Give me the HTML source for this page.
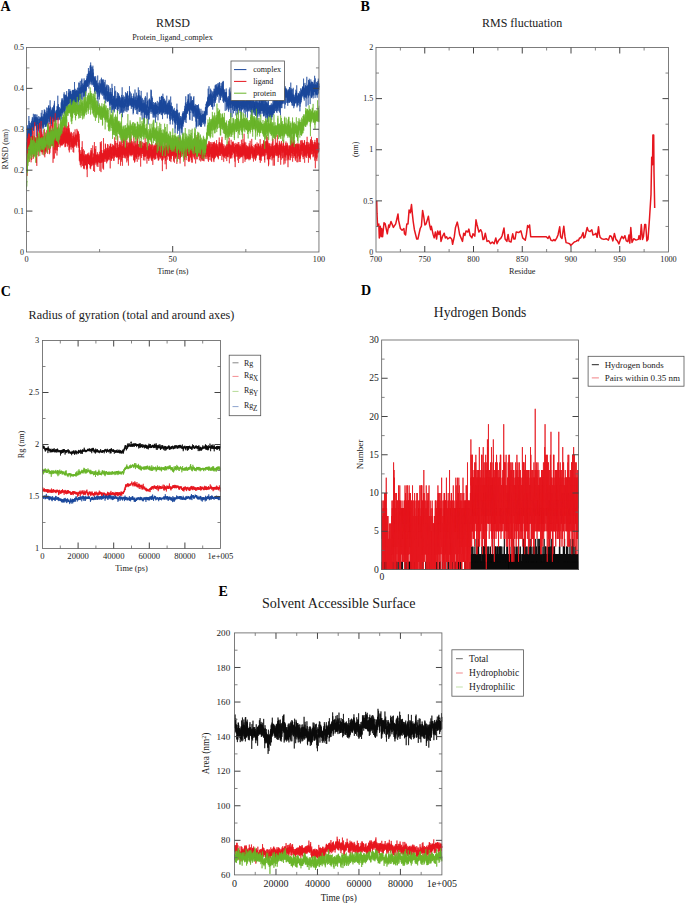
<!DOCTYPE html><html><head><meta charset="utf-8"><style>html,body{margin:0;padding:0;background:#fff;}svg{display:block;}text{font-family:"Liberation Serif",serif;}</style></head><body>
<svg width="685" height="904" viewBox="0 0 685 904">
<rect width="685" height="904" fill="#fff"/>
<path transform="translate(26.450 0) scale(0.04876 0.1)" d="M0 1554l1-28 1-73 1 77 1-2 1-101 1 73 1-80 1 8 1 17 1-9 1 75 1 53 1-150 1-16 1 4 1-24 1 11 1 31 1-68 1 70 1-86 1-83 1 84 1 100 1-28 1-71 1 41 1-4 1-56 1 40 1-84 1 139 1-130 1 8 1-13 1 48 1-37 1 52 1-23 1 18 1-3 1-4 1 58 1-98 1 12 1 11 1 38 1-44 1 32 1-179 1 85 1 66 1 24 1-125 1 154 1-71 1-12 1 20 1-52 1 43 1 7 1 0 1 42 1 8 1 49 1-71 1-31 1 51 1-11 1-2 1-104 1 97 1 19 1-35 1-5 1 23 1 39 1 30 1-92 1-28 1 70 1-42 1-4 1 2 1-9 1-26 1 102 1-73 1 15 1-87 1 50 1 19 1-37 1 112 1-65 1 28 1-98 1 70 1 31 1 11 1-49 1-42 1 111 1-156 1 26 1 44 1 35 1-38 1 21 1-28 1-29 1 0 1-21 1 120 1-100 1 39 1-85 1 10 1 13 1-45 1 69 1 19 1-11 1-17 1-3 1 32 1-31 1 49 1-13 1-92 1 42 1 14 1 19 1-13 1 13 1-19 1 27 1 4 1 26 1-50 1 25 1-125 1 94 1 73 1-53 1 57 1-25 1-18 1 15 1-72 1 22 1 29 1 2 1 6 1-60 1 25 1 21 1-7 1-38 1 50 1-10 1-35 1-18 1-15 1 31 1-44 1-20 1 43 1 66 1-29 1-7 1 16 1-65 1 89 1-121 1 103 1-12 1 0 1-36 1 43 1-60 1 31 1 8 1 10 1-7 1-38 1 75 1-88 1 41 1 34 1-50 1 24 1-72 1 87 1-32 1 27 1-12 1-10 1 2 1-20 1 44 1-9 1 50 1-73 1 164 1-113 1-37 1 85 1-129 1 74 1-27 1 15 1-3 1-42 1 53 1-94 1 66 1 29 1-18 1-45 1 9 1 28 1-1 1 20 1-30 1 22 1-16 1-12 1 17 1 22 1-63 1 61 1-21 1 34 1 17 1 21 1-96 1 131 1-98 1 90 1-74 1-10 1 33 1-4 1-2 1 11 1 20 1-50 1 61 1-36 1-34 1 46 1-114 1 55 1 32 1 21 1-6 1-8 1-18 1-40 1 5 1-5 1 8 1-16 1 20 1-18 1 34 1 29 1-44 1 55 1-22 1 37 1 7 1-70 1-46 1 59 1 26 1 19 1-58 1-29 1 6 1 2 1 46 1 46 1-100 1 37 1 66 1-101 1 55 1 37 1-25 1-50 1 23 1-49 1 83 1-94 1 87 1-32 1-26 1-2 1-10 1 70 1-128 1 33 1 76 1 12 1-40 1 10 1-5 1-3 1-45 1 11 1 179 1-67 1-123 1 46 1 28 1-20 1-20 1-99 1 114 1-5 1-44 1-2 1 33 1-1 1 6 1-16 1 64 1-33 1 36 1-65 1 13 1 14 1 54 1-82 1 10 1 72 1 11 1-73 1-36 1 118 1-98 1 24 1 23 1-61 1 69 1 14 1-80 1 53 1-19 1 32 1-57 1-51 1 74 1 8 1-55 1 19 1 88 1-70 1-6 1-51 1 12 1 36 1-59 1-39 1 141 1-86 1-35 1 132 1-55 1-51 1-18 1 71 1 19 1-114 1 126 1-108 1 59 1 17 1-21 1-19 1 88 1-59 1 16 1 22 1-2 1-29 1 18 1 59 1-95 1-10 1-7 1 6 1 75 1-93 1 127 1-145 1 85 1 40 1 17 1-74 1 62 1-46 1 18 1-33 1-29 1 17 1 16 1-6 1-61 1 104 1-35 1 8 1-14 1 50 1-4 1-33 1-132 1 124 1 3 1-45 1-12 1-35 1 71 1-98 1 113 1 20 1 41 1-10 1-51 1 1 1-8 1-51 1 35 1 45 1-72 1 59 1 21 1-80 1 57 1 91 1-132 1-16 1 45 1-2 1-5 1-13 1-43 1 34 1 8 1-110 1 114 1-95 1 27 1 48 1-9 1 15 1-107 1 73 1 20 1-31 1 63 1-29 1 64 1-79 1 56 1-53 1-55 1 84 1-29 1 75 1-74 1-49 1 81 1 52 1-61 1-9 1 89 1-100 1-27 1 62 1 11 1-70 1-113 1 130 1 34 1-3 1-23 1 37 1-109 1-2 1 102 1-21 1 48 1-60 1 37 1-46 1 55 1-17 1-19 1 5 1 23 1-35 1 54 1-26 1-9 1 16 1 21 1 41 1-131 1 91 1-23 1-54 1 73 1-17 1 87 1-161 1 61 1 14 1 66 1-90 1 25 1-91 1 64 1 39 1-42 1 23 1 11 1 5 1-114 1 66 1-7 1 22 1-17 1-16 1 28 1 19 1-83 1 38 1 37 1 6 1 21 1-77 1 21 1 50 1-17 1-47 1 12 1-44 1 67 1 19 1 42 1-87 1-5 1 45 1-110 1 51 1 99 1-112 1 84 1-64 1 81 1-42 1 69 1-90 1 13 1-84 1 97 1-20 1-102 1 3 1 74 1-103 1 33 1 77 1 16 1 5 1 26 1 47 1-56 1-11 1 38 1-20 1 22 1 6 1-34 1 12 1-3 1 33 1-2 1-74 1 122 1-101 1 2 1 14 1-14 1 27 1 11 1 40 1-49 1-21 1-49 1 36 1-8 1 33 1 34 1-56 1 2 1-27 1-8 1 87 1 0 1-97 1 75 1-57 1 57 1-36 1 7 1 1 1 26 1-44 1-31 1 29 1 33 1 34 1-51 1-83 1 120 1-88 1 23 1 46 1-57 1 39 1-77 1 9 1 63 1-59 1 36 1-13 1 91 1-25 1-213 1 241 1-33 1 2 1-102 1 81 1-53 1 29 1 81 1-147 1 112 1-66 1-61 1 107 1-64 1 18 1-21 1 40 1-4 1-35 1-3 1 24 1 40 1-37 1 16 1 13 1 40 1-42 1 28 1 12 1-11 1-42 1-1 1 69 1 4 1-83 1 27 1-65 1 45 1 19 1 66 1-63 1 7 1-39 1 28 1 10 1 39 1-79 1 61 1 7 1-63 1 22 1-34 1 8 1 31 1-41 1 27 1 32 1-42 1 102 1-131 1 72 1-57 1 95 1-28 1 31 1-106 1 76 1-90 1-53 1 88 1 19 1-29 1 26 1-92 1-2 1 73 1 12 1-113 1 83 1-13 1 16 1-23 1 27 1 24 1-13 1-46 1-75 1 134 1-122 1-13 1 48 1 124 1-71 1 31 1-52 1 14 1 54 1-111 1 74 1 35 1-129 1 134 1-63 1 17 1 7 1-22 1-16 1 34 1-15 1 13 1-84 1 96 1 3 1 11 1-15 1-23 1-30 1 2 1-5 1 23 1-21 1 22 1 28 1-32 1-41 1-20 1-62 1 148 1 29 1-196 1 215 1-34 1-34 1 24 1 30 1-24 1 24 1-169 1 96 1 73 1-152 1 44 1 58 1 46 1 4 1-87 1 120 1-117 1 52 1-89 1-20 1-32 1 39 1 52 1 24 1-18 1-81 1 15 1 31 1 26 1 41 1-22 1-112 1 28 1 49 1 39 1-71 1 21 1 85 1-83 1-64 1 62 1-37 1 70 1 2 1 30 1-1 1-16 1-10 1-39 1 13 1-113 1 135 1-73 1 0 1 104 1-60 1-57 1 90 1-48 1-21 1 16 1 5 1-11 1-10 1 32 1-23 1 97 1-87 1 43 1-60 1 44 1-43 1 14 1-28 1 14 1 33 1 9 1-55 1 1 1 22 1 9 1-7 1-16 1 9 1 60 1-107 1-13 1 44 1 68 1-124 1-26 1 44 1 24 1 24 1 24 1-56 1 35 1 11 1-23 1 66 1-20 1-84 1 10 1 16 1 38 1-85 1 113 1-28 1-33 1 46 1-29 1 9 1 26 1 12 1-140 1 78 1 15 1 48 1 3 1-65 1 17 1 8 1-53 1 36 1-70 1 39 1-20 1 47 1 75 1-134 1 24 1 88 1-85 1 9 1-38 1 56 1 29 1 8 1 9 1-49 1 9 1 20 1-34 1 24 1 159 1-165 1-7 1-5 1 4 1 31 1-51 1 16 1-29 1 49 1-21 1-23 1 19 1 39 1 17 1 101 1-89 1-40 1 30 1-67 1-46 1 67 1 77 1 119 1-271 1 53 1 66 1-88 1 46 1 29 1-71 1 26 1-16 1 108 1-63 1 20 1-8 1-17 1-82 1 72 1 29 1-58 1 73 1 4 1 35 1-157 1 59 1-36 1 40 1 20 1-33 1 5 1-53 1 73 1 54 1 58 1-61 1-28 1 9 1 2 1-10 1-22 1-85 1 69 1 32 1 36 1-114 1-95 1 151 1-38 1 89 1-4 1-62 1-27 1 59 1-75 1 101 1-100 1 93 1-33 1 47 1 8 1-79 1 51 1-18 1-19 1 30 1-80 1 57 1-46 1 56 1-20 1 99 1-172 1 39 1 115 1-127 1 8 1-5 1-18 1 65 1-51 1 73 1-19 1-23 1 43 1-13 1 41 1-53 1 35 1-38 1 74 1-70 1-60 1 83 1-1 1-79 1 0 1 52 1 31 1-11 1-70 1 100 1-32 1 6 1-49 1 52 1-17 1 5 1-7 1-8 1-21 1 35 1-6 1 18 1-7 1-100 1 143 1-144 1 140 1-61 1 120 1-168 1 8 1 43 1-22 1 68 1-76 1 10 1 23 1-27 1-13 1 51 1-2 1-33 1-3 1-110 1 150 1-48 1 27 1 2 1-60 1-67 1 113 1-29 1 89 1-78 1 45 1-49 1-8 1 0 1-2 1-29 1 46 1-14 1 14 1-8 1 83 1-125 1 43 1-21 1 3 1 85 1-85 1 10 1-103 1 85 1 12 1-7 1 26 1 14 1-51 1-21 1 105 1-66 1-10 1 28 1-27 1-8 1 18 1 3 1 18 1-31 1-47 1 26 1 0 1 41 1 8 1-55 1 20 1 35 1-41 1 47 1-134 1 105 1 42 1 49 1-165 1-43 1 6 1 127 1-16 1 100 1-74 1-19 1 6 1-32 1 21 1 22 1-39 1-2 1 4 1-38 1-10 1 68 1-17 1-24 1 20 1 14 1 15 1-86 1 45 1-13 1 18 1-2 1 20 1 16 1 10 1-55 1 37 1 10 1-21 1-48 1 125 1-74 1-6 1-12 1-18 1 44 1 53 1-111 1 71 1-35 1-101 1 171 1-84 1 56 1-104 1 68 1-27 1 3 1 60 1-60 1-51 1 36 1 30 1-60 1-7 1 159 1-113 1-21 1 75 1-110 1 78 1-34 1 6 1 38 1-84 1 84 1 45 1-89 1-47 1 110 1-83 1 33 1 28 1 10 1 59 1-89 1-32 1 87 1-112 1 46 1-13 1 38 1-1 1-78 1 19 1-14 1 96 1-55 1-29 1 35 1-23 1-18 1-12 1-13 1 53 1-23 1-38 1 39 1-2 1 1 1-63 1 95 1-45 1 37 1 18 1-21 1-69 1-33 1 82 1-7 1 50 1-72 1 37 1-63 1 22 1 79 1-38 1-51 1 35 1 21 1-10 1-29 1 3 1 0 1 62 1-102 1 26 1-55 1 34 1-84 1 134 1-47 1 41 1-4 1-68 1 68 1 14 1-84 1 59 1 92 1-95 1-75 1 74 1-30 1-50 1 83 1 41 1-84 1-19 1 28 1 60 1-8 1 13 1-91 1 77 1-22 1 18 1 42 1-76 1 26 1-33 1-8 1-9 1 74 1-65 1 54 1-153 1 130 1-130 1 79 1 18 1-48 1 34 1-90 1 22 1-47 1 138 1-57 1 85 1-64 1-32 1-39 1 85 1 101 1-132 1-41 1 152 1-48 1-19 1 2 1 40 1-40 1 11 1 57 1-65 1 45 1-25 1 21 1-5 1-26 1-75 1 116 1-72 1 76 1 39 1-42 1-67 1-72 1 174 1-49 1 0 1 4 1-60 1 56 1-65 1 48 1-14 1-2 1 49 1-19 1-137 1 73 1 69 1-15 1-92 1 53 1 24 1-12 1-31 1 107 1-35 1 15 1-53 1 89 1-40 1 24 1-57 1 93 1-60 1-37 1 37 1-29 1 57 1-35 1-25 1 47 1-51 1 21 1 44 1-8 1 40 1-55 1-6 1 19 1 94 1-29 1-19 1-26 1 41 1 14 1-141 1 96 1-29 1-36 1 148 1-50 1-107 1 77 1-52 1 25 1-11 1 52 1-55 1 1 1-28 1 0 1 112 1-41 1-101 1 141 1-51 1 36 1-73 1 66 1-13 1-32 1 1 1-32 1 91 1-60 1 52 1-62 1 44 1-1 1-9 1-55 1 97 1-29 1 49 1-29 1-17 1 37 1-32 1-29 1 56 1 32 1-9 1-60 1 16 1-18 1 28 1-14 1 106 1-75 1-54 1 55 1 1 1-25 1 1 1-138 1 157 1-75 1 36 1-41 1 51 1 182 1-209 1 58 1-13 1-48 1 17 1 56 1-43 1-21 1 23 1-1 1 36 1-12 1-9 1-39 1 5 1 19 1 43 1 20 1 22 1-96 1-48 1 102 1 6 1-26 1-4 1 51 1-51 1 56 1 36 1-45 1-21 1 26 1-38 1 13 1-23 1-104 1 38 1 55 1-26 1-3 1 23 1-2 1-13 1-42 1 102 1-91 1 16 1 48 1 11 1-41 1 25 1-48 1 69 1-87 1 71 1-43 1 5 1 26 1-6 1 10 1-17 1 17 1-18 1-91 1 72 1 48 1-4 1 39 1-16 1-102 1-51 1 127 1-9 1-8 1 5 1-73 1-19 1 21 1 105 1-53 1 26 1-61 1 32 1 10 1-26 1 83 1-77 1 19 1 52 1-22 1 48 1-94 1 53 1-74 1 47 1-32 1 35 1-93 1 53 1-39 1 59 1-78 1 82 1-81 1 117 1-36 1-5 1-30 1 49 1 14 1 30 1-101 1 76 1-10 1 22 1-43 1 75 1-52 1-40 1-1 1-3 1 54 1 74 1-92 1 23 1 0 1 79 1-101 1 50 1-35 1 37 1-55 1-69 1 90 1 37 1-84 1-20 1 101 1 8 1-22 1-27 1 12 1 19 1-40 1-6 1 5 1-96 1 197 1-57 1 41 1 13 1-16 1-106 1 55 1 5 1 25 1 77 1-149 1 37 1 26 1-34 1 48 1 5 1-6 1-28 1-15 1 78 1-70 1 23 1 6 1 6 1-101 1 89 1-31 1 8 1-49 1 17 1 77 1 37 1-61 1 7 1-39 1-30 1-40 1 56 1-49 1 88 1-20 1 87 1 9 1-44 1-61 1 39 1-22 1 25 1 22 1 20 1-1 1-28 1-10 1-29 1 94 1-53 1-18 1 62 1-113 1 94 1-55 1 71 1-66 1-21 1 10 1-21 1-58 1 76 1 59 1-14 1 37 1-65 1-57 1 69 1 4 1 35 1-130 1 87 1 4 1-12 1 36 1-46 1 14 1 26 1 5 1 47 1-4 1-40 1 9 1 33 1-104 1 73 1-26 1 26 1 53 1-46 1-9 1 108 1-119 1 77 1-24 1-29 1-12 1-44 1 89 1-55 1-50 1-51 1 106 1-35 1 37 1-71 1 111 1-92 1 50 1 31 1-23 1-3 1-13 1-12 1 34 1-80 1 66 1 60 1-67 1 1 1-38 1 46 1 32 1-52 1 55 1-38 1 50 1-36 1 128 1-57 1-42 1-92 1 78 1-178 1 210 1-58 1 23 1 49 1-1 1 36 1-112 1-105 1 167 1-14 1-6 1-1 1-32 1 8 1 86 1-68 1 26 1-48 1 39 1-49 1 115 1-63 1-2 1-40 1 23 1-41 1-8 1-13 1 4 1 48 1-18 1 6 1 37 1-50 1 98 1-125 1 31 1 76 1-5 1-44 1-40 1 88 1-14 1-36 1 93 1-97 1 113 1-122 1 36 1-1 1-69 1-12 1 69 1 23 1-86 1-101 1 166 1-112 1 66 1 15 1 33 1-48 1 30 1 6 1 67 1-84 1 0 1 87 1-19 1-13 1-13 1 49 1-86 1-21 1-34 1-43 1 31 1 12 1 7 1 12 1 64 1-20 1 22 1-38 1 42 1 25 1-71 1 74 1-68 1 9 1 43 1-7 1-22 1 30 1-18 1-45 1 73 1-42 1-39 1 62 1-50 1-6 1-1 1 98 1 15 1-137 1 25 1 7 1 89 1-113 1-48 1 48 1 160 1-40 1-64 1 27 1-17 1 5 1-1 1-55 1 32 1 94 1-35 1-80 1 17 1-82 1 87 1 49 1-25 1-7 1-37 1 37 1 30 1 6 1 8 1 12 1-154 1 105 1 1 1 12 1-88 1 52 1-44 1 61 1-60 1-20 1 10 1 16 1 14 1 63 1-1 1-56 1-42 1 99 1-51 1 21 1-20 1 11 1 16 1 106 1-174 1 104 1-69 1 41 1-41 1 72 1-41 1-2 1-24 1 0 1 24 1-3 1-9 1 17 1-13 1-4 1 72 1 37 1-153 1 82 1 13 1-15 1-19 1-19 1 11 1 23 1-5 1-17 1-47 1 144 1-46 1-58 1-11 1-19 1 21 1-65 1 72 1 92 1-104 1 49 1 20 1-70 1 34 1 22 1-62 1 125 1-120 1-18 1-116 1 193 1-42 1 16 1-31 1 29 1 134 1-171 1-20 1-11 1 93 1-85 1 96 1-55 1 1 1 10 1-50 1 52 1-30 1 28 1 4 1-27 1-53 1-1 1 76 1 59 1-53 1 5 1-16 1-7 1 2 1 96 1-22 1 34 1-45 1-37 1 15 1-22 1-69 1 116 1-39 1 32 1-52 1 9 1-9 1 34 1-30 1 41 1 7 1-25 1 3 1 50 1-112 1 10 1 13 1-51 1 54 1-29 1 69 1-56 1 52 1-24 1 16 1-16 1 36 1-53 1 4 1 7 1-104 1 77 1 32 1 16 1-52 1 22 1-10 1 107 1-3 1-27 1-41 1-41 1-9 1-11 1 24 1 7 1 83 1-47 1 18 1-34 1-21 1-52 1 76 1-11 1-22 1-71 1 88 1-73 1 47 1-11 1 138 1-153 1 2 1 25 1-57 1 61 1 27 1 21 1-22 1-100 1 58 1-12 1 68 1-128 1 150 1 9 1-30 1-20 1 43 1-7 1-62 1 109 1-89 1 17 1-14 1 86 1-113 1 39 1 4 1 22 1-72 1 42 1 36 1-38 1 44 1-23 1-49 1 0 1 11 1-45 1 74 1-21 1-43 1-18 1 10 1 35 1 58 1-58 1-36 1-17 1 50 1 15 1-148 1 134 1 12 1-98 1 146 1-125 1 45 1 14 1-1 1 23 1 10 1-24 1-2 1-78 1 119 1-35 1 44 1-6 1-34 1-20 1 50 1-13 1 27 1-47 1 0 1 11 1-16 1 63 1-85 1 23 1 24 1 26 1-46 1 45 1-18 1-28 1-15 1 102 1-154 1 95 1 1 1-46 1 78 1-80 1 72 1-10 1-56 1 40 1-29 1-19 1-21 1 43 1-7 1 75 1-67 1 25 1-6 1 47 1-40 1 3 1-8 1-22 1-3 1 24 1-39 1 37 1-32 1 4 1 60 1-76 1 70 1-40 1 8 1-28 1 5 1 151 1-84 1-70 1-2 1 10 1 110 1-85 1 107 1-70 1 19 1-143 1 93 1-70 1 49 1 67 1-53 1 40 1-43 1 26 1-36 1 16 1 16 1 15 1 29 1-21 1-4 1-18 1-27 1 27 1-5 1-39 1 22 1 26 1 3 1-52 1 31 1-53 1 38 1-118 1 139 1 12 1 7 1-41 1 90 1-136 1 112 1-27 1 1 1-12 1-23 1 19 1 17 1-31 1-23 1 5 1 53 1 5 1-28 1 5 1-18 1 10 1 33 1-24 1 57 1-97 1 63 1-69 1-67 1 133 1-7 1-22 1-10 1 70 1-79 1-3 1 131 1-78 1 24 1-86 1 49 1-35 1 43 1-103 1 65 1-40 1 33 1 12 1-2 1-5 1-6 1 80 1-63 1 45 1 1 1-81 1 151 1-150 1 61 1-90 1 35 1 20 1-12 1 50 1-64 1-14 1 59 1-165 1 129 1 30 1 40 1-119 1 48 1-66 1 38 1 53 1-47 1 95 1-66 1-33 1 43 1 97 1-98 1-118 1 65 1 68 1 83 1-73 1-58 1 102 1-65 1 33 1-32 1-33 1-28 1 158 1-81 1 31 1-16 1-19 1-85 1 132 1-116 1 63 1 15 1 33 1 24 1-28 1-77 1-25 1 58 1 11 1-16 1 70 1 20 1-47 1-27 1 60 1-44 1-42 1-1 1-49 1 66 1-9 1 19 1 114 1-245 1 178 1-59 1 69 1-86 1 87 1 13 1-59 1 38 1 7 1-69 1 5 1 98 1-142 1 64 1 16 1-14 1 39 1-36 1 1 1 136 1-99 1-117 1 107 1-50 1 26 1 2 1 9 1-39 1 9 1-3 1 7 1 74 1-66 1 5 1-6 1 32 1-44 1 89 1-49 1-85 1 113 1-38 1-16 1 63 1-15 1-52 1-2 1 26 1-11 1-16 1-11 1 50 1-58 1 91 1-119 1 45 1 94 1 64 1-133 1-5 1 36 1 7 1-85 1 1 1 87 1-27 1-25 1 174 1-170 1 40 1-25 1 62 1-109 1 59 1-115 1 85 1 115 1-94 1-31 1 65 1-36 1 32 1-50 1 3 1 84 1-139 1-50 1 88 1 58 1-54 1 48 1-33 1 33 1 30 1-91 1 74 1-59 1-78 1 111 1 47 1-73 1 13 1 53 1-68 1 79 1-67 1 8 1 65 1-98 1 37 1-18 1 122 1-120 1 52 1 33 1-48 1 73 1-80 1 64 1-29 1 4 1-212 1 107 1-7 1-7 1 51 1-42 1 52 1-5 1-11 1-56 1 58 1-52 1 14 1 123 1-37 1-16 1 18 1 5 1 28 1-22 1-57 1 176 1-106 1-67 1 77 1-11 1-67 1 51 1-47 1 20 1-10 1-17 1 41 1-10 1 47 1-43 1 95 1-203 1 195 1-95 1-13 1-24 1 25 1 6 1-90 1 58 1 43 1-61 1-54 1 116 1 28 1-98 1 29 1-16 1 24 1 9 1-53 1 51 1 5 1-33 1-40 1 88 1-79 1-18 1 32 1 18 1 5 1 12 1-26 1-19 1 38 1 30 1-26 1 55 1-90 1 38 1-18 1 19 1-170 1 148 1 49 1 39 1 6 1-49 1-20 1-21 1 71 1-216 1 189 1-2 1-25 1 24 1-41 1-9 1-14 1 30 1-43 1-49 1 73 1 14 1 29 1-29 1-18 1 3 1 43 1-12 1-14 1 6 1-12 1-68 1 15 1 106 1-25 1 51 1-76 1 0 1 65 1-18 1 13 1-10 1 5 1 71 1-74 1 36 1-71 1 20 1-16 1 77 1-60 1-67 1 82 1-7 1 2 1 15 1-12 1 1 1-3 1-48 1 52 1-59 1 125 1-28 1-37 1 75 1-106 1 58 1-38 1-8 1 52 1-10 1-37 1 55 1-26 1 24 1-112 1 45 1 57 1-81 1 16 1 8 1 82 1-83 1-22 1 34 1 37 1-60 1 24 1-64 1 109 1-63 1 51 1 106 1-201 1 31 1 41 1-3 1 0 1-23 1-1 1 27 1 35 1-68 1 75 1-110 1 130 1 14 1-122 1 25 1 66 1-22 1-69 1 17 1 26 1 13 1-17 1 3 1 3 1 19 1-11 1 13 1-70 1-7 1 98 1-38 1 14 1-56 1 27 1-23 1 9 1-62 1 115 1-16 1 24 1-8 1-34 1 32 1-52 1 39 1 14 1-33 1 21 1 42 1 50 1-88 1-21 1 53 1 4 1-49 1 0 1-31 1-8 1 21 1 15 1-10 1-16 1 20 1-7 1-3 1 7 1-66 1 88 1 15 1-40 1 11 1-61 1-4 1 2 1 54 1-72 1 0 1 53 1 34 1 0 1-136 1 121 1-43 1 90 1-58 1 22 1 41 1-71 1 41 1-64 1 6 1 2 1 55 1-76 1 69 1-36 1 66 1-33 1-98 1 97 1 23 1-64 1 48 1-53 1 16 1-69 1 96 1-75 1 37 1 43 1 12 1-145 1 151 1-13 1-73 1-10 1 45 1 81 1-115 1-23 1 70 1-20 1-22 1-23 1 42 1-99 1 164 1-162 1 134 1-126 1 183 1-188 1 68 1 19 1-1 1 61 1-8 1-11 1-7 1-59 1 42 1-24 1 36 1 111 1-135 1 67 1-61 1 15 1 1 1 39 1-180 1 179 1-49 1 14 1 56 1-71 1-1 1-95 1 51 1 28 1 77 1-46 1 30 1-113 1 53 1 77 1-100 1-37 1 36 1 5 1-28 1 41 1-27 1-10 1 80 1 33 1-41 1-33 1-35 1 13 1 25 1 22 1-1 1-10 1-12 1-61 1 54 1 106 1-84 1 34 1-42 1 26 1-41 1-14 1 25 1 71 1-41 1-71 1 17 1 15 1 61 1 39 1-65 1 1 1-58 1 14 1 88 1-117 1 5 1 84 1-59 1 22 1 78 1-73 1-14 1 56 1 12 1-50 1-4 1-14 1 43 1-26 1 45 1-44 1 1 1-1 1-14 1 84 1-68 1-19 1-92 1 118 1 10 1-37 1 52 1 44 1-91 1 17 1 28 1 44 1-93 1-11 1 146 1-54 1-40 1-32 1-30 1 75 1 2 1-35 1 61 1 5 1-52 1-8 1 43 1 9 1-47 1 31 1-24 1-2 1 61 1-79 1-10 1-34 1 60 1-27 1 3 1 50 1 31 1-51 1-80 1 15 1 8 1 52 1 0 1-37 1-1 1-51 1 9 1 56 1-5 1 3 1 16 1-72 1 79 1 40 1 65 1-164 1 77 1-41 1 58 1 10 1-71 1-4 1 35 1 57 1-55 1 19 1 101 1-143 1 178 1-122 1 9 1-82 1 52 1 18 1 18 1-33 1-24 1-58 1-57 1 153 1-14 1 6 1-50 1 138 1 1 1-53 1 13 1-29 1 23 1-34 1-93 1 85 1 0 1 12 1 0 1-2 1-10 1-5 1-44 1 16 1 17 1 29 1 36 1 32 1-64 1 49 1-88 1-27 1 38 1 9 1 25 1-67 1 37 1 25 1-9 1 59 1-42 1 74 1-62 1 96 1-123 1 8 1-1 1 25 1-53 1 1 1 19 1 34 1-21 1-12 1-13 1 41 1 52 1 3 1-68 1-3 1-36 1 38 1-41 1 43 1 42 1-27 1-7 1 20 1 4 1-65 1 32 1 8 1 14 1 19 1-19 1-80 1 142 1-21 1-56 1 33 1-68 1 56 1-14 1-32 1 78 1 28 1-35 1-27 1 21 1-34 1 66 1-55 1 170 1-164 1-5 1 71 1-31 1 83 1-100 1 46 1-74 1 82 1-127 1 6 1-10 1 92 1-22 1 51 1-54 1-54 1 71 1-67 1 12 1 37 1-67 1 71 1 13 1 12 1-46 1 53 1-39 1-5 1 13 1-57 1-29 1 65 1 32 1-62 1 121 1-33 1-179 1 90 1-5 1 49 1-9 1 74 1-59 1 46 1 0 1-42 1 156 1-199 1 82 1-75 1-46 1 199 1-99 1 9 1-20 1-33 1 136 1-26 1-29 1-26 1-46 1 59 1 14 1-58 1-52 1 124 1-29 1-5 1-20 1 27 1-26 1-27 1 32 1-26 1 133 1-105 1-8 1-62 1 111 1 30 1-76 1-13 1 1 1 34 1 73 1-26 1-75 1 57 1-126 1 69 1 18 1 0 1 26 1-38 1 187 1-149 1-4 1 57 1-47 1-2 1 1 1 11 1 13 1 12 1-61 1 3 1-5 1 31 1-63 1 10 1-34 1 60 1-36 1 29 1 32 1-20 1-11 1 17 1-54 1 11 1 70 1-34 1 23 1-15 1-8 1 59 1 45 1-66 1 20 1-48 1-12 1 54 1-111 1 130 1-75 1-22 1 88 1-51 1 3 1-14 1 32 1-19 1 0 1-33 1 142 1-98 1-93 1-14 1 78 1 33 1 5 1-69 1 5 1 38 1-27 1 5 1-19 1-58 1 112 1-61 1-59 1 110 1 20 1 13 1-20 1-127 1-10 1 89 1 20 1 17 1-103 1-4 1 24 1-5 1 14 1 16 1-12 1-23 1 52 1-1 1 11 1-45 1 15 1 13 1-42 1 3 1 16 1-18 1 6 1-7 1 53 1-112 1 66 1-27 1 38 1-31 1 50 1-61 1-64 1 96 1 17 1 26 1 24 1-127 1 93 1-39 1 20 1-7 1 38 1-30 1-142 1 110 1-31 1 5 1-29 1-1 1 49 1-167 1 152 1 35 1-80 1 75 1 33 1-12 1 64 1-159 1 52 1-31 1 77 1-39 1-54 1 62 1-25 1 11 1-24 1 24 1-44 1-38 1 71 1 23 1-113 1 45 1-26 1 75 1-74 1 17 1 50 1 15 1-22 1 20 1-48 1 63 1-54 1-14 1 40 1-98 1 22 1 23 1 8 1 23 1-38 1 22 1 38 1-116 1 88 1 3 1-141 1 116 1-28 1 20 1-24 1-83 1 117 1 39 1-113 1 46 1 27 1-10 1-26 1 73 1-82 1 70 1-49 1 77 1-81 1 60 1-23 1 42 1-10 1 21 1 29 1-100 1-17 1 59 1 32 1 0 1 68 1-112 1-23 1 22 1-24 1 52 1-176 1 268 1-85 1-2 1 16 1-83 1-14 1 34 1 30 1-8 1 1 1-7 1-19 1-30 1 34 1-12 1-55 1-19 1-19 1 130 1-40 1-35 1 43 1 26 1-16 1 30 1-4 1-28 1 1 1-104 1 108 1-4 1-58 1 26 1 41 1 25 1-37 1 26 1-10 1-29 1 9 1 41 1-31 1-38 1 91 1-10 1-16 1-97 1 205 1-156 1 59 1-6 1-85 1-20 1 87 1-29 1 35 1-7 1-8 1 26 1-9 1-51 1 55 1-9 1 19 1 20 1-81 1 91 1-131 1 77 1-50 1 36 1-31 1-65 1 191 1-53 1-38 1 51 1-18 1-73 1 29 1-77 1-25 1 106 1-11 1 32 1-13 1-15 1-4 1 39 1 35 1 34 1-99 1 10 1 27 1-22 1 1 1 0 1-24 1 26 1 0 1 11 1 19 1-12 1 22 1 51 1-75 1 4 1-43 1 36 1 57 1-52 1 17 1-19 1 23 1-40 1 14 1-9 1-46 1 65 1 18 1-2 1 4 1 89 1-98 1-61 1 81 1 147 1-163 1 60 1-25 1-5 1-37 1 30 1-95 1 110 1-76 1 5 1 169 1-66 1-100 1 178 1-66 1 58 1-102 1-4 1-27 1 46 1-29 1-42 1 22 1-16 1 25 1-4 1 10 1 9 1-100 1 125 1-14 1-60 1 29 1-73 1 76 1 10 1 47 1-90 1 37 1 24 1-11 1 32 1 1 1 6 1-12 1-45 1-44 1 59 1-36 1-68 1 105 1-24 1 140 1-18 1-171 1 22 1 55 1-52 1 11 1 35 1-24 1 85 1 16 1 27 1-61 1-80 1-22 1 57 1-5 1-9 1 18 1 103 1-90 1 44 1-20 1-36 1-40 1 53 1 11 1 31 1-20 1 5 1-10 1-17 1 85 1-83 1 39 1 30 1 27 1-120 1 129 1-1 1-90 1-10 1-2 1-38 1 19 1 61 1-120 1 81 1 18 1-35 1 28 1 81 1-28 1 16 1-38 1-25 1 1 1 83 1-100 1 1 1-2 1 13 1 25 1-54 1 14 1 84 1-51 1 0 1-40 1-10 1 59 1-85 1-17 1 76 1 19 1 12 1-60 1 73 1-87 1 76 1-13 1 6 1-50 1-2 1 64 1-7 1 7 1-41 1 3 1 16 1-30 1-19 1 64 1-75 1 24 1 43 1 25 1 11 1-51 1-33 1 31 1 22 1-74 1 72 1-6 1 13 1-14 1-53 1 35 1-76 1 121 1-15 1-70 1 6 1 6 1 55 1-62 1 10 1 18 1 22 1-20 1 13 1-74 1 29 1 75 1 43 1-25 1-75 1-55 1 45 1-32 1 119 1-79 1-28 1 93 1-74 1-13 1 5 1-71 1 68 1-71 1 65 1 60 1-46 1-28 1-13 1 24 1-3 1-38 1-11 1-42 1 18 1 84 1-26 1-42 1-2 1 66 1 16 1-125 1 19 1 29 1-15 1-19 1 89 1-9 1-89 1 62 1-54 1-26 1 31 1 18 1-48 1 31 1-5 1 108 1-134 1 40 1-14 1 34 1-30 1 21 1-33 1 9 1-40 1 0 1 73 1-109 1 66 1-26 1 20 1-14 1-34 1 16 1 54 1-74 1-89 1 131 1 46 1-8 1-17 1 25 1-83 1 81 1-52 1 40 1-35 1-26 1-30 1 69 1-75 1-11 1 51 1-131 1 128 1 27 1 32 1-20 1-70 1 38 1 48 1-6 1 21 1-72 1 39 1 8 1-59 1 4 1 16 1-32 1 36 1-53 1 27 1-5 1 3 1-25 1 21 1 2 1 75 1-107 1 37 1 76 1-47 1 11 1-79 1 40 1-89 1 66 1 25 1-41 1 14 1 57 1 14 1-36 1 33 1-118 1 123 1 25 1-28 1 8 1-21 1-17 1 31 1 44 1-6 1-115 1 60 1 19 1-16 1 59 1-49 1-32 1-1 1-30 1 52 1-97 1 107 1-31 1 2 1 8 1 13 1-33 1-9 1 96 1-139 1 79 1 9 1-4 1-41 1 129 1-133 1 108 1-80 1 41 1-32 1-33 1 54 1 7 1-13 1-18 1 6 1-41 1-7 1 21 1 0 1 6 1-39 1 35 1-21 1 13 1-55 1-2 1 33 1-6 1 30 1-5 1-34 1-45 1 15 1 50 1-27 1 37 1-70 1 27 1 146 1-152 1 88 1-7 1-45 1 52 1 10 1 2 1-103 1 85 1 12 1-25 1-55 1 90 1-54 1-107 1 85 1 90 1-40 1-17 1-58 1-68 1 76 1 86 1-71 1 0 1-29 1 7 1 27 1-34 1 70 1-59 1 38 1 39 1-53 1 18 1-106 1 94 1-26 1-22 1-26 1 2 1 16 1 11 1-63 1 24 1 48 1-7 1 44 1-38 1 25 1-24 1 34 1-21 1 24 1-8 1-45 1 50 1-82 1 22 1 21 1 47 1-78 1 72 1 19 1-38 1 14 1-61 1 38 1-4 1-23 1 47 1-84 1-20 1-2 1 62 1-67 1 77 1 33 1-31 1 19 1 9 1-68 1 74 1-90 1 41 1 9 1-27 1 39 1 6 1 2 1-24 1 29 1-34 1-34 1 166 1-85 1-59 1 4 1 37 1-46 1 72 1-130 1 68 1 6 1-22 1-21 1 18 1-38 1 131 1-50 1 28 1-43 1 14 1-26 1 1 1 38 1 18 1-47 1 38 1 69 1-86 1-36 1 36 1 83 1-47 1-52 1 46 1-22 1-32 1 5 1-35 1 67 1 19 1 11 1-43 1-4 1 5 1-20 1 22 1-91 1 68 1 17 1-24 1 60 1-48 1 9 1 49 1-26 1-41 1 7 1 11 1 66 1-35 1-52 1 17 1-44 1-1 1 13 1 58 1-87 1 62 1 66 1-20 1-7 1-29 1-97 1 106 1-23 1 9 1-26 1 43 1 44 1 40 1-101 1-11 1-17 1 64 1-76 1-63 1 111 1-22 1 10 1 28 1-120 1 124 1-57 1 114 1-19 1 51 1-97 1-25 1 113 1-120 1 57 1-18 1-3 1 15 1 36 1 13 1-74 1 61 1-25 1-35 1 10 1 45 1 4 1-57 1 11 1-14 1 52 1-85 1 115 1 0 1-59 1-16 1 73 1-3 1-30 1 41 1-9 1 104 1-187 1 59 1-4 1 30 1-9 1 19 1-63 1 42 1-72 1 44 1 10 1 34 1-51 1 31 1-15 1-51 1 52 1 22 1-6 1 4 1-113 1 80 1 52 1-63 1 53 1-85 1 31 1 62 1-26 1-30 1 144 1-138 1 102 1-31 1-8 1-14 1 26 1 8 1-6 1-64 1 54 1-5 1 60 1-52 1-3 1 8 1-35 1 34 1-13 1 37 1-88 1 5 1 45 1-3 1 7 1-27 1 2 1 56 1-44 1 36 1-41 1 15 1-2 1 21 1-46 1 76 1-29 1-85 1 120 1 36 1-37 1-43 1-25 1-19 1 107 1-109 1 8 1 6 1-3 1 38 1-22 1-43 1-81 1 141 1-54 1 66 1-39 1 31 1-7 1 9 1-6 1-67 1 16 1 102 1-58 1-153 1 92 1 98 1-129 1 96 1-7 1 28 1-54 1 45 1 36 1-64 1-21 1 6 1-43 1 76 1-107 1 249 1-93 1-71 1-9 1-64 1 44 1-69 1 55 1 48 1-19 1-9 1 30 1 60 1-94 1 42 1 18 1-69 1 12 1-43 1 72 1 21 1-81 1 62 1 0 1-80 1 96 1-52 1-2 1 190 1-223 1 34 1 33 1 17 1-41 1 37 1 47 1-72 1-123 1 148 1 70 1-110 1-65 1-13 1 63 1 14 1-26 1 54 1-11 1 40 1-79 1 9 1 83 1-23 1 3 1 22 1-94 1 54 1 46 1 29 1 39 1-118 1-22 1-4 1 46 1-2 1-82 1-24 1 94 1 23 1-21 1 41 1-47 1-47 1 18 1 28 1 25 1 30 1-89 1-36 1 164 1-18 1-73 1 43 1 23 1 2 1 23 1-67 1-33 1-15 1 16 1-6 1 9 1 12 1 69 1-54 1-56 1 40 1-71 1 40 1 17 1 32 1-16 1-36 1 81 1-37 1 30 1-8 1-37 1 45 1 89 1-110 1 34 1-66 1-1 1 8 1-5 1-39 1 64 1 17 1-49 1 79 1-95 1 76 1-5 1-48 1-4 1 100 1-79 1 25 1 29 1-58 1-54 1 115 1-103 1 21 1 48 1 17 1-62 1 67 1-25 1 37 1 56 1-48 1-66 1 7 1-35 1 80 1 19 1-90 1 69 1-14 1-36 1 32 1-57 1 64 1-44 1-25 1-32 1 100 1-57 1 18 1-60 1 79 1-108 1 72 1-12 1 20 1-43 1-58 1 161 1-57 1 14 1 31 1-49 1 42 1 45 1-29 1-56 1-54 1 76 1 38 1-56 1 72 1-22 1-68 1-14 1 53 1 13 1 46 1-75 1 6 1 58 1-10 1 45 1-81 1 35 1-13 1-3 1 9 1-73 1-2 1 56 1-25 1-25 1-16 1 52 1-18 1 10 1-1 1 2 1 21 1-25 1-31 1-74 1 53 1 78 1 52 1-42 1-18 1 6 1-30 1 181 1-170 1 32 1-49 1-13 1-14 1 18 1 82 1-67 1 39 1-105 1 52 1 9 1 31 1-47 1 2 1 48 1-7 1-13 1-29 1 90 1-65 1 8 1-8 1 9 1 6 1-10 1 53 1-90 1 63 1-45 1 10 1 17 1 23 1-18 1-96 1 68 1 10 1 56 1-39 1-62 1 75 1-11 1-34 1 27 1-109 1 104 1 3 1 40 1-33 1-23 1 25 1 67 1 11 1-115 1 46 1-5 1-49 1 48 1-38 1 53 1-26 1-58 1-14 1 124 1 0 1 1 1-77 1 38 1-3 1-35 1 29 1 56 1-16 1-49 1 10 1-24 1 7 1 38 1-5 1 104 1-90 1-33 1-30 1 17 1 2 1-11 1-1 1-13 1 83 1-48 1-21 1-46 1 25 1 42 1 21 1-49 1-3 1 57 1-74 1 33 1 19 1-40 1 14 1 14 1-1 1 81 1-130 1 77 1 20 1-16 1-62 1 20 1 11 1-34 1 50 1-5 1-66 1 116 1-76 1-68 1-27 1 93 1 158 1-82 1-37 1-69 1-1 1 54 1-17 1 32 1 24 1 26 1-129 1 15 1-28 1 63 1-32 1-41 1-16 1 96 1-34 1 104 1-111 1 45 1-21 1-75 1 91 1 2 1-4 1 14 1-38 1 20 1 88 1-66 1-8 1-53 1 44 1 11 1 42 1-68 1-23 1 91 1 20 1-96 1 2 1-27 1 27 1 70 1-84 1 44 1 15 1-16 1-35 1-13 1 9 1-3 1 59 1-17 1-8 1 50 1-11 1 27 1-36 1-68 1 49 1-15 1-14 1-22 1 9 1 120 1-144 1 28 1 24 1 32 1 7 1 9 1-21 1 9 1 6 1-52 1 85 1 94 1-180 1-61 1-2 1 59 1 19 1 76 1-46 1-59 1 32 1 46 1-26 1 70 1-77 1 51 1-71 1 137 1-36 1-92 1 29 1-1 1-91 1 41 1 5 1 31 1-10 1 15 1-48 1 66 1-11 1-39 1 45 1-10 1-4 1-2 1 24 1-17 1-18 1 38 1-80 1 31 1 30 1-8 1 2 1-66 1 132 1-83 1 39 1-69 1 24 1 70 1-53 1 6 1 18 1-52 1 60 1 13 1 37 1-124 1 97 1-19 1 61 1-47 1-43 1-17 1 2 1-2 1-1 1 7 1 49 1-76 1 72 1-61 1 1 1 69 1-20 1-64 1 53 1 19 1-36 1 13 1-24 1 26 1-59 1 77 1 49 1 18 1-92 1-1 1 15 1 66 1 19 1-47 1-79 1 31 1 19 1-36 1-31 1 55 1-19 1-102 1 121 1-102 1 121 1 2 1 4 1-77 1 43 1 3 1 58 1 0 1-81 1 60 1-30 1 71 1-48 1-52 1-11 1 7 1 25 1-42 1 178 1-103 1-128 1 87 1-3 1-24 1 47 1 34 1-54 1 13 1-44 1 32 1 3 1 47 1 59 1-92 1 4 1 2 1 25 1-81 1-58 1 87 1-6 1-19 1 12 1 13 1 20 1 3 1-44 1 21 1 53 1 32 1-25 1-18 1-31 1-18 1-20 1 14 1 54 1 35 1-51 1-45 1-135 1 254 1-107 1 62 1-89 1 45 1 67 1-8 1-167 1 66 1-22 1 8 1 91 1-37 1 22 1 31 1-73 1-34 1 160 1-50 1-39 1 14 1-54 1 8 1 31 1-40 1 18 1 38 1 40 1-34 1-31 1-40 1 20 1-15 1 35 1-2 1-15 1 90 1-146 1 109 1-55 1 59 1-122 1 50 1 20 1 5 1 6 1 41 1-211 1 99 1 93 1-6 1-3 1 14 1-31 1-39 1 48 1 27 1-52 1-28 1 88 1 1 1-136 1 112 1-67 1 75 1-25 1 54 1 14 1-2 1-136 1 12 1 50 1 50 1-73 1 46 1-23 1-21 1-53 1 89 1 4 1-24 1-84 1 134 1-7 1 0 1-18 1 80 1-114 1 29 1 28 1-63 1 82 1 22 1 21 1-184 1 93 1 40 1-38 1 16 1-19 1 88 1-58 1 24 1-8 1-53 1 57 1-22 1-54 1 18 1 5 1-7 1-99 1 73 1 11 1 53 1 50 1-101 1-52 1 82 1-36 1 6 1-26 1 84 1 0 1-65 1 37 1-8 1 35 1 25 1 51 1-125 1-94 1 122 1 21 1-62 1 64 1 28 1-46 1-6 1-87 1-17 1 36 1 57 1-54 1 42 1 5 1-30 1 113 1-121 1 15 1-14 1 26 1 35 1 22 1-70 1 24 1 102 1-89 1 105 1-137 1 16 1-18 1 22 1 5 1 14 1-48 1 75 1 108 1-122 1 44 1-32 1-29 1-58 1 58 1-7 1 22 1 17 1-66 1 70 1-110 1 152 1-60 1 72 1-81 1-19 1 20 1 16 1-98 1 11 1 78 1 19 1 6 1 1 1-41 1 51 1-64 1 41 1 11 1-3 1-49 1 50 1 4 1-36 1 27 1 22 1-41 1 76 1-50 1 7 1-78 1 40 1 7 1-13 1 83 1-112 1 13 1-8 1 60 1-15 1 4 1-10 1 1 1-2 1 65 1-116 1 124 1-78 1-24 1 72 1-63 1 28 1 36 1-13 1 37 1-47 1 5 1-35 1-40 1 61 1-35 1 55 1-86 1 11 1 5 1 6 1 62 1-59 1-39 1 111 1-48 1 28 1-15 1-9 1 42 1-87 1 144 1-64 1 38 1-105 1 33 1 18 1-56 1 4 1 6 1 96 1-25 1-64 1 34 1 35 1-65 1 6 1-44 1 12 1 23 1-24 1 58 1 4 1-1 1 30 1-82 1 22 1-79 1 67 1 75 1-114 1 94 1-82 1 32 1 2 1 41 1-129 1 139 1-81 1 29 1-31 1 25 1 30 1-21 1-45 1-7 1 97 1-31 1 5 1-22 1 1 1 35 1-55 1-19 1 42 1-105 1 151 1-85 1-35 1 42 1-1 1-160 1 170 1-39 1 54 1-19 1-6 1-102 1 107 1-33 1 62 1-104 1 49 1-32 1 30 1-74 1 111 1-11 1 18 1-6 1 41 1-15 1-39 1-16 1-8 1-10 1 44 1-41 1 15 1 68 1-63 1-38 1 38 1 1 1 29 1-56 1 100 1-67 1 21 1-70 1 53 1-11 1-67 1 76 1-6 1-85 1 29 1 135 1 4 1-83 1 25 1-47 1 31 1-15 1 39 1-37 1 5 1 61 1-68 1-11 1 63 1-102 1 86 1-57 1-15 1 37 1 0 1 34 1 6 1-141 1 88 1 36 1 9 1-43 1-4 1-38 1 4 1-30 1 52 1 36 1 0 1-32 1 0 1 21 1 15 1-21 1 3 1 67 1-111 1-81 1 201 1-65 1-2 1-6 1-15 1 24 1-30 1 43 1-51 1-7 1-24 1 61 1 20 1 65 1-80 1 23 1-21 1-40 1 1 1 72 1-137 1 136 1-114 1-16 1 108 1-101 1 69 1 7 1 1 1-12 1-42 1 174 1-122 1 11 1-96 1 27 1 17 1-24 1 23 1-33 1 21 1 32 1-72 1 1 1 63 1-114 1 64 1 9 1-72 1 192 1-90 1 10 1-17 1 10 1 6 1 46 1-12 1-84 1-1 1 73 1-32 1 91 1-85 1-89 1 48 1 38 1 38 1-26 1-2 1 36 1-60 1-21 1 70 1-68 1-21 1 62 1-9 1-52 1 37 1 1 1 43 1-27 1 20 1-93 1 56 1-16 1-42 1 1 1-34 1 38 1-16 1 39 1 31 1-13 1-44 1 38 1 41 1-36 1 1 1 67 1-19 1-202 1 228 1-51 1 19 1-51 1 13 1-23 1-58 1 50 1-48 1 6 1 45 1 17 1-63 1 53 1-49 1-4 1 64 1 127 1-204 1 53 1 4 1 8 1-1 1-26 1 34 1 22 1-65 1 17 1-65 1 24 1 87 1-73 1 144 1-91 1-52 1 38 1 28 1-2 1-35 1-52 1 49 1-42 1 53 1 32 1-1 1-40 1 20 1-38 1 58 1-76 1 67 1-21 1-44 1 3 1 50 1 79 1-76 1 21 1-39 1 47 1-53 1 37 1 5 1-23 1-18 1 14 1 17 1-59 1 31 1 14 1-32 1 27 1-7 1 54 1 43 1-83 1 11 1 33 1 66 1-103 1 6 1 32 1-40 1-24 1 89 1-11 1 0 1-42 1-76 1 94 1-56 1-24 1 13 1 90 1-16 1-2 1 41 1-26 1-44 1-9 1-43 1 40 1-43 1 97 1-26 1-37 1 32 1-44 1 9 1-16 1-7 1 39 1 31 1-112 1 49 1 109 1-18 1-119 1-15 1 39 1 77 1 29 1-64 1-18 1 63 1-65 1 79 1-31 1-63 1-2 1-6 1 29 1 73 1-95 1 23 1-24 1 81 1-102 1 95 1-4 1-164 1 182 1-17 1-58 1 56 1 6 1-115 1 109 1-19 1-3 1 7 1-6 1-11 1 63 1 9 1 2 1-24 1 23 1-40 1-93 1 118 1-38 1-82 1 80 1-27 1-1 1 38 1 69 1-120 1 23 1 41 1-33 1 43 1 49 1-70 1-25 1 35 1-45 1 13 1 32 1-47 1-20 1-39 1 37 1 71 1-37 1 52 1-27 1 20 1-37 1-92 1 134 1-41 1 1 1-23 1 22 1 12 1-38 1 21 1-2 1 18 1 100 1-107 1 82 1-82 1 30 1 3 1 20 1-12 1-14 1-7 1-22 1 43 1 47 1-47 1-8 1 9 1 36 1-30 1-27 1 29 1-36 1-20 1 71 1-36 1-31 1-26 1 66 1 12 1-70 1 24 1 43 1 8 1-64 1-8 1 32 1-57 1 34 1 42 1-23 1-20 1 66 1-67 1 30 1-98 1 95 1-42 1-12 1 56 1-67 1 66 1-62 1 36 1 19 1-5 1-45 1 23 1 41 1-89 1 49 1 61 1 6 1-174 1 124 1 34 1-42 1 20 1 39 1 46 1-118 1 27 1 73 1-88 1 71 1-17 1-56 1 19 1-9 1 33 1-4 1-6 1-42 1 67 1-45 1-15 1 89 1-96 1 20 1 14 1-2 1 65 1-125 1 95 1-47 1 18 1 8 1 5 1 22 1-62 1-19 1-13 1 40 1 5 1-3 1-41 1 31 1 19 1-21 1 35 1-53 1 66 1-68 1 65 1-53 1 15 1 19 1-5 1-9 1 5 1 0 1-22 1-48 1 8 1 27 1 52 1 37 1-66 1 142 1-150 1 5 1 99 1-73 1-57 1 41 1-38 1 63 1-15 1-34 1 61 1-63 1 68 1-136 1 154 1-54 1-32 1 11 1-40 1 76 1-4 1-23 1-24 1 36 1-20 1 37 1-30 1 16 1 36 1-78 1-38 1 42 1-18 1-11 1 25 1-50 1 8 1 76 1-77 1 59 1 4 1-38 1-13 1 44 1-16 1-61 1 35 1 42 1 2 1 4 1-13 1 3 1-69 1-18 1 70 1-54 1 36 1 6 1-44 1-16 1 39 1-4 1 36 1 9 1-35 1-37 1 73 1-76 1 39 1-17 1-11 1 51 1-36 1 13 1-123 1 122 1 6 1-78 1 121 1-38 1-45 1 74 1 38 1-39 1-48 1 71 1-87 1 25 1 44 1 54 1-116 1 79 1-32 1-11 1 18 1-25 1 3 1-4 1-12 1-25 1 64 1-40 1-40 1-36 1 34 1 34 1 20 1-52 1-1 1 34 1 71 1-61 1 67 1-18 1-106 1 102 1-9 1 9 1-61 1-19 1-11 1 114 1-45 1 15 1-51 1 106 1 65 1-118 1-37 1-22 1 38 1 12 1-49 1 78 1-43 1 0 1 35 1-96 1 57 1 64 1-11 1-206 1 173 1 5 1-15 1-71 1 37 1 50 1-58 1 16 1-31 1 75 1 4 1-92 1-6 1 55 1-11 1-5 1 29 1-45 1 41 1-24 1 16 1 12 1-42 1-35 1 78 1-3 1 132 1-149 1-7 1 59 1-88 1 57 1 3 1-78 1 125 1-175 1 134 1-52 1 59 1 20 1-79 1-30 1 33 1-30 1-26 1 44 1 13 1-82 1 88 1 6 1-111 1 105 1 32 1-17 1 18 1 28 1-65 1-23 1 13 1-57 1 111 1-40 1 17 1 7 1-51 1-20 1 41 1 155 1-137 1-1 1 5 1-23 1-16 1 31 1-24 1-43 1 18 1 10 1-6 1 39 1-13 1-87 1 53 1 2 1 31 1-29 1 13 1 99 1-70 1 8 1 11 1-20 1-18 1-15 1 122 1-165 1 158 1-154 1 46 1 48 1-55 1 27 1 85 1-61 1-25 1-15 1 80 1-52 1 65 1-110 1 32 1-38 1 90 1-42 1 38 1-20 1 1 1 8 1-38 1-65 1 39 1-39 1 60 1-28 1 28 1-40 1 35 1-2 1 51 1 61 1-150 1 119 1-33 1-44 1 41 1-62 1-2 1-9 1 103 1-39 1-23 1 33 1-25 1 43 1 18 1-102 1 58 1 5 1-26 1-36 1 12 1-1 1-63 1 116 1-64 1 4 1 36 1 28 1-14 1-149 1 149 1-13 1-16 1 34 1-57 1 53 1 5 1-50 1 65 1 51 1-107 1-12 1 18 1 7 1-101 1 100 1 11 1-53 1 32 1-24 1 70 1 14 1-76 1 39 1-4 1 59 1-90 1 30 1 44 1-70 1-11 1 62 1 24 1-87 1 28 1 51 1-52 1-18 1-8 1 9 1-13 1 101 1-133 1 35 1 68 1-28 1-10 1-59 1 49 1 24 1 45 1-9 1 43 1-135 1 33 1-4 1-16 1-25 1 13 1 12 1 48 1 10 1 37 1-75 1-3 1-42 1 32 1-52 1 100 1-12 1-24 1 35 1-65 1 46 1-15 1-89 1 81 1-13 1-13 1-36 1 131 1-72 1-28 1 40 1-35 1-6 1 64 1-37 1 7" fill="none" stroke="#19469b" stroke-width="0.6" vector-effect="non-scaling-stroke" stroke-linejoin="round"/>
<path transform="translate(26.450 0) scale(0.04876 0.1)" d="M0 1702l1-48 1-194 1 238 1-125 1 96 1-41 1 40 1-67 1-59 1 22 1 45 1-71 1-43 1 264 1-158 1 3 1 31 1 22 1-144 1 2 1 9 1 18 1 55 1-9 1 67 1-271 1 189 1-21 1-72 1-33 1-6 1 116 1-64 1 24 1 15 1-78 1-95 1 228 1-20 1-99 1 110 1-243 1 235 1-147 1 26 1 10 1-1 1 66 1-84 1-19 1-8 1 72 1 26 1 23 1-97 1-47 1 63 1 164 1-154 1-80 1-47 1 151 1 42 1-172 1 84 1 22 1-100 1 88 1 26 1-107 1 171 1-19 1-132 1 122 1-108 1-26 1 85 1-67 1-3 1 115 1-95 1 113 1-64 1 23 1-6 1-25 1-11 1-52 1 56 1-49 1 123 1-116 1 3 1 76 1 139 1-94 1-42 1-70 1 27 1 80 1-28 1-136 1 239 1-180 1-38 1 48 1-32 1 61 1 84 1 51 1-88 1-36 1-68 1 21 1 87 1-12 1 26 1-73 1-82 1 111 1 26 1-48 1-183 1 215 1-7 1-56 1 18 1-79 1 82 1 96 1-185 1 123 1-30 1 36 1-6 1-18 1 9 1 30 1-50 1-141 1 105 1 120 1 51 1-167 1 142 1-134 1 30 1 25 1-1 1-21 1-12 1-52 1 83 1-3 1 19 1-22 1-10 1-2 1-49 1-43 1 45 1 146 1-37 1-53 1-111 1 47 1 5 1 38 1-3 1-225 1 248 1 31 1-39 1 14 1-61 1-40 1 80 1 55 1-36 1-87 1 120 1-40 1-26 1-23 1 28 1-70 1 7 1 92 1 61 1-44 1-84 1 108 1 2 1-83 1 49 1 28 1-115 1 162 1-79 1-77 1 71 1 29 1-97 1 108 1 115 1-217 1 47 1-7 1 22 1-23 1-75 1 283 1-141 1-27 1-30 1-36 1-42 1 95 1-26 1-37 1-55 1 57 1-60 1 42 1-148 1 164 1-93 1 112 1-16 1 29 1-58 1 22 1-41 1 25 1 18 1 62 1-135 1 81 1-13 1-31 1 50 1-31 1-24 1 30 1 51 1-3 1 15 1-20 1-42 1-3 1 12 1 151 1-95 1-66 1 1 1-21 1-21 1 26 1 1 1 85 1-14 1 19 1-93 1 66 1-38 1-48 1-135 1 163 1 0 1 47 1-53 1 10 1-3 1 2 1 64 1-87 1 35 1-57 1-49 1 31 1 101 1-48 1 19 1-119 1 142 1 13 1 7 1-82 1 148 1-124 1 12 1 25 1 21 1-77 1 34 1-13 1 28 1-12 1-5 1 42 1-235 1 275 1-90 1 22 1-20 1-24 1-1 1 18 1-35 1 167 1-73 1-61 1-70 1 200 1-109 1-32 1 26 1 46 1-96 1-15 1 105 1-24 1 102 1 25 1-82 1-27 1-6 1-76 1 15 1 109 1-111 1 143 1-145 1 157 1-65 1-54 1-26 1-8 1 8 1 9 1 97 1-74 1 5 1 50 1-41 1 100 1-12 1-87 1 62 1-69 1 47 1 1 1 14 1-86 1 93 1-126 1 99 1-26 1 17 1-5 1-155 1 264 1-40 1-215 1 129 1-1 1-5 1-46 1 78 1-57 1-12 1-64 1 202 1-134 1-19 1 202 1-112 1-80 1 6 1 3 1-7 1 25 1 64 1-76 1 145 1-216 1 89 1-33 1 80 1-44 1-5 1-20 1-12 1 135 1-38 1 28 1-38 1 41 1-145 1 76 1-22 1-43 1 87 1-86 1-23 1 4 1 96 1-78 1 28 1 35 1-46 1 27 1 7 1-22 1-2 1 29 1 95 1-147 1 87 1-114 1-20 1-33 1 71 1-62 1 66 1 22 1-11 1 37 1 57 1-85 1 21 1-29 1-48 1 76 1-66 1 192 1-87 1-137 1 81 1-76 1 135 1-26 1-58 1 61 1 3 1 48 1-171 1-2 1 37 1 56 1-51 1 12 1 56 1-47 1-91 1 95 1 13 1 108 1-225 1-46 1 247 1-96 1 55 1 3 1 5 1-49 1 78 1-132 1 35 1-25 1 125 1-149 1 132 1 86 1-148 1-129 1 148 1 70 1-74 1-65 1 184 1-79 1-65 1 80 1-10 1-54 1 86 1-69 1-58 1 30 1 5 1-227 1 291 1 16 1-43 1 30 1-58 1-35 1 6 1-14 1 43 1-18 1-85 1 98 1-30 1-115 1 183 1-100 1 75 1 16 1-48 1-1 1-68 1 89 1-92 1 71 1 79 1-127 1-14 1 60 1-56 1 95 1-75 1-29 1 145 1-104 1 26 1-7 1-6 1-3 1 88 1-80 1 25 1-173 1 224 1-71 1 16 1 63 1-279 1 181 1 31 1 10 1 14 1 41 1 176 1-279 1-153 1 198 1 61 1-57 1-65 1 22 1-57 1 76 1-4 1 79 1-92 1 0 1-27 1 29 1 230 1-230 1-15 1 76 1 56 1-123 1 89 1-73 1 32 1-16 1 198 1-184 1-19 1 20 1-92 1 118 1-34 1-34 1-33 1 71 1 14 1 88 1-93 1-92 1 10 1-5 1 88 1-70 1 162 1-366 1 278 1-74 1 89 1 45 1-19 1-50 1 132 1-128 1 42 1-163 1 161 1-142 1 7 1 4 1-31 1 86 1-137 1 117 1-31 1-21 1 141 1-91 1 87 1-47 1 115 1-136 1-36 1 36 1 61 1-124 1 25 1 106 1-17 1-26 1-3 1 167 1-243 1 76 1-36 1 78 1-95 1 44 1 91 1-103 1 139 1-136 1 81 1 21 1-45 1-26 1-47 1 7 1 3 1-91 1 109 1-84 1 67 1-189 1 131 1 87 1-82 1 3 1 113 1-14 1-15 1 71 1-28 1 8 1-89 1 62 1 17 1-34 1-70 1 65 1-17 1 14 1 23 1-8 1-93 1 119 1-6 1-59 1-14 1 56 1-17 1-71 1 89 1-61 1 53 1-51 1 14 1-7 1 8 1 53 1-99 1-4 1 63 1 30 1-19 1 77 1-170 1 143 1-96 1 15 1 11 1 37 1 41 1-65 1-99 1 43 1 85 1-33 1 7 1-22 1 22 1-99 1 96 1-46 1 44 1-34 1 98 1-13 1-79 1 51 1 43 1-175 1 47 1-28 1 53 1-5 1-13 1 114 1-42 1-29 1-2 1-146 1 182 1-26 1 12 1 20 1-43 1 83 1-59 1 8 1 46 1-63 1 0 1-3 1 50 1-15 1-109 1 104 1-121 1-26 1 51 1 77 1 22 1-22 1 7 1-81 1 103 1-12 1-44 1 50 1-20 1 14 1-140 1 139 1 29 1-9 1-90 1 101 1-53 1-35 1 70 1-100 1 8 1 61 1-29 1 25 1-112 1 71 1-36 1 98 1 12 1-82 1 61 1-66 1-25 1-67 1 93 1 16 1 12 1 66 1-96 1 32 1 4 1-27 1 40 1-44 1 132 1-134 1 41 1 29 1-167 1 225 1-135 1 26 1-11 1 58 1-35 1 58 1 6 1-62 1 6 1-127 1 215 1-71 1-80 1 121 1-5 1-62 1 13 1-8 1-45 1 48 1 7 1-22 1-86 1 36 1 102 1-40 1 2 1 30 1 25 1-75 1 21 1-114 1 67 1 24 1 43 1 35 1-141 1 98 1 23 1-60 1 88 1-102 1-74 1 90 1 81 1-38 1 70 1-93 1-14 1 42 1-56 1 74 1-56 1-36 1 87 1-84 1 61 1 43 1-72 1 83 1-159 1 72 1 39 1-174 1 115 1 15 1-57 1 83 1-13 1 21 1-77 1-63 1 205 1-73 1 124 1-110 1-91 1 20 1 98 1-74 1-46 1-17 1 89 1 152 1-41 1-98 1-8 1-12 1 42 1-65 1 141 1-167 1 78 1 21 1-34 1-12 1 12 1 86 1-106 1-31 1 67 1-51 1 55 1 2 1-42 1 27 1-47 1 15 1 47 1-39 1 44 1 11 1-25 1-2 1 61 1 18 1-16 1-106 1 110 1 37 1-117 1-60 1 98 1-91 1 115 1-42 1 35 1-24 1-29 1 37 1 14 1-11 1 24 1 23 1-32 1-28 1 51 1-41 1 8 1-44 1 4 1 70 1-54 1 29 1 9 1 41 1-76 1 16 1-32 1 0 1 20 1 59 1-49 1 8 1-94 1 72 1-45 1 41 1 45 1-25 1 99 1-113 1-44 1 40 1 62 1 13 1-45 1-17 1-61 1 9 1 50 1 44 1-45 1 113 1-95 1-112 1 122 1-12 1 4 1-43 1 35 1 4 1 33 1-75 1 10 1 6 1-2 1-25 1 33 1 14 1-21 1 19 1 14 1-40 1 73 1-99 1 42 1 27 1-8 1-17 1-119 1 97 1 17 1 6 1-60 1 53 1 8 1 39 1-70 1 8 1 21 1-11 1-48 1 23 1-1 1-40 1 46 1 47 1-77 1 14 1 55 1 14 1-24 1 10 1 28 1-49 1 58 1-68 1-1 1 43 1-77 1 5 1-2 1 100 1 18 1-44 1-35 1-59 1-49 1 34 1 68 1 25 1-23 1-42 1 47 1-59 1 6 1 27 1-37 1 15 1 0 1-46 1 69 1 9 1 2 1-2 1-22 1 51 1 8 1-78 1 12 1 42 1-45 1 20 1 87 1-121 1-24 1 67 1-11 1 30 1-77 1 66 1 46 1-48 1-52 1 91 1-61 1 45 1 54 1-30 1 47 1-138 1 55 1 37 1 41 1-79 1 127 1-61 1 148 1-116 1 43 1-63 1 66 1 46 1-63 1 47 1-11 1 40 1-16 1-9 1-25 1 11 1 32 1 32 1-45 1-32 1 105 1-149 1 89 1-20 1 17 1 23 1-70 1 18 1 37 1-36 1-18 1 112 1-55 1-53 1 83 1-36 1-46 1 44 1-16 1 98 1-113 1 12 1-34 1 70 1 7 1 8 1 19 1-94 1 23 1 17 1 30 1-76 1 68 1-22 1-117 1 91 1-40 1 29 1-6 1 59 1-7 1-185 1 193 1-25 1-78 1 47 1 33 1-25 1-12 1 76 1 37 1-61 1-24 1-41 1 57 1 20 1-61 1 21 1 92 1-39 1-20 1-43 1 37 1-8 1-96 1 40 1 43 1-25 1 135 1-137 1 33 1-27 1 12 1 46 1-16 1-21 1 84 1-49 1-13 1 86 1-14 1-28 1 51 1-80 1-22 1-28 1-55 1 69 1 2 1 9 1 30 1-12 1 25 1-72 1 67 1-35 1 41 1-18 1 37 1-34 1-50 1 70 1 14 1-15 1-76 1 74 1-45 1-43 1 27 1 83 1-67 1-12 1-7 1 39 1-6 1-13 1 29 1-16 1-60 1 97 1-35 1 26 1-77 1 27 1-13 1 62 1-29 1 95 1-137 1 58 1-45 1 25 1-11 1 9 1 77 1-126 1 137 1-7 1-13 1-64 1-7 1 22 1-39 1 197 1-131 1 47 1-15 1-43 1-5 1-33 1-48 1 60 1-70 1 5 1 36 1 26 1-21 1-19 1 25 1 40 1-76 1 12 1 81 1-29 1-6 1-17 1-9 1 20 1-55 1 87 1-25 1 26 1-23 1 29 1-49 1-25 1-40 1 50 1 37 1 26 1-52 1 37 1-16 1 32 1-19 1-10 1-35 1 33 1-38 1 78 1-93 1 16 1 36 1 19 1 24 1-53 1-16 1 50 1-77 1 38 1-21 1 33 1-48 1 127 1-114 1 70 1-34 1-68 1 81 1-43 1 43 1-48 1 103 1-16 1 34 1-106 1-83 1 159 1-35 1-13 1 12 1-28 1 33 1-104 1 101 1-1 1-147 1 116 1-14 1-20 1 100 1-52 1-15 1-79 1 128 1-55 1-65 1 68 1-37 1-52 1 103 1-22 1 32 1-42 1 58 1-28 1 30 1-42 1 20 1-4 1 3 1 16 1 27 1-9 1-46 1 8 1-52 1-101 1 113 1 60 1-23 1 16 1-46 1 8 1 35 1-35 1-2 1 39 1-30 1 61 1-59 1-5 1 124 1-139 1 57 1-94 1 59 1-13 1 0 1 0 1 18 1 38 1-94 1 66 1 22 1-21 1-30 1 67 1-30 1-54 1 46 1-188 1 112 1-55 1 242 1-223 1 35 1 40 1-62 1 79 1 3 1-60 1-1 1-1 1 54 1 31 1-23 1-41 1 33 1 16 1 28 1-85 1-52 1 46 1 56 1-32 1-2 1 35 1-38 1 12 1-107 1 150 1 37 1-43 1-39 1 69 1-79 1 0 1 15 1 13 1 34 1-62 1 33 1-41 1 76 1-71 1 27 1-30 1 52 1-33 1 24 1-14 1 37 1-35 1 84 1-84 1-34 1 73 1-12 1-52 1 19 1-52 1 35 1 30 1 57 1-45 1 5 1 16 1 0 1-62 1 39 1 37 1-97 1 133 1-45 1-48 1 30 1-28 1 23 1-34 1 39 1-5 1-59 1 63 1-22 1 37 1-38 1 3 1 31 1-25 1-33 1 63 1-66 1 9 1 6 1 25 1 22 1-18 1-37 1 45 1-7 1 25 1-6 1-30 1-72 1 62 1 6 1-14 1-27 1 16 1-3 1 50 1 17 1-54 1 138 1-131 1 20 1 17 1 15 1-28 1 13 1 17 1-212 1 137 1-4 1 14 1 27 1-23 1-12 1 8 1 7 1-139 1 141 1-59 1 62 1-24 1 166 1-222 1 44 1-9 1 34 1 48 1-90 1-114 1 107 1 34 1-7 1 8 1-6 1 17 1 50 1-28 1 43 1-130 1 87 1 35 1-93 1 41 1-16 1 11 1 6 1-25 1 23 1 29 1-22 1 34 1-61 1 18 1-9 1 8 1 36 1-46 1-20 1 39 1-2 1 43 1 71 1-106 1 42 1-94 1 42 1-41 1 146 1-87 1-15 1-4 1-16 1-173 1 192 1 123 1-139 1 52 1-45 1 8 1-7 1-4 1-52 1-9 1 44 1 23 1-58 1 59 1-24 1 41 1-38 1 19 1-10 1 16 1-5 1-58 1 49 1 28 1 32 1-127 1 100 1-42 1 15 1 4 1-56 1 55 1-55 1 105 1-85 1-7 1-61 1-28 1 134 1-53 1 53 1-126 1 73 1 71 1-87 1 28 1 65 1-41 1 19 1-6 1-54 1 55 1-50 1-3 1 38 1 19 1-34 1 11 1-51 1 14 1 51 1-24 1 29 1-30 1 96 1-62 1-93 1 106 1-72 1 31 1 64 1-56 1 67 1-40 1-94 1 20 1 64 1 14 1-32 1-10 1 7 1 59 1-166 1 128 1 24 1 15 1-38 1-23 1-52 1 72 1 12 1-26 1 22 1 17 1-145 1 112 1 3 1 29 1-80 1-31 1 80 1 24 1-2 1-28 1-21 1 56 1-41 1-47 1 102 1-30 1-71 1 54 1 17 1-55 1 24 1-47 1 70 1-17 1 9 1 40 1-55 1-4 1 33 1-47 1-20 1-39 1-5 1 65 1 40 1-61 1-32 1-3 1 70 1-39 1 25 1-10 1 40 1 130 1-155 1-92 1 70 1 31 1-94 1 56 1 9 1 28 1-26 1 26 1 45 1-33 1 55 1-167 1 60 1 52 1-22 1 17 1-38 1-11 1 1 1 3 1-16 1 15 1 111 1-96 1 74 1-110 1-7 1 41 1-43 1 27 1-13 1-1 1 45 1 57 1-67 1 7 1 18 1 40 1-102 1 86 1 21 1-49 1-35 1-7 1 9 1-14 1-7 1-42 1 32 1 71 1 2 1 5 1-21 1 8 1-75 1 14 1 17 1 11 1-48 1 26 1-18 1 21 1 60 1-24 1 40 1-8 1-7 1-95 1 155 1-81 1-29 1-9 1-8 1 58 1 70 1-105 1 58 1-95 1 10 1 83 1-39 1 23 1-49 1 59 1 11 1 14 1-115 1 21 1-111 1 133 1-18 1 65 1-75 1 46 1 15 1 0 1-33 1 33 1 23 1-61 1 10 1-80 1 114 1-72 1 42 1-19 1-27 1 23 1-83 1 94 1 68 1-17 1-28 1-10 1 3 1 31 1-38 1 21 1-39 1 22 1 13 1 21 1-50 1 34 1-12 1-5 1 60 1-6 1-15 1 9 1-86 1 13 1 27 1 42 1-42 1-22 1-67 1 72 1 65 1-114 1-25 1 106 1 24 1-70 1 37 1 21 1 25 1-28 1-20 1-13 1-74 1-78 1 192 1-1 1-67 1 28 1 39 1 27 1-54 1 14 1 18 1-108 1 83 1 112 1-99 1 37 1-25 1-37 1 13 1-54 1 77 1-81 1 126 1-91 1-11 1-16 1 68 1-57 1 31 1-27 1 12 1 20 1-27 1 93 1-98 1-16 1 74 1-53 1 72 1-157 1 64 1-10 1 2 1 26 1-56 1 68 1-11 1 68 1-141 1 93 1 12 1-64 1-16 1 100 1 13 1-47 1 1 1 19 1 121 1-147 1 53 1-30 1 7 1-53 1-16 1-17 1 4 1 62 1-41 1-64 1 112 1-5 1 96 1-66 1-8 1-150 1 178 1 30 1-105 1 7 1-6 1-33 1 10 1 70 1-72 1 68 1-37 1-21 1 31 1-14 1 39 1-70 1 74 1-45 1-27 1 43 1-7 1 151 1-146 1 34 1-12 1-70 1 114 1-102 1-14 1 48 1 70 1-7 1-131 1 61 1 37 1-137 1 91 1 1 1 22 1-16 1 30 1-173 1 129 1 32 1-68 1 23 1 71 1-88 1 44 1 52 1-50 1-10 1 46 1-83 1-58 1 89 1-18 1 40 1-29 1 99 1-14 1-23 1-4 1-57 1 19 1 26 1 37 1-36 1-21 1-44 1-87 1 122 1-26 1 28 1 40 1-15 1 2 1 27 1-60 1 92 1-28 1-34 1 52 1-35 1-57 1 34 1-36 1 9 1 26 1 11 1 12 1-36 1-32 1 17 1 50 1-59 1 26 1-40 1 56 1-61 1 78 1-25 1-77 1 9 1 25 1 62 1-33 1-2 1 63 1-60 1-162 1 286 1-84 1-10 1-117 1 106 1-16 1 33 1 11 1 59 1-110 1 53 1-59 1-23 1 109 1-70 1 3 1-16 1 72 1-9 1-19 1-8 1 32 1-24 1-37 1-72 1 87 1-88 1 22 1 49 1 6 1-38 1 63 1 49 1-126 1 204 1-140 1-30 1 35 1-50 1 15 1 29 1-7 1 2 1-19 1-51 1-15 1 103 1-45 1 42 1-91 1 91 1-54 1-6 1-2 1-132 1 175 1-49 1 90 1-98 1-33 1 46 1 48 1-49 1 45 1 58 1-64 1 8 1 12 1 0 1 22 1-87 1 60 1-93 1 67 1 29 1-60 1 37 1 58 1-77 1 10 1-37 1 29 1 71 1-70 1-158 1 232 1-91 1-38 1 57 1 4 1 54 1-152 1 79 1 44 1-9 1-13 1-48 1 32 1 78 1-23 1-39 1-45 1 30 1 91 1-82 1 60 1-60 1-72 1 75 1 1 1 2 1 62 1-67 1 17 1-67 1 25 1 61 1-3 1 22 1-52 1-9 1 39 1-20 1-2 1 56 1 2 1-131 1 47 1 37 1-39 1 22 1-42 1 6 1 35 1-24 1 12 1 4 1-9 1 96 1 35 1-137 1 22 1-1 1 6 1-134 1 87 1 92 1 0 1-64 1 21 1 40 1-33 1 109 1-74 1-71 1 63 1-55 1 3 1 115 1 36 1-93 1-22 1-98 1 103 1-23 1 126 1-104 1 43 1 3 1 42 1-65 1-56 1-24 1 53 1 11 1 43 1-50 1-50 1 91 1 16 1-26 1 9 1-104 1 31 1-72 1 92 1-67 1 96 1-37 1 7 1 48 1-44 1-24 1 43 1 57 1-63 1-35 1-35 1 141 1-107 1 23 1 6 1 54 1-66 1-31 1 67 1-41 1 75 1-69 1 0 1-54 1 88 1 5 1-128 1 207 1-228 1 145 1-13 1 21 1-55 1 42 1-185 1 195 1-28 1-7 1 15 1-9 1-27 1 7 1 22 1-1 1-43 1 26 1-22 1-21 1 83 1 10 1-105 1 128 1-62 1-45 1 28 1 13 1 46 1-61 1-45 1 153 1-38 1-29 1 39 1-80 1 47 1-19 1-29 1 17 1 12 1 39 1-3 1-70 1 74 1-10 1-26 1-4 1-23 1-77 1 83 1 0 1 49 1-22 1 22 1-22 1 9 1-53 1 0 1-29 1 8 1-32 1 7 1 20 1-43 1 65 1 50 1-40 1 32 1 147 1-254 1 41 1 13 1 96 1-53 1-98 1 96 1-47 1 14 1 39 1-52 1-6 1 79 1-13 1-42 1 14 1 4 1-23 1 106 1-58 1 3 1-101 1 88 1 1 1-14 1-27 1 45 1 1 1-34 1 55 1-86 1 3 1 64 1-18 1-4 1 41 1 1 1-67 1 41 1-24 1-16 1 14 1-58 1-12 1 61 1-20 1 43 1 3 1-22 1 15 1-32 1 56 1 38 1-79 1-11 1 28 1 105 1-110 1-28 1 69 1-6 1 0 1 7 1-26 1-78 1 55 1 22 1 46 1 16 1-72 1-60 1 107 1-6 1-36 1-34 1 88 1-127 1 44 1 92 1-51 1 17 1-13 1-33 1 44 1-75 1 150 1-124 1-18 1 54 1 0 1 16 1-153 1 108 1-47 1 122 1-100 1 104 1-89 1 18 1-18 1 29 1-16 1-10 1 14 1 0 1 29 1-100 1 46 1 88 1-73 1 72 1-68 1-19 1 19 1 32 1-78 1-22 1 74 1 20 1 11 1-5 1-4 1 25 1-63 1 43 1-16 1-5 1 59 1 76 1-124 1 4 1-8 1-9 1 21 1 2 1 65 1-111 1 106 1-11 1-30 1-116 1 133 1-43 1-20 1 50 1-26 1 21 1 7 1-17 1-70 1 73 1-19 1 37 1-45 1-8 1 55 1-31 1-14 1 30 1 55 1-45 1 7 1 6 1-82 1 68 1-105 1 168 1-144 1 4 1-5 1 127 1-83 1 58 1 2 1-57 1 40 1-62 1 89 1-52 1 3 1-9 1-90 1 21 1 81 1-10 1 17 1 5 1-2 1-59 1 84 1-70 1 58 1 21 1-9 1-22 1-92 1 53 1-65 1 61 1 1 1-20 1 26 1 51 1-39 1 30 1-26 1 5 1-41 1-1 1-18 1 34 1 10 1-44 1 44 1 79 1-59 1 6 1 37 1-18 1-65 1 13 1 97 1-17 1-57 1 36 1-85 1-68 1 40 1 65 1 32 1-43 1-65 1 83 1-83 1 169 1-70 1-4 1 14 1 6 1-11 1 39 1-4 1-87 1 57 1-10 1-11 1 18 1 13 1 87 1-81 1-52 1 72 1-78 1 49 1-60 1 67 1-8 1-103 1 59 1-4 1-42 1 75 1 17 1-41 1 19 1-30 1-9 1 67 1 12 1-64 1-23 1 0 1-5 1 91 1-56 1-26 1-6 1 8 1-51 1 62 1 55 1 35 1-95 1 33 1 7 1-7 1 48 1-127 1 103 1-71 1 68 1-9 1-88 1 21 1 20 1-24 1-4 1-14 1 90 1-61 1 17 1-7 1 15 1 38 1-47 1 86 1-41 1 44 1-163 1 81 1-6 1 12 1 26 1-25 1 12 1-41 1 66 1-11 1-102 1 55 1-35 1-18 1 52 1-19 1 52 1-50 1-36 1 4 1-15 1-30 1 82 1 55 1-168 1 176 1-83 1-17 1 8 1 49 1 80 1-38 1-71 1 57 1-15 1-33 1 14 1-8 1-35 1 88 1-38 1 61 1-45 1-20 1 48 1-61 1 0 1-64 1 130 1-27 1 48 1-95 1 124 1-93 1-18 1 60 1-36 1 9 1 77 1-74 1-38 1 60 1 1 1 50 1-78 1 24 1-59 1 82 1-27 1-26 1-9 1-57 1 7 1 32 1 44 1-75 1-101 1 85 1 73 1-69 1 118 1-19 1 7 1-118 1 93 1-106 1 50 1 115 1-92 1 65 1-64 1-25 1-67 1 93 1-84 1 31 1 137 1-41 1 2 1-51 1 31 1-45 1 13 1-59 1 139 1-52 1-67 1 39 1 14 1 19 1 20 1-134 1 116 1 39 1 2 1 4 1-55 1-15 1 11 1 23 1-2 1-31 1 43 1-23 1 39 1 0 1 44 1-87 1 9 1 30 1 43 1-81 1-83 1 134 1-69 1-14 1 158 1 66 1-163 1 63 1-48 1-35 1 18 1 10 1-19 1 38 1-81 1 15 1 37 1 3 1-8 1 15 1 42 1-36 1-4 1-12 1-78 1 31 1-1 1-10 1 69 1-92 1 29 1-34 1 58 1-45 1 62 1-13 1-49 1 7 1 104 1-71 1 15 1-52 1-47 1 32 1 42 1 73 1-79 1-29 1 44 1-13 1-3 1 17 1-44 1 39 1 33 1-52 1-5 1 18 1-5 1-29 1-58 1 233 1-147 1 36 1-26 1-6 1 25 1 9 1 44 1-95 1-12 1 139 1-158 1 49 1 19 1-43 1 72 1-61 1 36 1 1 1-1 1 46 1-72 1 44 1 23 1-110 1 237 1-227 1 54 1 41 1-13 1 15 1-17 1 9 1-18 1-19 1-66 1 4 1-63 1 152 1-4 1-15 1-31 1 16 1 87 1-105 1 15 1-71 1 93 1-24 1-28 1 81 1-12 1-87 1 30 1-5 1-58 1 52 1 16 1-24 1-9 1 51 1-65 1 71 1 20 1-62 1-61 1 123 1-50 1 10 1-14 1 68 1-39 1-34 1 75 1 0 1-44 1 58 1-6 1-34 1-74 1 99 1-16 1-9 1 33 1-135 1 88 1-14 1 96 1-100 1 17 1 95 1-133 1 24 1-74 1 52 1 44 1 9 1-28 1-54 1 56 1-14 1 8 1 112 1-18 1-125 1 88 1-7 1-23 1 26 1-34 1-19 1-34 1 54 1 65 1-86 1-24 1 62 1-57 1 91 1 52 1-71 1 16 1-119 1 61 1 6 1 2 1 19 1 8 1 48 1-124 1 66 1 22 1-10 1-65 1 66 1 11 1-45 1-33 1 48 1-12 1-14 1-13 1-43 1 38 1 36 1 42 1-35 1-1 1-82 1 54 1 8 1 52 1-54 1 18 1-68 1 34 1 44 1-18 1-150 1 163 1-16 1-32 1 43 1-16 1-112 1 110 1-2 1 50 1-27 1-32 1-47 1 170 1-185 1 124 1 41 1-42 1-55 1 51 1-27 1-52 1 67 1-66 1 25 1-28 1 25 1 47 1-23 1 31 1-13 1-60 1 76 1-20 1 96 1-62 1-1 1-81 1 26 1 6 1 0 1 3 1-6 1 8 1 54 1-91 1-1 1 63 1-33 1-76 1 129 1-104 1 66 1 40 1 15 1 4 1-42 1-8 1-40 1 22 1 18 1 17 1-88 1-44 1 87 1 23 1-27 1-52 1 119 1-147 1 66 1-89 1 153 1-34 1 7 1-10 1-7 1 44 1-91 1 78 1 19 1 2 1-53 1 130 1-88 1 1 1-79 1 30 1-6 1 4 1 8 1 16 1-51 1 109 1-124 1 23 1 1 1 24 1-35 1-30 1 35 1 57 1-61 1 117 1-80 1 3 1-87 1 98 1 47 1-61 1 16 1 63 1-99 1-3 1-22 1 72 1-12 1-27 1-3 1-20 1 56 1-159 1 177 1-18 1-14 1-47 1 37 1-11 1 25 1-35 1 1 1 54 1-15 1-21 1-54 1 56 1-40 1 44 1-45 1 19 1-10 1 21 1 100 1-135 1-18 1-57 1 100 1 19 1-10 1 140 1-115 1 28 1-39 1 22 1-14 1-41 1-28 1 54 1 77 1-60 1-27 1 7 1 69 1-107 1 6 1 60 1-11 1 23 1-27 1-18 1-38 1 68 1-18 1 21 1-24 1-14 1-19 1 29 1-21 1 5 1-41 1 107 1-116 1 90 1-17 1 14 1-18 1 63 1-20 1 10 1-48 1-3 1-16 1-77 1 66 1 5 1 3 1-31 1-19 1 11 1 19 1-3 1 79 1-63 1 10 1-112 1 131 1-46 1-45 1 90 1-4 1 9 1 26 1-23 1-34 1 48 1-23 1-27 1 54 1-34 1-9 1 10 1-29 1-39 1 28 1 32 1-58 1 110 1-108 1 67 1-40 1 22 1-7 1 24 1-13 1-32 1 142 1-93 1-24 1-15 1 38 1-40 1 62 1-24 1 11 1 17 1-64 1 96 1 101 1-170 1-2 1-13 1-14 1 52 1 40 1-20 1-20 1-10 1 63 1-36 1-7 1-9 1 11 1-37 1 41 1-38 1-25 1 72 1-45 1 31 1 39 1-19 1-12 1 3 1 63 1-176 1 87 1 10 1 21 1-29 1-5 1-73 1 48 1-55 1 56 1-20 1-51 1 47 1 57 1 11 1-111 1 129 1-58 1 68 1-75 1 15 1 33 1 30 1-38 1-17 1-45 1 25 1-9 1 54 1-51 1 29 1-46 1 51 1-10 1-47 1-69 1 138 1 32 1-49 1-34 1 24 1 43 1 68 1-130 1 2 1 15 1-23 1-58 1 133 1-3 1-22 1 35 1 62 1-97 1 7 1 27 1 45 1-65 1 0 1-98 1-6 1 67 1 23 1-66 1-11 1 1 1-41 1 103 1-36 1 74 1-37 1 104 1-132 1-20 1-26 1-4 1 14 1 44 1-31 1-3 1-21 1 56 1-6 1 24 1-113 1 106 1 52 1-28 1 49 1-13 1-87 1 52 1 12 1-32 1-50 1 51 1 42 1 22 1-48 1 13 1-38 1 68 1-9 1 9 1 28 1-110 1 69 1-23 1 7 1 60 1-77 1-32 1 43 1-57 1 7 1-10 1 26 1-28 1 154 1-96 1 99 1-136 1-6 1-25 1 18 1-36 1 47 1 45 1-119 1 75 1-9 1-4 1-5 1 68 1-21 1-45 1 40 1-104 1 103 1 51 1-118 1 81 1-74 1 93 1-103 1 55 1-43 1 10 1 79 1-107 1 43 1 34 1 10 1 23 1-69 1 4 1 3 1-11 1 95 1-74 1-31 1 67 1-2 1 53 1-36 1-23 1 6 1-58 1 122 1-31 1-60 1 10 1-1 1-80 1 101 1 1 1-40 1-9 1 3 1 37 1 31 1-63 1 19 1-18 1 42 1-8 1-13 1-30 1 28 1-91 1 106 1 33 1 75 1-87 1-7 1-110 1 13 1 40 1 43 1-21 1 3 1 36 1-16 1 16 1-123 1 57 1-95 1 99 1-10 1 91 1-88 1 24 1-12 1-52 1 71 1 4 1-22 1-48 1 104 1 49 1-28 1-195 1 220 1-66 1 39 1-5 1-89 1-46 1 80 1-13 1-27 1-20 1 119 1-114 1 65 1 48 1-39 1 11 1-99 1-93 1 158 1 54 1-51 1 57 1-98 1 46 1 8 1 51 1-61 1-37 1 0 1 29 1-38 1 70 1-12 1-27 1-68 1 37 1 28 1-24 1 66 1-48 1-38 1 66 1-9 1-104 1 78 1 37 1-40 1 131 1-85 1-73 1 14 1 32 1-26 1 13 1 31 1-94 1 78 1-19 1-44 1 128 1-24 1-87 1 52 1 13 1-13 1-97 1 136 1 41 1-85 1 11 1-7 1 13 1-61 1 105 1-22 1 82 1-90 1-47 1 14 1 20 1 23 1-73 1-3 1 88 1-87 1 11 1-1 1 23 1 65 1-63 1 95 1-95 1 12 1 45 1-37 1-42 1 66 1 0 1 66 1-82 1-12 1 41 1-49 1 71 1-39 1-24 1 82 1-73 1 9 1 31 1-93 1 104 1-73 1 86 1-114 1 9 1 82 1-66 1 4 1 109 1-73 1-22 1 31 1 5 1 16 1-34 1 22 1 13 1 41 1-117 1 82 1-38 1-3 1-40 1 20 1 62 1-120 1 52 1 57 1-45 1 35 1-39 1 34 1 66 1-112 1-99 1 109 1 1 1 29 1-90 1 63 1 45 1-94 1 74 1-30 1 18 1-11 1 9 1-10 1 48 1-37 1-10 1 24 1-17 1-94 1 143 1-31 1-8 1-42 1 28 1 4 1-24 1 64 1-21 1-56 1 54 1-51 1-26 1 12 1 114 1-110 1 62 1-12 1-37 1 34 1 21 1-26 1-67 1 20 1 11 1-58 1 90 1-45 1-3 1 23 1-6 1 16 1-44 1 79 1-45 1-8 1 84 1-64 1 15 1 7 1 63 1-62 1-40 1 46 1-63 1 41 1 16 1 34 1-107 1 22 1 60 1-74 1 33 1-19 1-38 1 89 1 5 1-2 1-65 1 66 1-39 1 34 1 4 1 75 1-80 1-67 1 119 1-52 1-12 1 105 1-50 1-64 1-7 1-6 1 75 1-154 1 111 1-29 1-24 1-38 1 110 1 6 1-69 1 30 1 28 1-63 1 64 1-123 1 60 1 92 1-127 1 54 1 74 1-84 1 62 1-15 1-83 1 8 1 63 1 82 1-51 1-113 1 87 1 1 1-12 1 25 1-40 1 36 1-43 1 13 1 8 1-2 1-15 1 12 1-3 1-84 1 122 1-50 1-11 1-10 1 43 1 8 1 46 1-33 1 25 1 48 1-102 1 56 1-20 1-58 1 50 1-12 1-53 1 71 1 79 1-65 1-84 1 94 1-140 1 138 1-39 1-81 1 8 1 69 1-79 1 26 1 21 1 27 1-3 1 20 1-22 1-12 1-15 1 100 1-112 1 76 1 29 1-71 1-57 1 9 1 105 1-75 1 17 1-43 1 1 1-41 1 91 1-5 1-27 1 16 1 17 1 12 1-97 1 105 1 74 1-62 1-16 1 46 1-29 1-13 1-29 1 118 1-102 1-63 1 76 1-38 1-69 1 97 1-65 1 64 1 10 1 52 1-108 1-59 1 176 1-97 1 10 1 52 1-39 1-41 1 7 1 5 1-2 1 84 1-48 1-48 1 45 1-31 1-12 1-43 1 76 1 9 1-14 1 72 1-85 1-2 1 53 1-40 1-40 1 23 1 21 1 39 1-97 1 69 1-74 1 65 1-13 1-61 1 65 1 10 1 43 1-74 1-11 1 83 1-61 1-89 1 68 1 52 1-47 1 3 1 49 1 14 1 19 1-98 1-19 1 123 1-81 1 11 1-29 1 38 1-19 1 84 1-80 1-16 1 95 1-13 1-74 1-24 1 46 1-2 1 15 1-21 1 23 1-75 1 60 1 5 1-4 1 78 1-36 1 9 1 4 1 34 1-5 1-1 1-75 1 31 1-24 1-46 1 6 1 33 1 17 1 28 1-33 1-99 1 86 1-21 1 13 1 49 1-24 1-118 1-35 1 76 1 2 1 50 1-48 1 18 1-53 1 39 1 8 1 51 1-91 1 60 1-54 1 122 1-99 1-33 1 58 1 78 1-35 1-30 1-21 1 85 1-87 1 17 1-50 1 78 1-64 1 22 1 49 1 0 1-8 1 4 1 21 1-73 1 40 1-58 1 22 1 12 1-31 1 28 1-27 1 80 1-89 1-5 1 100 1-72 1-28 1 67 1-42 1 60 1-128 1 113 1 20 1-61 1 133 1-156 1 56 1-132 1 107 1-43 1 113 1-90 1 19 1 18 1-20 1-35 1 17 1 53 1 46 1-70 1 47 1-13 1-23 1-39 1 42 1 45 1 22 1 0 1-56 1-27 1 53 1-64 1 25 1 21 1 45 1-8 1-72 1 20 1-40 1 76 1-53 1 133 1-107 1-69 1 43 1 29 1-13 1-1 1 28 1-50 1 29 1 65 1-34 1-1 1-48 1 60 1-10 1 19 1-23 1-29 1 54 1-73 1 92 1-27 1-8 1-25 1-17 1-48 1 21 1 61 1-14 1-8 1 13 1 14 1-53 1 27 1 25 1-76 1 25 1 68 1-70 1 69 1-72 1 24 1-30 1 91 1 19 1-78 1-35 1 56 1 26 1-17 1-24 1 4 1 31 1-5 1-29 1-2 1-37 1-3 1 46 1-28 1 37 1-78 1 159 1-92 1-33 1 47 1-29 1-64 1 128 1-51 1 10 1-86 1 120 1-83 1 89 1-11 1-30 1 35 1-74 1-14 1 82 1-12 1-65 1 17 1 58 1-87 1 47 1 58 1-22 1 24 1-156 1 113 1-33 1 12 1 10 1 26 1-55 1-20 1 59 1 14 1-31 1-69 1 15 1-5 1 66 1-67 1 35 1-78 1 60 1-32 1 41 1-101 1 80 1 79 1-27 1 120 1 4 1-130 1-5 1-29 1 70 1-25 1-8 1-61 1 11 1-13 1 47 1 28 1 27 1-25 1-60 1 100 1-66 1 75 1-115 1 75 1 13 1 44 1-40 1-7 1 35 1-22 1 30 1-54 1-56 1-19 1 63 1 64 1-32 1-32 1-55 1 79 1-142 1 151 1-24 1-76 1 14 1 59 1-6 1 32 1-13 1-59 1 6 1 83 1-67 1 12 1-48 1 122 1-43 1-11 1-53 1 17 1-22 1-1 1 43 1-58 1 93 1-46 1-83 1 84 1 7 1-35 1-48 1 43 1-10 1 53 1-18 1-13 1 11 1-15 1 36 1-99 1 96 1-96 1 61 1 30 1-16 1 10 1 7 1 19 1-63 1 44 1-36 1 60 1-43 1-50 1 88 1-24 1-23 1-7 1 33 1 5 1 30 1-49 1 83 1-11 1-92 1-37 1 21 1 51 1-8 1 40 1 46 1 0 1-116 1 47 1-4 1-28 1 50 1 82 1-60 1-83 1-3 1 5 1 36 1 160 1-170 1 66 1-67 1-4 1 13 1-50 1 32 1-34 1-2 1 55 1-23 1-36 1 44 1-66 1 33 1-11 1 67 1-7 1 3 1-47 1 4 1-28 1 36 1 16 1-23 1 65 1-27 1 55 1-57 1-14 1-16 1 14 1 13 1 11 1-77 1 2 1 39 1-4 1 31 1-51 1 23 1 38 1-23 1 74 1-104 1 0 1 39 1-42 1-20 1 40 1-25 1 44 1 61 1-110 1 153 1-123 1 56 1-41 1-73 1 67 1 34 1-24 1 29 1 22 1-27 1-23 1-19 1-25 1 173 1-114 1-17 1-3 1 26 1-102 1 156 1-127 1 18 1 49 1 19 1 15 1-68 1 5 1 51 1-13 1 35 1-66 1 70 1-64 1 12 1-31 1 108 1-91 1 2 1-27 1-17 1 43 1-34 1 15 1 17 1-3 1-52 1 29 1 67 1-21 1 5 1-44 1-13 1 21 1 5 1 84 1-28 1-34 1 59 1-38 1-53 1 64 1-48 1 28 1-60 1 85 1-57 1 5 1 16 1 38 1 17 1-33 1 15 1-153 1 132 1 11 1 22 1-1 1-5 1 5 1-57 1 23 1-54 1 65 1-27 1 33 1-40 1-55 1 53 1 38 1 32 1-121 1-20 1 9 1 13 1 98 1-40 1 19 1-28 1-7 1-43 1 102 1-164 1 162 1-47 1 125 1-14 1-36 1-63 1 15 1-83 1 93 1-59 1 46 1 10 1-7 1-76 1 33 1 2 1-24 1 58 1 29 1-117 1 29 1 25 1 7 1 1 1 28 1-191 1 187 1-93 1 116 1-111 1 130 1-52 1-46 1 3 1 37 1-32 1 27 1-36 1-49 1 63 1 21 1 14 1-37 1 139 1-174 1 80 1-12 1 76 1-88 1 83 1-8 1-91 1 53 1-40 1 61 1-27 1-3 1-63 1 134 1-174 1 64 1-6 1 25 1 54 1-16 1-60 1 22 1-23 1 63 1 12 1-14 1-40 1 59 1 27 1-42 1-44 1 59 1-64 1-51 1 35 1 27 1-52 1 55 1-24 1-6 1 74 1-65 1 17 1 75 1-20 1-44 1-15 1-22 1 96 1-115 1 57 1 28 1-13 1-24 1-6 1 49 1-36 1-47 1 13 1 105 1-131 1 118 1-68 1 60 1-10 1 29 1-9 1-7 1-99 1 30 1 54 1-84 1 31 1 8 1 43 1-20 1 13 1-8 1-10 1 38 1-92 1 125 1-125 1 22 1-68 1 159 1-54 1-34 1-49 1 69 1-3 1 55 1-28 1-27 1-53 1 53 1-47 1-2 1 27 1-6 1 15 1 57 1-90 1 113 1-179 1 106 1 22 1 59 1-61 1 41 1-41 1-24 1 30 1-52 1 49 1-46 1 57 1 9 1-63 1 35 1 50 1-77 1-2 1-28 1-15 1 68 1-36 1 11 1 1 1-24 1-2 1-25 1 83 1-20 1 3 1-34 1-93 1 62 1-6 1 97 1-14 1-49 1-3 1 27 1 0 1 28 1-24 1 16 1-20 1 48 1-32 1-59 1 76 1-43 1 90 1-87 1 1 1 46 1-31 1 8 1-47 1 18 1 81 1-74 1 22 1 38 1-66 1-19 1 50 1 40 1-15 1 34 1 34 1-92 1 7 1 6 1 13 1-19 1 3 1 23 1-31 1-40 1 5 1 15 1 31 1-88 1 81 1 35 1 27 1-109 1 32 1 43 1-36 1-20 1 10 1 64 1-7 1-53 1 51 1-42 1-29 1 7 1 9 1 2 1 26 1 8 1 12 1-99 1 73 1-25 1 11 1-76 1 59 1 68 1 36 1-166 1 99 1 59 1-102 1 51 1-19 1-91 1 92 1-25 1 19 1 26 1-6 1-75 1-12 1 46 1 79 1-4 1-41 1 29 1-7 1-55 1-4 1-3 1 33 1-29 1-41 1 70 1-1 1-39 1 2 1 8 1-76 1 104 1 1 1 1 1-56 1 80 1-85 1-2 1 37 1 8 1 40 1-81 1 15 1 8 1-13 1 30 1 18 1 2 1-24 1-8 1-60 1 83 1-4 1 23 1-71 1 49 1-1 1-34 1-44 1 15 1-20 1 107 1-86 1 16 1-23 1 107 1-35 1-24 1 46 1-41 1-36 1 48 1-42 1 29 1 34 1-16 1-55 1 23 1 92 1 22 1-103 1 4 1-1 1 53 1-75 1 72 1-7 1-34 1-14 1-27 1 89 1-88 1-20 1-59 1 104 1 34 1 99 1-162 1 81 1 28 1-129 1 154 1-131 1 35 1 20 1-38 1 6 1-37 1 88 1-18 1-37 1 59 1-9 1-9 1-23 1 59 1-19 1 62 1-81 1-47 1 84 1-11 1-22 1-2 1-2 1 16 1-54 1 58 1-58 1-18 1-12 1-21 1 73 1-38 1 27 1-39 1 68 1 23 1-65 1-25 1 90 1-114 1 63 1-59 1 53 1-26 1 37 1 60 1-49 1 39 1-74 1-20 1 36 1-22 1 72 1-2 1-13 1-6 1 23 1-7 1-54 1-1 1 73 1-107 1 86 1-139 1 131 1-60 1-59 1 84 1-23 1 43 1 20 1-61 1-2 1-21 1 48 1-20 1 26 1-60 1 52 1-35 1-21 1 82 1 49 1 26 1-146 1 171 1-175 1 111 1-81 1 46 1-104 1 6 1 30 1 20 1 39 1-99 1 41 1 73 1-121 1 75 1-2 1 3 1-61 1 54 1 11 1-20 1 8 1-7 1 28 1 34 1 18 1-45 1-19 1-9 1-1 1-2 1 16 1-12 1-21 1-50 1 79 1-67 1 62 1-127 1 76 1 84 1-99 1 115 1-76 1 60 1 14 1-102 1 7 1 28 1 80 1-72 1 44 1 79 1-108 1 43 1-13 1-8 1-101 1 103 1 26 1 55 1-88 1-134 1 101 1-45 1 68 1-57 1 65 1-6 1-45 1 38 1 0 1 30 1 32 1-26 1 86 1-130 1 182 1-172 1-16 1 36 1 54 1 82 1-122 1 3 1-45 1 61 1 2 1-114 1 56 1 27 1 19 1-72 1 32 1 62 1-111 1 84 1 61 1-85 1 5 1 82 1-98 1 42 1-15 1-9 1 18 1-95 1 62 1-28 1 67 1 59 1-72 1-10 1 15 1 43 1-85 1 34 1-31 1 48 1 28 1-10 1-45 1-16 1-33 1 49 1-6 1 16 1-19 1 21 1-28 1-5 1 30 1-67 1-9 1 36 1 13 1 58 1-30 1 19 1-33 1 0 1-35 1 75 1 14 1-82 1 78 1-29 1-58 1 135 1-139 1 57 1-5 1-89 1 64 1-8 1 102 1-61 1-20 1-2 1-48 1 108 1-64 1-111 1 94 1 50 1 1 1-46 1 24 1 11 1-134 1 61 1 130 1-49 1 128 1-107 1-40 1-27 1-1 1-23 1 115 1-58 1 0 1-22 1-30 1 62 1-17 1 33 1 3 1-20 1-20 1 13 1 31 1 14 1-26 1 2 1 8 1-17 1 34 1 12 1-53 1 133 1-113 1 29 1-83 1-31 1 51 1-30 1 59 1-86 1 69 1 31 1-51 1 0 1 29 1-6 1-51 1-20 1 58 1-159 1 113 1-19 1 40 1 36 1-5 1-46 1-11 1 54 1 29 1 3 1 4 1 4 1-21 1-16 1 18 1 22 1-123 1 79 1-47 1 58 1-55 1-36 1 66 1-72 1 56 1 61 1-32 1-40 1 63 1-10 1-29 1-43 1 65 1 44 1-116 1 98 1-45 1-48 1 25 1 81 1-210 1 148 1 34 1-36 1-25 1 28 1 52 1-53 1-26 1 15 1-49 1 69 1 9 1-7 1 114 1-126 1 11 1 4 1 8 1 20 1-58 1 62 1-42 1 22 1 58 1-127 1 102 1-10 1-46 1 49 1-15 1 44 1-78 1-15 1 35 1-5 1-24 1 54 1-73 1 43 1-104 1 79 1 53 1-57 1 8 1-68 1 96 1-34 1 33 1-51 1 23 1 44 1-18 1-22 1 57 1-28 1-39 1 22 1-3 1-50 1 65 1-51 1 79 1-102 1 123 1 9 1-55 1 35 1 90 1-133 1 47 1-27 1-48 1-41 1 109 1-120 1-8 1 80 1-3 1 95 1-101 1 0 1 9 1 0 1-96 1 77 1-26 1 20 1-9 1-29 1 42 1-19 1 40 1-73 1 24 1-4 1 72 1-46 1 52 1-71 1 32 1 0 1 19 1-7 1-6 1 17 1 3 1 64 1-73 1-12 1 6 1 0 1 16 1-7 1-49 1 119 1-73 1 2 1-18 1-11 1-12 1 16 1-26 1-59 1 109 1-47 1-44 1 46 1-32 1 60 1-40 1 32 1 25 1 135 1-140 1-27 1 50 1-18 1-29 1 88 1-83 1 33 1 7 1-39 1 30 1 15 1 16 1 0 1-87 1 17 1 34 1-44 1-11 1 16 1 19 1 115 1-53 1-30 1 111 1-131 1-17 1 44 1-46 1 79 1-63 1 17 1-18 1 49 1-86 1 28 1 44 1-9 1 50 1-146 1 80 1-30 1-2 1-63 1 72 1 51 1-19 1-61 1 23 1 6 1 13 1-49 1 25 1 73 1-45 1-35 1 29 1-8 1 0 1 15 1-39 1 8 1 1 1 25 1 105 1-90 1 10 1 32 1-66 1-63 1 121 1 3 1-61 1 8 1 43 1-98 1 74 1-54 1-8 1 48 1-19 1 67 1-32 1 32 1 120 1-127 1-1 1 50 1-30 1-30 1-31 1 74 1-86 1 95 1-59 1 4 1-15 1 5 1-16 1 65 1-71 1-43 1 110 1-1 1 37 1-45 1-35 1-51 1 47 1-1 1 7 1 24 1-12 1-53 1-28 1 56 1 43 1-60 1 24 1 27 1-60 1-6 1 20 1-43 1 58 1-23 1 64 1-39 1-32 1 2 1-12 1 6 1-18 1 140 1-68 1-23 1-104 1 110 1-4 1 22 1 41 1-57 1-37 1-45 1 27 1 114 1-79 1 9 1 3 1-21 1-1 1-1 1 41 1-17 1-3 1 19 1-53 1 29 1-4 1-84 1-12 1 34 1 48 1-23 1-95 1 106 1 26 1 60 1-53 1 25 1-20 1-12 1-28 1 60 1-7 1-67 1-10 1-16 1 185 1-120 1 44 1-94 1 55 1 38 1-118 1 1 1 35 1 53 1-27 1 36 1-72 1 38 1-65 1 56 1 7 1-43 1-93 1 167 1-81 1-5 1-23 1 174 1-4 1-42 1 2 1 1 1-43 1-42 1 88 1-11 1 26 1-37 1-31 1 76 1-44 1 8 1 33 1-76 1-10 1-70 1 56 1 54 1-3 1 16 1-11 1 5 1 34 1-70 1 60 1-102 1 65 1-34 1-1 1 119 1-63 1-7 1 85 1-72 1-54 1 29 1-66 1 77 1-80 1 72 1-11 1 52 1 24 1-35 1-40 1-50 1 68 1-30 1 17 1 0 1 7 1-23 1 35 1 3 1-15 1 17 1-21 1 25 1-6 1-44 1 17 1-64 1 183 1-97 1-90 1 36 1 29 1 83 1-60 1-69 1-19 1 47 1 31 1-5 1 12 1-28 1 55 1 17 1-105 1 5 1 66 1 93 1-170 1 9 1 21 1 27 1-67 1 71 1-44 1 27 1 3 1-25 1 23 1-39 1 0 1 69 1-93 1 67 1-39 1 101 1-30 1-62 1 53 1 30 1-107 1 36 1 1 1 1 1 19 1 113 1-45 1-63 1-15 1 65 1-40 1-11 1 84 1-92 1 11 1-75 1 15 1 108 1 15 1-26 1 27 1-70 1 16 1-21 1-2 1 87 1-71 1 105 1-118 1 19 1-11 1-22 1-14 1-69 1 178 1-133 1 64 1-2 1 9 1-47 1 9 1 30 1-58 1 87 1-26 1 29 1-16 1-55 1 38 1-42 1 8 1 32 1 0 1-53 1-5 1 32 1 23 1-66 1 63 1-99 1-2 1 153 1-69 1-6 1-80 1 105 1-2 1-88 1 21 1 46 1 2 1 20 1-43 1-10 1 48 1 7 1-34 1-40 1 14 1-12 1 58 1 9 1-22 1 14 1 77 1-94 1 91 1-99 1 107 1 16 1-146 1-15 1 29 1 68 1-59 1 55 1-57 1 52 1-25 1-58 1 58 1-11 1-17 1 3 1 35 1-10 1-18 1 52 1-105 1 128 1-36 1 28 1-74 1-68 1 55 1 104 1-154 1 222 1-133 1 24 1 20 1-12 1-52 1 11 1-3 1 35 1 27 1-31 1 34 1-9 1-12 1-9 1-31 1-1 1-38 1 68 1-45 1 73 1 20 1-100 1 78 1-2 1-52 1 46 1 3 1-74 1 111 1-119 1 34 1 27 1-37 1-17 1-42 1 95 1-21 1-41 1 4 1 97 1-92 1 117 1-108 1-22 1-5 1 12 1-38 1 79 1-31 1 19 1-117 1 47 1 60 1-22 1 81 1-9 1 5 1-11 1 6 1-50 1 44 1-28 1 8 1 3 1-3 1-1 1-10 1 49 1-62 1-55 1 140 1-73 1 65 1-18 1-82 1 4 1 16 1 155 1-137 1 34 1-15 1-61 1 57 1 65 1-93 1 44 1 50 1-105 1-29 1 39 1-41 1-8 1 53 1 99 1-70 1 53 1-56 1 70 1-103 1 99 1-88 1 15 1 45 1-46 1-23 1 0 1 77 1-69 1-1 1-40 1 44 1-12 1-8 1 26 1-18 1-3 1 12 1 111 1-190 1 171 1-75 1 0 1-18 1 19 1-110 1 121 1-109 1 50 1 39 1-47 1 47 1-16 1-29 1 73 1 2 1-58 1 13 1-26 1 30 1-113 1 96 1 10 1 25 1 3 1 37 1-67 1 73 1-126 1 59 1-5 1 5 1 27 1-51 1 48 1-28 1 61 1 5 1-53 1 7 1-51 1 30 1-70 1 65 1-18 1 60 1-67 1 35 1-33 1 21 1 34 1-77 1 56 1 94 1-64 1-21 1-32 1 108 1-88 1 27 1-28 1-11 1-15 1 29 1 25 1-44 1 29 1-45 1 83 1 34 1-61 1 40 1-94 1 35 1-11 1 52 1-43 1 11 1 33 1 2 1-102 1 48 1 35 1-82 1 33 1 63 1-6 1 93 1-137 1 55 1-27 1-98 1 66 1 18 1 35 1 5 1-32 1 8 1-11 1 84 1 110 1-174 1 73 1-71 1-64 1 95 1-119 1 65 1 20 1-31 1-7 1-6 1 12 1 94 1-139 1 91 1-16 1 0 1-19 1 36 1 15 1-30 1-14 1-5 1-108 1 47 1 166 1-70 1-29 1 41 1 64 1 12 1-99 1-29 1-45 1 38 1 99 1-33 1-100 1-47 1 80 1 3 1 0 1-17 1 20 1-100 1 117 1-5 1-2 1 45 1-45 1-28 1-32 1 66 1 15 1-32 1-15 1 57 1 5 1-68 1 25 1-56 1 93 1-3 1-36 1 20 1 18 1-10 1-48 1-22 1 6 1-19 1 66 1-8 1 29" fill="none" stroke="#e6161e" stroke-width="0.6" vector-effect="non-scaling-stroke" stroke-linejoin="round"/>
<path transform="translate(26.450 0) scale(0.04876 0.1)" d="M0 1898l1-6 1-36 1-7 1 22 1-63 1 49 1-31 1-13 1 10 1-47 1-38 1-9 1-58 1 37 1 19 1-126 1 113 1-26 1-44 1 78 1-135 1 69 1 0 1-44 1 2 1-78 1 18 1 106 1-46 1-33 1 3 1-2 1-14 1 59 1-17 1-55 1-5 1-39 1-19 1 21 1 62 1-107 1 77 1 23 1-5 1-44 1 20 1-36 1-6 1 49 1-62 1 36 1-29 1 26 1 4 1 5 1-50 1 143 1-97 1-17 1-55 1 64 1 7 1-11 1 40 1-75 1-6 1-1 1 25 1 20 1-2 1 29 1-35 1-38 1 122 1-142 1 95 1-109 1 36 1 50 1 5 1-5 1-36 1 73 1-111 1 21 1-30 1 22 1 29 1-7 1-28 1-51 1 61 1-37 1 69 1-86 1 56 1-2 1-83 1 115 1-118 1 128 1-34 1-35 1 150 1-44 1-86 1 88 1-76 1 66 1-21 1-113 1 124 1 0 1-7 1-79 1 132 1-82 1-11 1-76 1 78 1 27 1-8 1-26 1-36 1 26 1 28 1 15 1 4 1 36 1-132 1 73 1 22 1 0 1-34 1-24 1 63 1-34 1-17 1 83 1-1 1-71 1 66 1-120 1-28 1 55 1 62 1-4 1 4 1 21 1-16 1 37 1-193 1 111 1 71 1 32 1-83 1-19 1-1 1-10 1 4 1 20 1-24 1 30 1 28 1-25 1 43 1-25 1-90 1 31 1-1 1-36 1 60 1 12 1 14 1-29 1-39 1 73 1-64 1 136 1-128 1 6 1 9 1 76 1-104 1 52 1 23 1-70 1 188 1-197 1 11 1 49 1-56 1 25 1 6 1 36 1-5 1-31 1 46 1-76 1 56 1 17 1-136 1 202 1-123 1 55 1-62 1 42 1 0 1-91 1 68 1-6 1 1 1-9 1-16 1 44 1-29 1 30 1-23 1-12 1 14 1 60 1-55 1-56 1 47 1 13 1-5 1-18 1 27 1 82 1-81 1-3 1 36 1-72 1-55 1 82 1-26 1-22 1 51 1 13 1-3 1-61 1 72 1-57 1-105 1 176 1-44 1 63 1-30 1-100 1 114 1-6 1-3 1-104 1 72 1 7 1-48 1-11 1 22 1 77 1-2 1-64 1 35 1-18 1-127 1 94 1-42 1 26 1 43 1-40 1 115 1-76 1 20 1 89 1-101 1-48 1 4 1-36 1 127 1-34 1 20 1-94 1 1 1 45 1-59 1 77 1-20 1-44 1 43 1-50 1 41 1 26 1-35 1 10 1 31 1-53 1 47 1-37 1-19 1 46 1-31 1 44 1-77 1 15 1 18 1 12 1 48 1-104 1 67 1 5 1-2 1 36 1-34 1-17 1 76 1-109 1 95 1-44 1 7 1 22 1-67 1 84 1-54 1-55 1 62 1 38 1-56 1-36 1 35 1 67 1-26 1-34 1 35 1 30 1-62 1 50 1-75 1 34 1-5 1-74 1 85 1 15 1 26 1-57 1 18 1 9 1 1 1-86 1 55 1 38 1-73 1 58 1 44 1-84 1-7 1-16 1 158 1-146 1 24 1 4 1 12 1-86 1 97 1 15 1-78 1 65 1-26 1-29 1 16 1 49 1-178 1 149 1-13 1 64 1-13 1-141 1-3 1 21 1 81 1-62 1 81 1-38 1 52 1-15 1 10 1-50 1 1 1 30 1-37 1 42 1 28 1-31 1-23 1-16 1 41 1 14 1-37 1-11 1 60 1-62 1 15 1-16 1-17 1 6 1 3 1-8 1-37 1 92 1-2 1-29 1-7 1-33 1 9 1-9 1-43 1 50 1 20 1 20 1 12 1-2 1-20 1-37 1 3 1-31 1 53 1-34 1 15 1 144 1-155 1 22 1 41 1-200 1 168 1-50 1 11 1-37 1-2 1 122 1-155 1 85 1 39 1-170 1 139 1 39 1-108 1 81 1-2 1-71 1 156 1-14 1-88 1-110 1 167 1 17 1 4 1-100 1-19 1 66 1-36 1 20 1 20 1-42 1 26 1 28 1-7 1 9 1-36 1-18 1 92 1-5 1 9 1-94 1-48 1 121 1-7 1 26 1 30 1-120 1 9 1 70 1-99 1 75 1 54 1-92 1-35 1 6 1 40 1-32 1-51 1 121 1-154 1 69 1-22 1 96 1-35 1-1 1-14 1-44 1 140 1-9 1-107 1 27 1 62 1-79 1-9 1 39 1-42 1 64 1 16 1-93 1-18 1 101 1 9 1-77 1-48 1 101 1-65 1 3 1-46 1 46 1-2 1 111 1-103 1 25 1 7 1-16 1-44 1 88 1-95 1 21 1-31 1-22 1 115 1 33 1-116 1 121 1-162 1 109 1-45 1 22 1-2 1-1 1 3 1 62 1 33 1-109 1 51 1-20 1-67 1 70 1 15 1-26 1 34 1-3 1-93 1-1 1 45 1 83 1 37 1-145 1-42 1 34 1 85 1-42 1-35 1 18 1 44 1-63 1 67 1-29 1-17 1-8 1 43 1-71 1-75 1 144 1-81 1-48 1 84 1 12 1 12 1-133 1 79 1 40 1-140 1 88 1 39 1 20 1 20 1-24 1-95 1 72 1 38 1-62 1 48 1-111 1-16 1 128 1-19 1-8 1-52 1 110 1-148 1 108 1-65 1-18 1-60 1 154 1-36 1 81 1-78 1-45 1 134 1-79 1 42 1 32 1-27 1-74 1 54 1-60 1-14 1 13 1 55 1-41 1 58 1-45 1 12 1-37 1 9 1 5 1 81 1-60 1-43 1 2 1 84 1-32 1-6 1 61 1 19 1-98 1 32 1-6 1-5 1 0 1 10 1-68 1 139 1-130 1 38 1-7 1-3 1 35 1-64 1 76 1-43 1 4 1-5 1-65 1 186 1-103 1-47 1-26 1 60 1 0 1-91 1 20 1-1 1 74 1 34 1-30 1 68 1-47 1-31 1-44 1 3 1 42 1 33 1-35 1-26 1 68 1-65 1 86 1-58 1 21 1-57 1 44 1 18 1 3 1-9 1-1 1-48 1-64 1 21 1 25 1-9 1 51 1-9 1-149 1 132 1-29 1-2 1-12 1 33 1 66 1-68 1 19 1-87 1 28 1 22 1 24 1-68 1 34 1 19 1-9 1 21 1 4 1 8 1-33 1-32 1 30 1 70 1-40 1-103 1 44 1 4 1 94 1-132 1 65 1-15 1-36 1-1 1 86 1-54 1-19 1 26 1 40 1 1 1-107 1-19 1 49 1 60 1 0 1-65 1 28 1-76 1 31 1 59 1 9 1-64 1 0 1-11 1-55 1 83 1 58 1-38 1-44 1 61 1 5 1-62 1 28 1-11 1 27 1-93 1 50 1 32 1-39 1-23 1 30 1-16 1 12 1 0 1 6 1 50 1-85 1 28 1-29 1 96 1-84 1 14 1 61 1-67 1 22 1 9 1-34 1 4 1-8 1-2 1 1 1 57 1-6 1-34 1 18 1-101 1 142 1-15 1-113 1 37 1-22 1 8 1 28 1 24 1 72 1-56 1-44 1-38 1-10 1 25 1-37 1 116 1 31 1-110 1 56 1-55 1 59 1-72 1 9 1-53 1-31 1 129 1-51 1 29 1 8 1-19 1 121 1-82 1-1 1 28 1-22 1-47 1-52 1 24 1-43 1 54 1-53 1-10 1 48 1 10 1-50 1 45 1 7 1-24 1 1 1 14 1-42 1 49 1 25 1-31 1-45 1 6 1 19 1-35 1 85 1-90 1-5 1 28 1 35 1-76 1 82 1-64 1 32 1-15 1-37 1 4 1 77 1-69 1 10 1 39 1-14 1-31 1 67 1-41 1 10 1-48 1-1 1 28 1 9 1 25 1-30 1-26 1 31 1 11 1-16 1-37 1 89 1-45 1 34 1-11 1 0 1-72 1-2 1 28 1 8 1 27 1-18 1 37 1-2 1-21 1 4 1-8 1-101 1 84 1-20 1-4 1 22 1 14 1 35 1-36 1-52 1 133 1-84 1 12 1 65 1-24 1-17 1 32 1 64 1-168 1 31 1-24 1 18 1-1 1 5 1-26 1 42 1 30 1-69 1 90 1-63 1 160 1-185 1 100 1-18 1 73 1-127 1 71 1 30 1-42 1-6 1-39 1-15 1 97 1-125 1 55 1 0 1 16 1-29 1-56 1 124 1 9 1-147 1 103 1-54 1-30 1 32 1 44 1-114 1 57 1-20 1 91 1-64 1-28 1 59 1 0 1-1 1-35 1 16 1-64 1 110 1-67 1-19 1-31 1 26 1-41 1 80 1-9 1-19 1-1 1 23 1 20 1 5 1-10 1-8 1 16 1-36 1-37 1 45 1 84 1-52 1 18 1-98 1 71 1 39 1-46 1-32 1-12 1 31 1-5 1 41 1-44 1 63 1-81 1-21 1 61 1 99 1-92 1-16 1 129 1-16 1-11 1-42 1-22 1-18 1-24 1 3 1 2 1 22 1-44 1-28 1 17 1 71 1 44 1-110 1 53 1-26 1-2 1 20 1 67 1-52 1-45 1-2 1-11 1 57 1-41 1-34 1-3 1 29 1 38 1-2 1-4 1-30 1 10 1 0 1-100 1 140 1-33 1 35 1-47 1 78 1-20 1-40 1 30 1-65 1-6 1 54 1-39 1 64 1 1 1-49 1 33 1-18 1 51 1-51 1-4 1-24 1 36 1 56 1-95 1 88 1-43 1 26 1-71 1-4 1 134 1-81 1 53 1-95 1 36 1 27 1-60 1 7 1 34 1-31 1 30 1-90 1 73 1 89 1-85 1 10 1 3 1-62 1 36 1-28 1 62 1-29 1-15 1 26 1-22 1 8 1-39 1-105 1 123 1 11 1 23 1 34 1 0 1-79 1 28 1-24 1 2 1 54 1 70 1-100 1-3 1 10 1 3 1-52 1-51 1 96 1 35 1 37 1-155 1 93 1-26 1-10 1 6 1 7 1-31 1 69 1-60 1-23 1-3 1 10 1 63 1-12 1-12 1 5 1-12 1 95 1-128 1 58 1-18 1 60 1-128 1 109 1-41 1-40 1 97 1-3 1 69 1-162 1 40 1 48 1-45 1-49 1 43 1 69 1-63 1-69 1 74 1 25 1 8 1 39 1-11 1-79 1 53 1 36 1-53 1 11 1-5 1 18 1 1 1-23 1 10 1-32 1 30 1-135 1 213 1-42 1-46 1 30 1-13 1 51 1-43 1-17 1-70 1 107 1-18 1-97 1-53 1 185 1-47 1-6 1-43 1 34 1-21 1-62 1 33 1-52 1 79 1 14 1 14 1 11 1-68 1 59 1-134 1 88 1 27 1-51 1 99 1-64 1 37 1-65 1 41 1-168 1 119 1 40 1-40 1 19 1 30 1-8 1 33 1 7 1-17 1-10 1-30 1 91 1-73 1 21 1-23 1 13 1-6 1-62 1 102 1-65 1-6 1-12 1-23 1 45 1 19 1-106 1 87 1-13 1-22 1-16 1 18 1 11 1-13 1 39 1-69 1 14 1-13 1 9 1-50 1 20 1 102 1-60 1 48 1 14 1-122 1 108 1-59 1 3 1 104 1-84 1 42 1 27 1-54 1 94 1-204 1 42 1 15 1 6 1 29 1 7 1 25 1-28 1 22 1 26 1-85 1 9 1-74 1 35 1 54 1-56 1 36 1 46 1-35 1-2 1 11 1-38 1 55 1-58 1 19 1 34 1 12 1-90 1 90 1-70 1 126 1-58 1-56 1 14 1-13 1-26 1 29 1-27 1-86 1 64 1 66 1-5 1-21 1-11 1-23 1 202 1-174 1 70 1-131 1 37 1-9 1 15 1 68 1-30 1-6 1 20 1-74 1 96 1-30 1-40 1 62 1-31 1-56 1 58 1 28 1-36 1 94 1-88 1 13 1-14 1-5 1 39 1-32 1 13 1-40 1 86 1-68 1 114 1-54 1 20 1 40 1-27 1 62 1-72 1-2 1-51 1 10 1-14 1 33 1 32 1 11 1 6 1-18 1-72 1 22 1 36 1-96 1 20 1-43 1 79 1-81 1 58 1 131 1-101 1 127 1-103 1-38 1 27 1-29 1 24 1 14 1 84 1-74 1-24 1 89 1 44 1-56 1-87 1 43 1 7 1-50 1-49 1 61 1-57 1 96 1-129 1 171 1-5 1-30 1 48 1 46 1-103 1 33 1-85 1 22 1-9 1-8 1 11 1 25 1-146 1 167 1-63 1 62 1 8 1-7 1-41 1 169 1-170 1 39 1-15 1 24 1-106 1 116 1-37 1-23 1 131 1-66 1-21 1 101 1-65 1-51 1 23 1-85 1 94 1-2 1-33 1 31 1 28 1 5 1-42 1 49 1-41 1 82 1-91 1 61 1-98 1-38 1 102 1-21 1-42 1 11 1 61 1-35 1-21 1 13 1 70 1-60 1-39 1 89 1-84 1 17 1-28 1 73 1-44 1-56 1 109 1-56 1 61 1-19 1-36 1 79 1-69 1 16 1-2 1 10 1-29 1 52 1-26 1 2 1-16 1 0 1 139 1-144 1-17 1 60 1 17 1-53 1 45 1-52 1 14 1 31 1 12 1 11 1-30 1-74 1 36 1 91 1-143 1 102 1-11 1 30 1-27 1 19 1 4 1-54 1-38 1 36 1 23 1-32 1-23 1-6 1 69 1-59 1-3 1 129 1-45 1-29 1-9 1 20 1-8 1 71 1-84 1 3 1-29 1 46 1 3 1-47 1 48 1-5 1 63 1 4 1-123 1 33 1 43 1-14 1-11 1-10 1 0 1 42 1-48 1 61 1-103 1 99 1 34 1-54 1 30 1-55 1 3 1-89 1 80 1 53 1-60 1 35 1-75 1 71 1-52 1 69 1-70 1 1 1 0 1 171 1-122 1 1 1 111 1-83 1-20 1 12 1-78 1 53 1-13 1 0 1 0 1 60 1-22 1-74 1 29 1-13 1 24 1 54 1 2 1-79 1 68 1-47 1-60 1 103 1-15 1-19 1-89 1 57 1 13 1-16 1-14 1 20 1-6 1-2 1 5 1 57 1-41 1-23 1-19 1 28 1 87 1-101 1 58 1 11 1-147 1 135 1-14 1-22 1-41 1 87 1-103 1 153 1-25 1-80 1 198 1-102 1-68 1 37 1-52 1 68 1 2 1-76 1 78 1-8 1 24 1-39 1-82 1 145 1-35 1-86 1 56 1-11 1 24 1-66 1 24 1-71 1 90 1 59 1-57 1-11 1-18 1 15 1 43 1-31 1-28 1 50 1-60 1 35 1 9 1-2 1 13 1 23 1-70 1 73 1-71 1 106 1-53 1 54 1-46 1 6 1-20 1 24 1-23 1-6 1-78 1 54 1 4 1-10 1 50 1-25 1 46 1-5 1-113 1 88 1-72 1 119 1-15 1 63 1-21 1 17 1 10 1-39 1-33 1-1 1 112 1-44 1-85 1-5 1 65 1-42 1 39 1-13 1 74 1-48 1-10 1-7 1-15 1-12 1 47 1-8 1 34 1-53 1 59 1-86 1 41 1 10 1-16 1 78 1-82 1-45 1 61 1-17 1-7 1-35 1 34 1-155 1 195 1 12 1-102 1 17 1 15 1 6 1 21 1-70 1-14 1 70 1 1 1-40 1 60 1-60 1 30 1-13 1 6 1 106 1-121 1 38 1-83 1 11 1 15 1 15 1 74 1-19 1-1 1-72 1 41 1 42 1 32 1-14 1-68 1 47 1-18 1-22 1-48 1 68 1-76 1 61 1 7 1 25 1 12 1-41 1-88 1 117 1-17 1 35 1-5 1-10 1 144 1-117 1 10 1-68 1 21 1-37 1 41 1 48 1-104 1 166 1-101 1-149 1 184 1 55 1-47 1-80 1 79 1-35 1 20 1-7 1 25 1-39 1 49 1-36 1 21 1-47 1 74 1-83 1 118 1-158 1 90 1-39 1 44 1-36 1-80 1 74 1 29 1 9 1 24 1 45 1-61 1-61 1 29 1-7 1-6 1 59 1-55 1 78 1-54 1-44 1-4 1 10 1-71 1 82 1-5 1-49 1 110 1-58 1 7 1 33 1-30 1-20 1-90 1 221 1-53 1-131 1 96 1 34 1 85 1-166 1 103 1-56 1 8 1-1 1-45 1-37 1 36 1 12 1-84 1 21 1 149 1 24 1-165 1 19 1 42 1 33 1 12 1-46 1-16 1 80 1-87 1 11 1-9 1-34 1-27 1 102 1-28 1 9 1 147 1-59 1-241 1 114 1 21 1 83 1-15 1-36 1-56 1 82 1-15 1-11 1-34 1 68 1 17 1-36 1-17 1 22 1-31 1 79 1-78 1 45 1-65 1-23 1 62 1-61 1 31 1-9 1 15 1-49 1 75 1-25 1 32 1-51 1 33 1 68 1-50 1-78 1 56 1-24 1 29 1 79 1-87 1 37 1 18 1 4 1-86 1 69 1 0 1 27 1-9 1 17 1-54 1 89 1-69 1-83 1 127 1-120 1 37 1 8 1-9 1 59 1 12 1-71 1 9 1-20 1 16 1 32 1-23 1 83 1-104 1 9 1 109 1 18 1-56 1-7 1 49 1-168 1 102 1 8 1-28 1-18 1 126 1-147 1 16 1 26 1-26 1-136 1 176 1 7 1 19 1-16 1-15 1 59 1-27 1 49 1-62 1 71 1-125 1 66 1-37 1 112 1-124 1 61 1 80 1-58 1-7 1 40 1-32 1-39 1-40 1 43 1 35 1-49 1 22 1-18 1 29 1-64 1-36 1 63 1 46 1-9 1 13 1 17 1-14 1 6 1-13 1-67 1-32 1 98 1-38 1 35 1-63 1 43 1-13 1-5 1-2 1 72 1 1 1-11 1 26 1-44 1-111 1 85 1-10 1 52 1-37 1-18 1-31 1 42 1 25 1-23 1-16 1-34 1 83 1-87 1 2 1 19 1 21 1 26 1 20 1-41 1 40 1-15 1 83 1 36 1-121 1 62 1-167 1 139 1-26 1-3 1-46 1-34 1 118 1-48 1 49 1-100 1 12 1-3 1-1 1 13 1-37 1 38 1 43 1-69 1 71 1 31 1-78 1-5 1-33 1 26 1 9 1-39 1 46 1 41 1-56 1-35 1 55 1-34 1-5 1 0 1-55 1 158 1-77 1 11 1-22 1 75 1-42 1-4 1 17 1-37 1-16 1 12 1 2 1-1 1-170 1 141 1-5 1 23 1-42 1 29 1 36 1-48 1 100 1-40 1-22 1-13 1 52 1-34 1-52 1 26 1 59 1-1 1-86 1 35 1 13 1-9 1-54 1 130 1-73 1 43 1-11 1 5 1 0 1-61 1 15 1-18 1 33 1 35 1-53 1 106 1-126 1 85 1 10 1-40 1 2 1 46 1 54 1-138 1-33 1 32 1-88 1 173 1-59 1-32 1-60 1 96 1 32 1 37 1 14 1-78 1 33 1-88 1 30 1-9 1-18 1 65 1 32 1-54 1 78 1-133 1-1 1 35 1-20 1-33 1 94 1-40 1-41 1 21 1 2 1 6 1-6 1 13 1-33 1 22 1-5 1 11 1 8 1-1 1-28 1-1 1 29 1 14 1 21 1-25 1-45 1-3 1-23 1 115 1-50 1 10 1-8 1 22 1-10 1-90 1 106 1-63 1 83 1-83 1-3 1 45 1 50 1-17 1 4 1-67 1 66 1-6 1 13 1-39 1 65 1-76 1 26 1 37 1-52 1-91 1 124 1 1 1-54 1 30 1-64 1 7 1 93 1-94 1 82 1-51 1 26 1-23 1 13 1-29 1 34 1-71 1 39 1 87 1-11 1-123 1 116 1-64 1 40 1-1 1-33 1-63 1 33 1 81 1-107 1 108 1-29 1 111 1-99 1 30 1-27 1-30 1 19 1 16 1 54 1-46 1-46 1 2 1 70 1-104 1 26 1-28 1 105 1-51 1 73 1-76 1 14 1-14 1 8 1-22 1 29 1-36 1 22 1-22 1 16 1-5 1 9 1-2 1 13 1 83 1-87 1-32 1 74 1-9 1-90 1 38 1 46 1-89 1 26 1-69 1 128 1-1 1 5 1-39 1-53 1 60 1-99 1 146 1-41 1-12 1 34 1-44 1-4 1 87 1-148 1 15 1 12 1 21 1 4 1 0 1 96 1-79 1-13 1 68 1-86 1 25 1 6 1 34 1-94 1 99 1-4 1-51 1-5 1 2 1 17 1 8 1 55 1-81 1 77 1 105 1-161 1-60 1 71 1-39 1 75 1 6 1-46 1 48 1-25 1-81 1 64 1-4 1 29 1-42 1-7 1 68 1-192 1 82 1 92 1-15 1-20 1 24 1-95 1 105 1-12 1 46 1-93 1 70 1 19 1-33 1 19 1-79 1 70 1-85 1 92 1 3 1-103 1 77 1 2 1 141 1-130 1-54 1 50 1-46 1 30 1 13 1 44 1-45 1 14 1-20 1-52 1 23 1-14 1-37 1-43 1 110 1-63 1 23 1 25 1-36 1 6 1 10 1-34 1 84 1-33 1-14 1 29 1-2 1-59 1-25 1 61 1 68 1-21 1-52 1 26 1 55 1-83 1 13 1-18 1-77 1 71 1 22 1 18 1-82 1 162 1-84 1 17 1-12 1-138 1 171 1-86 1 18 1 14 1-52 1 56 1 44 1-65 1 8 1 80 1-60 1-104 1-21 1 151 1-43 1 94 1-87 1 8 1 1 1 3 1-32 1 16 1 41 1-87 1 93 1-44 1 6 1-7 1 45 1-38 1 39 1-42 1 43 1-45 1 53 1-31 1-33 1-4 1 23 1 72 1-79 1-8 1 8 1-6 1 25 1-14 1 16 1-33 1 6 1 39 1-25 1 57 1 25 1-77 1-45 1-28 1 50 1 26 1-19 1 72 1-28 1 41 1-73 1-33 1 97 1-5 1-6 1-7 1-56 1 23 1-14 1 76 1-84 1-109 1 100 1 97 1 116 1-184 1 36 1 48 1-17 1-66 1 8 1 49 1-27 1-32 1 66 1-20 1-32 1 32 1 7 1-32 1 24 1 15 1 64 1-30 1-24 1-5 1 33 1-33 1 11 1-10 1 7 1-1 1-99 1 38 1-1 1 106 1-60 1-17 1 44 1-7 1-39 1 14 1 22 1-39 1 29 1-27 1 37 1-68 1-4 1-13 1 57 1-31 1 33 1-62 1-66 1 65 1 95 1-84 1 9 1 26 1 50 1-83 1 35 1 10 1 43 1-15 1-3 1-44 1-54 1 53 1-3 1 25 1-61 1 94 1 3 1-100 1 119 1-3 1-69 1 39 1 4 1-42 1 34 1-140 1 98 1 81 1-67 1 17 1 15 1-29 1 85 1-107 1 16 1 103 1-74 1 6 1-10 1-17 1-9 1 1 1-9 1-28 1 64 1-38 1-2 1 40 1-38 1-10 1-51 1 4 1 72 1 15 1-57 1 40 1-73 1 49 1 57 1-53 1-43 1 86 1-146 1 90 1 3 1-11 1 47 1-17 1-134 1 117 1 110 1-80 1-87 1 45 1 92 1-77 1 5 1 19 1 17 1 21 1-190 1 151 1-36 1-19 1 77 1-97 1 71 1-19 1 84 1-58 1-31 1-12 1 26 1 34 1-63 1 99 1-8 1-60 1-16 1 55 1-75 1 1 1 25 1 33 1 21 1-13 1 12 1-49 1-52 1 44 1 31 1 0 1 23 1-17 1 30 1-99 1 46 1-2 1-3 1 50 1-13 1-27 1 13 1 61 1-100 1 59 1 76 1-123 1-26 1 59 1-51 1 2 1-38 1 74 1-23 1 37 1 11 1 4 1 62 1-220 1 197 1-81 1-14 1 12 1 61 1-54 1 55 1-89 1 42 1 181 1-211 1 44 1-19 1 42 1 34 1-72 1 22 1 39 1-92 1 103 1 0 1-104 1-2 1 56 1-43 1 28 1-91 1 32 1 11 1 88 1 8 1 109 1-124 1-62 1 76 1-49 1 70 1-52 1-12 1 69 1-81 1 52 1-44 1-33 1 46 1-19 1 42 1-106 1 66 1 22 1-71 1 43 1 37 1-69 1 22 1 23 1-38 1 68 1 79 1-121 1-117 1 130 1 6 1 39 1-76 1 23 1-1 1 21 1-3 1 25 1-1 1 69 1-92 1 156 1-169 1 60 1-81 1 40 1 42 1-133 1 70 1 41 1 46 1-199 1 181 1-50 1 18 1 55 1-84 1 30 1 10 1 6 1 17 1-122 1 49 1 36 1-17 1 79 1-8 1 22 1-43 1-59 1 86 1-117 1 44 1 67 1-66 1-46 1 98 1-58 1-39 1 70 1-26 1 12 1 21 1 154 1-218 1 32 1-7 1 174 1-119 1-41 1 36 1-64 1-16 1 72 1-115 1 20 1 70 1 4 1 3 1-47 1 56 1-45 1 62 1 87 1-134 1 31 1 20 1-62 1 21 1 31 1-54 1 15 1-75 1 80 1-45 1 100 1-53 1 39 1-38 1-35 1 51 1-18 1 9 1 96 1-57 1-119 1 72 1-43 1-99 1 163 1-41 1 59 1-55 1 52 1-11 1 57 1-32 1-62 1-3 1 71 1-43 1 164 1 4 1-147 1-42 1 19 1-37 1 65 1-148 1 38 1 90 1-68 1 77 1 23 1-65 1 28 1-9 1-33 1-29 1 47 1-11 1 46 1 4 1-42 1-41 1 38 1 15 1 1 1-63 1 100 1-29 1-13 1 55 1-30 1-4 1 68 1 8 1-153 1 60 1 38 1-175 1 156 1 107 1-156 1 22 1 65 1-36 1-6 1 67 1-54 1 42 1-1 1-36 1 33 1-71 1 69 1-68 1 118 1-71 1-20 1 59 1-59 1 133 1-120 1-18 1 47 1-90 1 81 1-98 1 71 1-33 1 15 1-41 1 77 1-10 1-6 1 24 1-18 1 27 1-27 1 16 1-45 1 33 1-3 1-4 1-54 1 14 1 62 1-32 1-10 1 0 1 18 1 14 1 29 1-36 1-52 1 24 1 9 1-85 1 44 1 122 1-56 1-46 1 79 1-95 1 139 1-38 1-40 1-10 1-7 1 13 1-96 1 109 1 15 1-36 1 66 1-77 1 44 1-61 1 106 1-54 1 9 1 35 1-82 1 29 1 17 1-41 1 1 1 100 1-100 1-26 1 38 1 37 1-22 1-14 1 15 1 55 1-53 1 86 1-165 1 67 1 55 1 13 1-47 1-11 1-25 1 32 1-58 1 37 1 96 1-40 1-45 1-73 1 122 1-16 1-35 1-141 1 94 1 72 1 2 1-34 1-67 1 71 1-6 1 74 1-53 1 20 1-76 1 56 1 16 1-41 1 9 1-34 1 30 1 85 1-51 1 17 1-42 1 6 1 2 1 49 1 35 1-58 1-48 1 11 1 7 1-37 1 36 1 53 1-133 1 77 1-23 1 16 1-14 1 37 1-11 1 7 1 52 1-28 1-13 1-81 1 50 1-59 1 12 1-39 1 65 1 55 1-19 1-60 1 55 1 17 1-87 1 50 1 30 1 10 1-56 1 60 1 10 1-49 1 37 1-71 1 67 1-24 1-26 1 50 1 22 1-26 1 19 1 11 1 58 1-45 1-120 1 63 1 69 1-100 1 17 1-34 1 95 1-99 1 133 1-50 1-25 1 17 1-29 1 26 1-21 1-26 1 74 1-106 1 31 1 67 1 150 1-177 1 10 1 42 1-24 1 44 1-84 1-11 1-5 1-48 1 88 1 7 1 32 1-55 1 12 1 22 1-34 1-85 1 37 1 81 1-36 1 5 1-34 1 70 1-67 1 68 1-38 1-6 1 39 1 18 1-58 1 53 1 12 1-64 1-15 1 81 1-45 1-27 1 42 1-11 1-1 1-3 1 9 1 40 1 33 1-90 1 53 1-49 1 45 1 0 1-69 1-38 1 72 1-43 1 9 1-72 1 44 1 56 1-16 1 39 1-13 1 44 1 8 1-44 1-16 1-89 1 98 1-13 1-35 1 27 1-65 1 76 1 19 1-35 1 74 1-12 1-66 1 5 1 41 1-59 1 14 1 22 1-40 1-6 1 70 1 88 1-132 1-5 1-6 1 19 1-49 1 55 1-12 1 12 1-31 1 88 1-81 1 33 1-59 1 41 1 41 1-69 1-2 1 52 1 15 1-112 1 51 1 2 1 109 1-69 1-16 1-5 1-98 1 76 1 9 1-88 1 122 1-10 1-123 1 92 1-22 1 22 1 161 1-134 1 15 1-13 1 169 1-142 1-49 1 31 1-49 1 85 1-12 1-62 1 11 1 45 1 8 1-70 1-14 1 8 1-17 1 36 1 76 1-10 1-75 1 26 1 72 1-102 1 9 1 61 1-34 1-17 1 43 1 31 1 13 1 46 1-235 1 42 1 67 1 55 1-80 1-133 1 101 1 75 1-88 1 27 1 59 1-27 1 40 1-21 1-10 1-10 1 40 1-44 1 1 1 44 1-46 1 5 1 47 1-60 1 12 1 153 1-189 1 11 1 94 1-122 1 15 1 54 1 55 1-25 1-134 1 133 1-27 1 33 1 16 1-76 1-24 1 83 1-17 1-14 1-6 1 14 1-96 1 94 1-39 1 2 1-22 1 55 1 19 1-24 1 19 1-12 1-13 1-47 1 37 1-19 1 6 1-36 1 113 1-109 1 87 1 19 1-31 1-47 1 115 1-110 1-1 1-37 1 45 1-57 1 38 1 5 1-1 1 17 1 61 1-33 1-36 1 80 1-200 1 191 1 57 1-128 1 7 1-80 1 20 1 155 1-77 1-41 1-24 1 39 1-2 1-9 1 78 1-36 1 7 1-24 1 35 1-38 1 11 1 69 1-94 1 19 1-20 1 42 1 48 1-71 1-55 1 71 1-35 1-61 1 90 1-34 1 22 1-14 1 13 1 6 1 49 1-27 1-154 1 103 1 54 1 17 1-48 1 32 1-127 1 105 1-8 1-9 1 55 1-27 1-4 1-53 1 100 1-38 1-20 1 50 1-118 1 28 1 102 1-52 1 72 1-112 1 46 1-160 1 157 1 13 1 27 1-81 1 46 1 18 1-13 1-11 1 11 1 51 1-38 1-49 1 13 1 104 1-125 1 2 1-10 1 62 1-55 1 25 1-34 1-9 1 59 1-37 1 101 1-110 1 88 1-34 1-74 1 59 1 8 1-14 1 16 1-32 1-31 1 154 1-108 1-1 1 23 1-8 1 7 1-48 1-27 1 51 1 18 1-123 1 3 1 131 1-100 1 10 1 13 1 14 1 7 1 41 1-171 1 170 1-6 1 6 1-110 1 51 1 22 1-70 1-49 1 143 1-1 1 100 1-81 1-19 1 36 1-9 1-1 1 23 1-85 1 91 1 39 1-8 1-35 1 35 1-109 1 91 1-129 1 82 1 75 1-20 1-156 1 95 1-29 1 31 1-25 1 31 1-21 1 42 1 92 1-183 1 54 1 111 1-81 1 49 1-68 1 12 1-13 1 65 1-95 1 84 1 64 1-66 1 3 1 2 1 60 1-71 1-28 1-102 1-47 1 121 1 74 1 30 1-160 1 56 1 41 1-14 1-51 1 22 1-15 1 47 1-45 1-56 1 9 1 38 1-49 1 165 1-202 1 49 1 40 1-60 1 55 1-87 1 76 1 117 1-107 1 6 1 52 1-38 1 52 1-24 1 5 1 39 1-11 1-1 1 5 1 3 1-2 1-52 1-8 1 94 1-77 1 39 1-1 1-15 1-83 1 66 1-4 1-53 1 56 1-104 1 142 1-153 1 178 1-91 1 115 1-28 1-57 1 29 1-28 1 21 1-63 1 75 1 10 1-117 1 71 1-1 1 13 1-58 1 48 1 24 1-12 1-13 1-38 1 42 1-42 1 39 1-10 1-27 1 57 1-83 1-22 1 113 1-46 1-36 1 20 1-25 1 76 1-10 1 0 1 30 1-63 1 149 1-134 1 32 1-21 1 31 1-78 1-20 1 60 1-18 1-6 1 17 1 27 1 9 1-56 1 33 1-1 1 15 1-47 1 117 1-39 1-67 1 21 1 1 1 33 1-136 1 95 1 31 1 26 1 13 1-38 1-17 1-97 1 143 1-34 1-17 1 27 1-67 1 61 1-29 1 134 1-73 1 8 1-93 1-26 1 69 1-36 1-50 1 90 1-79 1-7 1 57 1 32 1 47 1-23 1-105 1 58 1 5 1 89 1-17 1-80 1-7 1-17 1-3 1 21 1 80 1-70 1-18 1 1 1-44 1 130 1-56 1 14 1-2 1-13 1-67 1 0 1 72 1 7 1-47 1-12 1-35 1 27 1-37 1 9 1 52 1-35 1-3 1-34 1 29 1 0 1 31 1-40 1 18 1-74 1 2 1 50 1-55 1 65 1-13 1-62 1 29 1-23 1 67 1-105 1 4 1 51 1-85 1 35 1 46 1-73 1-15 1 35 1 19 1-15 1-1 1 39 1-12 1-34 1-87 1 81 1 39 1 36 1-74 1 35 1-26 1-53 1 73 1 53 1-25 1-45 1-13 1-48 1 84 1-22 1-41 1 59 1-76 1 88 1 11 1-50 1 45 1-63 1 37 1 54 1-76 1 85 1-141 1 81 1 35 1-15 1-149 1 158 1-31 1 13 1-10 1-28 1 29 1-28 1 6 1 57 1-76 1-23 1 72 1-122 1 180 1-128 1 141 1-101 1-53 1 55 1 33 1-37 1 26 1-101 1 39 1-2 1 42 1 81 1-126 1 4 1 96 1-13 1-88 1-12 1 72 1-81 1 38 1 22 1-28 1-52 1 68 1-3 1 36 1-16 1-94 1 92 1-57 1 63 1-4 1 25 1-75 1-19 1 33 1 59 1-54 1 16 1-30 1-62 1-56 1 78 1 35 1 26 1-16 1-41 1-13 1-9 1 196 1-170 1 31 1-84 1 75 1-24 1 26 1 25 1-4 1-45 1-32 1 49 1 82 1-23 1-75 1 22 1 19 1-32 1-27 1 90 1 18 1-83 1 14 1 49 1-103 1-15 1 85 1 2 1-33 1 22 1-31 1 53 1 28 1-36 1-46 1 131 1-97 1-70 1-40 1 101 1 8 1 53 1-16 1-57 1 86 1-72 1 21 1 34 1-52 1-4 1 104 1-177 1 87 1 41 1-65 1 68 1-69 1-7 1 60 1-26 1-39 1 8 1 51 1-88 1 96 1-52 1 13 1 38 1-27 1-10 1-10 1-51 1 21 1 55 1 11 1-81 1 34 1 4 1-9 1-59 1 106 1 29 1 37 1-136 1 1 1-15 1-135 1 177 1 69 1-40 1-49 1 20 1 30 1-31 1-3 1 65 1 17 1-54 1 1 1-19 1-4 1-57 1 93 1-27 1-11 1-26 1-105 1 94 1-59 1 55 1 57 1-90 1 64 1-81 1-1 1 119 1-106 1 22 1 26 1-11 1 34 1-92 1 47 1-19 1 63 1-45 1 122 1-97 1 52 1-110 1 63 1-77 1 116 1-18 1-48 1 56 1-29 1 8 1-97 1 56 1-59 1 143 1-79 1 109 1-87 1 2 1 26 1 24 1 46 1-32 1 1 1-36 1-34 1 38 1-26 1 163 1-138 1-83 1 180 1-103 1 42 1-5 1 31 1 74 1-139 1 19 1 19 1-5 1-18 1 15 1 31 1-66 1 37 1 1 1-59 1 8 1 66 1-30 1-21 1 2 1 58 1 20 1-80 1-10 1-23 1 75 1-14 1-8 1-56 1 59 1 1 1-39 1-54 1 102 1-50 1 7 1-5 1-62 1 83 1 75 1-144 1 79 1-68 1 113 1-72 1 8 1 40 1 33 1 20 1-81 1-34 1 54 1 40 1-32 1-7 1 0 1 25 1 65 1-54 1-1 1-29 1-42 1 74 1-107 1 70 1 15 1-20 1-45 1-15 1 37 1 36 1 15 1-17 1-16 1 107 1-83 1-45 1 104 1-186 1 91 1 65 1-13 1-11 1-62 1 36 1-14 1 38 1 46 1-13 1 49 1-80 1 5 1-40 1 53 1 58 1-46 1-33 1 1 1 140 1-144 1 123 1-121 1-29 1 60 1 30 1-71 1-15 1 62 1 13 1-9 1-52 1 99 1 6 1 1 1-114 1 60 1 55 1-33 1-93 1 80 1 13 1 6 1-74 1 33 1-80 1 53 1 18 1 26 1 24 1-14 1 14 1 51 1-88 1 47 1 109 1-123 1-14 1 23 1-29 1-9 1 17 1 5 1-2 1-56 1 59 1 9 1-19 1 5 1 57 1-75 1 6 1-13 1 53 1 2 1-34 1 30 1-98 1 47 1 30 1-34 1 19 1 4 1 80 1-177 1 116 1-11 1-19 1 43 1-43 1 20 1 33 1-31 1 7 1 46 1-105 1 74 1-61 1 10 1-8 1 32 1-98 1 18 1 127 1-118 1-50 1 106 1-30 1 46 1 32 1 4 1-67 1 14 1-76 1 83 1-7 1-72 1 147 1-81 1 33 1-32 1-54 1 98 1-59 1 10 1 51 1-31 1-40 1 31 1-98 1-27 1 54 1-95 1 177 1-54 1 44 1 8 1-10 1-2 1 24 1-20 1 32 1-102 1 32 1 96 1-38 1-55 1 75 1-55 1 5 1 83 1-128 1-1 1 41 1 4 1-5 1-18 1 6 1 4 1 6 1 47 1-46 1-45 1 59 1-46 1-21 1 55 1-3 1 17 1-29 1 52 1-65 1 94 1-9 1-161 1 103 1-42 1 0 1 29 1-12 1 5 1 18 1 36 1-34 1 0 1 1 1-26 1-9 1 14 1-77 1 120 1-115 1 105 1-57 1 62 1-52 1-20 1-2 1 35 1 73 1-37 1-9 1 25 1 70 1-84 1 103 1-59 1-99 1 1 1 50 1 47 1-38 1-27 1 39 1-21 1-55 1-2 1 54 1-87 1 65 1 12 1 17 1-20 1 6 1-23 1 28 1-18 1-81 1 74 1 17 1-17 1-38 1 51 1 14 1-25 1 12 1 1 1-46 1 28 1-16 1 61 1-11 1-52 1 78 1-53 1-23 1 75 1-75 1 27 1-125 1 116 1-83 1 29 1-12 1 72 1-142 1 38 1 45 1 25 1 67 1-75 1 7 1 47 1-63 1-4 1 37 1 9 1 50 1-52 1 27 1-105 1 30 1 52 1 21 1-61 1 0 1 51 1 10 1-62 1 8 1 60 1 93 1-127 1-45 1 58 1-26 1-49 1 21 1-116 1 16 1 220 1-40 1-69 1 1 1 42 1-21 1-7 1-11 1-35 1 37 1-3 1 62 1-13 1 42 1-99 1 62 1-42 1 32 1-38 1 23 1-7 1 7 1 92 1-106 1-10 1 8 1 31 1-61 1 47 1-24 1-2 1 18 1 8 1-44 1-6 1 53 1 5 1-29 1 67 1-134 1-55 1 147 1 20 1-37 1-33 1 62 1-40 1 16 1-17 1 14 1-34 1 6 1-29 1 49 1-48 1 4 1-42 1 9 1 103 1-22 1 34 1-108 1 149 1-22 1-23 1-14 1 44 1-86 1-96 1 128 1 0 1-21 1 29 1 94 1-111 1 11 1 27 1 49 1-6 1-127 1 175 1 18 1-108 1-14 1 56 1-19 1-46 1 45 1-114 1 38 1 53 1-58 1 63 1-67 1 19 1 23 1-39 1-32 1 27 1-23 1 78 1-137 1 79 1 60 1-40 1 20 1-67 1 80 1-17 1-2 1-31 1-9 1 1 1-19 1 121 1-107 1 27 1 30 1-36 1 49 1 2 1-14 1-48 1-34 1 32 1-8 1 65 1-59 1-9 1 125 1-64 1-50 1 84 1-30 1-3 1-38 1-29 1 25 1-73 1 147 1-45 1-15 1 36 1-35 1 14 1-39 1 83 1-2 1-97 1 37 1 10 1 27 1-53 1 5 1 28 1 27 1 26 1-71 1 56 1-58 1-7 1 61 1-38 1 23 1 34 1-85 1 73 1-109 1 59 1-6 1 17 1-35 1 85 1-119 1 128 1-8 1-25 1 2 1-8 1-65 1 63 1 8 1-76 1 142 1-23 1-23 1-21 1 13 1-6 1 10 1-70 1 50 1-6 1 5 1 8 1-75 1 35 1 148 1-86 1 21 1-7 1-30 1-17 1 23 1-20 1-51 1 100 1-58 1 53 1-72 1 31 1-58 1 97 1-91 1 20 1 9 1-11 1 39 1 26 1-31 1-5 1 38 1-71 1-34 1 13 1-7 1 86 1-60 1-2 1 38 1-33 1 31 1-37 1 68 1-12 1 13 1 1 1-30 1 5 1 61 1-11 1-65 1-5 1-37 1-1 1 104 1-10 1-48 1-33 1-57 1 41 1 57 1-60 1-5 1-11 1-48 1 75 1-51 1 73 1 55 1-84 1-58 1-8 1 96 1-75 1 40 1 26 1 28 1-8 1-38 1-31 1 20 1 57 1 18 1-23 1-45 1-115 1 114 1 85 1-18 1-49 1-1 1 8 1-79 1 72 1 89 1-108 1 79 1-46 1 17 1 106 1-75 1-125 1 104 1-85 1 23 1 10 1 54 1-31 1-66 1 50 1-3 1 39 1-26 1 20 1-42 1 70 1-36 1 43 1-66 1 40 1-66 1 23 1 43 1-40 1 70 1-111 1-22 1 51 1-26 1 23 1 25 1-72 1 36 1 27 1-46 1 65 1 14 1-39 1-31 1 103 1-90 1 33 1 9 1-2 1-24 1 28 1-54 1 48 1-3 1 12 1 19 1-60 1 80 1 23 1-55 1 141 1-119 1-67 1 99 1 15 1-106 1 4 1-48 1 37 1 67 1 3 1-20 1-24 1 39 1-14 1-2 1-1 1-2 1-58 1 42 1 36 1-190 1 146 1 37 1-32 1 5 1-5 1-3 1 67 1-5 1-58 1 48 1-21 1 9 1-15 1 11 1 94 1-70 1-97 1 111 1-8 1-15 1-83 1 146 1-2 1-54 1 19 1-72 1 25 1 40 1-51 1 65 1-47 1 5 1-2 1-96 1 52 1 76 1-97 1 118 1-52 1-30 1-5 1 49 1 27 1-21 1-40 1 42 1-63 1 19 1-51 1 27 1 84 1-43 1-39 1 80 1-135 1 101 1-58 1 45 1 15 1-5 1 3 1 30 1-24 1 59 1 21 1-130 1 99 1-100 1 97 1-61 1 44 1-57 1 9 1-39 1-12 1 70 1 43 1-83 1 53 1 32 1-123 1 28 1 25 1 22 1 25 1-72 1 50 1-16 1-123 1 137 1 6 1-21 1-26 1 74 1 12 1-83 1-20 1 52 1-20 1 0 1 42 1-72 1 47 1-29 1 35 1-3 1-39 1 15 1 40 1 2 1 10 1-17 1-19 1-5 1 26 1 16 1-18 1-20 1-29 1 9 1-2 1 40 1 2 1-48 1 91 1-5 1-73 1 56 1 32 1-42 1-39 1 12 1 8 1-80 1 38 1 54 1-19 1-4 1 11 1 77 1-64 1 26 1-22 1-37 1 26 1-51 1 133 1-100 1 14 1 48 1-38 1 12 1-45 1 94 1-4 1-45 1-64 1 41 1 5 1-16 1 8 1-28 1 54 1 35 1-111 1 49 1 25 1 39 1 148 1-168 1-16 1-95 1 70 1 42 1 30 1-53 1 85 1-105 1-9 1 124 1-154 1-3 1 114 1-56 1-44 1-66 1 52 1 64 1-25 1-17 1 42 1-12 1-37 1-29 1 44 1 15 1 33 1-130 1 118 1 36 1-68 1 22 1-29 1-51 1 83 1-25 1-24 1-21 1 95 1-2 1-25 1-38 1-54 1 99 1 85 1-134 1 7 1 101 1-94 1 37 1-14 1-23 1 24 1-44 1 6 1 21 1 56 1-38 1 5 1 22 1 10 1-99 1 17 1 22 1 89 1-70 1-56 1-8 1-40 1 102 1-26 1-61 1 47 1 69 1-98 1-12 1-39 1 109 1 10 1 115 1-40 1-115 1 68 1-19 1-56 1 57 1 2 1-4 1-20 1 21 1-30 1 22 1-14 1 0 1 2 1-14 1-25 1 79 1-16 1-51 1 22 1 25 1 27 1-77 1 89 1-20 1-16 1-120 1 83 1 35 1-10 1-15 1-114 1 152 1 33 1-71 1 7 1 3 1-61 1 12 1 9 1 10 1 49 1-13 1 27 1-14 1-12 1-7 1 18 1-55 1 102 1-89 1 34 1 70 1-103 1 28 1-99 1 67 1 2 1 96 1-90 1 86 1-119 1 59 1 26 1-69 1 41 1-2 1 12 1-41 1 22 1 19 1 8 1 6 1-13 1 113 1-155 1 33 1 18 1 36 1-75 1 43 1-86 1 31 1-9 1 34 1 51 1-51 1 39 1-85 1-6 1 52 1 26 1 39 1 36 1-41 1 15 1-54 1 39 1-31 1 56 1-65 1-37 1 4 1 16 1 20 1-7 1 40 1-189 1 184 1 30 1-49 1 68 1-69 1-45 1 42 1 1 1 26 1 54 1-48 1-65 1 54 1 22 1-60 1-33 1 99 1-63 1 37 1-31 1 47 1-123 1 94 1-24 1 95 1-125 1 73 1-57 1 14 1 0 1-5 1-4 1 13 1-5 1 20 1-2 1-15 1-15 1-25 1 48 1 58 1-84 1-28 1 94 1-47 1-34 1 108 1-100 1 27 1 3 1-17 1 38 1-32 1-19 1 37 1-41 1-1 1 77 1-78 1 74 1-21 1 34 1-84 1 22 1-3 1 42 1 14 1-58 1-28 1 35 1-19 1-38 1 34 1 7 1-18 1 22 1-15 1-37 1-43 1 113 1-139 1 122 1 39 1-63 1-6 1-1 1 89 1-65 1-2 1 3 1 15 1 50 1 52 1-101 1-2 1 27 1-72 1 11 1-16 1 86 1-13 1 34 1 7 1-91 1-20 1 46 1-14 1 28 1-37 1 71 1-5 1-12 1 49 1-28 1 32 1-61 1 50 1-34 1-92 1 65 1-46 1 92 1-84 1 79 1-25 1-15 1 63 1-93 1 115 1-130 1 47 1-19 1-17 1 71 1-19 1 10 1 38 1-211 1 207 1-18 1-89 1 134 1-82 1 17 1-46 1-12 1-14 1 103 1-74 1 28 1-89 1 84 1-125 1 137 1 13 1-70 1 74 1-100 1 66 1 28 1-21 1 49 1-97 1 21 1 17 1 29 1-30 1 10 1 27 1 28 1-33 1-116 1 80 1 120 1-127 1-8 1-37 1 66 1-39 1 87 1-68 1 15 1 55 1-62 1-32 1-8 1 25 1 58 1-77 1 49 1-41 1 20 1-48 1 22 1 34 1-12 1-8 1 32 1 40 1 83 1-110 1-43 1-16 1 61 1-57 1-19 1 46 1-26 1 108 1-101 1 4 1 24 1 43 1-121 1-43 1 53 1 56 1 70 1-100 1-92 1 175 1-27 1 6 1-2 1-70 1 37 1-43 1 39 1 36 1-61 1 40 1-70 1 108 1-34 1-13 1-31 1 75 1-63 1 31 1 34 1-29 1-56 1 14 1 34 1-10 1 36 1-2 1-47 1-19 1-78 1 169 1-30 1-20 1 20 1-10 1-20 1 3 1 0 1 50 1-66 1 32 1-41 1-3 1 32 1-60 1 45 1-13 1 38 1-8 1-2 1 63 1-32 1-19 1 53 1-71 1-27 1 33 1-42 1 37 1-8 1 15 1-3 1-50 1 22 1-13 1 127 1-81 1 65 1-167 1 113 1-45 1 35 1-9 1-72 1 67 1-2 1 46 1-139 1 138 1-57 1 58 1-25 1-130 1 122 1-127 1 183 1 8 1-60 1 54 1-32 1-20 1 69 1-45 1-3 1-52 1 53 1-70 1 70 1 5 1-6 1-22 1 76 1-52 1-4 1 20 1-80 1 17 1-33 1-31 1 96 1-29 1 80 1-14 1-102 1 65 1 138 1-100 1-62 1 23 1-33 1 62 1 116 1-130 1-94 1 102 1-36 1-28 1-34 1 93 1-30 1 34 1-38 1 14 1-5 1-26 1 19 1 45 1-18 1-26 1-9 1 57 1-37 1 57 1 12 1-20 1-33 1 28 1 53 1-96 1-5 1-9 1 18 1 126 1-130 1-89 1 46 1 73 1-37 1-53 1 40 1-112 1 156 1-120 1 103 1 22 1-17 1-19 1-23 1-55 1 89 1-11 1-64 1 35 1 59 1-98 1 72 1 29 1-70 1-3 1 17 1 48 1 99 1-185 1 13 1 11 1 130 1-87 1-21 1 71 1-35 1-4 1 27 1 39 1-23 1 0 1-62 1 171 1-109 1-94 1 12 1-8 1 11 1 45 1-103 1 63 1 37 1 4 1-30 1 58 1-70 1-22 1 40 1-60 1 59 1-66 1 28 1-23 1 54 1 20 1 13 1-62 1 18 1 19 1-46 1 73 1-71 1 19 1-17 1 32 1 45 1-27 1-2 1-8 1 17 1-11 1 9 1 23 1-25 1-141 1 110 1 89 1-15 1-104 1 0 1 99 1-77 1 6 1 89 1-88 1 42 1 2 1-61 1-16 1 92 1-45 1-25 1 67 1 8 1-37 1 5 1 15 1 40 1-110 1 150 1-68 1-21 1 65 1-107 1 21 1 6 1-5 1-89 1 220 1-86 1-73 1 32 1-19 1 39 1 26 1 1 1-59 1-21 1 63 1-59 1-6 1 51 1-24 1-75 1 67 1-45 1 28 1 9 1-98 1 81 1 17 1-51 1 43 1-55 1 85 1-40 1 43 1-59 1 4 1 27 1-55 1 11 1 25 1-33 1 76 1-44 1 119 1-157 1 35 1-57 1 91 1-36 1-8 1 20 1 10 1-30 1 17 1 68 1-99 1 39 1-49 1 130 1-79 1-6 1 29 1-34 1-36 1 11 1 49 1-14 1-2 1 25 1-20 1-26 1 45 1-36 1-4 1 26 1 79 1-72 1 34 1-74 1 110 1-178 1 144 1-78 1-24 1 10 1 20 1 94 1-146 1 47 1 82 1-60 1-17 1-21 1 20 1 23 1 20 1-17 1-14 1-21 1-5 1 28 1 31 1 40 1-142 1 114 1 26 1-69 1 27 1-19 1 3 1-113 1 64 1 5 1 71 1-142 1 96 1-36 1 37 1 6 1-5 1-37 1-76 1 85 1 80 1-105 1-33 1 51 1 12 1-70 1 92 1-39 1 3 1 22 1-54 1 52 1 24 1-66 1 47 1-50 1 23 1 7 1 0 1-79 1 44 1 59 1-20 1-23 1 7 1-4 1-33 1 33 1-2 1 6 1 24 1 22 1-28 1-9 1 25 1-10 1-31 1 63 1-82 1-62 1-45 1 190 1-45 1-43 1-73 1 135 1-60 1-62 1 17 1-34 1 32 1-22 1 68 1 27 1 32 1-21 1 12 1-24 1 9 1 29 1-37 1 23 1-36 1-16 1-14 1-11 1 99 1-165 1 31 1 63 1-94 1 150 1-64 1 50 1-4 1-30 1-11 1 3 1-87 1 123 1-53 1 27 1-33 1 14 1-5 1 26 1-24 1 24 1-84 1 97 1-11 1 26 1-89 1 17 1 27 1-48 1 41 1 5 1-68 1 48 1 49 1-91 1-11 1 104 1-32 1-36 1 2 1 25 1-16 1 4 1-100 1 77 1 38 1 45 1-13 1-76 1 23 1 63 1-42 1-1 1 10 1 3 1 17 1 22 1-26 1-105 1 115 1-77 1 3 1 89 1-129 1 82 1-28 1 46 1-1 1 76 1-58 1 155 1-215 1 50 1-6 1 12 1-104 1 42 1 65 1-55 1 42 1 41 1-106 1 17 1 3 1 23 1-35 1 8 1 75 1-2 1-38 1 31 1-97 1 34 1-4 1 30 1-55 1 50 1 4 1 36 1-8 1-15 1-43 1 52 1-88 1 13 1 49 1 18 1-65 1-44 1 88 1-11 1-69 1 88 1 6 1-4 1-1 1-18 1 21 1 12 1-5 1-10 1-28 1 43 1-33 1 14 1-131 1 186 1-58 1-19 1 53 1-75 1 5 1 12 1-2 1-7 1 90 1-92 1 50 1 2 1-9 1-46 1 51 1-51 1 29 1 34 1-12 1-45 1 89 1-43 1-31 1-1 1 54 1-71 1 59 1-78 1 42 1 49 1-8 1-93 1 43 1 102 1-76 1 40 1 30 1 47 1-80 1-84 1 6 1 89 1-8 1-22 1-10 1 21 1-45 1 7 1 35 1 28 1-53 1 40 1-48 1-9 1-53 1 47 1 47 1 0 1-52 1 29 1-38 1 69 1-86 1 11 1-22 1 26 1-6 1 34 1 48 1-37 1-45 1 51 1-52 1 44 1-41 1 7 1-29 1 94 1-72 1 74 1-65 1 80 1-35 1-72 1 34 1 17 1-1 1 7 1-13 1 0 1-153 1 150 1 51 1-20 1-27 1-26 1 64 1 18 1-11 1-7 1 8 1-20 1-42 1 19 1 2 1 11 1-6 1-25 1-64 1 84 1-44 1 98 1-79 1-37 1 30 1 92 1-35 1-76 1-54" fill="none" stroke="#68b428" stroke-width="0.6" vector-effect="non-scaling-stroke" stroke-linejoin="round"/>
<rect x="26.45" y="47.45" width="292.50" height="204.55" fill="none" stroke="#666" stroke-width="0.85"/>
<path d="M172.70 252.00v-6M172.70 47.45v6M26.45 211.09h6M318.95 211.09h-6M26.45 170.18h6M318.95 170.18h-6M26.45 129.27h6M318.95 129.27h-6M26.45 88.36h6M318.95 88.36h-6" stroke="#444" stroke-width="1" fill="none"/>
<path d="M99.58 252.00v-3M99.58 47.45v3M245.82 252.00v-3M245.82 47.45v3M26.45 231.54h3M318.95 231.54h-3M26.45 190.63h3M318.95 190.63h-3M26.45 149.72h3M318.95 149.72h-3M26.45 108.81h3M318.95 108.81h-3M26.45 67.90h3M318.95 67.90h-3" stroke="#666" stroke-width="0.8" fill="none"/>
<text x="23.90" y="254.70" font-size="8" text-anchor="end" fill="#1a1a1a">0</text>
<text x="23.90" y="213.79" font-size="8" text-anchor="end" fill="#1a1a1a">0.1</text>
<text x="23.90" y="172.88" font-size="8" text-anchor="end" fill="#1a1a1a">0.2</text>
<text x="23.90" y="131.97" font-size="8" text-anchor="end" fill="#1a1a1a">0.3</text>
<text x="23.90" y="91.06" font-size="8" text-anchor="end" fill="#1a1a1a">0.4</text>
<text x="23.90" y="50.15" font-size="8" text-anchor="end" fill="#1a1a1a">0.5</text>
<text x="26.45" y="261.90" font-size="8.2" text-anchor="middle" fill="#1a1a1a">0</text>
<text x="172.70" y="261.90" font-size="8.2" text-anchor="middle" fill="#1a1a1a">50</text>
<text x="318.95" y="261.90" font-size="8.2" text-anchor="middle" fill="#1a1a1a">100</text>
<text x="173.00" y="273.60" font-size="8" text-anchor="middle" fill="#1a1a1a">Time (ns)</text>
<text x="8.50" y="149.30" font-size="8" text-anchor="middle" transform="rotate(-90 8.50 149.30)" fill="#1a1a1a">RMSD (nm)</text>
<text x="173.00" y="26.60" font-size="12" text-anchor="middle" fill="#1a1a1a">RMSD</text>
<text x="172.50" y="39.60" font-size="8.2" text-anchor="middle" fill="#1a1a1a">Protein_ligand_complex</text>
<text x="0.50" y="10.70" font-size="14" text-anchor="start" font-weight="bold" fill="#000">A</text>
<rect x="231" y="61" width="53.4" height="39.4" fill="#fff" stroke="#555" stroke-width="0.8"/>
<path d="M234 69.6H246.4" stroke="#19469b" stroke-width="1"/>
<text x="253.20" y="72.10" font-size="8.1" text-anchor="start" fill="#1a1a1a">complex</text>
<path d="M234 81.4H246.4" stroke="#e6161e" stroke-width="1"/>
<text x="253.20" y="83.90" font-size="8.1" text-anchor="start" fill="#1a1a1a">ligand</text>
<path d="M234 93.2H246.4" stroke="#68b428" stroke-width="1"/>
<text x="253.20" y="95.70" font-size="8.1" text-anchor="start" fill="#1a1a1a">protein</text>
<polyline points="376.7,201.1 377.0,213.4 377.6,226.2 378.8,224.0 379.3,237.9 380.3,226.2 381.1,236.7 381.7,228.5 382.6,236.7 384.0,222.7 385.2,223.9 387.3,233.8 388.7,225.0 389.3,227.4 391.0,221.5 393.4,227.4 395.7,223.9 398.0,214.0 398.6,220.4 400.4,228.5 402.1,230.3 403.9,228.5 404.5,233.8 405.6,235.0 406.8,223.9 408.0,223.9 409.1,209.9 410.3,212.8 411.5,204.6 412.3,213.4 413.2,221.5 414.4,229.7 416.7,239.0 417.9,239.0 420.2,228.5 421.4,226.2 422.6,210.4 423.7,216.3 424.9,225.0 426.1,223.9 428.4,216.3 429.6,225.0 430.7,229.7 431.3,226.2 433.1,234.4 434.2,237.9 435.4,232.0 436.6,239.0 437.7,230.9 438.9,234.4 440.1,230.9 441.0,241.4 442.4,236.7 444.2,233.2 445.3,237.9 446.5,236.7 447.7,239.0 450.0,237.3 451.8,239.3 452.6,244.3 454.3,236.7 455.5,227.4 457.3,222.1 458.4,227.4 459.6,234.4 462.5,241.4 463.7,233.2 464.9,235.5 466.0,230.9 467.8,232.0 468.9,229.1 470.1,235.5 471.9,237.9 473.0,233.8 474.8,236.1 476.0,219.8 477.1,225.0 478.9,232.0 480.6,229.7 481.8,232.0 483.0,239.6 484.1,239.0 485.3,233.2 487.0,241.4 488.8,240.8 490.5,243.7 492.3,242.0 494.1,243.7 495.8,237.9 497.0,243.7 498.7,240.2 501.1,237.9 502.2,235.5 504.0,228.0 505.1,239.0 506.9,241.4 508.1,234.4 509.2,241.4 511.0,242.0 512.7,233.8 513.9,239.0 515.1,239.0 516.2,232.0 518.6,232.6 520.9,230.9 522.7,237.9 525.3,240.2 526.4,234.4 527.6,225.6 528.8,227.4 529.6,225.0 530.7,236.7 546.3,236.7 548.0,238.5 549.2,236.1 551.0,240.2 552.7,240.8 553.9,239.6 555.0,240.8 556.8,237.9 558.0,235.0 559.7,226.8 560.6,236.7 562.0,238.5 563.8,226.2 565.0,236.7 566.1,242.6 567.9,243.1 569.6,243.7 570.8,245.5 572.0,244.3 574.3,242.0 576.1,241.4 577.2,240.2 578.4,240.8 579.6,237.9 580.7,237.9 581.9,235.5 583.1,232.6 583.7,237.9 584.8,237.3 587.2,227.4 588.3,230.9 590.1,231.5 591.8,229.7 593.0,235.0 594.7,234.4 595.9,233.2 597.1,237.3 598.5,226.8 599.4,234.4 600.2,237.5 601.7,238.7 604.0,239.4 606.2,238.7 608.4,240.1 609.9,235.7 611.4,236.4 612.9,240.9 614.4,233.4 615.9,239.4 617.4,240.9 618.9,243.9 620.4,239.4 621.9,236.4 623.4,238.7 624.9,235.7 626.3,240.9 627.8,241.6 629.0,235.0 629.8,243.1 630.8,227.5 632.0,242.4 633.8,238.7 636.0,240.1 638.3,239.4 639.0,235.7 640.2,239.4 641.3,224.5 642.5,239.4 643.5,236.4 644.7,224.5 645.7,224.5 646.9,240.9 648.0,239.4 649.5,218.5 651.0,194.6 651.7,157.3 652.5,164.8 652.9,134.9 653.7,134.9 654.0,172.2 654.7,208.0" fill="none" stroke="#e6161e" stroke-width="1.5" stroke-linejoin="round"/>
<rect x="376.00" y="47.50" width="292.50" height="204.50" fill="none" stroke="#666" stroke-width="0.85"/>
<path d="M424.75 252.00v-6M424.75 47.50v6M473.50 252.00v-6M473.50 47.50v6M522.25 252.00v-6M522.25 47.50v6M571.00 252.00v-6M571.00 47.50v6M619.75 252.00v-6M619.75 47.50v6M376.00 200.88h6M668.50 200.88h-6M376.00 149.75h6M668.50 149.75h-6M376.00 98.62h6M668.50 98.62h-6" stroke="#444" stroke-width="1" fill="none"/>
<path d="M400.38 252.00v-3M400.38 47.50v3M449.12 252.00v-3M449.12 47.50v3M497.88 252.00v-3M497.88 47.50v3M546.62 252.00v-3M546.62 47.50v3M595.38 252.00v-3M595.38 47.50v3M644.12 252.00v-3M644.12 47.50v3M376.00 226.44h3M668.50 226.44h-3M376.00 175.31h3M668.50 175.31h-3M376.00 124.19h3M668.50 124.19h-3M376.00 73.06h3M668.50 73.06h-3" stroke="#666" stroke-width="0.8" fill="none"/>
<text x="373.30" y="254.70" font-size="8" text-anchor="end" fill="#1a1a1a">0</text>
<text x="373.30" y="203.57" font-size="8" text-anchor="end" fill="#1a1a1a">0.5</text>
<text x="373.30" y="152.45" font-size="8" text-anchor="end" fill="#1a1a1a">1</text>
<text x="373.30" y="101.33" font-size="8" text-anchor="end" fill="#1a1a1a">1.5</text>
<text x="373.30" y="50.20" font-size="8" text-anchor="end" fill="#1a1a1a">2</text>
<text x="376.00" y="261.60" font-size="8.2" text-anchor="middle" fill="#1a1a1a">700</text>
<text x="424.75" y="261.60" font-size="8.2" text-anchor="middle" fill="#1a1a1a">750</text>
<text x="473.50" y="261.60" font-size="8.2" text-anchor="middle" fill="#1a1a1a">800</text>
<text x="522.25" y="261.60" font-size="8.2" text-anchor="middle" fill="#1a1a1a">850</text>
<text x="571.00" y="261.60" font-size="8.2" text-anchor="middle" fill="#1a1a1a">900</text>
<text x="619.75" y="261.60" font-size="8.2" text-anchor="middle" fill="#1a1a1a">950</text>
<text x="668.50" y="261.60" font-size="8.2" text-anchor="middle" fill="#1a1a1a">1000</text>
<text x="522.20" y="273.70" font-size="8.2" text-anchor="middle" fill="#1a1a1a">Residue</text>
<text x="358.20" y="149.30" font-size="8" text-anchor="middle" transform="rotate(-90 358.20 149.30)" fill="#1a1a1a">(nm)</text>
<text x="522.20" y="26.70" font-size="12" text-anchor="middle" fill="#1a1a1a">RMS fluctuation</text>
<text x="360.60" y="10.70" font-size="14" text-anchor="start" font-weight="bold" fill="#000">B</text>
<path transform="translate(42.500 0) scale(0.07123 0.1)" d="M0 4458l1-1 1-4 1 7 1 11 1 0 1-13 1 14 1 7 1-4 1-5 1-6 1 23 1-6 1-8 1-2 1-14 1 27 1-21 1 0 1 8 1 1 1 10 1-4 1-13 1 1 1 9 1 7 1 5 1 2 1-11 1 12 1 6 1 2 1-3 1 9 1-5 1-11 1 0 1 12 1 16 1-30 1 14 1-16 1-5 1 27 1 2 1-21 1 10 1-10 1 6 1 6 1-2 1-2 1 6 1-21 1 5 1-3 1 14 1-4 1-6 1 13 1-5 1 8 1-13 1-7 1 9 1-13 1 17 1-7 1-10 1 10 1-1 1-1 1 12 1-1 1 34 1-29 1-21 1 17 1-3 1-31 1 38 1-8 1 11 1 0 1-3 1-21 1 17 1 4 1-3 1 7 1-2 1-4 1-1 1 13 1-1 1-11 1-6 1-7 1 16 1 4 1-11 1 15 1-7 1 7 1 5 1 10 1-14 1-17 1 12 1-10 1 4 1-4 1 16 1-5 1-13 1 22 1-16 1 15 1-29 1 22 1-1 1 12 1-17 1 5 1 9 1 6 1-21 1 18 1-4 1-1 1-9 1-5 1 8 1 9 1-13 1 1 1 0 1 1 1-11 1-7 1 33 1-28 1-2 1 26 1-10 1 12 1-17 1-7 1 17 1-12 1 3 1 3 1-15 1 18 1-8 1 0 1-7 1 17 1-6 1-4 1 3 1-24 1 11 1-1 1 33 1-12 1-2 1 5 1-6 1 3 1-7 1 2 1-8 1 11 1-15 1 14 1-1 1 8 1-4 1 2 1-1 1 10 1-17 1 7 1-16 1-5 1 21 1-9 1 7 1 8 1-16 1 8 1-17 1 11 1-9 1 15 1-1 1-8 1 25 1-4 1-14 1-11 1 1 1 5 1-11 1 7 1 2 1-17 1 24 1 7 1-3 1-21 1 17 1-9 1 6 1 3 1 13 1-16 1-8 1 8 1 6 1-2 1 2 1 8 1-6 1-9 1 6 1 1 1 4 1-2 1 7 1 2 1 1 1-3 1-6 1-11 1 4 1 7 1-10 1 7 1-8 1 1 1 3 1 13 1-9 1 0 1 6 1-2 1 4 1-4 1-5 1 44 1-54 1 13 1 0 1 3 1 14 1-26 1 23 1-3 1 0 1-14 1 7 1 19 1-21 1 5 1-13 1 4 1 3 1-16 1 18 1-15 1 16 1-15 1 4 1-7 1 10 1 17 1-16 1 7 1 12 1-10 1-12 1-8 1 16 1-6 1-2 1-16 1 39 1-38 1 11 1 13 1-10 1 11 1-16 1 10 1 8 1-11 1-18 1 21 1-6 1-7 1 4 1-1 1 11 1-21 1 7 1 18 1 0 1 3 1-1 1-5 1-7 1 16 1-2 1 25 1-23 1-9 1-4 1-10 1 16 1 5 1-2 1 5 1 8 1-5 1-22 1 8 1 12 1 4 1-6 1-10 1-12 1 13 1-6 1 3 1-8 1 11 1 11 1-17 1 5 1-3 1-8 1 8 1-7 1-2 1 6 1 5 1 2 1-2 1 0 1-1 1 1 1 9 1-6 1 1 1-19 1 14 1-19 1 20 1 0 1 21 1-27 1 11 1 3 1-9 1 5 1 3 1-3 1 10 1 9 1-16 1-7 1 0 1-10 1 18 1-3 1 3 1-1 1 5 1-1 1 8 1-14 1 8 1-5 1-1 1 2 1 11 1-14 1 11 1 2 1 5 1-7 1 2 1-4 1-7 1 2 1 9 1-12 1 6 1 3 1 0 1-6 1 15 1-14 1 8 1 20 1 1 1-9 1-19 1 3 1 12 1-30 1 21 1-2 1-1 1 4 1 4 1-10 1 1 1-2 1-9 1 17 1-1 1 1 1-13 1 13 1-11 1 0 1-6 1 20 1-9 1-21 1 16 1-5 1 13 1 1 1-12 1 12 1-6 1-4 1-15 1 9 1-2 1 23 1-12 1 19 1-8 1-6 1 20 1-32 1 3 1 8 1-6 1 20 1-18 1 6 1 4 1-2 1-18 1 19 1-26 1 11 1 6 1 3 1-5 1 5 1 2 1-24 1 17 1 4 1 5 1-20 1 9 1 7 1 8 1-20 1 3 1 25 1 2 1-20 1-2 1-2 1 1 1-1 1 13 1-18 1 8 1 2 1-1 1-3 1 8 1-8 1 7 1-7 1 9 1-5 1 1 1-8 1 9 1-19 1-2 1 32 1-17 1-4 1 14 1-32 1 21 1 0 1-17 1 19 1-13 1 6 1 8 1-12 1-1 1 12 1 1 1-7 1 4 1 8 1-14 1-7 1 0 1 3 1-2 1 12 1-11 1 0 1-2 1 2 1-7 1-5 1-1 1 17 1-9 1 33 1-26 1-1 1 9 1 18 1-29 1 0 1 3 1 7 1 7 1-6 1-1 1-5 1-4 1 7 1-11 1 11 1 0 1 1 1-18 1 17 1 24 1-27 1 11 1-29 1 6 1 2 1 8 1 1 1-11 1-3 1-1 1 13 1-4 1-8 1 9 1 11 1 0 1-4 1-4 1 2 1 3 1-1 1-3 1-11 1 9 1 1 1-23 1-10 1 20 1-10 1 18 1 1 1 1 1 0 1 10 1-18 1-2 1 9 1 4 1-12 1 19 1-8 1 5 1 1 1 6 1-19 1 4 1 4 1-4 1 5 1-4 1 15 1-17 1 8 1-11 1 2 1 6 1-4 1 11 1-9 1-8 1 0 1 13 1-2 1-3 1 6 1-7 1-6 1 2 1-6 1 12 1-7 1 5 1-10 1 1 1-9 1 18 1-6 1-11 1 16 1-5 1 4 1 7 1-17 1-8 1 20 1 3 1-2 1-9 1 11 1-14 1 7 1-7 1 5 1 9 1 1 1 0 1-10 1-1 1-3 1-7 1-5 1 28 1-18 1-8 1 5 1 13 1 2 1-11 1-1 1-4 1 7 1 7 1-4 1-11 1 9 1-9 1 11 1 1 1-2 1 18 1-4 1 4 1-10 1-5 1 5 1-14 1-11 1 15 1 6 1-10 1 6 1 32 1-26 1-16 1 2 1 6 1 10 1-2 1-7 1-5 1 6 1 12 1-28 1 16 1 1 1-15 1-1 1 9 1-2 1-1 1-13 1 17 1-7 1 3 1 14 1-5 1-18 1 21 1 6 1-4 1-12 1 4 1 26 1-10 1 3 1 4 1-12 1 2 1 5 1-18 1 3 1 18 1-6 1 10 1-19 1 10 1-12 1 3 1 12 1 12 1-12 1 12 1 8 1-25 1 1 1-12 1-14 1 28 1 8 1-17 1 5 1-1 1 13 1-1 1-25 1 7 1 6 1-12 1 17 1 3 1-3 1-6 1 1 1 15 1-16 1-3 1 9 1-5 1-7 1 0 1-12 1 19 1-7 1 14 1-7 1-9 1 19 1 4 1-8 1-11 1 2 1 12 1-12 1 7 1 0 1 11 1 3 1-9 1-9 1 8 1-3 1-1 1-2 1 8 1-11 1 4 1 0 1 5 1 5 1 1 1 9 1-5 1-11 1 6 1-16 1 6 1 5 1 6 1-1 1-12 1-3 1-1 1 15 1-4 1-6 1 1 1-21 1 29 1-16 1 14 1 4 1 1 1-13 1 6 1-2 1 1 1 2 1-5 1 6 1 5 1-4 1-13 1 19 1-3 1-5 1-2 1 11 1-18 1 8 1-3 1 7 1 1 1 5 1-26 1 17 1-4 1 1 1 6 1-2 1 6 1-18 1 10 1-10 1 6 1 2 1 3 1 0 1-1 1-10 1 10 1-8 1-6 1 5 1-7 1 16 1-7 1 1 1 23 1-20 1 6 1-8 1-8 1-4 1 8 1-12 1-1 1 12 1-3 1-7 1 19 1-11 1-3 1 10 1-1 1-1 1 0 1-7 1-1 1-12 1 18 1-8 1-4 1 7 1 4 1 9 1 1 1-12 1 4 1 21 1-1 1-31 1 10 1-5 1 15 1-3 1-3 1 6 1-10 1 1 1 7 1-5 1-21 1-1 1 19 1-5 1 9 1-5 1-7 1-4 1 10 1 9 1-1 1 1 1-6 1-3 1 0 1-4 1 16 1 6 1-10 1-12 1 13 1-8 1 5 1-3 1-4 1-4 1 8 1-2 1-3 1-12 1 1 1 14 1-7 1 2 1 17 1-16 1-3 1 2 1 34 1-29 1 1 1 9 1-12 1-15 1 15 1-4 1 30 1-20 1-10 1 9 1-19 1 43 1-36 1 1 1 6 1-8 1-16 1 4 1 13 1-7 1 13 1-5 1 4 1 9 1-10 1 2 1 0 1-6 1 6 1-4 1 9 1-11 1 9 1 11 1-3 1-6 1 8 1-3 1-7 1 5 1-7 1-3 1 6 1 13 1-25 1 15 1 2 1-18 1 23 1 2 1-10 1 4 1-10 1-2 1 0 1 12 1 2 1 22 1-22 1-2 1-4 1 4 1-4 1-6 1 5 1-3 1 14 1 5 1-7 1-12 1 12 1 2 1 4 1-2 1 6 1-12 1 4 1-9 1 0 1 5 1 11 1-15 1-9 1 3 1 9 1-13 1 6 1 15 1-7 1 4 1-11 1 11 1-3 1 10 1-2 1-4 1-12 1-13 1 26 1-5 1-2 1 13 1-8 1-5 1 3 1 5 1-5 1 2 1-12 1 6 1-3 1 0 1 0 1 15 1-7 1-2 1 2 1-14 1 12 1 12 1-15 1 0 1-7 1 2 1-12 1 9 1 16 1-14 1 13 1 12 1-11 1-2 1-6 1 3 1 9 1 1 1-14 1 11 1-21 1 21 1 12 1-26 1 1 1 18 1-14 1 13 1 1 1-26 1 18 1-4 1 9 1-11 1 10 1-15 1 12 1-3 1-3 1 5 1 14 1-13 1-1 1 0 1 13 1-21 1 11 1 1 1 2 1 6 1-8 1-9 1 1 1-13 1-6 1 17 1-2 1 7 1-14 1 12 1-2 1 16 1-25 1 15 1-10 1 26 1-6 1 0 1-14 1 6 1-21 1 15 1-7 1-20 1-2 1 20 1-2 1-15 1-2 1 11 1-11 1-12 1 15 1-18 1 19 1-8 1-10 1-12 1-5 1 4 1 4 1-9 1-3 1 1 1-2 1 10 1-5 1 31 1-32 1 15 1-3 1-9 1-6 1 5 1 12 1-13 1 18 1 7 1 21 1-16 1 8 1-13 1-9 1 5 1 2 1 8 1 2 1-9 1 7 1-13 1-9 1-3 1 7 1-16 1-19 1 46 1-12 1-1 1 6 1-18 1-1 1-1 1 13 1 0 1-16 1 15 1-8 1 0 1-4 1-3 1-5 1 15 1 1 1-20 1 21 1-25 1-9 1 18 1-1 1-2 1-2 1 6 1 3 1 1 1 11 1 0 1-13 1 8 1-2 1-4 1 1 1-7 1 8 1-1 1 10 1-14 1 17 1-13 1-8 1 5 1-4 1 6 1 7 1-2 1-38 1 8 1-12 1 36 1 12 1-4 1-2 1-2 1-14 1 8 1-3 1 20 1-5 1-5 1 9 1-13 1-10 1 17 1 2 1-17 1 16 1-13 1 11 1 7 1-28 1 21 1 0 1-11 1-1 1 11 1-22 1 6 1 13 1 2 1 3 1-11 1-11 1 19 1-6 1-9 1 5 1 22 1-33 1 9 1 1 1 21 1-29 1 13 1-4 1-7 1 0 1 2 1-3 1-2 1 10 1-3 1 12 1-5 1-18 1 17 1-10 1 5 1 8 1-9 1 3 1-11 1 19 1 3 1-14 1 16 1-17 1-4 1 7 1 9 1-16 1 15 1-7 1-3 1 2 1 25 1-24 1-8 1 7 1 3 1 3 1-2 1 3 1 2 1-11 1-3 1 18 1-18 1 3 1 11 1 1 1-5 1 2 1-2 1-10 1 7 1 0 1 12 1-16 1 10 1 6 1-4 1 11 1-9 1 27 1-42 1 19 1 1 1-5 1 5 1-28 1 17 1 5 1-5 1-13 1 19 1-6 1 15 1 12 1-5 1-6 1 5 1-20 1-4 1 2 1-19 1 38 1-1 1-9 1-7 1 22 1-29 1 1 1 23 1-6 1-10 1 16 1-3 1-21 1 10 1 1 1 15 1-17 1 9 1 3 1-4 1 0 1-7 1-2 1-12 1 24 1-17 1-2 1-5 1 10 1-1 1 4 1 17 1 6 1-8 1 2 1-11 1 8 1-1 1-12 1 9 1-2 1-2 1 6 1 4 1-16 1 9 1 8 1 0 1-26 1 7 1 5 1-9 1 13 1 6 1-6 1 3 1 5 1-10 1 24 1-7 1-12 1-2 1 5 1 1 1-20 1 19 1 8 1-20 1 12 1-11 1 13 1 8 1-5 1-9 1-11 1 2 1-10 1 18 1-5 1-7 1 24 1-20 1 24 1-11 1 1 1-15 1 31 1-5 1-3 1 7 1-16 1 1 1-17 1 2 1 18 1-4 1-7 1-2 1-3 1 14 1 4 1 2 1-6 1 2 1 17 1-27 1 5 1 1 1-8 1 16 1-7 1-1 1 26 1-24 1 6 1-18 1-1 1 19 1-21 1 16 1-34 1 7 1 32 1-8 1 1 1 8 1-7 1-8 1 8 1-16 1 9 1 4 1-1 1-25 1 23 1 14 1-9 1-7 1 0 1 4 1 10 1-4 1-32 1 32 1-3 1-1 1-7 1 12 1 8 1-18 1 3 1 2 1-10 1 10 1-6 1 3 1 11 1-15 1 15 1-7 1 9 1-20 1 14 1-19 1 4 1 1 1 16 1-1 1-16 1 7 1 0 1 6 1-22 1 13 1 8 1-17 1 12 1 6 1-6 1-9 1 0 1-1 1 3 1-3 1 12 1-8 1 23 1-21 1 10 1-12 1 9 1 8 1-13 1-5 1 10 1-20 1 5 1 25 1-39 1 20 1 5 1-11 1-7 1 14 1 18 1-8 1 7 1 5 1-21 1 1 1 9 1-6 1-6 1-7 1 18 1-16 1 21 1-20 1-5 1 7 1-12 1 8 1-20 1 29 1 16 1 20 1-30 1-2 1 10 1-23 1 17 1-17 1 20 1-2 1-19 1 0 1 21 1-11 1 38 1-38 1-6 1 7 1-1 1-1 1 10 1 6 1-11 1 19 1-10 1 2 1-1 1-10 1 10 1 7 1-9 1-16 1 18 1-24 1 7 1 14 1-4 1 8 1-15 1 11 1-5 1-24 1 34 1 5 1-14 1 6 1-4 1 8 1 1 1 4 1-10 1-3 1 4 1 1 1 4 1-33 1 28 1-12 1 13 1 23 1-15 1 12 1-22 1 7 1 1 1 10 1-13 1-2 1-1 1 10 1-10 1 10 1-17 1-1 1 12 1-5 1 8 1-22 1-6 1 11 1 7 1 12 1-34 1 5 1 17 1 9 1-10 1 7 1 5 1-26 1 13 1 3 1-2 1-15 1 24 1-2 1-4 1-5 1 17 1 2 1 7 1-22 1 11 1 9 1-10 1-8 1 6 1-1 1-17 1 19 1-10 1 12 1-5 1 15 1 11 1-16 1-1 1-14 1-7 1 12 1-20 1 20 1 1 1-7 1 6 1-2 1-2 1-2 1 9 1-3 1-18 1 25 1-14 1 35 1-31 1 12 1 1 1 0 1 5 1-11 1-19 1 32 1-16 1-5 1 1 1 7 1-7 1 13 1-9 1 6 1-8 1-5 1 6 1 8 1 4 1-20 1 14 1-14 1 12 1 4 1 3 1-7 1-13 1-8 1 9 1-1 1-2 1 2 1 1 1 12 1-6 1-10 1-2 1-2 1-5 1 11 1-13 1 18 1 11 1-28 1 11 1 14 1-6 1-11 1 35 1-24 1-1 1 1 1 7 1-18 1 2 1 12 1 14 1-16 1-4 1 8 1-6 1 15 1-16 1 14 1-7 1-12 1 25 1-18 1 4 1-5 1 10 1 4 1-17 1 2 1-9 1 3 1-1 1-3 1 21 1-9 1 10 1-21 1 3 1 13 1-13 1 23 1-8 1-22 1 4 1 2 1-3 1-1 1-2 1 5 1-9 1 6 1 14 1-7 1-2 1-5 1 1 1 16 1 1 1-1 1 12 1-11 1 10 1-9 1-7 1-3 1 16 1 2 1-14 1 1 1 2 1-19 1 29 1-26 1 1 1 16 1 0 1-13 1 4 1-5 1-7 1 7 1-4 1-11 1 13 1 8 1-5 1-13 1 5 1 7 1 10 1 0 1-14 1 2 1 20 1 0 1-7 1 6 1-9 1 1 1-11 1 0 1-14 1 7 1 7 1 0 1 7 1-11 1 6 1 6 1 0 1-11 1 17 1-19 1 7 1-2 1 1 1 23 1-29 1 0 1 11 1-12 1 17 1-10 1 2 1 5 1 4 1-8 1 15 1-27 1 10 1-9 1 20 1-8 1-2 1-10 1 10 1 5 1-9 1 9 1-21 1 12 1 20 1-24 1 9 1-8 1-1 1 10 1-11 1 9 1-7 1 6 1-17 1 24 1-20 1 1 1-5 1 26 1-19 1 5 1 3 1 0 1 9 1 9 1-3 1-9 1-2 1-5 1-2 1 17 1-19 1 16 1-2 1-5 1 1 1-2 1-10 1 22 1 8 1-4 1-5 1-5 1 13 1-3 1-6 1 0 1 0 1-32 1 27 1 1 1 2 1 4 1 3 1-10 1 20 1-21 1 15 1-11 1 5 1 32 1-31 1-10 1 10 1 15 1-25 1 6 1-13 1 5 1-2 1 11 1-11 1 7 1-5 1-2 1-6 1 16 1-8 1 9 1-5 1-1 1 4 1-19 1 9 1 8 1 10 1-6 1 11 1-8 1 1 1-5 1 17 1-10 1-19 1 9 1-1 1-6 1 2 1 34 1-27 1-1 1 8 1-15 1 9 1-5 1-3 1-4 1 7 1-11 1 5 1 16 1-14 1-3 1 14 1 0 1 3 1-22 1 14 1-1 1 6 1-13 1 42 1-37 1 25 1-18 1-3 1 17 1-2 1-6 1-23 1 22 1 17 1-22 1-16 1 12 1-11 1 18 1 5 1-15 1 3 1-9 1 10 1-13 1 12 1 2 1 7 1-5 1 0 1-19 1 3 1-4 1 13 1-2 1 9 1 6 1-4 1 3 1 1 1-4 1-7 1 0 1-7 1 13 1-6 1 6 1 6 1-8 1 13 1-22 1 3 1 4 1-4 1 12 1-14 1 14 1-15 1 8 1-8 1 21 1 7 1-16 1 19 1-8 1-5 1-11 1 4 1 3 1 3 1-23 1-5 1-13 1 24 1-7 1 8 1 7 1-13 1 9 1 11 1-11 1-1 1-7 1-11 1 12 1 12 1 3 1-29 1 23 1 5 1-2 1-11 1 6 1-7 1 5 1 5 1 13 1-17 1 13 1-5 1-10 1 17 1 0 1 1 1-17 1 9 1 3 1-2 1-5 1-3 1-5 1 15 1-19 1 3 1 11 1-5 1-8 1-5 1 22 1-9 1 1 1-10 1-7 1-4 1 6 1 11 1-4 1-4 1 9 1 6 1 2 1-6 1 14 1 0 1-18 1 11 1-2 1 6 1-8 1-4 1-10 1 14 1 0 1 0 1 10 1-23 1 13 1-9 1 22 1-22 1 5 1 12 1 28 1-32 1-17 1 20 1-7 1 6 1-7 1-9 1 14 1-27 1 27 1-1 1 12 1 5 1-29 1 23 1 22 1-19 1 1 1-3 1-7 1-4 1 10 1 7 1-5 1-12 1 6 1 10 1-7 1-9 1-3 1 17 1-12 1-13 1 39 1-21 1 4 1 2 1-17 1 4 1-4 1 10 1 4 1-11 1 6 1 1 1 20 1-15 1 12 1-20 1 4 1 6 1-5 1-5 1 8 1-8 1 0 1-13 1 6 1 3 1 3 1-12 1 24 1-10 1-5 1-25 1 28 1 3 1-2 1-6 1 9 1-20 1-2 1 6 1 10 1 1 1-10 1 11 1 7 1-8 1-6 1 2 1-5 1 7 1-6 1 0 1 7 1-12 1-1 1 12 1-6 1-4 1 19 1-5 1-13 1-6 1 19 1-4 1-13 1-16 1 6 1 25 1-14 1-23 1 29 1 15 1-31 1 40 1-18 1-8 1 10 1 2 1-10 1-6 1-7 1 40 1-26 1 11 1-4 1-28 1 32 1-15 1 15 1 6 1-10 1 0 1-16 1 22 1-9 1-17 1 23 1-10 1-8 1 36 1-23 1 13 1-18 1 30 1-17 1-12 1 12 1-6 1-11 1 9 1-25 1 16 1 27 1-18 1-6 1 11 1-11 1 3 1 0 1 2 1-7 1 9 1-1 1 1 1-9 1-6 1 8 1-9 1 6 1 3 1-19 1-17 1 20 1 8 1 12 1-6 1 2 1 1 1 9 1-14 1 44 1-32 1-5 1-2 1 3 1-5 1-13 1 19 1-4 1-25 1 16 1 23 1-14 1-9 1 20 1-19 1 1 1 4 1-1 1 3 1 2 1-21 1 27 1-18 1 7 1 19 1-10 1-3 1-6 1-7 1 13 1-2 1-13 1-17 1 22 1-6 1 27 1 5 1-11 1 10 1-5 1-16 1 2 1 11 1-16 1 8 1 1 1-6 1-9 1 17 1 0 1 36 1-33 1 0 1-27 1 33 1-9 1-7 1 11 1-4 1-10 1 9 1 7 1-10 1 17 1-4 1-5 1-1 1-8 1 16 1-12 1 9 1-11 1 9 1-7 1 13 1-1 1-14 1 1 1 6 1-13 1-5 1 26 1-13 1-15 1 15 1 14 1 7 1-9 1-17 1 4 1 4 1-8 1 25 1-5 1-27 1 29 1-15 1 3 1 4 1-26 1 20 1-11 1 8 1-5 1 7 1-7 1 15 1-7 1-15 1 22 1-24 1 16 1-3 1 10 1-8 1-1 1-10 1 22 1-23 1 5 1 4 1-1 1 10 1 23 1-38 1 1 1 14 1-10 1-7 1 14 1 1 1-17 1-6 1 15 1-10 1 17 1-8 1 11 1-16" fill="none" stroke="#0a0a0a" stroke-width="0.7" vector-effect="non-scaling-stroke" stroke-linejoin="round"/>
<path transform="translate(42.500 0) scale(0.07123 0.1)" d="M0 4903l1 10 1-8 1-5 1-26 1 37 1-1 1 6 1-8 1 2 1-9 1 7 1 4 1-23 1 11 1 1 1-5 1-4 1 12 1 8 1-11 1 7 1-2 1 1 1-25 1 28 1-21 1 9 1 1 1 8 1-7 1 14 1-22 1 0 1 29 1-15 1 6 1 0 1-7 1 5 1 3 1-6 1-4 1-11 1 4 1 4 1 2 1 8 1-2 1-9 1-7 1 16 1-5 1 8 1-8 1 18 1-22 1 2 1 3 1-4 1 14 1-10 1 11 1-21 1 9 1-8 1 21 1-24 1 11 1 4 1-1 1 9 1-6 1 19 1-25 1 8 1 17 1-13 1-8 1-1 1 10 1-23 1 16 1 7 1-18 1 9 1 6 1-11 1 12 1 8 1-25 1 14 1 11 1-1 1-6 1 10 1-3 1-3 1-14 1 8 1-3 1-13 1 18 1-11 1 17 1-9 1 6 1-1 1-2 1-4 1-6 1 10 1-12 1 14 1-20 1 13 1 14 1 3 1-1 1-16 1 8 1-12 1 24 1-13 1-8 1 14 1-38 1 37 1-14 1-6 1-2 1 8 1-5 1 18 1-4 1-4 1-11 1 11 1-10 1 0 1 9 1-7 1 5 1 19 1-9 1-17 1 8 1-2 1-18 1 9 1 25 1-7 1-10 1-13 1-5 1 9 1 8 1 9 1 1 1-9 1 14 1-18 1 6 1-11 1 4 1 5 1 10 1-12 1-1 1 11 1-5 1-11 1-1 1-1 1 23 1-5 1-10 1 5 1 6 1 7 1 4 1-17 1 2 1-5 1-3 1 19 1-21 1 2 1 16 1-12 1 18 1 5 1-17 1-11 1 19 1-18 1 9 1-1 1-16 1 6 1 12 1 5 1-8 1 5 1 3 1-1 1-12 1 8 1 3 1-2 1-11 1-8 1 12 1-2 1 1 1-6 1 21 1 1 1-19 1 4 1 5 1 3 1-11 1 16 1-16 1 15 1 30 1-21 1-19 1 23 1-17 1 29 1-25 1 1 1 2 1-5 1-1 1-6 1-14 1 13 1-7 1 2 1 1 1 2 1 23 1-20 1-2 1-6 1 17 1 5 1 14 1-23 1 13 1-7 1-11 1 8 1 6 1 1 1-3 1-9 1 8 1-12 1 19 1 4 1-24 1 4 1 11 1-24 1 31 1-15 1-4 1 8 1-19 1 18 1 7 1-7 1-6 1-2 1 8 1-13 1 9 1-25 1 29 1 2 1 5 1-15 1 3 1-6 1-9 1 11 1 20 1-25 1 4 1 1 1 2 1 4 1-3 1 7 1-5 1-3 1 6 1-5 1-3 1 0 1 37 1-40 1 6 1-3 1 19 1-12 1-8 1 5 1-8 1 17 1-12 1-5 1 11 1-13 1-6 1 11 1-6 1 5 1 8 1 4 1-8 1 27 1-22 1 4 1 4 1-10 1 3 1-13 1 18 1-7 1 2 1 2 1-5 1-6 1 32 1-23 1 8 1-9 1 3 1 1 1-16 1 17 1 7 1 10 1-17 1-5 1 11 1-28 1 8 1 3 1 23 1-18 1-9 1 9 1 3 1-4 1 12 1-12 1 10 1-3 1-18 1 19 1-21 1 18 1 14 1-21 1 6 1 0 1 8 1-9 1-9 1 10 1 3 1 2 1 2 1-2 1-11 1 13 1 4 1-9 1 11 1-13 1-9 1 7 1-2 1 5 1 8 1-7 1 13 1-7 1 7 1 14 1-22 1 0 1 8 1-8 1 0 1 11 1 2 1 4 1 1 1 4 1-5 1-16 1 20 1-10 1-7 1-11 1 8 1-1 1-4 1 13 1-12 1 9 1 1 1 1 1-23 1 20 1-6 1 16 1-9 1-12 1-5 1 28 1-6 1-6 1-1 1 2 1 18 1-33 1 8 1-15 1 18 1-9 1 6 1-2 1 2 1-8 1-6 1 17 1-6 1 5 1 9 1-4 1 0 1 5 1-21 1 11 1-1 1 2 1-5 1-12 1 13 1 2 1-8 1 20 1-7 1-4 1 0 1 8 1-4 1-9 1-2 1 7 1 15 1 1 1-15 1 13 1-7 1 1 1-17 1 11 1 3 1-9 1 18 1-3 1 1 1-7 1 0 1 11 1-9 1-15 1 18 1-8 1 3 1-3 1 7 1 4 1-4 1 31 1-33 1 5 1 13 1-11 1-11 1-12 1 5 1 2 1 12 1-12 1 2 1 1 1 3 1-2 1 28 1-29 1-4 1 4 1 5 1-13 1 11 1-4 1 1 1-15 1 26 1-7 1 7 1-5 1-17 1 11 1 5 1-1 1-8 1 10 1-30 1 22 1 35 1-12 1-9 1-14 1-4 1 4 1 5 1-10 1-6 1 19 1 1 1-5 1 14 1-10 1-8 1-1 1-5 1 7 1-2 1 8 1-10 1-5 1-3 1-8 1 19 1 7 1-19 1-10 1 29 1 0 1-8 1 2 1 1 1-10 1 1 1 9 1-22 1 18 1 10 1 6 1-7 1 2 1-9 1 4 1 22 1-1 1-28 1 15 1-10 1-2 1 7 1-15 1 7 1-23 1 18 1 16 1 5 1-18 1 6 1 0 1 15 1-22 1-9 1 23 1-5 1 0 1 14 1-17 1 13 1-17 1-7 1 6 1 19 1-18 1-5 1-5 1 31 1-12 1-11 1 0 1-4 1-6 1 1 1 6 1 9 1-26 1 11 1 10 1-9 1 2 1 6 1-6 1 1 1 3 1-25 1 21 1 16 1-6 1 0 1-8 1 16 1 6 1-17 1 16 1 7 1-4 1-7 1-12 1 16 1 12 1-17 1 11 1 16 1-5 1-20 1-1 1-8 1 18 1-8 1 5 1-4 1-7 1 2 1-8 1-9 1 11 1-9 1 8 1 10 1-2 1 3 1 3 1-17 1 8 1 5 1-23 1 12 1 10 1-1 1-8 1 20 1-3 1 11 1-28 1 8 1-16 1 25 1 1 1-6 1-4 1 26 1-30 1 9 1-10 1 1 1 15 1-14 1 3 1-8 1 0 1-5 1 13 1 11 1-16 1-5 1-12 1 14 1 19 1-3 1 2 1-9 1-11 1 14 1 0 1 10 1-15 1 7 1 13 1-18 1 1 1-1 1-3 1 6 1 4 1 12 1-22 1 19 1-11 1-3 1 13 1-9 1 8 1-4 1 18 1-15 1-18 1 18 1 4 1-13 1 5 1-18 1-4 1 15 1-13 1 8 1-2 1 8 1-23 1 23 1 1 1-10 1 1 1 6 1-12 1 18 1 9 1-20 1 2 1-1 1 10 1 8 1-19 1 13 1-18 1-1 1 12 1-7 1-15 1 9 1 13 1-3 1-1 1 7 1-3 1-3 1 7 1 2 1-3 1 1 1-10 1 9 1-9 1 14 1-10 1 5 1 14 1-28 1 14 1-8 1 24 1-34 1 11 1-2 1 12 1-2 1 1 1 1 1-5 1 0 1 3 1-4 1-4 1 14 1-26 1 3 1 25 1-14 1-30 1 18 1 15 1-1 1-6 1 3 1-17 1 7 1 7 1 4 1-19 1 19 1-12 1 6 1-12 1 19 1-4 1 6 1-3 1-16 1 21 1-4 1 2 1-16 1 20 1-13 1 1 1 5 1 11 1-13 1 4 1 1 1 9 1 13 1-14 1-23 1 20 1-20 1 20 1-3 1-5 1 22 1-16 1-5 1-5 1 3 1 2 1-4 1 11 1-9 1 5 1 17 1-12 1-3 1-4 1-11 1 5 1-5 1 7 1-2 1 14 1 6 1-12 1-7 1 9 1-7 1 12 1 0 1-14 1 10 1-2 1-4 1-4 1 8 1-15 1 4 1 5 1 7 1 2 1-11 1 20 1-8 1 1 1-11 1 13 1 7 1 3 1-12 1 8 1-7 1 2 1 21 1-11 1-5 1-2 1-7 1 9 1 0 1-18 1 17 1-1 1 0 1 16 1-28 1 23 1-18 1 3 1-10 1 30 1-13 1-15 1-1 1 11 1-9 1 1 1 1 1-25 1 19 1-1 1 8 1 4 1-7 1-21 1 14 1 13 1-2 1 6 1 8 1-19 1-14 1 1 1 12 1 2 1 11 1 7 1-27 1 20 1 14 1-27 1-1 1-8 1 14 1-3 1-9 1 19 1-4 1-9 1 4 1 21 1-12 1-10 1-14 1 17 1-22 1 10 1 20 1-17 1 9 1 4 1 4 1 2 1-9 1 4 1-1 1-39 1 28 1 8 1-5 1 9 1-2 1-9 1-2 1 9 1-17 1 16 1 1 1-2 1-11 1 2 1 9 1 4 1-18 1 20 1-1 1-3 1-5 1-16 1 13 1-11 1-1 1 15 1-6 1-11 1 15 1 5 1-3 1 5 1-11 1 10 1-15 1 22 1-21 1 8 1-11 1 14 1 6 1-8 1 1 1 8 1-10 1-9 1 1 1 18 1-13 1 13 1-12 1 22 1-8 1-18 1 8 1 7 1 7 1 3 1-9 1-29 1 24 1 7 1-22 1 17 1-6 1 2 1 18 1-22 1 13 1-13 1 4 1 2 1 6 1 2 1-10 1-7 1 8 1-17 1 17 1 2 1-20 1 12 1-13 1-2 1 14 1 8 1-6 1 3 1-15 1 30 1-16 1 3 1-14 1-6 1 30 1-3 1 13 1-9 1-1 1 4 1-11 1-2 1 5 1-7 1-18 1 29 1-15 1-6 1 2 1-5 1 11 1 14 1-5 1 3 1-3 1-13 1-7 1 10 1 8 1 2 1-3 1-22 1 28 1-11 1 2 1-9 1-13 1 31 1-12 1-3 1 6 1 2 1-6 1 18 1-11 1 10 1-14 1-12 1 19 1 1 1-16 1-1 1-19 1 22 1 19 1-12 1-6 1 10 1-6 1-3 1-15 1 4 1 30 1-27 1-9 1-1 1 17 1-7 1-4 1 10 1-1 1-15 1 15 1-6 1 3 1-10 1 2 1 3 1-5 1 1 1 11 1 8 1-17 1 4 1-10 1 20 1-6 1-23 1 7 1-1 1 3 1 8 1-13 1 2 1 2 1-10 1 13 1-22 1-12 1 21 1 6 1-17 1 8 1-12 1 8 1-5 1-5 1-21 1 19 1-5 1 18 1-16 1-28 1 12 1-25 1 33 1-11 1-12 1-3 1 11 1-6 1-1 1 5 1-7 1 3 1-15 1 31 1-8 1-2 1-4 1 0 1 6 1-15 1 7 1-3 1-1 1-5 1-9 1 9 1-2 1 8 1-1 1-17 1 16 1-11 1 21 1-3 1-24 1 34 1 3 1-19 1 11 1 1 1 2 1-14 1-2 1-9 1 8 1 8 1-20 1 21 1-20 1 14 1-4 1 6 1-2 1 2 1-5 1-1 1 4 1 10 1-17 1 1 1-1 1 8 1-8 1-3 1 13 1-8 1-9 1 3 1 8 1-5 1 3 1 0 1-7 1 16 1-10 1-8 1-4 1 4 1-2 1 3 1-8 1 6 1-1 1 1 1 0 1-3 1-7 1 2 1-14 1 24 1-6 1 4 1 3 1 13 1-7 1-10 1 12 1-2 1-2 1-6 1 7 1 7 1-13 1 4 1 2 1 2 1 17 1-18 1-22 1 16 1 0 1-9 1-5 1-1 1 20 1-14 1 3 1-3 1 9 1-6 1 10 1-3 1-1 1-12 1 27 1-18 1 16 1 10 1-15 1-3 1-2 1-30 1 25 1 4 1-15 1 9 1 15 1-8 1-16 1 14 1 16 1-5 1 5 1 0 1-2 1 9 1-30 1 16 1-7 1 8 1-9 1 11 1-4 1 10 1-2 1-7 1-2 1 12 1-15 1 26 1-16 1-35 1 26 1 1 1 1 1 3 1 10 1-14 1 25 1-1 1-5 1-4 1-10 1 7 1 1 1 14 1-15 1-3 1 8 1 1 1-23 1 21 1 0 1-1 1-1 1 4 1 9 1-4 1-36 1 29 1-19 1 17 1 1 1-2 1 30 1-42 1 7 1-4 1 7 1-13 1 19 1-18 1 6 1 10 1-5 1 7 1-5 1 8 1-8 1 12 1-20 1 6 1 1 1 4 1 2 1 2 1 5 1 20 1-24 1 5 1-5 1 2 1-2 1 2 1-15 1 17 1 8 1-16 1 9 1-6 1-19 1 14 1-11 1 10 1 9 1 29 1-23 1-5 1 6 1 14 1-26 1 0 1 13 1 8 1-13 1 8 1 4 1-3 1-19 1 5 1-29 1 42 1-7 1-2 1-2 1 5 1 1 1-13 1 4 1 28 1-13 1-10 1 0 1 16 1 8 1-12 1 5 1-11 1-2 1 8 1 6 1-22 1 6 1 5 1 11 1-3 1-6 1 0 1 14 1 9 1-7 1-8 1-3 1 5 1 13 1-13 1 7 1-15 1 0 1 17 1 1 1-22 1 31 1-8 1 13 1-17 1 0 1 3 1-6 1-1 1 3 1 6 1 0 1-12 1-3 1 14 1-6 1-1 1 14 1-15 1 9 1 2 1 9 1-10 1-10 1 12 1 6 1-7 1-2 1 0 1-4 1 6 1-4 1 7 1-1 1 5 1-10 1-2 1 5 1-15 1 12 1 16 1 1 1-16 1-4 1 1 1 1 1-1 1-1 1-2 1-3 1 6 1-15 1 16 1-17 1 1 1 37 1-35 1 5 1-2 1 4 1-7 1 0 1-6 1 12 1-16 1-4 1 15 1-3 1 4 1 2 1 4 1-10 1 15 1-30 1 24 1-12 1-3 1 12 1 1 1-28 1 17 1 11 1-1 1-15 1 0 1 8 1-2 1-6 1-14 1 14 1-6 1-5 1 12 1-9 1 3 1 14 1-16 1 13 1 3 1 11 1-6 1-4 1-11 1 5 1-11 1 4 1-14 1 1 1 22 1 0 1-8 1-6 1 14 1-22 1 7 1 13 1-6 1-7 1 11 1-24 1 24 1 9 1-2 1-9 1 2 1 6 1 2 1-20 1 17 1-9 1 2 1 14 1-17 1-6 1 8 1-11 1 11 1 15 1-15 1 7 1 1 1-13 1 3 1 10 1-19 1 20 1 6 1-16 1-11 1 9 1 9 1 9 1 10 1-21 1 1 1-10 1 11 1-17 1 2 1 14 1-16 1-11 1 10 1 18 1-10 1 8 1-11 1 14 1-3 1 34 1-42 1 23 1-20 1-1 1 6 1-6 1-6 1 1 1 15 1 1 1 10 1-25 1 10 1-22 1 8 1 19 1-15 1 13 1-6 1 3 1 10 1-10 1-18 1 9 1 10 1-7 1-2 1-6 1 8 1-12 1 21 1-1 1-17 1-1 1 29 1-22 1 4 1 4 1 3 1 3 1-13 1 20 1-19 1 3 1-3 1-3 1-1 1 20 1-14 1 3 1-8 1-3 1-7 1 13 1 6 1-4 1 7 1 1 1-11 1 14 1-6 1-4 1 4 1 2 1 3 1-17 1 9 1-12 1-17 1 19 1 11 1 5 1-6 1 8 1 1 1-2 1 20 1-13 1 2 1-7 1-15 1 7 1 12 1 18 1-20 1-37 1 43 1 1 1-10 1-21 1 17 1-7 1-11 1 21 1-18 1 18 1-17 1 2 1 13 1 12 1-9 1 3 1 10 1-25 1 15 1-5 1 2 1 7 1-3 1-9 1 12 1 4 1-9 1 30 1-43 1-5 1 5 1 1 1 8 1-2 1-21 1-4 1 12 1 10 1 12 1-19 1 3 1-10 1 10 1 9 1-3 1-18 1 26 1-13 1 1 1 8 1-2 1 0 1-13 1 5 1 2 1-5 1 21 1-8 1 8 1-22 1 14 1-25 1 7 1-4 1 11 1-1 1 1 1 3 1-4 1-6 1-29 1 37 1 9 1-8 1-4 1 5 1 11 1 4 1-11 1 3 1-3 1-13 1 6 1 8 1 5 1 10 1-16 1 10 1-25 1 18 1 4 1 19 1-20 1 6 1-9 1 12 1-3 1-12 1 11 1-10 1 3 1 0 1 3 1-18 1 15 1-9 1 1 1 2 1-10 1 19 1-1 1-8 1 7 1-13 1-4 1 4 1 9 1-24 1 22 1-3 1-3 1 3 1-23 1 11 1 11 1-7 1-8 1 19 1-21 1 17 1-3 1-7 1 8 1-3 1 6 1-23 1 30 1-10 1 4 1-14 1 21 1-21 1 5 1-10 1 13 1 9 1-30 1 16 1 10 1-3 1-2 1-13 1-5 1 22 1-20 1 5 1 2 1 5 1 12 1-7 1-6 1 7 1 12 1-10 1-1 1-8 1 6 1 12 1-9 1 3 1-19 1 12 1-11 1-4 1 11 1-2 1 5 1 1 1-11 1 9 1-8 1 7 1 9 1-7 1 1 1-5 1 5 1-3 1-8 1 20 1 1 1-23 1 6 1 13 1 2 1-4 1-8 1 14 1-1 1 3 1 9 1-27 1 12 1-14 1 17 1 18 1-7 1 6 1-22 1 7 1 6 1 7 1-14 1 3 1-12 1-2 1 4 1-3 1 23 1-8 1-3 1-7 1-13 1 12 1 1 1 4 1-7 1 4 1 6 1 0 1-13 1 3 1 4 1-7 1 13 1-14 1 8 1 4 1 4 1-11 1-3 1-4 1 33 1-18 1-1 1 11 1 0 1-7 1 12 1 4 1-16 1 2 1 15 1-14 1 9 1-5 1 1 1 19 1-31 1 13 1 3 1-14 1 20 1-19 1 26 1-5 1-7 1-21 1 29 1-26 1 11 1-5 1-15 1 47 1-25 1 0 1-6 1 9 1-6 1-2 1 1 1 7 1 6 1-19 1-13 1 15 1-12 1-3 1 5 1 29 1-1 1-16 1 5 1-4 1-8 1-13 1 0 1 18 1-5 1-6 1 5 1 3 1 13 1-10 1 4 1-3 1 16 1 3 1 1 1-9 1-7 1 23 1-32 1-9 1 18 1 2 1-11 1 4 1 7 1-13 1 11 1-5 1-4 1 2 1 1 1-10 1 23 1-13 1 2 1-16 1 7 1 7 1 7 1 0 1-5 1 13 1-5 1-1 1 9 1 1 1 1 1-17 1 16 1-7 1-9 1-12 1 27 1 7 1-3 1-17 1-4 1 7 1 16 1-19 1-1 1-13 1 18 1 19 1-6 1-20 1 6 1-10 1 13 1 3 1-14 1 0 1 1 1-5 1 12 1-17 1 2 1 20 1-28 1 27 1-11 1-22 1 19 1-15 1 6 1 21 1-2 1-1 1-8 1 5 1-2 1-25 1 25 1-4 1 0 1 3 1-8 1 8 1-9 1-9 1 10 1 23 1-12 1-14 1 16 1 14 1-18 1-5 1 9 1-6 1-7 1 8 1 10 1-10 1-2 1-3 1 2 1-20 1 21 1 4 1-8 1 5 1-4 1-8 1 14 1 14 1-18 1 6 1 3 1-10 1-4 1 7 1 12 1-10 1 13 1-14 1-6 1 23 1-29 1-1 1 6 1 8 1 0 1-2 1 10 1-11 1 22 1-18 1 25 1-12 1 4 1-19 1 13 1-15 1 12 1-10 1 5 1-7 1 5 1-8 1 11 1-11 1-5 1 20 1 2 1 7 1-10 1-17 1-1 1 13 1-2 1 3 1-17 1 16 1-2 1 12 1-19 1 0 1 15 1-17 1-5 1 7 1-5 1 13 1-9 1 3 1 17 1-13 1 5 1-2 1-3 1 13 1-12 1 10 1-16 1 7 1 10 1-18 1 8 1-6 1 1 1 7 1-8 1 4 1 2 1-12 1-6 1 9 1 23 1-39 1 13 1 0 1-6 1 10 1 27 1-23 1-15 1 4 1 7 1 1 1 5 1-2 1 13 1-14 1-10 1 1 1 22 1-25 1 33 1-30 1 2 1-7 1 12 1 5 1-3 1 8 1-13 1 13 1-4 1-1 1-2 1-1 1 5 1 5 1-12 1 2 1-14 1 14 1-10 1 4 1 13 1 7 1-12 1 6 1 3 1 3 1-7 1 5 1-2 1 9 1 3 1-21 1 16 1-10 1 12 1-18 1 3 1-12 1 4 1-16 1-3 1 27 1-6 1-3 1 2 1-9 1 2 1 25 1-17 1-11 1 10 1-15 1 26 1-8 1 18 1-14 1-2 1-6 1 4 1-3 1 16 1-3 1-22 1 21 1-14 1 17 1 1 1 7 1-37 1 33 1-16 1 3 1 13 1-9 1 6 1-1 1-10 1-10 1 18 1-7 1 9 1-15 1 12 1-5 1 3 1-17 1 9 1-9 1 3 1 21 1-9 1-10 1 19 1-23 1 10 1-22 1 28 1-5 1-9 1 9 1-3 1-1 1 10 1-7 1 10 1-14 1 6 1 0 1-3 1 12 1-16 1 8 1-7 1 3 1 9 1-15 1 5 1-11 1 1 1-26 1 23 1 20 1-17 1 3 1 0 1 5 1-4 1-6 1 13 1-25 1 7 1 13 1-6 1 1 1 0 1 3 1-3 1-2 1 18 1-21 1 19 1 13 1-5 1 2 1-16 1 10 1-6 1-5 1 0 1-6 1 20 1-11 1-8 1 13 1 5 1 0 1-7 1 5 1-2 1 25 1-27 1 2 1 1 1-6 1-6 1 7 1-13 1 22 1-20 1 31 1-15 1-7 1 3 1-3 1-11 1 22 1 5 1-18 1 7 1 4 1-16 1 16 1-14 1 0 1 0 1 8 1-6 1 6 1-7 1 3 1-13 1 10 1 12 1-10 1 1 1 1 1-11 1 29 1-12 1 5 1-3 1-12 1 8 1-14 1 19 1-16 1 19 1-19 1-2 1-16 1 35 1-9 1 8 1-23 1 25 1 6 1-30 1-3 1 9 1 7 1 3 1-8 1 5 1-8 1 7 1 12 1-16 1 7 1-5 1 1 1 9 1-11 1-3 1 3 1 20 1-27 1 28 1-19 1 5 1-13 1 33 1-12 1-1 1-6 1 4 1-15 1 5 1-25 1 26 1 6 1-8 1 10 1-3 1-9 1-5 1 14 1 3 1-7 1 1 1 13 1 21 1-35 1-3 1 5" fill="none" stroke="#e6161e" stroke-width="0.7" vector-effect="non-scaling-stroke" stroke-linejoin="round"/>
<path transform="translate(42.500 0) scale(0.07123 0.1)" d="M0 4690l1 10 1 3 1 13 1-6 1-13 1 11 1-19 1 7 1 34 1-21 1-4 1 7 1 11 1-6 1 26 1-33 1 5 1-10 1 9 1 15 1-15 1-5 1 13 1-4 1-3 1 0 1-26 1 17 1-2 1-4 1 14 1-3 1 6 1 5 1-2 1 3 1-25 1 1 1 5 1-20 1 16 1 9 1-12 1 4 1 7 1 12 1-15 1-5 1 22 1-3 1-26 1 30 1-21 1 6 1 22 1-17 1-2 1-3 1 17 1-11 1 3 1 9 1-26 1 11 1 2 1 3 1-5 1 6 1 13 1-23 1-2 1-6 1-2 1 8 1-1 1 10 1-6 1 14 1-35 1 14 1 8 1-4 1 3 1-1 1 9 1-17 1-3 1 26 1-12 1 3 1 3 1 5 1 2 1 18 1-15 1-4 1-20 1 7 1 16 1 0 1-15 1-1 1 7 1 7 1 7 1-12 1-2 1 17 1 4 1-23 1 14 1-19 1 12 1 0 1-11 1 31 1 0 1-12 1 4 1-8 1 9 1 10 1 24 1-28 1-8 1 6 1-13 1-10 1-12 1 37 1-23 1 5 1 8 1 13 1-24 1-3 1 9 1-16 1 8 1 2 1 7 1 2 1 1 1 5 1-5 1-12 1 7 1-11 1-12 1 30 1-19 1 21 1-10 1-12 1 8 1 1 1 10 1 1 1 8 1-19 1 13 1-13 1 3 1-1 1-7 1 1 1 11 1-9 1 2 1-3 1 10 1-3 1 2 1-18 1 5 1-6 1 9 1 1 1 8 1-7 1 0 1-5 1-4 1 23 1-3 1-17 1-13 1 37 1-12 1-11 1 7 1 0 1 5 1-5 1 5 1-11 1 12 1-5 1-3 1 14 1-2 1 13 1-2 1-16 1 5 1-1 1-15 1 16 1-29 1 33 1-31 1 11 1 18 1 12 1-24 1 19 1 23 1-42 1 1 1 2 1 4 1-10 1 3 1-13 1 14 1 9 1-17 1 18 1-12 1 22 1 11 1-48 1 3 1 19 1 8 1-9 1-6 1-1 1 2 1-5 1-7 1-5 1-7 1 4 1 10 1 12 1-13 1 28 1-15 1 15 1 1 1-9 1 1 1 4 1 3 1-5 1-10 1-12 1 5 1 14 1 0 1 1 1-15 1 18 1-20 1 8 1-14 1 11 1-10 1 21 1-14 1 5 1 2 1 10 1 13 1-18 1 1 1-16 1 16 1-7 1 9 1 12 1-15 1-5 1 9 1 11 1-16 1-11 1 14 1-3 1-10 1 9 1 11 1 1 1-17 1 3 1 0 1 2 1 3 1 2 1 4 1 4 1 5 1 3 1-31 1 15 1 2 1 16 1-8 1 4 1-6 1 8 1-5 1 0 1-10 1 15 1-12 1 24 1-29 1-3 1 19 1-12 1 9 1-14 1-17 1 31 1-13 1-16 1 19 1-3 1-27 1 37 1 4 1-8 1 9 1-6 1 1 1-7 1 5 1 4 1 4 1 1 1-8 1 13 1 10 1-6 1-11 1-1 1-3 1-3 1 20 1-12 1 12 1-2 1 4 1-4 1-3 1 19 1-21 1-6 1-6 1 11 1-1 1-12 1 7 1 5 1-8 1 4 1 1 1 2 1 14 1-27 1 14 1-12 1 6 1-4 1 4 1 0 1-11 1 14 1-4 1 1 1-10 1 12 1-1 1-5 1 0 1-5 1 22 1 7 1 4 1 7 1-30 1 0 1-5 1 6 1-5 1 13 1-14 1 11 1 6 1-4 1 1 1 5 1-6 1-13 1 22 1-6 1-9 1 8 1 7 1 4 1-16 1 2 1-2 1 2 1-1 1 7 1 6 1-14 1 11 1-5 1-6 1 12 1-7 1-9 1-4 1 11 1 6 1 0 1 10 1-12 1-13 1 18 1-5 1 4 1-9 1 5 1-11 1-4 1 21 1-3 1-18 1 15 1 2 1 0 1-14 1 16 1-11 1 2 1 4 1 4 1-5 1 7 1-6 1 6 1-4 1 4 1-9 1 3 1-8 1 17 1-7 1-27 1 19 1-8 1 1 1-1 1 4 1-22 1 16 1 2 1-5 1 10 1 20 1-35 1 15 1-8 1 7 1-30 1 28 1 1 1-4 1-2 1 21 1-14 1 4 1 1 1-11 1 3 1 6 1-12 1-1 1 1 1 10 1-7 1 16 1-18 1-30 1 32 1 5 1-18 1 9 1-6 1 1 1 17 1-4 1-14 1 5 1 18 1-39 1-19 1 52 1-30 1 1 1 1 1-1 1 7 1-12 1 8 1 2 1-13 1-1 1 16 1 20 1-27 1 19 1-9 1 9 1-5 1-12 1 8 1 15 1-2 1-9 1 12 1-14 1-7 1 0 1 10 1-9 1 5 1 3 1-18 1 10 1 3 1-14 1 9 1-2 1-8 1-12 1 22 1 8 1-18 1 10 1-4 1-12 1 19 1-6 1 9 1 2 1-5 1 7 1-16 1 5 1 8 1-28 1 23 1 14 1-21 1-5 1 1 1-4 1 8 1-6 1 9 1-13 1-11 1 14 1 8 1-38 1 48 1-10 1-13 1 12 1-3 1-10 1-3 1 0 1 15 1-31 1 18 1 15 1-6 1 2 1 1 1-5 1 27 1-12 1-31 1 31 1-1 1 10 1-4 1-2 1-17 1-3 1 5 1 0 1 6 1-6 1-20 1 32 1-3 1 1 1 13 1-17 1-1 1-24 1 21 1-4 1 10 1 1 1-2 1 8 1-13 1-1 1 13 1-24 1-2 1 14 1-1 1-3 1-3 1 11 1-10 1-1 1-23 1 12 1 7 1 4 1 10 1-2 1-1 1 1 1-3 1-12 1 10 1 9 1-12 1 3 1-3 1-3 1-6 1 17 1-8 1 15 1 9 1-8 1-1 1 4 1-11 1 3 1-8 1 3 1-4 1 23 1-21 1 1 1 31 1-14 1-10 1 22 1-19 1 20 1-43 1 24 1-2 1-6 1 6 1-9 1-6 1 17 1 11 1-14 1 19 1 0 1 2 1-24 1 15 1 10 1-3 1-8 1 6 1-5 1 0 1 10 1-21 1 0 1 0 1 2 1 3 1-1 1-11 1 11 1 14 1-7 1-9 1-10 1 14 1-10 1 16 1 6 1 4 1 5 1 6 1-9 1-6 1 12 1-23 1 1 1-2 1 17 1-8 1-6 1 7 1 2 1 5 1-12 1 0 1 19 1-36 1 6 1-4 1 4 1 15 1-16 1 6 1 15 1-19 1 17 1 1 1-4 1 35 1-39 1-19 1 16 1-24 1 5 1 10 1 1 1 14 1-8 1-4 1 7 1 3 1-3 1 8 1 6 1 4 1-11 1 10 1-8 1 3 1-13 1 5 1 13 1-3 1-5 1-18 1 14 1 12 1-13 1-10 1 11 1 23 1-39 1 6 1 24 1-20 1 24 1-23 1-10 1 8 1-4 1 14 1-3 1-8 1-16 1 18 1-7 1-24 1 28 1 2 1 11 1 1 1-11 1 13 1-8 1-3 1 19 1-3 1 0 1-25 1-10 1 16 1 7 1 4 1 2 1-1 1 9 1-15 1-4 1 16 1-9 1 9 1-4 1 0 1 0 1 3 1 4 1-11 1-5 1 6 1 11 1-21 1 25 1-26 1-1 1-6 1 1 1-2 1 3 1 0 1 2 1-3 1 14 1-30 1 17 1 15 1-20 1-7 1 10 1-10 1 9 1-17 1 15 1 8 1-2 1 23 1-24 1 0 1 3 1-1 1-7 1 2 1 15 1-5 1-4 1 6 1-19 1 24 1-7 1-11 1 23 1-4 1 8 1-23 1-15 1 16 1 0 1 30 1-23 1-12 1 20 1 1 1-17 1 16 1 24 1-34 1 8 1-11 1 4 1 10 1 9 1-17 1 2 1-19 1 15 1-10 1 10 1-7 1 3 1-7 1 2 1-4 1 8 1-12 1-2 1 15 1 11 1-4 1-2 1 16 1-23 1 3 1 7 1-7 1-8 1 6 1-3 1 10 1-3 1 7 1-14 1 24 1-3 1-5 1-11 1 18 1 6 1-15 1 7 1-12 1 12 1-4 1-16 1 7 1 9 1 6 1-18 1-3 1 1 1-11 1 10 1 5 1 9 1 10 1-22 1 9 1-4 1-7 1 4 1 3 1-2 1 20 1-11 1-2 1-3 1-3 1-5 1 11 1-6 1 6 1-4 1-7 1 8 1 9 1 0 1 8 1-2 1-18 1-1 1-14 1 9 1 5 1 0 1-3 1 9 1 5 1-11 1 18 1-6 1 4 1-18 1-5 1 0 1 9 1 2 1-5 1-10 1 12 1 6 1 3 1-14 1-14 1 22 1 5 1 7 1-13 1 6 1-16 1 21 1-16 1-6 1 1 1 5 1 7 1-1 1 0 1-10 1 7 1 3 1-5 1 1 1 2 1-3 1 7 1-11 1 10 1-13 1-2 1 10 1-10 1 5 1 28 1-35 1 11 1 5 1 1 1-6 1-5 1-1 1 9 1-15 1 1 1 11 1-5 1 25 1-13 1 0 1-12 1 6 1 15 1 0 1-10 1-2 1 3 1-24 1 16 1-9 1 12 1-3 1-7 1 8 1-10 1 4 1-9 1 7 1-9 1 16 1-16 1 4 1 24 1-22 1 21 1 14 1-27 1 7 1-7 1-8 1 5 1 0 1-3 1-10 1 9 1 4 1 2 1 22 1-15 1-9 1 7 1-19 1 22 1-8 1 11 1-4 1 11 1-15 1 4 1 1 1-1 1-2 1-7 1 11 1-8 1 16 1-13 1-5 1-10 1 3 1 26 1-2 1-5 1 4 1-13 1 1 1 4 1 13 1-14 1-9 1 3 1 15 1-16 1 12 1-10 1 7 1-7 1 12 1 9 1-2 1-17 1-4 1-4 1 12 1-5 1-9 1 3 1-1 1-6 1 10 1 9 1-14 1 12 1-17 1 0 1 16 1-11 1 3 1 12 1-13 1 16 1 9 1-6 1-12 1 0 1 18 1-14 1-1 1 7 1-14 1-11 1-20 1 36 1-28 1 12 1-10 1 6 1-5 1-3 1-17 1 0 1 4 1-6 1-1 1 5 1 12 1 4 1-19 1-6 1 26 1-16 1 4 1-5 1 4 1 1 1-12 1 5 1-3 1 0 1 4 1-9 1 14 1-21 1 24 1-23 1 6 1 8 1-24 1 17 1-15 1-1 1 25 1-39 1 24 1 7 1 3 1-2 1 0 1-12 1 7 1 10 1-1 1-8 1-8 1 16 1-12 1 14 1-3 1 12 1-4 1-5 1-11 1 17 1-2 1-7 1-3 1 7 1-3 1-2 1-8 1 1 1-8 1 3 1 12 1-6 1 7 1-10 1-1 1-2 1 6 1 10 1-10 1-21 1 30 1-9 1 3 1 1 1-4 1-5 1-11 1 20 1 0 1 5 1-14 1 5 1-15 1-12 1 24 1-4 1 1 1-3 1 7 1-10 1 13 1-6 1-9 1 15 1-2 1-3 1 9 1-2 1-13 1-5 1-7 1 7 1-7 1 2 1 8 1-1 1-6 1 4 1-15 1 0 1 3 1 5 1 6 1 5 1 4 1-20 1 8 1 13 1-13 1 3 1 3 1 13 1-23 1 10 1-4 1-1 1 12 1 14 1-24 1-5 1 4 1 8 1-18 1 2 1 5 1-5 1-3 1 17 1-5 1 14 1-19 1-21 1 37 1-37 1 25 1 3 1-6 1 6 1-2 1 24 1-3 1 13 1-25 1 7 1-17 1 10 1-13 1 12 1-30 1 12 1 19 1-12 1 7 1-1 1 10 1-8 1 11 1-7 1-4 1-2 1 11 1-9 1 14 1-14 1 2 1 0 1-9 1 8 1-13 1 7 1 4 1 14 1-11 1 8 1-9 1 16 1-20 1 5 1 1 1 2 1 18 1-46 1 32 1-21 1 19 1 22 1-29 1-7 1 28 1-13 1 7 1-4 1 5 1-12 1 18 1-4 1-23 1 24 1-4 1 17 1-19 1 1 1-2 1 19 1-20 1 7 1 7 1-22 1 10 1 8 1-27 1 20 1 11 1-17 1 32 1-29 1 9 1 0 1 7 1 10 1 3 1-18 1 8 1-16 1 18 1 10 1-16 1-24 1 20 1-4 1 13 1-9 1-7 1 2 1 2 1 1 1-1 1 1 1 0 1 0 1 3 1 5 1-14 1 8 1-9 1 9 1-7 1 11 1-6 1-11 1-6 1 29 1-12 1-5 1-2 1 1 1 1 1 10 1-5 1-13 1 22 1 10 1-28 1 7 1 2 1-3 1 6 1-1 1-2 1 9 1-23 1 3 1-10 1 4 1 16 1 16 1-25 1-2 1 22 1 0 1-9 1-2 1-9 1 12 1 7 1-21 1-4 1 4 1 10 1-15 1 20 1-24 1 19 1 8 1-7 1 14 1-32 1 24 1-5 1-5 1 9 1-16 1 3 1 5 1-15 1 6 1-14 1 4 1 3 1 19 1-4 1 1 1-7 1 15 1-1 1 8 1-34 1 21 1 11 1-10 1 3 1-2 1 4 1 0 1 9 1-16 1-2 1 0 1 0 1 1 1-8 1 12 1 11 1-6 1-5 1 11 1-1 1-4 1-25 1 39 1-16 1 0 1-28 1 35 1-11 1 11 1 6 1-14 1 19 1-21 1-8 1 13 1-1 1 4 1-8 1 0 1 7 1-16 1 7 1 25 1-18 1 3 1-5 1 3 1 1 1 1 1 10 1-20 1 27 1-55 1 34 1-7 1-5 1-8 1 6 1-1 1 5 1 33 1-23 1-2 1 4 1 10 1-11 1-8 1-1 1 4 1 5 1-14 1 27 1-19 1 2 1-5 1-12 1 12 1-2 1 5 1 3 1 2 1-1 1 7 1-23 1 32 1-13 1-9 1 8 1-15 1 14 1 3 1-8 1 3 1-5 1 9 1-12 1 2 1 6 1 6 1-9 1-7 1 13 1-17 1 30 1-16 1-19 1 16 1-2 1 0 1-6 1 7 1-3 1 9 1 4 1 25 1-38 1 12 1-4 1 0 1 22 1-25 1 8 1-1 1-7 1-6 1 0 1 18 1-17 1 14 1-13 1-3 1-21 1 25 1 7 1 11 1 3 1-12 1 4 1 0 1-11 1-12 1 5 1 7 1-12 1 23 1-12 1 1 1-9 1 7 1 20 1-8 1-13 1 10 1-11 1 10 1-15 1 16 1-25 1 32 1-10 1 2 1 2 1 1 1 10 1-23 1 24 1-7 1-19 1 6 1 3 1 10 1-17 1-2 1 0 1 6 1 15 1-1 1-10 1 4 1 5 1 5 1-8 1 12 1-9 1-27 1 34 1-7 1 10 1 9 1-43 1 0 1 35 1-18 1 8 1-8 1 1 1 3 1-2 1 1 1-1 1-7 1 7 1-1 1-7 1-3 1-8 1 16 1 0 1-3 1 7 1-6 1 14 1-9 1-17 1 17 1-4 1-8 1 19 1-5 1-9 1-9 1 19 1-7 1-5 1 19 1-18 1 9 1 10 1-20 1-4 1 14 1-2 1-2 1-12 1-7 1 7 1-6 1 39 1-19 1 0 1-6 1-2 1 3 1-22 1 8 1-6 1 36 1-21 1 6 1-22 1 16 1-5 1 7 1-10 1-1 1 18 1-8 1 10 1 7 1-21 1 10 1 0 1 17 1-27 1 9 1-12 1-8 1 14 1-4 1 3 1 11 1-15 1-1 1 7 1-5 1 7 1-18 1 17 1-3 1-9 1 5 1 6 1-1 1-4 1 18 1-20 1 0 1 6 1 0 1 3 1-17 1 3 1 23 1-29 1 5 1-7 1-4 1 5 1 5 1 1 1 5 1 18 1-19 1 5 1 2 1-3 1-14 1 11 1 3 1-23 1 32 1-2 1 9 1-11 1 2 1-14 1 17 1-9 1 5 1-7 1 17 1 7 1-5 1-11 1 23 1-30 1 14 1 0 1 0 1 2 1-2 1 2 1-16 1 25 1-27 1 16 1-9 1 17 1-20 1 3 1 0 1 12 1-18 1 9 1 19 1 11 1-19 1 15 1 1 1-18 1 24 1-17 1 17 1-22 1 19 1-3 1 0 1 4 1 11 1-18 1-12 1 2 1 9 1-13 1-28 1 24 1 13 1 10 1-29 1 3 1 3 1-10 1 8 1 2 1-7 1 5 1 4 1-10 1 13 1-24 1 2 1-12 1 13 1 15 1-21 1 23 1-14 1 24 1-12 1-7 1 0 1-9 1 9 1-1 1 10 1-13 1 28 1-23 1-9 1 17 1-18 1 12 1-15 1-8 1-12 1 25 1 10 1-6 1 7 1 12 1-20 1 3 1-20 1 13 1 8 1-20 1 15 1-10 1-2 1 13 1 22 1-26 1 1 1 0 1-2 1 16 1 0 1-6 1-5 1 0 1 10 1-1 1-3 1 20 1-9 1 1 1 15 1-9 1 4 1-27 1 8 1-8 1-4 1 9 1-6 1 12 1 0 1 0 1-3 1 2 1 7 1-14 1 7 1-5 1-20 1 9 1 4 1-9 1 17 1-9 1 4 1-2 1 2 1-3 1 4 1-3 1 14 1-4 1-10 1 7 1 0 1 5 1-8 1 4 1 38 1-34 1 4 1 5 1-12 1 10 1 2 1-5 1-5 1 1 1 13 1-42 1 28 1-3 1 16 1-12 1-4 1 17 1-22 1 8 1-2 1 10 1-1 1 3 1-3 1-4 1-4 1 11 1 0 1 10 1-22 1 11 1 5 1-8 1 1 1 5 1-17 1 15 1 6 1-27 1 7 1-4 1 2 1 5 1 0 1-4 1 8 1-15 1 12 1 16 1-21 1 11 1-1 1 3 1-21 1-3 1 2 1 13 1 21 1-27 1 0 1 12 1-12 1 21 1-32 1 19 1-22 1 3 1 6 1-6 1 3 1 7 1 5 1 11 1-2 1 3 1 7 1-3 1 0 1 4 1-12 1-12 1 5 1 21 1-14 1-1 1-11 1-5 1 6 1 6 1-3 1 5 1 7 1-20 1 22 1-15 1 7 1-21 1 8 1 3 1 15 1-6 1 4 1-4 1-10 1 1 1 4 1-4 1-2 1-9 1 24 1-18 1 0 1-10 1 8 1 1 1-4 1 8 1-9 1-11 1-8 1 30 1 3 1-4 1-40 1 38 1 3 1 1 1-7 1 25 1-38 1 10 1 5 1-7 1-2 1 6 1 10 1-10 1 17 1-8 1 11 1 14 1-21 1 12 1 4 1-15 1 6 1 19 1-24 1-17 1 4 1 12 1-18 1 2 1 3 1-27 1 40 1-3 1-3 1 3 1-4 1 3 1-13 1 16 1 4 1-27 1 22 1-13 1 4 1 9 1 14 1-13 1-4 1 3 1-14 1 4 1 4 1 29 1-31 1 12 1-1 1-6 1 8 1-3 1 5 1 2 1 0 1-3 1 4 1 2 1 8 1-7 1 5 1-14 1-8 1 6 1 6 1-11 1 20 1-11 1-11 1 14 1 18 1-16 1-19 1 15 1-14 1 5 1-4 1-11 1 14 1 4 1 0 1 3 1 2 1-10 1 14 1 2 1-25 1 10 1 4 1-16 1 1 1 17 1-15 1 18 1 0 1 7 1-14 1-15 1 14 1 14 1 6 1-31 1 1 1 17 1-7 1 3 1-4 1-4 1-10 1 11 1-5 1 8 1-3 1-2 1 10 1 1 1 1 1 14 1-12 1-3 1 5 1-20 1 6 1 7 1 14 1-4 1-18 1 34 1-34 1 4 1 3 1-6 1 12 1-6 1 1 1 9 1-13 1 7 1 16 1-14 1 1 1-6 1 10 1-1 1-1 1-8 1-6 1 9 1-2 1 3 1-3 1 5 1-5 1 0 1 11 1-6 1-4 1-3 1-5 1-2 1 9 1-9 1 16 1-9 1-1 1 4 1-2 1-5 1 8 1 3 1-11 1 7 1 19 1-29 1 11 1 1 1 9 1 12 1-19 1 0 1-7 1-5 1 5 1 7 1-11 1-1 1 16 1 2 1-14 1 11 1-5 1-9 1 1 1 2 1-1 1 1 1-5 1 10 1-6 1-13 1 22 1-10 1 23 1-25 1 4 1-3 1-1 1 15 1-5 1-6 1-12 1 8 1 7 1-12 1 14 1-13 1 17 1-25 1 15 1-13 1 8 1 2 1 4 1 2 1-3 1 14 1-25 1-2 1 7 1 16 1-7 1 2 1 6 1-18 1 12 1-16 1-1 1 13 1-13 1-8 1 7 1 13 1-12 1 36 1-4 1-4 1-3 1 3 1-20 1 21 1-5 1-15 1 2 1 9 1-20 1 4 1 5 1-15 1 27 1-3 1 1 1-6 1 3 1 7 1-4 1 16 1-13 1-5 1 18 1-15 1 7 1-2 1 1 1-3 1-12 1 16 1 2 1-28 1 1 1 17 1-9 1 3 1 0 1-1 1-10 1 12 1 13 1 9 1-28 1 12 1-2 1-5 1 1 1 1 1 16 1-19 1-4 1 19 1-34 1 25 1 3 1 10 1-20 1 18 1-2 1-3 1-5 1-23 1 11 1-14 1 17 1 1 1 26 1-32 1 18 1-30 1 26 1-8 1 21 1-1 1-9 1 21 1-16 1-6 1-4 1-4 1 1 1 7 1 12 1-11 1 4 1-12 1-1 1-2 1 5 1-9 1 22 1-15 1 13 1 2 1-5 1-8 1 6 1-1 1-3 1 0 1-2 1 22 1-24 1 6 1 26 1-25 1-10 1-10 1 17 1 14 1-20 1 15 1-19 1 8 1-16 1 17 1-20 1 16 1 11 1 3 1-4 1-16 1 2 1-4 1-11 1 9 1 9 1 18 1-21 1 21 1-29 1 12 1-12 1-2 1-1 1 13 1-6 1-2 1-1 1 12 1-9 1-2 1 5 1-20 1 26 1 6 1-11 1 5 1 3 1 5 1-5 1-3 1-6 1 14 1-16 1-9 1 5 1 15 1 4 1-15 1 24 1-9 1-3 1-1 1 13 1-8" fill="none" stroke="#68b428" stroke-width="0.7" vector-effect="non-scaling-stroke" stroke-linejoin="round"/>
<path transform="translate(42.500 0) scale(0.07123 0.1)" d="M0 4966l1 14 1-16 1 16 1-5 1-1 1-9 1-5 1-5 1 1 1 22 1 0 1-9 1 11 1 8 1-19 1 3 1-7 1 7 1-2 1 0 1-7 1 4 1 4 1 13 1-12 1 2 1-13 1-5 1 15 1-9 1 2 1-2 1 3 1-6 1-2 1 15 1 21 1-18 1-15 1 6 1-10 1 32 1-24 1 20 1-20 1 20 1-16 1-1 1-4 1 14 1 8 1-23 1-2 1-21 1 39 1-3 1-13 1 8 1 2 1-13 1 21 1-12 1 13 1-2 1-3 1-14 1 27 1-14 1 1 1-17 1 12 1 0 1-2 1 4 1 4 1-16 1-2 1 24 1-6 1-3 1-6 1-9 1 13 1 22 1-11 1-20 1 15 1-12 1 7 1 11 1-15 1 11 1-5 1 15 1 13 1-16 1-12 1-14 1 34 1-8 1-8 1 17 1-6 1-16 1 4 1 1 1 9 1-6 1-2 1-4 1 0 1-4 1 13 1-21 1 16 1 7 1 9 1-2 1-25 1 7 1-6 1 10 1 5 1 5 1-13 1 17 1-11 1 21 1-27 1 8 1-2 1 1 1-3 1 3 1-5 1 33 1-37 1-15 1 40 1-17 1 0 1 5 1-3 1-7 1 10 1 1 1-3 1-18 1 14 1 7 1 6 1 0 1-14 1 12 1 3 1-2 1-1 1-4 1 8 1-9 1 1 1-8 1 1 1 14 1-15 1 3 1-7 1 9 1-2 1 15 1-13 1 3 1 17 1-21 1 3 1-18 1 1 1 7 1 31 1-30 1-4 1 6 1-22 1 24 1 5 1-6 1 0 1 2 1-3 1-1 1 17 1-10 1 8 1-5 1 2 1-2 1-15 1-12 1 14 1 8 1 8 1-6 1 1 1-1 1-3 1-3 1-3 1-4 1-2 1 14 1-5 1 6 1 10 1-3 1-1 1-20 1 28 1-19 1 10 1-16 1 8 1-7 1 34 1-21 1-3 1-13 1 17 1 5 1-3 1-15 1 14 1-3 1 4 1 2 1-13 1 2 1 1 1 0 1 2 1 0 1 17 1-13 1 7 1 9 1-7 1-2 1 0 1-1 1 11 1-10 1 14 1-5 1 2 1-24 1 13 1 8 1-11 1-3 1 7 1-13 1 3 1 13 1-3 1-9 1 5 1-1 1 1 1 22 1-9 1-3 1 18 1-23 1 19 1 3 1-18 1-3 1-2 1-6 1 12 1 0 1 5 1-15 1 7 1-9 1 7 1 16 1-3 1 14 1-16 1-3 1 10 1-11 1-6 1 12 1 7 1-6 1-7 1-18 1 5 1 20 1-28 1 8 1 31 1-18 1-9 1 7 1 0 1-10 1 3 1-15 1 12 1 5 1 3 1 7 1-1 1 13 1-14 1 5 1-4 1-30 1 27 1-1 1 4 1-5 1-1 1-4 1 7 1-4 1-9 1-3 1 7 1-4 1 17 1 2 1-1 1-4 1 4 1-2 1-20 1 42 1-10 1-7 1 9 1-9 1 3 1-10 1 9 1-15 1 1 1 1 1-3 1-17 1 23 1-6 1-2 1 0 1-4 1 5 1-3 1 1 1 13 1 7 1-15 1 11 1-8 1 14 1-14 1 4 1-2 1-3 1-2 1-6 1 0 1 7 1 19 1-9 1 0 1-3 1 5 1 2 1-6 1 30 1-28 1 0 1 16 1-12 1 8 1-16 1-1 1 3 1-12 1 17 1-6 1 0 1-26 1 34 1-3 1-16 1 11 1-2 1 9 1-4 1 8 1 0 1-26 1 14 1 9 1-10 1 3 1 4 1 21 1-11 1-18 1-2 1 2 1 3 1 1 1-2 1 6 1-27 1 23 1 5 1-15 1 6 1 26 1-41 1 20 1-16 1 8 1-2 1 15 1 1 1-23 1 18 1-18 1 1 1 16 1-7 1 9 1 7 1-23 1-5 1 21 1 0 1-24 1 22 1-17 1 7 1 11 1-15 1-7 1-7 1 10 1 13 1-1 1-24 1 9 1-12 1 16 1 4 1 2 1-5 1 21 1-20 1-2 1-1 1-13 1 0 1 19 1-28 1 15 1-26 1 25 1-2 1 9 1-7 1-3 1-2 1-2 1 2 1 16 1-9 1-2 1-1 1-2 1-2 1 7 1 27 1-21 1 6 1-5 1-4 1-2 1 6 1 5 1-15 1 5 1 14 1-7 1 3 1 0 1-29 1 20 1-18 1 12 1 12 1-17 1 4 1 3 1-2 1 11 1-21 1 7 1-6 1-1 1-1 1 26 1-16 1-13 1 22 1-3 1-13 1-9 1 11 1 10 1-5 1 4 1-7 1 4 1 16 1-34 1 19 1 6 1-13 1-2 1 0 1-14 1 0 1 13 1 5 1-1 1-5 1 14 1 1 1 3 1-13 1-13 1 2 1 6 1 18 1 20 1-33 1 0 1-1 1-8 1-2 1-3 1-2 1 6 1 5 1 12 1-4 1 5 1 3 1 3 1-37 1 21 1 3 1-6 1-8 1 21 1-26 1 21 1 0 1-19 1 22 1 2 1 19 1-6 1-8 1-1 1-5 1-3 1-19 1 26 1-10 1 8 1-19 1 14 1-8 1 8 1 1 1-2 1-16 1 23 1-12 1 29 1-28 1 12 1 18 1-12 1-11 1-9 1 5 1-9 1-15 1 18 1 12 1 8 1-3 1-10 1-10 1 10 1-9 1 3 1 12 1-17 1 7 1-4 1-5 1 12 1-4 1-5 1 6 1-2 1-13 1 22 1-15 1 16 1 3 1-12 1 7 1-13 1 8 1 3 1-2 1-4 1 7 1 1 1-10 1 14 1-13 1 12 1-22 1 13 1-1 1-14 1 2 1 15 1-1 1-11 1 15 1-18 1 6 1 13 1 1 1 2 1-12 1 11 1-15 1 15 1-22 1 16 1 6 1-2 1 6 1-3 1-3 1 4 1 5 1-7 1 3 1 29 1-31 1 3 1 7 1 5 1 5 1-12 1-6 1-1 1-4 1 4 1 9 1-12 1-9 1 16 1 1 1-3 1-20 1 16 1 3 1-4 1-13 1 10 1 13 1-3 1-6 1 3 1 10 1-13 1 11 1-30 1 25 1-9 1 8 1-5 1 4 1-8 1 1 1 5 1-3 1 15 1-18 1 5 1 5 1-17 1 12 1 3 1 4 1 6 1-5 1-17 1 13 1-10 1 9 1-10 1-12 1-4 1 5 1 7 1-3 1-15 1 12 1 25 1-18 1 2 1 7 1 11 1-9 1-12 1 8 1-15 1 19 1-2 1-8 1 3 1 3 1-8 1 7 1 1 1 11 1 4 1-11 1-5 1-6 1-7 1-1 1-5 1 20 1-17 1 11 1-6 1-1 1-17 1 18 1 12 1-9 1-11 1 11 1 24 1-31 1 21 1-7 1-7 1 8 1-21 1 6 1 3 1 1 1 7 1-12 1 13 1-13 1-4 1 2 1 16 1-5 1 8 1-20 1 4 1 26 1-27 1 3 1-4 1 6 1 22 1-20 1 2 1 6 1-14 1-1 1 15 1-5 1-6 1 3 1-5 1-2 1-8 1 6 1 10 1 9 1-19 1 21 1 7 1-10 1 2 1-6 1 5 1-1 1-14 1-11 1 17 1 12 1-25 1 13 1 2 1-2 1 9 1 7 1 7 1-8 1-23 1 10 1-3 1-9 1 5 1-1 1 7 1-14 1 15 1 1 1-19 1 25 1-4 1-11 1 21 1-23 1 16 1 2 1-9 1-5 1 13 1-9 1-14 1-17 1 33 1-8 1-3 1 14 1-7 1-2 1-3 1-17 1 6 1-1 1 18 1 4 1-8 1-2 1 0 1 5 1-1 1-5 1-1 1 4 1 2 1 34 1-32 1-11 1 15 1-22 1 32 1-12 1 0 1-4 1 5 1-15 1 22 1-11 1 0 1 2 1 4 1-1 1-9 1 4 1 0 1-7 1-16 1 16 1 15 1-13 1 7 1 0 1 1 1-6 1 12 1-18 1-3 1 4 1 5 1 0 1 3 1 6 1 16 1-17 1-18 1 2 1 22 1 12 1-40 1 2 1 3 1-1 1 2 1 13 1-13 1 4 1 4 1-2 1-8 1 4 1 15 1-27 1 38 1-15 1-7 1 11 1 2 1-15 1 9 1 1 1 2 1-30 1 22 1 9 1-12 1-11 1 13 1-14 1 14 1 7 1-19 1 12 1 3 1-1 1-3 1 14 1-15 1 6 1 19 1-14 1-16 1 15 1-7 1 22 1-3 1-10 1-4 1 3 1-2 1-12 1-4 1 0 1-7 1 9 1 18 1-17 1 15 1 12 1-15 1 25 1-26 1 12 1 6 1-12 1 6 1 3 1-26 1 8 1 28 1-22 1-14 1 20 1-7 1-10 1 11 1 1 1-2 1-4 1 3 1 12 1-16 1-17 1 32 1-8 1 6 1-11 1 1 1 10 1-5 1-5 1 16 1-10 1-10 1-5 1 1 1 11 1 7 1-10 1 4 1-5 1-16 1 15 1-9 1 3 1 2 1-7 1 15 1-4 1-11 1 23 1-4 1 8 1-9 1-10 1 13 1-11 1 2 1 6 1 7 1 3 1-8 1 0 1-3 1 4 1-6 1 4 1 3 1-16 1 24 1 2 1-14 1 3 1 2 1 6 1-1 1 3 1 25 1-16 1-11 1-10 1-4 1 11 1 5 1-3 1-5 1 12 1-22 1 8 1-5 1 30 1-24 1 3 1-6 1-5 1 11 1-26 1 13 1 3 1 4 1-7 1 4 1 13 1-17 1 10 1 1 1-6 1-21 1 28 1 18 1 3 1-5 1-9 1-21 1 5 1 6 1 10 1-2 1-9 1-4 1 0 1 14 1-10 1-16 1 14 1 0 1-3 1-4 1 5 1 13 1-16 1-1 1 18 1-7 1-8 1-8 1 26 1 1 1 1 1-4 1 0 1 3 1-16 1 26 1-14 1 0 1-17 1 10 1 12 1-6 1-20 1 12 1-14 1 1 1 10 1 6 1-3 1-1 1 5 1-4 1-2 1-11 1 13 1 0 1-16 1 12 1 5 1 2 1-7 1-3 1 35 1-37 1 21 1-20 1 2 1 4 1 12 1-37 1 29 1-5 1-11 1 25 1-19 1 6 1-7 1 13 1-10 1 23 1-23 1 23 1-16 1 3 1-8 1-8 1 2 1 4 1-6 1 14 1-7 1 3 1-2 1-7 1 6 1-9 1 10 1 13 1 13 1-21 1 9 1-3 1 11 1-22 1 12 1-2 1 5 1 0 1-4 1 2 1 4 1 0 1-13 1 9 1-10 1 4 1-10 1 1 1 0 1 0 1 16 1-13 1 4 1 11 1-8 1 1 1 16 1-9 1 7 1-13 1-28 1 42 1-19 1 4 1 5 1-4 1 17 1-21 1 3 1-10 1 6 1 14 1-28 1 15 1-2 1 10 1-10 1 30 1-24 1-4 1 1 1-3 1 9 1-10 1-1 1 3 1 3 1-1 1-13 1 17 1-2 1 11 1-5 1 5 1-18 1 0 1 6 1-4 1-8 1 8 1-20 1 22 1-18 1 25 1 8 1-30 1-5 1 11 1-10 1 22 1-8 1 4 1 10 1-11 1 5 1-5 1 13 1-2 1-7 1 10 1-8 1-14 1 1 1-1 1 23 1-1 1-14 1 34 1-37 1 9 1-12 1 17 1 18 1-8 1 8 1 0 1-8 1-8 1 17 1-10 1 5 1-13 1 20 1-21 1 24 1-17 1-3 1 12 1-7 1 5 1-11 1 5 1-6 1-19 1 15 1 9 1 6 1-16 1 2 1-10 1 22 1-7 1-8 1 13 1-24 1 8 1-2 1 3 1-10 1 10 1 3 1-11 1 2 1-2 1 5 1-1 1 16 1-21 1 12 1-12 1 1 1-9 1 24 1-14 1 4 1-5 1 4 1 8 1-1 1-16 1 9 1 2 1-2 1-7 1 12 1-9 1-1 1 16 1 3 1 4 1-10 1-6 1 12 1-2 1 2 1-11 1-12 1 12 1 9 1-9 1-2 1-10 1 13 1-2 1-18 1 31 1-20 1-5 1 10 1-6 1 8 1 3 1 13 1-1 1-2 1-10 1 7 1-7 1-3 1-10 1 13 1-6 1 3 1-6 1-10 1 11 1 16 1-12 1 5 1-6 1 3 1 20 1-4 1-5 1 4 1-7 1 5 1 4 1-6 1-7 1-2 1 10 1 15 1-17 1-6 1 2 1-7 1 11 1 0 1 10 1-21 1-5 1 6 1 10 1-19 1-4 1 9 1-11 1 4 1 17 1-6 1-5 1 1 1 7 1-2 1-1 1-10 1 16 1-14 1 15 1-3 1 0 1 7 1-19 1 9 1 11 1-16 1-6 1 11 1-11 1 12 1-12 1 42 1-29 1-3 1-18 1 14 1 2 1 5 1-3 1 1 1 1 1-10 1 17 1 2 1-7 1-9 1-11 1 27 1-27 1 16 1-12 1 18 1 0 1-6 1 11 1-15 1 2 1-4 1 3 1 18 1-23 1 3 1 1 1-2 1-2 1 15 1-11 1-13 1 29 1-10 1 0 1 15 1-10 1 1 1-7 1-10 1 15 1-3 1 4 1-12 1 8 1 13 1-12 1-22 1 12 1 2 1-1 1-6 1 6 1-3 1-18 1 20 1-4 1 2 1 8 1-3 1-12 1 13 1 3 1 3 1-2 1-4 1 4 1 6 1-12 1 16 1-38 1 24 1 1 1 10 1-25 1-5 1-7 1 7 1 26 1-24 1 13 1-2 1 1 1-23 1 24 1-1 1-5 1 6 1 5 1-41 1 29 1 5 1-8 1 26 1-20 1-2 1 17 1-11 1 6 1 11 1-7 1 9 1 9 1-30 1 5 1-1 1-5 1 8 1-15 1 16 1-7 1-2 1-20 1 13 1 2 1-2 1-1 1 6 1-5 1-12 1 11 1-7 1 11 1-3 1 10 1 5 1 8 1-10 1 2 1-7 1-15 1-2 1 24 1 17 1-13 1-5 1-6 1-6 1 0 1 9 1 1 1 2 1 9 1 0 1-3 1-3 1-8 1 8 1 2 1 8 1-22 1 0 1-6 1 4 1 1 1 2 1 0 1 6 1 1 1-6 1 3 1-7 1 16 1-1 1-7 1 4 1 2 1-4 1 17 1-14 1-10 1 19 1-15 1 13 1 18 1-21 1 9 1-11 1 7 1-8 1-7 1 12 1-15 1 8 1-13 1-2 1 16 1-10 1 19 1-3 1-18 1 13 1-4 1 6 1-11 1 1 1 7 1 10 1-8 1-13 1 7 1-7 1 14 1 5 1-11 1-1 1 9 1 5 1-4 1 1 1-10 1-5 1 7 1 9 1 8 1-17 1 10 1-8 1-7 1 0 1-5 1 5 1 0 1 1 1 7 1-6 1-6 1 7 1 0 1-5 1 11 1 2 1-6 1 6 1-3 1-9 1 8 1-2 1-8 1 1 1 7 1-11 1 1 1 2 1-11 1 10 1 3 1-3 1-3 1 21 1 3 1-37 1 18 1 4 1 1 1 2 1-7 1 10 1-21 1 14 1-8 1 19 1-16 1 2 1 17 1-22 1 2 1-34 1 29 1-5 1-4 1 13 1 2 1-8 1 10 1 0 1-6 1-9 1 12 1 0 1-3 1 10 1-5 1-2 1 0 1 10 1-17 1 4 1 16 1-6 1 15 1-37 1 28 1 3 1-7 1-25 1 18 1 2 1-3 1 2 1 13 1-11 1-17 1 1 1 11 1 14 1-17 1 36 1-38 1-2 1 3 1 3 1 13 1-18 1 32 1-27 1 3 1 7 1-2 1-10 1 14 1-7 1-10 1-1 1 19 1 1 1-22 1 12 1 1 1 10 1 6 1-6 1 7 1-2 1-8 1-3 1-16 1 9 1 7 1 3 1-2 1 16 1 2 1-21 1-6 1 10 1-4 1 7 1-12 1-1 1-5 1 30 1-22 1-1 1 11 1 3 1-9 1 20 1 6 1-22 1 0 1-2 1 6 1-3 1-3 1 21 1 2 1-5 1 18 1-27 1 9 1-16 1 1 1-27 1 22 1 9 1 5 1-8 1 2 1-17 1 10 1 15 1 8 1-1 1-2 1 13 1-12 1-18 1 18 1-26 1-5 1 1 1 16 1-12 1 5 1 5 1 26 1-37 1 2 1-2 1-2 1 20 1-18 1 7 1 0 1 7 1 11 1-12 1-4 1 0 1-2 1-3 1-5 1 8 1-10 1 17 1-3 1-3 1-5 1 3 1-1 1-2 1 5 1-17 1 23 1-25 1-13 1 29 1 1 1 1 1-16 1-7 1 5 1 9 1 4 1 3 1 9 1-10 1 0 1-15 1 3 1-4 1-1 1 2 1 20 1-7 1-3 1-14 1 6 1 4 1 9 1-4 1-1 1-3 1 14 1-18 1 0 1 6 1-8 1 6 1 9 1 2 1 5 1 1 1-7 1-1 1-1 1 9 1-29 1 10 1-9 1 17 1 0 1-8 1 9 1-17 1 14 1 6 1-3 1-16 1-2 1 11 1 22 1-5 1-14 1 0 1-16 1 18 1-9 1 2 1 8 1-17 1 10 1 19 1-5 1 2 1-9 1-10 1 14 1 13 1-18 1 0 1 7 1-11 1 13 1 8 1-2 1-7 1 12 1-1 1-2 1-9 1-8 1 12 1-5 1-5 1-8 1 7 1-22 1 10 1 24 1-1 1-15 1 0 1 5 1 12 1-15 1 6 1-1 1 14 1-21 1 18 1-14 1 2 1 9 1-3 1-6 1-2 1 12 1 5 1-3 1-1 1-16 1 8 1 6 1 5 1-2 1-5 1-2 1 12 1-13 1 15 1-3 1-26 1 10 1-3 1 0 1-5 1-14 1 36 1-15 1-5 1 1 1 13 1-19 1 9 1-9 1 6 1 3 1-15 1-4 1-2 1 9 1 20 1-11 1-5 1 13 1 2 1-13 1-1 1 6 1-8 1 17 1-11 1 2 1-10 1-3 1 11 1-15 1 15 1-4 1 6 1-10 1-4 1-2 1 5 1 4 1-3 1 11 1 5 1-13 1 0 1 11 1-10 1 19 1-8 1-17 1 20 1 2 1-6 1 2 1 1 1-10 1 0 1 17 1-7 1 8 1-12 1-1 1 3 1-17 1-9 1 22 1-12 1 13 1-14 1 11 1 11 1-14 1-1 1 20 1-20 1 6 1-14 1-26 1 31 1-15 1 16 1-5 1 0 1-2 1 36 1-22 1-9 1 2 1-4 1 0 1-1 1-11 1-2 1 5 1 10 1-13 1 13 1 3 1 6 1-5 1-3 1-20 1 17 1 7 1-9 1-12 1 13 1 19 1-11 1-3 1 7 1-15 1 5 1 0 1 18 1-25 1 20 1-6 1 7 1 2 1-4 1-2 1 1 1-7 1-3 1 1 1-3 1 2 1-4 1 8 1-28 1 23 1-3 1-12 1 10 1 1 1 5 1-5 1-10 1 13 1 4 1-17 1 2 1 9 1-14 1 1 1 29 1 2 1-16 1 5 1 1 1-20 1 18 1-3 1 6 1 9 1-10 1 2 1-6 1 2 1 6 1-5 1 4 1 18 1-19 1 9 1 4 1-30 1 17 1 4 1 0 1 7 1-6 1 9 1-16 1 8 1-12 1 0 1 11 1 1 1 9 1 5 1-9 1 8 1 2 1-6 1-18 1-4 1 10 1 3 1-4 1 3 1 10 1-7 1-3 1 8 1-5 1-14 1 14 1 0 1-24 1 13 1-3 1-5 1 7 1 7 1-10 1 26 1-26 1-5 1 0 1 23 1 1 1 14 1-8 1 14 1-10 1-2 1-11 1 5 1-4 1 5 1-16 1 18 1-17 1 3 1 0 1 5 1 1 1 32 1-39 1 9 1-7 1 0 1 22 1-16 1 11 1-10 1-13 1 7 1 11 1-9 1-11 1 20 1 3 1 7 1-24 1 4 1 4 1-9 1 8 1 0 1-9 1 13 1 12 1-21 1-2 1 10 1-3 1 8 1-11 1 6 1 3 1-9 1-4 1 10 1-5 1 8 1-1 1-9 1 34 1-44 1 21 1 5 1-8 1-30 1 41 1-10 1 6 1-3 1 0 1-4 1 15 1-2 1-8 1 2 1 11 1-22 1-13 1 8 1 16 1 4 1-10 1-20 1 15 1-5 1 0 1-6 1-10 1 7 1 1 1 12 1-8 1 9 1 5 1-30 1 25 1 2 1-1 1 6 1-11 1 3 1 6 1-16 1 9 1-11 1-4 1 18 1-18 1 12 1-35 1 27 1-4 1 7 1-1 1-5 1 23 1 1 1 10 1-6 1-25 1 27 1-6 1-16 1 2 1 3 1-11 1 4 1 9 1 2 1-14 1-6 1 8 1-5 1 18 1-22 1 8 1 11 1-13 1 8 1-10 1 31 1-14 1-12 1 9 1-22 1 32 1-19 1 3 1-10 1 0 1 0 1-12 1 14 1 5 1 5 1 2 1 9 1-2 1-5 1-14 1-9 1 26 1-5 1-17 1-2 1 4 1 3 1 7 1 11 1-6 1 8 1-15 1 16 1-12 1 3 1-7 1-2 1 5 1 13 1-12 1-1 1 13 1-5 1 1 1 13 1-14 1-9 1-6 1 10 1-1 1 2 1-4 1 3 1-5 1 1 1 3 1-15 1 3 1 10 1 8 1-10 1 7 1 6 1-14 1 17 1-16 1 3 1 8 1-9 1 4 1-3 1 0 1 1 1 2 1-11 1 20 1-33 1 27 1-10 1 17 1-16 1-2 1 8 1-12 1 1 1 3 1 0 1-6 1 4 1 8 1-12 1 5 1 20 1-5 1-13 1 18 1-29 1 25 1-28 1 8 1 2 1 5 1-5 1 4 1-3 1 31 1-13 1-5 1-4 1 17 1-16 1-18 1 5 1 8 1 1 1-4 1 7 1 3 1 0 1-13 1 1 1 7 1-4 1 2 1 13 1 13 1-13 1-1 1 4 1 10 1-26 1 12 1 4 1-10 1-14" fill="none" stroke="#19469b" stroke-width="0.7" vector-effect="non-scaling-stroke" stroke-linejoin="round"/>
<rect x="42.50" y="340.50" width="178.00" height="208.00" fill="none" stroke="#666" stroke-width="0.85"/>
<path d="M78.10 548.50v-6M78.10 340.50v6M113.70 548.50v-6M113.70 340.50v6M149.30 548.50v-6M149.30 340.50v6M184.90 548.50v-6M184.90 340.50v6M42.50 496.50h6M220.50 496.50h-6M42.50 444.50h6M220.50 444.50h-6M42.50 392.50h6M220.50 392.50h-6" stroke="#444" stroke-width="1" fill="none"/>
<path d="M60.30 548.50v-3M60.30 340.50v3M95.90 548.50v-3M95.90 340.50v3M131.50 548.50v-3M131.50 340.50v3M167.10 548.50v-3M167.10 340.50v3M202.70 548.50v-3M202.70 340.50v3M42.50 522.50h3M220.50 522.50h-3M42.50 470.50h3M220.50 470.50h-3M42.50 418.50h3M220.50 418.50h-3M42.50 366.50h3M220.50 366.50h-3" stroke="#666" stroke-width="0.8" fill="none"/>
<text x="39.30" y="551.30" font-size="8.4" text-anchor="end" fill="#1a1a1a">1</text>
<text x="39.30" y="499.30" font-size="8.4" text-anchor="end" fill="#1a1a1a">1.5</text>
<text x="39.30" y="447.30" font-size="8.4" text-anchor="end" fill="#1a1a1a">2</text>
<text x="39.30" y="395.30" font-size="8.4" text-anchor="end" fill="#1a1a1a">2.5</text>
<text x="39.30" y="343.30" font-size="8.4" text-anchor="end" fill="#1a1a1a">3</text>
<text x="42.50" y="558.70" font-size="8.6" text-anchor="middle" fill="#1a1a1a">0</text>
<text x="78.10" y="558.70" font-size="8.6" text-anchor="middle" fill="#1a1a1a">20000</text>
<text x="113.70" y="558.70" font-size="8.6" text-anchor="middle" fill="#1a1a1a">40000</text>
<text x="149.30" y="558.70" font-size="8.6" text-anchor="middle" fill="#1a1a1a">60000</text>
<text x="184.90" y="558.70" font-size="8.6" text-anchor="middle" fill="#1a1a1a">80000</text>
<text x="220.50" y="558.70" font-size="8.6" text-anchor="middle" fill="#1a1a1a">1e+005</text>
<text x="131.50" y="570.60" font-size="8.4" text-anchor="middle" fill="#1a1a1a">Time (ps)</text>
<text x="24.30" y="444.40" font-size="8.2" text-anchor="middle" transform="rotate(-90 24.30 444.40)" fill="#1a1a1a">Rg (nm)</text>
<text x="131.50" y="319.40" font-size="12.2" text-anchor="middle" fill="#1a1a1a">Radius of gyration (total and around axes)</text>
<text x="0.80" y="295.60" font-size="14" text-anchor="start" font-weight="bold" fill="#000">C</text>
<rect x="229.2" y="355.2" width="31.5" height="60.5" fill="#fff" stroke="#555" stroke-width="0.8"/>
<path d="M232.5 362.8H238.5" stroke="#0a0a0a" stroke-width="0.9" stroke-opacity="0.55"/>
<text x="244.0" y="366.0" font-size="8.9" fill="#1a1a1a" textLength="9.3" lengthAdjust="spacingAndGlyphs">Rg</text>
<path d="M232.5 376.4H238.5" stroke="#e6161e" stroke-width="0.9" stroke-opacity="0.55"/>
<text x="244.0" y="378.1" font-size="8.9" fill="#1a1a1a" textLength="9.3" lengthAdjust="spacingAndGlyphs">Rg</text>
<text x="253.0" y="380.8" font-size="7.2" fill="#1a1a1a">X</text>
<path d="M232.5 391.4H238.5" stroke="#68b428" stroke-width="0.9" stroke-opacity="0.55"/>
<text x="244.0" y="393.1" font-size="8.9" fill="#1a1a1a" textLength="9.3" lengthAdjust="spacingAndGlyphs">Rg</text>
<text x="253.0" y="395.8" font-size="7.2" fill="#1a1a1a">Y</text>
<path d="M232.5 406.6H238.5" stroke="#19469b" stroke-width="0.9" stroke-opacity="0.55"/>
<text x="244.0" y="408.3" font-size="8.9" fill="#1a1a1a" textLength="9.3" lengthAdjust="spacingAndGlyphs">Rg</text>
<text x="253.0" y="411.0" font-size="7.2" fill="#1a1a1a">Z</text>
<path transform="translate(381.650 0) scale(0.03938 0.1)" d="M0 5695l1 0 1 0 1 0 1 0 1-77 1 77 1 0 1 0 1 0 1 0 1 0 1 0 1 0 1 0 1 0 1 0 1 0 1 0 1 0 1 0 1 0 1 0 1 0 1 0 1 0 1-77 1 77 1 0 1 0 1 0 1 0 1 0 1 0 1 0 1 0 1 0 1 0 1 0 1 0 1 0 1 0 1 0 1 0 1 0 1 0 1 0 1 0 1 0 1 0 1 0 1 0 1 0 1 0 1 0 1 0 1 0 1 0 1 0 1 0 1 0 1 0 1-77 1 77 1 0 1 0 1 0 1 0 1 0 1 0 1 0 1 0 1 0 1 0 1 0 1 0 1 0 1 0 1 0 1 0 1 0 1 0 1 0 1-77 1 77 1-77 1-76 1 153 1 0 1 0 1 0 1 0 1 0 1 0 1 0 1 0 1 0 1 0 1 0 1 0 1 0 1 0 1 0 1 0 1 0 1 0 1 0 1 0 1 0 1 0 1 0 1 0 1 0 1 0 1 0 1 0 1-77 1 77 1 0 1 0 1-77 1 77 1 0 1-77 1 77 1 0 1 0 1 0 1 0 1 0 1 0 1 0 1 0 1 0 1-77 1 77 1 0 1 0 1 0 1 0 1 0 1 0 1 0 1 0 1 0 1 0 1 0 1 0 1 0 1 0 1 0 1 0 1-77 1 77 1 0 1 0 1 0 1 0 1 0 1 0 1 0 1 0 1 0 1 0 1 0 1 0 1 0 1 0 1 0 1 0 1 0 1 0 1 0 1-77 1 77 1 0 1 0 1 0 1 0 1 0 1 0 1 0 1-77 1 77 1 0 1 0 1 0 1 0 1 0 1 0 1 0 1 0 1 0 1 0 1 0 1 0 1 0 1 0 1 0 1 0 1 0 1 0 1-77 1 77 1 0 1 0 1 0 1 0 1 0 1 0 1 0 1 0 1 0 1 0 1 0 1 0 1 0 1 0 1 0 1 0 1 0 1 0 1 0 1 0 1 0 1-77 1 77 1 0 1 0 1 0 1 0 1 0 1 0 1 0 1 0 1 0 1 0 1 0 1 0 1 0 1-77 1 77 1 0 1 0 1 0 1 0 1 0 1 0 1 0 1 0 1 0 1 0 1 0 1 0 1 0 1 0 1 0 1 0 1 0 1 0 1-77 1 77 1 0 1 0 1 0 1 0 1 0 1 0 1 0 1 0 1 0 1 0 1 0 1 0 1 0 1 0 1 0 1 0 1 0 1 0 1 0 1-77 1 77 1 0 1 0 1 0 1 0 1 0 1 0 1 0 1 0 1 0 1 0 1 0 1 0 1 0 1 0 1 0 1 0 1 0 1 0 1 0 1 0 1 0 1 0 1 0 1 0 1 0 1 0 1 0 1 0 1-77 1 77 1 0 1 0 1 0 1 0 1 0 1 0 1 0 1 0 1 0 1 0 1 0 1 0 1 0 1 0 1 0 1 0 1 0 1 0 1 0 1 0 1 0 1 0 1 0 1 0 1 0 1 0 1 0 1 0 1 0 1 0 1 0 1 0 1 0 1 0 1 0 1 0 1 0 1 0 1 0 1 0 1 0 1 0 1 0 1 0 1 0 1 0 1 0 1 0 1 0 1 0 1 0 1 0 1 0 1 0 1 0 1 0 1 0 1 0 1-77 1 77 1 0 1 0 1-77 1 77 1 0 1 0 1 0 1-77 1 77 1 0 1 0 1 0 1 0 1 0 1 0 1 0 1 0 1 0 1 0 1-77 1 77 1 0 1 0 1 0 1 0 1 0 1 0 1 0 1 0 1 0 1 0 1 0 1 0 1 0 1 0 1 0 1 0 1 0 1 0 1 0 1 0 1 0 1 0 1 0 1 0 1 0 1 0 1 0 1-77 1 77 1 0 1 0 1 0 1 0 1 0 1 0 1 0 1 0 1 0 1 0 1 0 1 0 1 0 1 0 1 0 1 0 1 0 1 0 1 0 1 0 1 0 1 0 1 0 1 0 1 0 1 0 1 0 1 0 1 0 1 0 1 0 1 0 1 0 1 0 1 0 1 0 1 0 1-77 1 77 1 0 1 0 1 0 1 0 1 0 1 0 1 0 1 0 1 0 1 0 1 0 1 0 1 0 1 0 1 0 1 0 1 0 1 0 1 0 1 0 1 0 1 0 1 0 1 0 1 0 1 0 1 0 1 0 1 0 1 0 1 0 1 0 1 0 1 0 1 0 1 0 1 0 1 0 1 0 1 0 1-77 1 77 1 0 1 0 1 0 1 0 1 0 1-77 1 77 1 0 1 0 1 0 1 0 1 0 1 0 1 0 1 0 1 0 1 0 1 0 1 0 1 0 1 0 1 0 1 0 1 0 1 0 1 0 1 0 1-77 1 77 1 0 1 0 1 0 1 0 1 0 1 0 1 0 1 0 1 0 1 0 1 0 1 0 1 0 1 0 1 0 1 0 1 0 1 0 1 0 1 0 1 0 1 0 1 0 1 0 1 0 1 0 1 0 1 0 1 0 1 0 1 0 1 0 1 0 1 0 1 0 1 0 1 0 1 0 1 0 1 0 1 0 1 0 1 0 1 0 1 0 1 0 1 0 1 0 1 0 1 0 1 0 1 0 1 0 1 0 1 0 1 0 1 0 1-77 1 77 1 0 1 0 1 0 1 0 1 0 1 0 1 0 1 0 1 0 1 0 1-77 1 77 1 0 1 0 1 0 1 0 1 0 1 0 1 0 1 0 1 0 1 0 1 0 1 0 1 0 1 0 1 0 1 0 1 0 1 0 1 0 1 0 1-77 1 77 1 0 1 0 1 0 1 0 1 0 1 0 1 0 1 0 1 0 1 0 1 0 1 0 1 0 1 0 1 0 1 0 1 0 1 0 1 0 1 0 1 0 1 0 1 0 1 0 1 0 1 0 1 0 1 0 1 0 1 0 1 0 1 0 1 0 1 0 1 0 1 0 1 0 1 0 1 0 1 0 1 0 1 0 1 0 1 0 1 0 1 0 1 0 1 0 1 0 1 0 1 0 1 0 1 0 1 0 1 0 1 0 1 0 1 0 1 0 1-77 1 77 1 0 1-77 1 77 1 0 1 0 1 0 1 0 1 0 1 0 1 0 1 0 1 0 1 0 1 0 1 0 1 0 1 0 1-77 1 77 1 0 1 0 1-77 1 77 1 0 1 0 1 0 1 0 1 0 1-77 1 77 1 0 1 0 1 0 1 0 1 0 1 0 1 0 1 0 1 0 1 0 1-77 1 77 1 0 1 0 1 0 1 0 1 0 1 0 1 0 1 0 1 0 1 0 1 0 1 0 1 0 1 0 1 0 1 0 1 0 1 0 1-77 1 77 1 0 1 0 1 0 1 0 1 0 1 0 1 0 1 0 1 0 1 0 1-77 1 77 1 0 1-77 1 77 1 0 1 0 1 0 1 0 1 0 1 0 1 0 1 0 1 0 1 0 1 0 1 0 1 0 1 0 1-77 1 77 1 0 1 0 1 0 1 0 1 0 1 0 1 0 1 0 1 0 1 0 1 0 1 0 1 0 1 0 1 0 1 0 1 0 1 0 1-77 1 77 1 0 1 0 1 0 1 0 1 0 1 0 1 0 1 0 1 0 1 0 1 0 1 0 1 0 1 0 1 0 1 0 1 0 1 0 1 0 1-77 1 77 1 0 1 0 1 0 1-77 1 77 1 0 1 0 1 0 1 0 1-77 1 77 1 0 1 0 1 0 1 0 1 0 1 0 1 0 1 0 1 0 1 0 1 0 1 0 1-77 1 77 1 0 1 0 1 0 1 0 1 0 1 0 1 0 1 0 1 0 1 0 1 0 1 0 1 0 1 0 1 0 1 0 1 0 1 0 1 0 1 0 1 0 1 0 1 0 1 0 1 0 1 0 1 0 1 0 1 0 1 0 1 0 1 0 1 0 1 0 1 0 1 0 1 0 1 0 1 0 1 0 1 0 1 0 1 0 1 0 1 0 1 0 1 0 1 0 1 0 1 0 1 0 1 0 1 0 1 0 1 0 1 0 1 0 1 0 1 0 1 0 1 0 1-77 1 77 1 0 1 0 1 0 1 0 1 0 1 0 1 0 1 0 1 0 1 0 1 0 1 0 1 0 1 0 1 0 1 0 1 0 1 0 1 0 1 0 1 0 1 0 1 0 1 0 1 0 1 0 1 0 1 0 1 0 1 0 1 0 1 0 1 0 1 0 1 0 1 0 1 0 1 0 1 0 1 0 1 0 1 0 1 0 1 0 1 0 1 0 1 0 1 0 1 0 1 0 1 0 1 0 1 0 1 0 1 0 1 0 1 0 1 0 1 0 1 0 1 0 1 0 1 0 1 0 1 0 1 0 1 0 1 0 1-77 1 77 1 0 1 0 1 0 1 0 1 0 1 0 1 0 1 0 1 0 1 0 1 0 1 0 1 0 1 0 1 0 1 0 1 0 1 0 1 0 1 0 1 0 1 0 1-77 1 77 1-77 1 77 1 0 1 0 1 0 1 0 1 0 1 0 1 0 1 0 1 0 1 0 1 0 1 0 1 0 1 0 1-77 1 77 1 0 1 0 1 0 1-77 1 77 1 0 1 0 1 0 1 0 1 0 1 0 1 0 1 0 1 0 1 0 1 0 1 0 1 0 1 0 1 0 1 0 1 0 1 0 1 0 1 0 1 0 1 0 1 0 1 0 1 0 1 0 1 0 1 0 1 0 1 0 1 0 1 0 1 0 1 0 1 0 1 0 1 0 1 0 1 0 1 0 1 0 1 0 1 0 1 0 1 0 1 0 1 0 1 0 1 0 1 0 1 0 1 0 1 0 1 0 1 0 1 0 1 0 1 0 1 0 1 0 1 0 1 0 1 0 1 0 1 0 1 0 1 0 1 0 1 0 1 0 1 0 1 0 1 0 1 0 1 0 1 0 1 0 1 0 1 0 1 0 1 0 1 0 1 0 1 0 1 0 1 0 1 0 1 0 1 0 1 0 1 0 1 0 1 0 1 0 1-77 1 77 1 0 1 0 1 0 1 0 1 0 1-77 1 77 1 0 1 0 1 0 1 0 1 0 1 0 1 0 1 0 1 0 1 0 1 0 1 0 1 0 1 0 1 0 1 0 1 0 1 0 1 0 1 0 1 0 1 0 1 0 1 0 1 0 1 0 1 0 1 0 1 0 1 0 1 0 1 0 1 0 1 0 1 0 1 0 1 0 1-77 1 77 1 0 1 0 1 0 1 0 1 0 1 0 1 0 1 0 1 0 1 0 1 0 1 0 1-77 1 77 1 0 1 0 1 0 1 0 1 0 1 0 1 0 1 0 1 0 1 0 1 0 1 0 1 0 1 0 1 0 1 0 1 0 1 0 1 0 1 0 1 0 1 0 1 0 1 0 1 0 1 0 1 0 1 0 1 0 1 0 1 0 1 0 1 0 1 0 1 0 1 0 1 0 1 0 1-77 1 77 1 0 1 0 1-77 1 77 1 0 1 0 1 0 1 0 1 0 1 0 1 0 1 0 1-77 1 77 1 0 1 0 1 0 1 0 1 0 1 0 1 0 1 0 1 0 1 0 1 0 1 0 1 0 1 0 1 0 1 0 1-77 1 77 1 0 1 0 1 0 1 0 1 0 1 0 1 0 1 0 1 0 1 0 1 0 1 0 1-77 1 77 1 0 1 0 1 0 1 0 1 0 1 0 1 0 1 0 1 0 1 0 1 0 1 0 1 0 1 0 1 0 1 0 1 0 1 0 1 0 1-77 1 77 1 0 1 0 1 0 1 0 1 0 1 0 1-77 1 77 1 0 1 0 1 0 1 0 1 0 1 0 1 0 1 0 1 0 1 0 1 0 1 0 1 0 1 0 1 0 1 0 1-77 1 77 1 0 1 0 1 0 1 0 1 0 1 0 1 0 1-77 1 77 1 0 1 0 1 0 1 0 1 0 1 0 1 0 1 0 1 0 1 0 1 0 1 0 1 0 1 0 1 0 1 0 1 0 1 0 1 0 1 0 1 0 1 0 1 0 1 0 1 0 1 0 1 0 1 0 1 0 1 0 1 0 1 0 1 0 1 0 1 0 1 0 1 0 1 0 1-77 1 77 1 0 1 0 1 0 1 0 1 0 1 0 1 0 1 0 1 0 1 0 1 0 1 0 1 0 1 0 1-77 1 77 1 0 1 0 1-77 1 77 1 0 1 0 1 0 1 0 1 0 1 0 1 0 1 0 1 0 1 0 1 0 1 0 1 0 1 0 1 0 1 0 1 0 1 0 1 0 1 0 1 0 1 0 1 0 1 0 1 0 1 0 1 0 1 0 1-77 1 77 1-77 1 77 1 0 1 0 1 0 1 0 1 0 1 0 1 0 1 0 1 0 1 0 1 0 1 0 1 0 1 0 1 0 1 0 1 0 1 0 1 0 1 0 1 0 1 0 1 0 1 0 1 0 1 0 1 0 1 0 1 0 1 0 1 0 1 0 1 0 1 0 1 0 1 0 1 0 1 0 1 0 1 0 1 0 1 0 1 0 1 0 1 0 1 0 1 0 1 0 1 0 1 0 1 0 1 0 1 0 1 0 1 0 1 0 1 0 1-77 1 77 1 0 1 0 1 0 1 0 1 0 1 0 1 0 1-77 1 77 1 0 1 0 1 0 1 0 1-77 1 77 1 0 1 0 1 0 1 0 1 0 1 0 1 0 1 0 1 0 1-77 1 77 1 0 1 0 1 0 1 0 1 0 1 0 1 0 1 0 1 0 1 0 1 0 1 0 1 0 1 0 1 0 1 0 1 0 1 0 1 0 1 0 1 0 1 0 1 0 1 0 1 0 1 0 1 0 1 0 1 0 1 0 1 0 1 0 1 0 1 0 1 0 1 0 1 0 1 0 1 0 1 0 1 0 1 0 1 0 1 0 1 0 1 0 1-77 1 77 1 0 1 0 1 0 1 0 1 0 1 0 1 0 1 0 1 0 1 0 1 0 1 0 1 0 1 0 1 0 1 0 1 0 1 0 1 0 1 0 1 0 1 0 1 0 1 0 1 0 1 0 1 0 1 0 1 0 1 0 1 0 1 0 1 0 1 0 1 0 1 0 1 0 1 0 1 0 1 0 1 0 1 0 1 0 1 0 1 0 1 0 1 0 1 0 1 0 1 0 1-77 1 77 1 0 1 0 1 0 1 0 1 0 1 0 1 0 1 0 1 0 1 0 1 0 1 0 1 0 1 0 1 0 1 0 1 0 1 0 1 0 1 0 1 0 1 0 1 0 1 0 1 0 1 0 1 0 1 0 1 0 1-77 1 77 1 0 1 0 1 0 1 0 1 0 1 0 1 0 1 0 1 0 1 0 1 0 1 0 1 0 1 0 1 0 1 0 1 0 1 0 1 0 1 0 1 0 1 0 1 0 1 0 1 0 1 0 1 0 1 0 1 0 1 0 1 0 1 0 1 0 1 0 1 0 1 0 1 0 1 0 1 0 1 0 1 0 1-77 1 77 1 0 1 0 1 0 1 0 1 0 1 0 1 0 1 0 1 0 1 0 1 0 1 0 1 0 1 0 1 0 1 0 1 0 1 0 1 0 1 0 1 0 1 0 1 0 1 0 1-77 1 77 1 0 1 0 1 0 1 0 1 0 1 0 1 0 1 0 1 0 1 0 1 0 1 0 1 0 1 0 1 0 1 0 1 0 1 0 1 0 1 0 1 0 1 0 1 0 1 0 1 0 1 0 1 0 1 0 1 0 1 0 1 0 1 0 1 0 1 0 1 0 1 0 1 0 1-77 1 77 1 0 1 0 1 0 1 0 1 0 1 0 1 0 1 0 1 0 1 0 1 0 1 0 1 0 1 0 1 0 1 0 1 0 1 0 1 0 1 0 1 0 1 0 1 0 1 0 1 0 1 0 1 0 1 0 1 0 1 0 1 0 1 0 1 0 1 0 1 0 1 0 1 0 1 0 1 0 1 0 1 0 1 0 1 0 1 0 1 0 1 0 1 0 1 0 1 0 1 0 1 0 1 0 1 0 1 0 1 0 1 0 1 0 1 0 1 0 1-77 1 0 1 77 1 0 1 0 1 0 1 0 1 0 1 0 1 0 1 0 1 0 1 0 1 0 1 0 1 0 1 0 1 0 1 0 1 0 1 0 1 0 1 0 1 0 1 0 1 0 1 0 1 0 1 0 1 0 1 0 1 0 1 0 1 0 1 0 1 0 1 0 1 0 1 0 1 0 1 0 1 0 1 0 1 0 1 0 1 0 1 0 1 0 1 0 1 0 1 0 1 0 1 0 1 0 1 0 1 0 1 0 1 0 1 0 1-77 1 77 1 0 1 0 1 0 1-77 1 77 1 0 1 0 1 0 1 0 1 0 1 0 1 0 1 0 1 0 1 0 1 0 1 0 1 0 1 0 1 0 1 0 1 0 1 0 1 0 1 0 1 0 1 0 1 0 1 0 1 0 1 0 1 0 1-77 1 77 1 0 1 0 1 0 1 0 1 0 1 0 1 0 1 0 1 0 1 0 1 0 1 0 1 0 1 0 1 0 1 0 1 0 1 0 1 0 1 0 1 0 1 0 1 0 1 0 1 0 1 0 1 0 1 0 1 0 1 0 1 0 1 0 1 0 1 0 1 0 1 0 1 0 1 0 1 0 1 0 1 0 1 0 1 0 1 0 1 0 1 0 1 0 1 0 1 0 1 0 1-77 1 77 1 0 1 0 1-77 1 0 1 77 1 0 1 0 1 0 1 0 1 0 1 0 1 0 1 0 1 0 1 0 1 0 1 0 1 0 1 0 1 0 1 0 1 0 1 0 1 0 1 0 1 0 1-77 1 77 1 0 1 0 1 0 1 0 1 0 1 0 1 0 1 0 1 0 1 0 1 0 1 0 1 0 1 0 1 0 1-77 1 77 1 0 1 0 1 0 1 0 1 0 1 0 1 0 1 0 1 0 1 0 1 0 1 0 1 0 1 0 1 0 1-77 1 77 1 0 1 0 1 0 1 0 1 0 1 0 1 0 1-77 1 77 1 0 1 0 1 0 1 0 1 0 1 0 1 0 1 0 1 0 1 0 1 0 1 0 1 0 1 0 1 0 1 0 1 0 1 0 1 0 1 0 1 0 1 0 1 0 1 0 1 0 1 0 1 0 1 0 1 0 1 0 1 0 1 0 1 0 1 0 1 0 1 0 1 0 1 0 1 0 1 0 1 0 1 0 1 0 1 0 1 0 1 0 1 0 1 0 1 0 1 0 1 0 1 0 1 0 1 0 1 0 1 0 1 0 1 0 1 0 1 0 1 0 1 0 1 0 1 0 1 0 1 0 1 0 1 0 1 0 1 0 1 0 1 0 1 0 1 0 1 0 1 0 1 0 1 0 1 0 1 0 1 0 1 0 1 0 1 0 1 0 1 0 1 0 1 0 1 0 1 0 1 0 1 0 1 0 1 0 1 0 1 0 1 0 1-77 1 77 1 0 1 0 1 0 1 0 1 0 1-77 1 77 1 0 1-77 1 77 1 0 1 0 1-77 1 77 1 0 1-77 1 77 1 0 1 0 1 0 1 0 1 0 1 0 1 0 1 0 1-77 1 77 1 0 1 0 1 0 1 0 1 0 1 0 1 0 1 0 1 0 1 0 1 0 1 0 1 0 1 0 1 0 1 0 1 0 1 0 1 0 1 0 1 0 1 0 1 0 1 0 1 0 1 0 1 0 1 0 1 0 1 0 1 0 1 0 1 0 1 0 1 0 1 0 1 0 1 0 1 0 1 0 1 0 1 0 1 0 1 0 1 0 1 0 1-77 1 77 1 0 1 0 1 0 1 0 1 0 1 0 1 0 1 0 1 0 1 0 1 0 1 0 1 0 1 0 1 0 1 0 1 0 1 0 1 0 1 0 1 0 1 0 1 0 1 0 1 0 1 0 1 0 1 0 1 0 1 0 1 0 1 0 1 0 1 0 1 0 1 0 1 0 1 0 1 0 1 0 1 0 1 0 1-77 1 77 1 0 1 0 1 0 1 0 1 0 1 0 1 0 1 0 1 0 1 0 1 0 1 0 1 0 1 0 1 0 1 0 1 0 1 0 1 0 1 0 1 0 1 0 1 0 1 0 1-77 1 77 1 0 1 0 1 0 1 0 1 0 1 0 1 0 1 0 1 0 1 0 1 0 1-153 1 153 1-77 1-76 1 153 1-153 1 76 1 0 1-76 1 153 1-77 1 0 1 0 1-152 1 229 1 0 1-153 1 76 1 0 1 77 1-77 1 0 1 0 1 77 1-153 1 153 1-77 1 77 1 0 1-77 1 77 1-77 1 77 1-229 1 152 1 77 1 0 1-153 1 153 1 0 1 0 1-77 1 77 1-77 1 0 1 0 1 0 1-76 1 76 1 77 1 0 1-77 1 77 1-77 1 0 1-76 1 0 1 153 1 0 1 0 1-77 1 77 1 0 1-77 1-76 1 153 1 0 1 0 1-77 1-76 1 0 1 153 1-77 1 77 1 0 1-229 1 229 1-77 1 77 1-77 1 77 1 0 1-153 1 76 1 0 1-76 1 153 1 0 1 0 1-77 1 0 1 0 1-76 1 153 1-77 1-76 1 153 1-153 1 153 1-77 1 77 1-153 1 153 1 0 1 0 1-77 1 77 1 0 1 0 1-77 1-76 1 153 1 0 1 0 1 0 1-153 1 76 1 77 1-77 1 0 1-76 1 76 1 0 1 77 1 0 1 0 1 0 1-306 1 229 1 77 1 0 1-77 1 0 1-76 1 0 1 0 1 76 1-152 1 229 1 0 1 0 1 0 1-77 1 0 1 77 1-77 1 77 1-77 1 77 1 0 1-153 1-76 1 152 1 77 1 0 1 0 1 0 1-229 1 229 1 0 1-77 1 0 1 0 1 77 1-153 1 0 1 153 1 0 1 0 1-77 1-76 1 153 1 0 1-77 1 0 1 77 1-77 1 0 1 77 1 0 1-153 1 153 1 0 1 0 1 0 1-229 1 229 1-77 1 0 1 77 1-77 1-229 1 153 1 153 1-77 1 77 1 0 1-77 1 77 1 0 1 0 1 0 1 0 1 0 1 0 1 0 1-77 1 77 1 0 1-77 1 77 1-153 1 153 1 0 1 0 1 0 1 0 1 0 1-77 1 77 1 0 1 0 1-77 1 77 1-153 1 153 1-153 1 0 1 76 1 0 1 0 1 0 1-76 1 76 1 77 1 0 1 0 1 0 1-77 1 0 1-76 1 153 1-77 1 0 1-76 1 153 1-77 1 77 1 0 1 0 1-77 1 0 1 77 1-77 1 77 1-77 1 77 1-77 1 0 1 77 1-77 1 77 1 0 1-77 1 0 1 0 1 0 1 77 1 0 1-77 1 77 1-77 1 0 1 0 1-152 1 229 1-153 1 153 1 0 1-77 1 0 1 0 1 77 1 0 1 0 1 0 1 0 1-77 1 0 1-76 1 153 1 0 1-77 1 0 1 77 1 0 1 0 1-77 1 77 1 0 1 0 1-77 1 77 1-229 1 229 1-77 1 77 1 0 1 0 1-77 1 0 1-76 1 153 1-77 1 0 1 0 1 0 1-152 1 152 1 77 1-229 1 152 1-76 1 76 1 77 1-229 1 229 1 0 1 0 1-77 1 0 1 77 1 0 1-77 1 0 1 77 1-77 1 0 1-76 1 76 1 77 1-153 1 153 1 0 1-77 1 0 1 77 1-306 1 229 1 77 1-77 1 0 1 77 1 0 1 0 1-77 1 77 1-153 1 153 1 0 1 0 1 0 1-77 1 77 1 0 1 0 1 0 1-153 1 76 1 77 1 0 1-153 1 0 1 0 1 0 1 153 1-77 1 77 1-77 1-76 1 76 1 77 1-306 1 306 1 0 1-153 1 0 1 153 1-77 1 77 1-77 1 77 1-77 1 77 1-153 1 153 1-77 1 77 1-153 1 153 1-77 1 77 1 0 1-229 1 229 1-153 1 153 1 0 1 0 1 0 1 0 1 0 1-153 1 76 1 0 1 77 1-153 1 153 1 0 1-77 1 0 1-76 1 153 1 0 1-77 1 77 1 0 1-77 1 0 1 77 1-229 1 229 1-153 1 76 1 77 1 0 1-153 1 0 1 76 1 77 1 0 1 0 1-153 1 153 1-77 1 0 1 0 1-76 1 76 1-76 1 76 1-152 1 229 1 0 1 0 1-77 1 77 1-77 1 77 1-153 1 0 1 76 1 0 1 77 1 0 1 0 1 0 1-77 1 0 1 0 1 0 1 0 1 77 1 0 1-77 1-76 1 76 1 77 1-153 1 0 1 153 1-77 1 77 1 0 1-77 1 0 1 77 1-77 1-76 1 0 1 0 1 153 1-229 1 229 1-77 1 0 1 77 1 0 1-153 1 76 1-76 1 0 1 0 1 76 1 0 1 77 1-153 1 76 1 77 1-77 1 0 1 77 1 0 1-77 1 77 1-77 1-76 1 0 1 153 1 0 1 0 1 0 1-153 1 153 1-77 1 0 1 77 1-77 1 0 1 0 1 0 1 0 1-76 1 153 1 0 1-77 1 0 1-76 1 76 1 0 1-76 1 153 1-77 1 77 1-77 1 77 1-153 1 153 1-306 1 229 1 77 1 0 1 0 1 0 1-77 1 0 1 77 1 0 1-77 1-76 1 153 1-77 1 0 1 77 1 0 1 0 1-77 1 77 1-77 1 77 1-77 1 77 1 0 1 0 1 0 1 0 1 0 1-77 1 0 1 0 1 0 1-76 1 76 1 77 1 0 1 0 1-77 1 0 1 0 1-76 1 153 1-77 1 77 1-153 1 153 1-77 1-76 1 0 1 76 1 77 1-153 1 76 1 0 1 0 1 77 1-77 1-76 1-76 1 229 1-77 1-152 1 152 1 0 1 77 1-77 1 77 1 0 1 0 1-153 1 153 1 0 1-77 1 77 1-153 1 153 1-77 1 0 1 77 1 0 1-229 1 152 1 77 1-77 1 77 1-229 1 229 1 0 1-77 1 0 1 77 1-153 1 0 1 76 1 0 1 77 1-153 1 76 1 0 1 0 1 77 1-153 1 153 1-153 1 153 1 0 1 0 1-77 1-76 1 76 1 77 1-77 1 0 1 77 1 0 1 0 1 0 1 0 1 0 1 0 1 0 1 0 1-229 1 229 1-77 1 0 1 77 1 0 1-153 1-76 1 229 1-77 1 0 1 77 1-153 1 0 1 153 1-77 1-76 1 153 1-77 1 0 1 0 1-76 1 76 1 0 1 77 1 0 1 0 1-153 1 153 1-77 1 77 1 0 1 0 1 0 1 0 1-229 1 0 1 76 1 153 1 0 1-153 1 153 1 0 1 0 1 0 1-153 1 153 1 0 1-229 1 229 1-77 1 77 1-77 1 0 1-76 1 153 1-77 1 77 1-153 1 153 1 0 1 0 1 0 1-229 1 152 1 77 1-77 1 77 1 0 1 0 1 0 1 0 1-77 1 77 1 0 1 0 1-77 1 77 1-77 1 77 1 0 1-229 1 152 1-152 1 229 1 0 1 0 1-77 1 0 1 77 1 0 1-153 1 153 1 0 1-77 1-76 1 153 1-77 1-76 1 153 1-77 1-76 1 153 1 0 1-153 1 0 1 153 1-77 1 77 1-229 1 229 1 0 1 0 1 0 1 0 1-77 1 77 1-77 1 77 1-77 1 77 1 0 1 0 1-77 1 0 1 0 1-76 1 76 1 77 1 0 1 0 1-77 1 0 1 77 1-77 1 77 1-77 1 77 1 0 1-153 1 153 1 0 1 0 1 0 1-77 1 77 1-77 1 0 1 77 1 0 1-153 1 76 1 0 1 0 1 0 1-76 1 153 1-77 1-76 1 0 1 153 1-153 1 153 1-77 1 77 1 0 1 0 1 0 1 0 1-77 1-152 1 152 1 77 1-306 1 153 1 153 1 0 1-77 1-76 1 153 1-77 1 77 1 0 1-77 1 77 1 0 1 0 1 0 1-153 1 76 1 77 1-77 1 77 1-77 1 0 1 77 1 0 1-77 1 0 1 77 1 0 1-153 1 76 1 77 1 0 1-77 1 0 1-76 1 153 1-77 1 77 1-77 1 0 1 0 1 77 1-77 1 77 1-77 1 77 1 0 1 0 1-77 1 0 1 77 1 0 1 0 1 0 1 0 1 0 1 0 1 0 1 0 1-153 1 153 1 0 1-153 1 76 1 77 1-77 1 77 1-229 1 152 1-76 1 153 1-77 1-152 1 0 1 229 1 0 1 0 1 0 1-77 1 77 1-229 1 229 1-77 1 0 1 0 1-76 1 153 1 0 1-77 1 77 1-77 1-76 1 153 1-77 1-76 1 153 1-77 1 0 1 0 1 0 1 0 1 77 1-153 1 153 1 0 1 0 1-77 1 77 1 0 1-77 1-76 1 153 1-77 1 77 1-77 1-76 1 153 1-77 1 77 1 0 1 0 1 0 1 0 1-77 1 77 1 0 1 0 1-153 1 153 1-77 1 77 1-153 1 0 1 153 1 0 1-77 1 0 1 77 1-77 1-76 1 153 1-229 1 229 1 0 1 0 1-77 1 0 1 0 1 77 1 0 1-77 1 77 1-153 1 153 1-77 1 0 1 77 1-153 1 76 1 0 1-76 1 153 1-153 1 153 1-77 1 77 1 0 1-153 1 153 1 0 1 0 1-77 1-76 1 76 1 77 1 0 1-77 1 77 1 0 1 0 1-77 1-76 1 0 1 153 1 0 1-77 1 0 1 77 1-77 1 77 1 0 1 0 1-77 1 0 1-76 1 76 1 77 1 0 1-153 1 153 1 0 1-77 1 77 1 0 1-77 1 0 1 0 1 0 1 77 1 0 1-77 1 0 1 0 1 77 1 0 1-77 1 0 1 77 1-77 1 77 1-153 1 153 1-77 1 0 1 0 1-76 1-153 1 229 1 0 1 0 1 77 1-229 1 229 1 0 1-153 1 153 1 0 1-77 1 77 1 0 1-77 1 77 1 0 1 0 1 0 1-77 1 0 1 0 1 77 1 0 1 0 1-153 1 153 1 0 1 0 1 0 1 0 1 0 1 0 1 0 1 0 1 0 1-229 1 152 1 0 1 0 1 0 1 77 1-153 1 76 1 77 1 0 1 0 1-77 1 77 1-77 1 77 1-77 1 77 1-77 1 77 1-77 1-76 1 153 1 0 1 0 1 0 1 0 1 0 1 0 1 0 1 0 1-77 1 77 1-77 1 77 1 0 1 0 1 0 1-153 1-76 1 152 1 77 1 0 1-153 1 153 1 0 1-77 1-76 1 76 1 0 1 0 1 77 1 0 1-229 1 229 1-77 1 77 1 0 1-77 1 77 1 0 1-153 1 153 1-77 1 0 1 0 1-76 1 76 1 77 1-153 1 0 1 153 1 0 1-77 1 0 1 77 1 0 1-77 1-76 1 153 1 0 1-77 1 77 1-153 1-76 1 152 1 0 1 77 1-77 1 77 1-153 1 153 1-77 1 0 1 77 1 0 1-77 1 0 1 77 1 0 1 0 1-306 1 229 1 77 1 0 1 0 1-153 1-76 1 229 1 0 1-77 1 0 1 77 1-153 1 153 1 0 1 0 1-153 1 153 1 0 1-77 1 77 1 0 1 0 1 0 1 0 1-153 1 153 1 0 1 0 1 0 1-77 1 77 1 0 1-77 1 77 1 0 1-77 1 0 1 0 1-76 1 76 1 0 1-76 1 76 1 0 1 0 1 77 1 0 1 0 1-229 1 152 1-76 1 153 1-153 1 76 1 77 1 0 1-77 1 77 1-77 1 77 1 0 1 0 1-77 1 77 1-77 1 0 1 77 1 0 1 0 1 0 1-77 1 77 1-77 1 77 1 0 1 0 1 0 1 0 1 0 1-77 1 77 1-153 1 153 1 0 1 0 1 0 1-77 1 77 1 0 1 0 1-77 1 0 1 0 1 77 1 0 1 0 1 0 1 0 1 0 1 0 1-77 1 0 1-76 1 153 1 0 1-77 1 77 1 0 1-77 1 0 1-76 1 76 1-76 1 0 1 153 1 0 1 0 1 0 1 0 1-306 1 306 1-153 1 76 1 0 1 77 1-77 1 77 1-77 1 77 1-77 1 77 1 0 1-306 1 153 1 153 1-77 1-76 1 153 1 0 1 0 1 0 1 0 1-153 1 153 1-77 1 77 1-77 1 0 1-76 1 76 1 77 1 0 1-77 1 77 1-77 1 77 1 0 1-77 1-152 1 229 1 0 1-77 1 77 1-77 1 0 1 0 1 0 1-76 1-76 1 229 1-77 1 77 1 0 1 0 1-77 1 77 1-77 1-76 1 0 1 0 1 153 1 0 1-77 1 0 1 77 1-153 1 153 1-77 1 77 1-77 1 77 1-229 1 76 1 76 1 77 1 0 1-77 1 0 1 0 1-76 1 153 1-77 1 0 1 0 1 77 1-77 1 0 1 77 1-77 1 0 1 0 1 77 1 0 1-229 1 0 1 229 1-153 1 76 1 0 1 0 1 0 1 0 1 77 1-77 1 0 1 0 1 0 1 77 1-77 1 0 1 0 1 77 1-77 1-76 1 0 1 153 1-153 1 76 1-76 1 76 1 0 1-76 1 153 1-77 1 77 1 0 1-153 1 0 1 153 1-77 1 0 1 0 1-76 1 76 1 0 1 0 1 77 1 0 1 0 1 0 1 0 1-77 1-76 1 0 1 76 1-76 1 76 1 0 1 77 1 0 1 0 1 0 1 0 1-77 1-76 1 76 1 77 1 0 1 0 1-153 1 153 1-77 1 77 1 0 1-77 1 77 1 0 1-229 1 229 1 0 1 0 1-306 1 306 1 0 1-153 1-76 1 76 1 0 1 76 1 0 1 77 1-77 1 77 1-77 1 77 1 0 1 0 1 0 1-229 1 152 1 77 1 0 1 0 1-77 1 0 1 77 1 0 1 0 1-153 1 76 1 0 1-76 1 76 1 77 1-77 1 77 1-77 1 0 1 0 1 77 1 0 1-77 1 0 1-76 1 153 1-77 1 0 1-152 1 152 1 77 1-77 1-76 1 76 1 77 1-77 1 0 1 77 1-77 1 0 1 77 1-77 1-76 1 153 1 0 1 0 1 0 1 0 1-153 1 76 1 0 1 0 1 77 1 0 1-153 1 76 1 0 1 77 1-153 1 76 1 77 1 0 1-77 1-76 1 153 1 0 1-77 1 77 1-77 1-152 1 152 1 0 1-152 1 229 1 0 1-77 1 0 1 77 1-153 1 153 1-77 1 0 1 0 1 77 1 0 1 0 1 0 1 0 1-77 1 0 1 77 1-229 1 229 1 0 1-77 1 77 1-77 1 77 1 0 1 0 1-77 1 77 1-77 1 0 1 77 1-77 1 77 1 0 1-153 1 153 1 0 1-77 1 0 1 0 1-76 1 76 1 77 1-77 1 0 1 77 1-77 1 77 1 0 1-306 1 229 1-76 1 76 1 77 1-77 1 77 1 0 1 0 1 0 1-153 1 76 1 77 1 0 1 0 1-77 1 0 1-76 1 153 1-77 1-152 1 229 1 0 1-77 1 77 1-77 1 0 1 0 1 0 1 77 1-77 1 0 1 0 1 0 1 0 1 77 1 0 1 0 1-153 1 153 1 0 1-77 1 0 1 0 1 77 1 0 1-77 1-76 1 153 1-153 1 153 1-77 1-76 1 76 1 77 1-77 1 0 1 77 1-306 1 306 1 0 1 0 1 0 1 0 1 0 1-153 1 153 1-77 1 77 1-77 1 0 1 77 1-77 1 0 1 77 1 0 1-77 1 77 1 0 1-77 1-152 1 229 1-153 1-153 1 306 1-77 1-76 1 153 1 0 1-229 1 229 1 0 1 0 1 0 1-77 1 0 1 0 1 0 1 77 1-229 1 229 1 0 1-229 1 229 1 0 1-77 1-229 1 306 1-77 1 77 1 0 1-229 1 229 1 0 1-77 1 0 1-76 1 76 1 77 1 0 1-77 1 77 1 0 1 0 1-77 1 77 1-77 1 0 1 77 1-77 1-76 1 76 1 77 1-153 1 0 1 153 1 0 1-153 1 76 1 77 1-77 1 77 1 0 1 0 1 0 1-77 1 77 1-77 1 77 1 0 1-153 1 76 1 0 1 77 1-77 1 77 1-153 1 153 1 0 1-77 1 0 1 0 1 77 1 0 1 0 1 0 1-153 1 153 1 0 1 0 1 0 1-77 1 77 1 0 1 0 1-77 1 0 1 77 1-77 1 0 1 77 1 0 1 0 1-77 1 0 1 77 1-229 1 229 1-77 1 0 1 77 1-77 1 77 1 0 1-77 1-76 1 76 1 77 1-153 1 153 1 0 1 0 1 0 1-153 1 0 1 153 1 0 1-77 1 0 1 77 1 0 1 0 1-153 1 153 1-77 1 77 1-306 1 229 1-76 1 153 1 0 1-153 1 153 1-77 1-76 1 0 1 153 1-77 1 0 1 0 1 0 1 0 1 0 1-76 1 0 1 153 1-77 1 77 1-153 1 153 1-77 1 77 1 0 1-153 1 76 1 0 1 77 1-229 1 229 1 0 1 0 1-153 1 76 1 77 1-229 1 152 1 77 1 0 1 0 1-77 1-76 1 76 1 77 1-77 1 77 1 0 1 0 1 0 1-77 1 77 1 0 1-153 1 153 1 0 1 0 1 0 1-77 1 0 1 77 1-153 1 0 1 0 1 76 1 77 1-153 1 76 1 0 1 0 1 77 1-77 1 0 1-152 1 76 1 0 1 0 1 0 1 76 1 77 1-153 1 153 1-153 1 76 1 77 1-77 1 0 1-76 1 0 1 153 1 0 1-77 1 0 1 0 1 0 1 0 1 77 1-77 1 77 1 0 1 0 1 0 1 0 1 0 1-77 1 77 1-153 1 153 1-229 1 229 1-153 1 153 1 0 1-77 1 77 1-77 1-76 1 76 1-76 1 153 1-77 1 77 1-153 1 0 1 76 1 0 1 0 1 0 1 77 1-77 1 77 1-77 1 77 1 0 1-77 1 0 1 77 1 0 1-306 1 0 1 306 1-153 1-76 1 229 1-77 1 0 1 0 1-76 1 153 1 0 1 0 1 0 1 0 1 0 1-77 1 0 1 77 1 0 1 0 1-77 1 0 1 0 1 77 1 0 1-77 1 77 1 0 1-229 1 229 1-77 1 77 1 0 1 0 1 0 1 0 1-77 1 0 1 77 1-153 1 0 1-153 1 229 1 77 1 0 1 0 1 0 1 0 1 0 1 0 1-77 1-76 1 153 1-77 1-152 1 152 1 77 1 0 1 0 1 0 1 0 1-153 1 153 1 0 1 0 1 0 1-229 1 0 1 229 1 0 1 0 1-153 1 76 1 0 1 77 1-77 1 0 1 77 1-153 1 153 1 0 1-153 1 153 1 0 1 0 1-229 1 152 1 77 1 0 1 0 1 0 1 0 1 0 1 0 1-153 1 76 1 0 1 77 1 0 1-153 1 153 1-153 1 153 1-77 1 77 1 0 1-77 1 77 1 0 1-77 1 0 1 0 1 77 1-77 1 77 1-229 1 229 1 0 1-153 1 76 1 77 1-77 1 77 1 0 1-229 1 229 1-77 1 0 1 0 1 0 1 77 1-77 1-76 1 76 1 0 1 77 1-153 1 153 1 0 1 0 1-153 1 0 1 76 1 0 1 77 1-77 1 77 1 0 1 0 1-77 1-76 1 76 1 77 1-77 1 77 1 0 1 0 1 0 1-153 1 76 1-76 1 76 1 77 1 0 1 0 1 0 1-153 1 153 1 0 1 0 1-77 1 77 1 0 1-77 1 0 1 0 1 77 1-153 1 153 1 0 1 0 1-77 1 0 1 77 1-153 1 0 1 153 1-153 1 76 1 77 1-77 1 77 1-153 1 153 1 0 1 0 1 0 1 0 1 0 1-77 1 0 1 77 1-77 1 77 1 0 1-77 1 77 1 0 1 0 1 0 1 0 1-77 1-76 1 153 1-77 1 0 1-76 1 0 1 153 1 0 1 0 1-77 1 77 1 0 1-77 1 0 1 77 1-153 1 153 1-153 1 76 1 77 1-77 1 77 1 0 1-77 1 0 1 77 1 0 1 0 1 0 1 0 1-153 1 76 1 0 1-152 1 152 1 77 1 0 1 0 1-306 1 77 1 152 1 77 1-77 1-152 1 152 1 77 1 0 1-153 1 153 1 0 1 0 1 0 1 0 1 0 1 0 1-77 1 77 1 0 1-77 1 0 1 0 1 77 1 0 1 0 1-153 1 153 1 0 1 0 1 0 1-153 1 0 1 153 1-77 1-76 1 0 1 76 1 77 1 0 1-77 1 0 1 0 1 77 1-153 1 0 1 76 1 77 1-77 1 77 1 0 1-153 1 76 1 77 1 0 1-153 1 153 1-153 1 0 1 0 1 0 1 153 1 0 1-77 1 77 1 0 1 0 1 0 1-153 1 0 1 153 1-153 1 76 1 77 1 0 1 0 1-77 1 77 1-77 1 77 1 0 1 0 1 0 1 0 1-153 1 76 1-76 1 76 1 77 1 0 1 0 1 0 1-77 1 77 1-77 1-152 1 229 1 0 1-77 1 0 1 0 1 77 1-77 1-152 1 76 1 76 1 77 1 0 1-153 1 76 1 0 1 77 1-77 1-152 1 76 1 153 1-153 1 153 1 0 1 0 1 0 1-77 1-152 1 229 1-77 1 0 1 77 1-77 1-229 1 306 1 0 1 0 1 0 1-77 1 0 1 77 1 0 1 0 1-77 1 77 1-153 1 0 1 153 1 0 1 0 1 0 1 0 1 0 1-153 1 153 1-153 1 76 1-76 1 153 1 0 1 0 1-153 1 0 1 76 1 0 1 0 1 77 1 0 1-153 1 153 1-153 1 153 1-153 1 153 1 0 1-77 1 77 1 0 1-77 1 0 1 77 1 0 1-229 1 152 1 0 1 77 1 0 1 0 1 0 1-153 1 153 1-77 1 77 1 0 1-77 1 77 1 0 1-229 1 152 1 0 1 77 1 0 1 0 1 0 1-153 1 153 1 0 1 0 1 0 1 0 1-153 1 153 1-229 1 152 1-76 1 76 1 0 1 77 1-153 1 76 1 0 1 77 1 0 1 0 1-77 1 77 1-77 1 0 1 77 1-153 1 153 1-77 1 0 1 0 1 77 1-77 1 0 1 77 1-153 1 153 1-77 1 77 1-153 1 0 1 153 1 0 1 0 1 0 1-77 1 77 1-153 1 153 1-77 1 77 1-153 1 153 1-77 1 0 1 0 1 0 1-76 1 153 1-153 1 153 1-153 1 153 1 0 1 0 1-77 1-229 1 77 1 229 1 0 1 0 1-77 1 77 1-77 1 77 1-77 1 0 1 77 1-153 1 153 1-153 1 153 1-77 1-76 1 76 1 77 1 0 1-153 1 153 1-77 1 77 1-77 1 77 1 0 1 0 1 0 1 0 1 0 1 0 1 0 1-77 1 77 1 0 1 0 1-229 1 76 1 76 1 77 1-77 1 77 1 0 1-153 1 76 1 0 1 77 1-153 1 153 1-77 1-152 1 229 1 0 1 0 1 0 1 0 1-229 1 229 1-77 1 0 1 0 1 77 1 0 1 0 1-77 1 0 1 0 1 77 1 0 1 0 1 0 1-306 1 77 1 229 1-77 1 0 1-229 1 306 1-153 1 76 1 77 1 0 1-77 1 77 1-77 1 0 1 0 1 0 1 77 1-77 1 77 1-153 1 153 1 0 1 0 1-153 1 153 1 0 1-77 1 0 1 77 1 0 1 0 1-153 1 0 1 153 1 0 1-77 1 77 1-77 1 0 1 77 1 0 1-77 1-76 1 153 1-77 1 77 1 0 1 0 1-77 1 77 1-77 1 0 1 0 1 77 1-229 1 229 1-77 1 77 1 0 1 0 1-153 1 153 1-229 1 76 1 153 1-153 1 76 1-76 1 0 1 0 1 76 1 77 1 0 1-77 1 0 1 77 1-77 1 0 1 77 1-77 1-76 1 153 1 0 1-153 1 76 1-76 1 76 1 77 1-77 1 77 1 0 1-77 1 0 1 0 1 0 1-76 1 153 1 0 1 0 1-77 1 77 1-77 1 77 1 0 1 0 1-153 1 76 1 77 1-77 1 0 1 77 1 0 1 0 1 0 1 0 1-153 1 76 1 0 1 77 1 0 1 0 1-153 1 76 1 77 1 0 1 0 1 0 1-77 1 77 1-77 1 0 1 0 1 0 1-76 1 76 1 0 1 77 1 0 1-77 1 77 1 0 1-77 1 77 1 0" fill="none" stroke="#0a0a0a" stroke-width="0.8" vector-effect="non-scaling-stroke" stroke-linejoin="round"/>
<path transform="translate(381.650 0) scale(0.03938 0.1)" d="M0 5312l1-306 1 77 1 306 1 0 1 0 1-153 1 76 1-152 1 535 1-689 1 306 1-152 1 152 1 77 1-153 1-76 1 229 1-77 1-152 1 306 1 152 1-382 1 230 1 229 1-229 1-77 1 153 1 76 1-306 1-152 1 229 1 77 1-230 1-76 1 229 1-153 1-153 1 306 1 77 1-230 1 0 1-153 1 459 1-76 1 0 1 229 1-383 1-76 1 230 1-460 1 154 1 0 1 76 1-76 1 382 1-382 1 0 1 535 1-459 1 153 1-229 1 229 1-77 1-76 1 230 1-306 1 152 1-76 1 153 1-306 1 77 1 152 1-152 1-77 1-153 1 688 1-458 1 76 1 76 1 230 1-459 1 459 1-306 1-153 1 535 1-229 1 153 1-306 1-230 1-76 1 765 1-306 1-229 1-154 1 230 1 230 1-230 1 76 1 77 1 77 1-230 1 0 1 76 1 77 1 153 1-153 1-306 1 229 1 306 1-535 1 153 1-306 1 382 1 77 1 229 1-535 1-306 1 689 1 0 1-306 1 306 1-77 1 0 1-77 1-229 1 229 1-152 1 229 1-153 1 459 1-77 1-458 1 306 1-306 1 306 1-154 1 77 1 0 1 229 1 77 1 0 1 0 1 0 1 0 1-77 1-76 1 76 1 77 1-77 1-76 1-153 1 77 1 229 1 0 1-535 1 229 1-153 1-76 1 535 1-229 1 0 1 0 1 0 1 76 1 0 1 153 1-77 1 77 1-153 1 153 1-229 1-77 1 153 1 0 1 0 1 153 1-77 1 77 1-229 1 76 1-76 1 229 1-306 1 306 1 0 1-77 1 77 1-153 1 153 1 0 1 0 1-383 1 230 1 153 1-153 1 153 1-459 1 459 1-229 1 0 1 229 1-153 1-153 1 77 1 76 1-153 1 153 1 0 1 76 1-152 1 229 1-306 1 306 1 0 1-229 1-230 1 153 1 306 1-229 1 229 1-77 1-76 1 153 1-153 1 153 1 0 1 0 1 0 1 0 1-306 1-153 1 306 1-153 1 229 1 77 1-153 1-76 1 229 1-153 1-76 1 229 1 0 1-77 1 0 1 0 1-229 1-153 1 382 1-152 1-77 1 77 1-77 1 229 1-229 1-229 1 229 1 306 1-229 1-154 1-76 1 153 1-383 1 536 1-306 1 76 1 230 1-459 1 153 1 306 1-382 1 229 1 306 1-229 1-230 1-76 1 152 1 0 1-76 1 153 1-306 1 229 1-76 1 0 1 306 1-76 1-460 1 230 1 153 1-153 1 153 1-153 1 230 1-230 1 382 1-535 1 306 1 229 1-229 1 0 1-77 1 230 1-306 1-612 1 918 1-306 1 153 1-153 1 459 1-153 1-306 1 76 1-306 1 460 1-154 1-612 1 766 1 0 1-154 1 0 1-152 1 152 1 154 1-230 1-459 1 306 1 612 1-383 1 154 1-306 1 152 1-382 1 230 1 0 1 152 1 0 1-76 1-153 1 153 1 153 1-306 1 229 1 0 1 154 1-77 1 77 1 229 1-612 1 153 1 153 1-306 1 153 1 0 1 459 1-306 1-153 1-230 1-76 1 76 1 536 1 153 1-459 1 76 1-229 1 229 1-76 1 382 1-382 1 153 1-153 1 0 1 76 1-76 1 76 1-152 1 76 1 153 1 77 1-536 1 382 1-229 1 153 1 153 1 77 1-154 1-76 1-76 1 382 1-76 1-154 1-306 1 689 1-459 1 153 1-153 1 153 1-153 1-230 1 230 1 0 1 0 1 230 1-230 1 153 1 77 1-154 1 77 1-229 1 152 1 77 1-383 1 77 1 0 1 77 1 152 1 77 1 0 1-229 1 152 1 306 1-306 1 306 1-306 1 230 1 0 1-230 1 0 1 306 1-458 1-306 1 764 1-688 1 536 1-77 1-77 1 306 1-535 1 153 1 230 1-77 1 229 1-229 1-229 1 458 1-229 1-77 1-229 1-77 1 383 1 77 1-230 1 153 1 0 1-306 1-77 1 230 1 76 1-76 1 459 1-383 1 230 1-688 1 306 1 152 1 77 1 306 1-535 1-154 1 460 1-306 1 0 1 458 1-458 1-154 1 230 1 76 1-152 1 458 1-306 1-229 1 459 1-459 1 306 1 306 1-383 1 230 1-306 1 306 1-459 1 383 1-230 1 230 1-77 1-306 1 153 1 153 1 153 1-459 1 77 1 229 1-153 1 306 1 0 1-76 1-230 1 0 1 230 1-306 1 0 1 152 1-229 1 306 1-77 1-76 1 76 1-152 1 382 1-536 1 460 1-154 1 306 1-458 1-77 1 0 1 77 1 458 1-152 1-77 1 77 1-383 1 229 1 0 1-76 1 230 1 0 1 0 1-230 1 0 1-76 1-77 1 535 1-229 1-77 1 306 1-229 1-306 1 0 1 0 1 229 1 77 1-306 1 306 1-153 1-153 1 306 1 77 1-154 1-152 1 76 1 76 1-76 1 382 1-152 1-154 1 154 1 76 1 0 1-76 1-154 1 230 1-306 1-230 1 306 1-229 1 153 1 306 1-153 1 153 1-382 1 382 1-459 1 77 1 535 1-535 1-154 1 460 1-383 1 612 1-459 1 382 1-382 1 459 1 0 1-459 1-382 1 612 1-306 1 152 1 77 1-229 1-154 1 536 1-306 1 0 1 382 1-612 1-76 1 536 1-536 1 382 1 0 1-306 1 230 1 0 1-230 1 77 1 77 1 458 1 0 1-535 1 383 1-154 1 230 1-230 1 230 1-536 1 536 1-230 1 0 1-229 1 535 1-306 1 77 1-153 1 0 1 153 1-153 1 153 1-153 1 76 1 154 1-154 1-76 1-382 1 535 1-153 1-230 1 689 1 0 1-153 1-230 1-458 1 382 1-153 1 306 1 306 1 0 1-612 1 229 1 230 1-459 1 535 1-535 1-77 1 460 1 76 1-382 1 382 1-382 1 382 1-382 1 152 1 77 1 77 1-230 1 459 1-306 1 0 1-229 1 382 1-536 1 383 1 153 1-536 1 0 1 306 1 154 1-154 1 154 1-77 1-383 1 230 1 76 1-76 1 76 1-152 1 0 1 229 1-77 1-458 1 382 1 76 1-382 1 382 1 230 1-382 1 306 1-77 1-153 1 76 1 154 1-77 1 77 1-383 1 383 1-77 1-459 1 459 1-383 1 77 1 229 1 306 1-382 1-76 1-77 1 229 1-229 1-77 1 536 1-536 1 306 1 77 1 0 1-459 1 153 1 612 1-383 1 0 1 0 1 77 1 229 1-458 1 306 1-77 1 77 1 0 1-306 1 76 1 230 1 0 1-77 1-306 1 229 1-76 1 153 1 0 1-153 1 459 1-689 1 460 1-77 1-306 1 153 1 76 1 154 1 152 1-306 1-229 1 383 1-460 1 536 1-76 1-230 1 76 1-152 1 306 1 76 1 153 1-153 1 0 1 76 1-382 1 230 1 229 1-841 1 764 1 77 1-535 1 0 1 458 1 77 1-77 1-382 1 230 1 152 1-152 1-306 1 535 1-229 1 229 1-689 1 77 1 153 1 230 1-154 1 383 1-306 1 306 1 0 1-153 1-76 1-154 1 0 1 77 1 229 1-306 1 154 1-306 1 458 1 77 1-153 1-536 1 306 1 154 1-230 1 76 1 0 1 230 1-153 1 0 1 153 1 76 1-229 1-153 1 76 1 0 1 0 1-382 1 459 1-153 1-230 1 383 1 0 1-153 1-153 1 306 1 0 1 0 1 306 1-459 1 230 1 229 1-229 1 229 1-77 1-229 1 229 1-382 1 459 1-306 1-77 1-152 1 76 1 153 1 0 1 77 1-230 1 306 1-230 1 154 1-77 1 77 1-460 1 536 1-153 1 0 1-77 1 0 1 0 1-76 1 459 1-306 1 306 1-306 1 306 1-77 1-152 1-306 1 152 1 77 1-229 1 458 1 77 1-153 1-76 1-306 1-154 1 689 1-765 1 153 1 153 1 153 1-459 1 459 1 153 1-153 1 306 1-383 1 154 1-77 1 0 1 229 1-458 1 458 1-382 1 459 1-383 1 306 1-229 1 153 1 153 1-77 1-229 1-77 1 383 1 0 1-77 1-152 1 76 1 76 1-382 1 0 1 76 1 306 1-229 1-77 1 306 1-458 1 152 1 77 1-383 1 154 1 0 1-77 1 77 1 382 1-153 1-306 1 383 1-154 1-76 1-230 1 77 1 77 1 152 1-152 1 76 1 76 1-306 1 230 1 230 1-383 1 306 1-229 1 458 1-306 1 154 1 0 1 229 1-841 1 458 1-76 1-153 1 229 1-76 1 382 1-382 1 153 1-153 1 76 1 306 1 77 1-153 1-382 1 76 1 0 1 459 1 0 1-229 1-77 1 77 1-230 1 76 1 230 1-76 1-154 1 0 1 0 1-458 1 535 1-77 1 230 1-153 1-153 1 0 1 76 1-76 1 76 1 383 1 0 1-841 1 306 1 152 1 383 1-153 1-536 1 689 1-306 1-229 1 152 1-152 1 152 1-458 1 688 1 76 1-382 1-230 1 306 1-229 1 306 1 153 1-536 1 0 1 0 1 383 1 153 1 0 1-153 1-229 1 76 1 382 1-382 1 76 1 0 1 0 1 77 1-229 1 152 1-76 1 230 1-230 1 76 1 383 1-459 1 153 1-229 1 152 1 0 1-76 1 76 1 77 1 306 1-765 1 688 1-229 1-229 1 76 1 0 1-76 1-77 1 153 1-536 1 842 1-306 1 153 1 0 1-153 1-230 1 460 1 0 1-306 1 76 1-306 1 153 1 153 1 153 1-153 1 76 1 306 1-306 1 0 1 77 1 0 1-383 1 154 1 0 1 306 1 76 1-153 1-153 1 153 1-77 1-152 1 76 1 306 1-153 1 77 1-154 1 230 1-230 1-152 1 152 1 154 1 0 1-154 1-76 1-76 1 152 1 230 1-536 1 230 1 0 1 0 1 306 1-153 1-153 1-153 1 229 1 383 1-306 1-153 1-153 1 77 1-306 1 152 1 0 1 154 1 458 1-458 1 0 1 229 1-229 1 76 1 153 1-77 1 77 1-153 1 153 1-153 1 459 1-306 1 229 1-229 1-153 1 76 1 0 1 0 1-306 1 536 1-382 1 458 1-229 1-77 1 154 1-230 1-76 1 382 1-230 1 77 1 306 1-383 1 154 1-383 1 383 1-460 1 383 1-459 1 306 1 0 1-76 1 0 1-154 1-76 1 459 1 153 1 153 1-306 1-229 1 76 1 76 1 77 1 77 1-77 1-153 1 459 1-535 1 458 1-306 1 154 1-77 1 153 1 0 1-153 1 153 1-688 1 535 1 77 1-77 1 153 1 153 1-306 1-153 1 382 1-306 1 230 1-230 1-76 1 0 1 0 1 230 1-306 1 229 1-153 1-76 1 229 1 153 1-382 1 382 1-76 1 76 1-230 1 154 1 229 1-383 1-306 1 77 1 459 1-76 1-77 1-77 1 154 1 229 1-383 1 0 1 383 1-153 1-153 1 77 1-154 1 0 1 0 1 154 1 229 1-383 1-152 1-77 1 383 1 0 1-306 1 0 1 229 1-77 1 306 1-306 1 306 1-152 1 0 1 76 1 153 1-77 1-229 1 77 1 76 1-153 1-77 1 0 1 306 1-152 1 76 1 76 1 77 1-229 1 152 1-612 1 460 1 0 1 76 1-459 1 535 1-152 1 152 1-152 1 0 1-230 1 459 1-229 1-306 1 382 1-76 1 152 1 77 1-229 1-230 1 306 1 153 1-306 1 77 1-230 1 0 1 306 1-153 1 306 1-459 1 153 1-153 1 0 1 306 1-76 1 152 1 77 1-229 1-77 1 306 1-383 1 154 1-77 1 229 1 77 1-383 1 0 1 154 1 76 1 0 1-76 1 76 1 153 1-383 1 383 1-153 1 0 1-153 1 306 1-459 1 76 1 0 1-76 1 382 1 77 1-306 1-229 1 76 1 306 1-76 1-77 1 306 1-77 1-76 1-382 1 458 1-458 1 306 1 229 1-689 1 612 1-306 1-229 1 459 1 153 1-459 1 230 1 229 1 0 1-153 1-306 1 306 1-382 1-154 1 77 1-77 1 77 1 535 1-535 1 153 1 76 1 230 1 76 1-76 1-230 1 230 1-76 1 0 1-306 1 229 1-77 1-229 1 306 1-229 1 382 1-306 1 76 1 0 1 77 1 153 1-153 1 0 1-306 1 77 1 382 1-382 1 229 1-153 1 153 1 229 1-535 1 153 1 306 1 153 1-306 1 153 1-153 1-229 1-154 1 383 1-383 1 77 1 306 1 229 1-458 1 0 1-306 1 152 1 154 1-154 1 536 1-306 1 153 1-459 1 306 1 459 1-689 1 460 1-306 1 229 1-153 1-76 1 76 1 230 1-460 1 230 1 76 1-152 1 229 1-459 1 306 1 0 1 0 1 230 1 76 1-306 1 0 1-230 1 230 1 306 1-306 1-76 1-77 1 153 1 306 1-459 1 383 1-306 1 458 1-458 1 306 1-383 1-153 1 153 1 459 1-76 1 0 1-306 1 76 1 76 1-76 1-76 1 0 1-154 1 306 1-76 1 459 1-153 1-76 1 76 1-306 1-153 1 306 1 0 1 0 1-77 1 77 1-153 1 0 1 0 1-76 1 152 1 0 1-382 1 382 1-152 1 152 1 77 1 0 1 77 1-154 1 154 1-77 1-306 1 229 1-229 1 153 1-76 1 306 1-154 1-535 1 383 1-77 1 153 1-76 1 382 1-76 1-230 1-76 1 229 1 0 1 0 1 0 1 153 1 76 1-306 1 383 1-153 1-76 1 76 1-306 1 153 1-77 1 230 1-76 1-230 1 0 1 153 1-153 1 76 1 0 1-306 1 383 1-153 1 0 1 153 1 153 1-382 1 76 1 76 1 0 1 0 1 154 1-230 1 459 1-383 1 306 1-229 1-229 1 229 1 0 1-153 1 153 1 0 1 0 1-383 1 154 1 76 1 306 1-306 1 382 1-382 1 306 1-612 1 765 1-612 1 77 1 535 1-306 1-383 1 77 1 535 1-152 1 76 1 0 1-76 1-536 1 382 1 77 1 0 1-229 1 0 1 382 1-536 1 536 1-153 1-153 1-230 1 383 1-153 1-153 1 153 1-153 1 0 1 153 1 0 1-76 1 152 1-306 1 689 1-153 1-536 1 230 1 230 1-230 1-153 1 383 1-306 1 152 1 0 1 0 1-229 1 459 1-153 1-229 1 382 1 76 1-382 1 76 1 77 1-77 1 230 1-765 1 765 1-153 1 229 1-229 1-383 1 306 1-76 1 153 1-459 1 382 1 230 1-382 1 229 1-153 1 76 1-76 1 76 1 230 1 76 1-458 1 229 1-153 1 153 1 306 1-153 1-459 1 383 1-77 1 229 1-152 1-77 1 0 1-77 1 154 1 0 1-154 1-76 1 153 1-383 1 306 1 0 1 154 1-306 1 382 1 76 1-76 1-306 1 306 1-459 1 229 1 306 1-229 1-383 1 460 1 152 1-382 1-153 1 77 1 229 1-77 1-76 1-153 1-153 1 382 1-229 1 306 1-153 1 306 1-76 1-230 1 306 1-382 1 306 1-154 1 0 1 77 1-77 1-229 1-383 1 842 1-306 1 153 1 153 1-306 1 230 1-154 1-229 1 612 1-383 1-76 1 306 1-306 1 0 1 153 1-306 1 535 1-382 1 153 1 153 1-153 1 0 1-229 1 458 1-229 1 0 1-383 1 536 1-459 1 612 1-459 1 153 1-153 1 230 1 229 1-77 1-535 1 229 1 154 1-306 1 306 1 0 1 76 1-459 1-153 1 612 1-306 1-76 1-230 1 765 1-383 1-76 1 382 1-382 1 76 1-152 1 306 1-230 1 230 1-230 1 76 1 77 1 229 1-612 1 77 1 77 1 306 1-77 1-383 1 154 1 306 1-154 1 0 1 77 1 153 1-459 1 153 1 153 1 229 1-152 1-154 1-152 1 229 1-306 1 229 1 154 1 229 1-153 1 76 1-229 1-153 1-153 1 229 1 230 1-688 1 382 1 153 1 0 1 229 1-382 1 0 1-230 1 77 1 77 1-77 1 306 1 0 1-77 1 230 1-153 1 0 1-229 1 152 1 383 1-383 1-306 1 689 1-229 1-154 1 306 1-152 1-154 1 306 1-382 1 0 1 306 1-230 1-229 1 306 1-153 1-76 1 229 1-229 1 76 1 306 1-306 1-76 1 0 1 306 1-230 1-153 1 153 1-153 1 0 1 229 1-152 1 229 1-306 1 229 1 154 1-154 1 0 1-76 1 0 1 306 1-76 1-230 1 0 1 76 1-535 1 306 1 229 1-152 1-77 1 153 1 459 1-383 1 0 1-458 1 841 1-689 1 306 1-152 1 229 1-77 1-229 1 229 1-229 1 229 1 77 1 0 1 0 1-77 1-306 1 536 1 76 1-306 1-306 1 77 1 0 1 0 1 383 1-154 1 383 1-229 1-306 1 458 1 77 1-153 1-306 1-153 1-306 1 229 1 612 1 77 1-383 1-229 1 535 1-229 1 0 1-77 1 0 1-76 1-153 1 229 1-152 1-230 1 612 1 0 1-306 1-306 1 306 1-153 1 306 1-306 1 306 1-229 1 76 1 0 1-230 1 77 1 306 1-306 1 535 1-535 1-306 1 383 1 0 1 152 1-152 1 229 1-229 1 152 1 77 1-153 1 76 1 306 1-764 1 382 1 382 1-535 1 229 1-76 1-76 1 306 1 229 1-383 1-76 1-153 1 383 1-154 1-76 1 76 1 0 1-76 1 230 1-460 1 460 1-154 1 77 1 77 1-306 1-77 1-77 1 154 1 229 1-306 1 459 1-230 1-152 1 0 1 382 1 76 1-688 1 459 1 229 1-76 1-230 1-229 1 229 1-229 1 153 1 0 1-153 1 306 1-153 1 153 1 0 1-229 1 306 1-154 1 154 1-154 1 77 1-306 1 229 1 0 1-306 1 689 1-153 1 153 1-383 1-76 1-76 1 76 1 230 1-536 1 306 1 153 1 153 1-306 1 153 1 0 1-153 1 0 1 230 1-383 1 459 1 0 1-306 1 76 1 0 1 77 1-77 1 77 1 229 1-458 1 382 1-153 1-229 1 152 1-535 1 841 1-152 1-154 1-306 1 383 1 229 1-535 1 383 1-154 1-152 1 306 1-77 1-153 1 76 1-76 1 230 1-154 1 230 1 76 1-688 1 306 1-76 1 306 1-154 1 77 1 229 1-382 1 230 1-77 1 229 1-535 1 77 1 76 1 230 1-77 1-306 1 306 1-153 1 76 1 230 1-536 1 689 1-459 1 76 1 306 1-382 1 0 1 76 1 154 1-230 1-153 1 153 1-230 1 154 1 0 1-154 1 460 1-77 1-153 1 0 1-230 1 77 1 229 1-76 1 153 1 0 1 0 1-229 1 229 1 0 1-77 1 77 1 0 1 306 1-459 1 153 1-153 1 0 1 459 1-841 1 382 1 0 1 382 1-458 1 76 1 153 1-153 1-230 1 383 1 77 1-460 1 230 1 76 1-458 1 382 1 76 1-76 1 153 1-153 1 0 1 153 1-77 1-76 1 0 1-76 1 0 1 76 1-76 1 229 1-77 1-229 1 612 1-459 1-612 1 1071 1-689 1 612 1-382 1-230 1 0 1 460 1 76 1 76 1-458 1 229 1-77 1-76 1 0 1-76 1 152 1 306 1-612 1 689 1-612 1 306 1-77 1 77 1 0 1-77 1 77 1 153 1-382 1 229 1-383 1 306 1 154 1-230 1-76 1 306 1-77 1-383 1 460 1 0 1-230 1 306 1 153 1-77 1-382 1-76 1 0 1 76 1 306 1-382 1-77 1 383 1-383 1 306 1-153 1 0 1 382 1-612 1 460 1-154 1 77 1-153 1 0 1 76 1-306 1 230 1 153 1 306 1-306 1 0 1 77 1 0 1-306 1-77 1-153 1 153 1 383 1-230 1 306 1-382 1 76 1 153 1-77 1 77 1 77 1-689 1-383 1 460 1-77 1 229 1 77 1-535 1 535 1-153 1 76 1-76 1 76 1-76 1 306 1-230 1-229 1 459 1-76 1-383 1 153 1-153 1 689 1-460 1 230 1 76 1-382 1-153 1 535 1-76 1-76 1-154 1 306 1-764 1 382 1 153 1 0 1-535 1 0 1 535 1-153 1-153 1 459 1-76 1-383 1 383 1-77 1 229 1-152 1-306 1 306 1 152 1-152 1-460 1 306 1 154 1-154 1-76 1 76 1 383 1-459 1 153 1-229 1 458 1-535 1 306 1 306 1-612 1 383 1-230 1 153 1-306 1 0 1 0 1 77 1 458 1 77 1-383 1 230 1-306 1 76 1 306 1-76 1 0 1 0 1-153 1-229 1-77 1 459 1-76 1-460 1 154 1 152 1 460 1-230 1-230 1 154 1-536 1 382 1-76 1 306 1 0 1-76 1 0 1-77 1-153 1 76 1-152 1 458 1-306 1 0 1-306 1 383 1-153 1 230 1-230 1 0 1 230 1-77 1-77 1-76 1 306 1-382 1 229 1-459 1 76 1 383 1 77 1-612 1 382 1 0 1 153 1 0 1-229 1 76 1 230 1-383 1 153 1 306 1-382 1 229 1-229 1 306 1-230 1 382 1-382 1 382 1-306 1 536 1-536 1-152 1 76 1-153 1 459 1-536 1 0 1 536 1-76 1 0 1-154 1 0 1 536 1-612 1 153 1 153 1-382 1 229 1-306 1 153 1 153 1-306 1 77 1 306 1 152 1-152 1-230 1 153 1-383 1 306 1 0 1-76 1 306 1-153 1 77 1 306 1-77 1-535 1 229 1 0 1 229 1-152 1-306 1 152 1 154 1-460 1 306 1 77 1-306 1 612 1-459 1 306 1-76 1 0 1-154 1 0 1-76 1 76 1-229 1-77 1 154 1 0 1 229 1 153 1-306 1 76 1-152 1 535 1-918 1 841 1-306 1-152 1 458 1-152 1 306 1-154 1 77 1-383 1-76 1 153 1-306 1 0 1 229 1 77 1 0 1 0 1-306 1 229 1 77 1 0 1-153 1 153 1-153 1 76 1-229 1 0 1 535 1-229 1-229 1 229 1-229 1 76 1 0 1 76 1-76 1 0 1 382 1-76 1 0 1-536 1 230 1 0 1 76 1 154 1 0 1-306 1 229 1-383 1 306 1 0 1 77 1-77 1 0 1-306 1-152 1 688 1-230 1-152 1 382 1-76 1-77 1 383 1-612 1 152 1 0 1 0 1 0 1-458 1 458 1-152 1 306 1-230 1 153 1 0 1 153 1-76 1-230 1-76 1 76 1 230 1-230 1 612 1-688 1 152 1-76 1-153 1 306 1-229 1 229 1-153 1 153 1-153 1-230 1 460 1 0 1-77 1-153 1-459 1 689 1 229 1-229 1 152 1-152 1-154 1 230 1-76 1 229 1-383 1 154 1-383 1 0 1 383 1-77 1-77 1-152 1 458 1-306 1-382 1 382 1 0 1 0 1 230 1-382 1 76 1 76 1-152 1 0 1 535 1-459 1 230 1-154 1 154 1 0 1-306 1 152 1 77 1 0 1-77 1 0 1 460 1-306 1-77 1-229 1-77 1 383 1-536 1 382 1-76 1 153 1 77 1-460 1 383 1-77 1-229 1-77 1 612 1-306 1 0 1-382 1-76 1 458 1-76 1-76 1-77 1 306 1-229 1 306 1 382 1-230 1-382 1-76 1 612 1-77 1-383 1 689 1-841 1-77 1 841 1-764 1 152 1-306 1 230 1 153 1-77 1-229 1 153 1 76 1 306 1-382 1 76 1-382 1 382 1 0 1 77 1-229 1 152 1 154 1-460 1-76 1 459 1 77 1-383 1 383 1-766 1 612 1-229 1 459 1-230 1-229 1 153 1 153 1-612 1 383 1 152 1 77 1 0 1-383 1 460 1-154 1 154 1-383 1 229 1-152 1 0 1 229 1-229 1-77 1 459 1-382 1-612 1 841 1-229 1 382 1-306 1 153 1-229 1 152 1 230 1-459 1 229 1 154 1-154 1 154 1-230 1 76 1 77 1-229 1 382 1-459 1 612 1-689 1 230 1 76 1 154 1-306 1 152 1 0 1-229 1 306 1-77 1-76 1-153 1 229 1-76 1 76 1-152 1-154 1 460 1-154 1 0 1-152 1-154 1 306 1-76 1-153 1 459 1-76 1-77 1-77 1-76 1 153 1-459 1 536 1-154 1-229 1 77 1 152 1-76 1-76 1 152 1-152 1 306 1-154 1 306 1-152 1 76 1-459 1 306 1-153 1 230 1-154 1 77 1 77 1-306 1 458 1-458 1-383 1 689 1-154 1 306 1-306 1 306 1-458 1 229 1 306 1-153 1 76 1-229 1-229 1 229 1 153 1-76 1-154 1 460 1-612 1 76 1 612 1-765 1 535 1-229 1-306 1 535 1 77 1-153 1 0 1-230 1 77 1 0 1 0 1 0 1 77 1-230 1 76 1 230 1-612 1 612 1-382 1 306 1-230 1 0 1-76 1-154 1 460 1-766 1 536 1 230 1 152 1-764 1 152 1 306 1-152 1-77 1 229 1 77 1-77 1-152 1 152 1 230 1-382 1 535 1-229 1-383 1 153 1 0 1 76 1-229 1 229 1 383 1-459 1 688 1-229 1-689 1 77 1 306 1-77 1 0 1-229 1 383 1 0 1 0 1-154 1-76 1 153 1-229 1 382 1-230 1 154 1 76 1-459 1 306 1 153 1-230 1 230 1-382 1 0 1-77 1 459 1-230 1-382 1 459 1-306 1-77 1 612 1-535 1 77 1 0 1-154 1 230 1 76 1-152 1 229 1-153 1 459 1-765 1 459 1-153 1 0 1 76 1 0 1 0 1 306 1-229 1-306 1 459 1 0 1-688 1 229 1-77 1 306 1-76 1-76 1 76 1 76 1 306 1-152 1 152 1-612 1 383 1 0 1-153 1 76 1-76 1 230 1 152 1-688 1 536 1-77 1 77 1 0 1-154 1-152 1 382 1-306 1 230 1-383 1 459 1-230 1-152 1 458 1-306 1 0 1 154 1-77 1-229 1 76 1 153 1 0 1-153 1-153 1 77 1 0 1-154 1 612 1 0 1 154 1-612 1 612 1-460 1-152 1 458 1-152 1-77 1-229 1 458 1-382 1-76 1 152 1 0 1-229 1 229 1 0 1 77 1-229 1 229 1-229 1 152 1-229 1 383 1-154 1-76 1 0 1-153 1 153 1-76 1-230 1 230 1 382 1 76 1-458 1 229 1-153 1 153 1-306 1 0 1 459 1-306 1 153 1 229 1-382 1 153 1-153 1-382 1 229 1 0 1 306 1 153 1-459 1 306 1-77 1 77 1-77 1-458 1 535 1 0 1-77 1-76 1 306 1 153 1-229 1-77 1 77 1 76 1 0 1-153 1 0 1 229 1-152 1-230 1 153 1 229 1-229 1-77 1-152 1 458 1-458 1 229 1-77 1-152 1 382 1-76 1-77 1-229 1 306 1 152 1-152 1-230 1-153 1 383 1-77 1 0 1 0 1 153 1-153 1-77 1 0 1 0 1 230 1-76 1 0 1-306 1-77 1 153 1-230 1 383 1 0 1 229 1-306 1 77 1-77 1-76 1 153 1 153 1-230 1 0 1 0 1-76 1 153 1 0 1-383 1 154 1 229 1 153 1-153 1-153 1-76 1-306 1 535 1-841 1 841 1-77 1 77 1 153 1-382 1 152 1-229 1 383 1-154 1-76 1 459 1-77 1-458 1 152 1 383 1-229 1 76 1-153 1-383 1 460 1-536 1 459 1 77 1-460 1 154 1-77 1-153 1 153 1 0 1 612 1-229 1-230 1 76 1-152 1 229 1-306 1-153 1 306 1-76 1 76 1-76 1 152 1 77 1-77 1 0 1 306 1-382 1 76 1 0 1 77 1-153 1-76 1 306 1-230 1-76 1 0 1 306 1 76 1-230 1 230 1-688 1 612 1 0 1-306 1 229 1 383 1-383 1 153 1-76 1 152 1-76 1-153 1-77 1 230 1-76 1 0 1-154 1 77 1 229 1-382 1 230 1-230 1 306 1-230 1 77 1-77 1-76 1 0 1 76 1 0 1 306 1-229 1 383 1 0 1-383 1 0 1-306 1 153 1-76 1 229 1-153 1-153 1 153 1 0 1 76 1 230 1 0 1 76 1-382 1 153 1 77 1-230 1 230 1-306 1-230 1 306 1 230 1 152 1-688 1 306 1 306 1-382 1 535 1-306 1 0 1 0 1 153 1-688 1 535 1-153 1 76 1 306 1-152 1-154 1-152 1 229 1-153 1 153 1-153 1 612 1-612 1 230 1 0 1 458 1-382 1-306 1-382 1 612 1 0 1-230 1 0 1 230 1-77 1 0 1-153 1-76 1-154 1 154 1 0 1 152 1-152 1 382 1-612 1 306 1-153 1 383 1-306 1 76 1 153 1 77 1 0 1-460 1 77 1 229 1 0 1 154 1 229 1 0 1-229 1-77 1 153 1-382 1 76 1 76 1 383 1-306 1-77 1 230 1 230 1-842 1 306 1 153 1-383 1 77 1 153 1 76 1-152 1-154 1 306 1 77 1-153 1 688 1-612 1 77 1-77 1 77 1-153 1 76 1 0 1 77 1-153 1 230 1-306 1 535 1-383 1-76 1 382 1-229 1-306 1 306 1 77 1 458 1-688 1 76 1-76 1-306 1 382 1 0 1 154 1-154 1 0 1-152 1 76 1 230 1-77 1-306 1 459 1-382 1-154 1 230 1 76 1-229 1 153 1 76 1 77 1-306 1 77 1-154 1 383 1 0 1 0 1-153 1 230 1-306 1 76 1 306 1 382 1-229 1-689 1 306 1 0 1 77 1-153 1 459 1 0 1-77 1-306 1-152 1 76 1 153 1 229 1-458 1 229 1-77 1 0 1 77 1 77 1 0 1 152 1-306 1 77 1-229 1 535 1-612 1 229 1 77 1 77 1 0 1 152 1-458 1 229 1-229 1 0 1 306 1-77 1 0 1-229 1 152 1 0 1-152 1 152 1-382 1 612 1-459 1 0 1 459 1-382 1 76 1-76 1 382 1-230 1 230 1-153 1-306 1 306 1 383 1-154 1-76 1-382 1 306 1 152 1-535 1 229 1-76 1 230 1-460 1 383 1 306 1-153 1-76 1-77 1-229 1 306 1 0 1-612 1 458 1 154 1-154 1 230 1-306 1-76 1 306 1-306 1 229 1-153 1 230 1 0 1 152 1-306 1 77 1 0 1 153 1 0 1-76 1-230 1 0 1 230 1-230 1-230 1 306 1-382 1 306 1-153 1 383 1-383 1 459 1-230 1 77 1 306 1-77 1-535 1 153 1-153 1 229 1 612 1-612 1 154 1 0 1-77 1 77 1 76 1-459 1 153 1 230 1-77 1-229 1 76 1 76 1 230 1-153 1 153 1 153 1-535 1 229 1 0 1 153 1-382 1-230 1 306 1-76 1 382 1-230 1 0 1-306 1 306 1 230 1-230 1 77 1-383 1 154 1 76 1 76 1-152 1 306 1 76 1 153 1-612 1 153 1 0 1 76 1-306 1 536 1-459 1 383 1-77 1 153 1-230 1 77 1-153 1 230 1 152 1-382 1-153 1 77 1 152 1-76 1 459 1-306 1-306 1 153 1 230 1-306 1 229 1-229 1 458 1-152 1-230 1 0 1 0 1 76 1 77 1-153 1-76 1 458 1-229 1 0 1-77 1-152 1 458 1-382 1 459 1-229 1 0 1-77 1 77 1 0 1-77 1 0 1 306 1-77 1-229 1-153 1-76 1-383 1 535 1 154 1-154 1-152 1 152 1 230 1-153 1-77 1 306 1-76 1-459 1 689 1-460 1 77 1-306 1 153 1 230 1-383 1 383 1-536 1 76 1 306 1-152 1 152 1 230 1-459 1 153 1-76 1-77 1 0 1 77 1 152 1 0 1-76 1 153 1 0 1-459 1 306 1-306 1 536 1-154 1 77 1 0 1 0 1 0 1 0 1-383 1 154 1 306 1 0 1-306 1 76 1 230 1-306 1 458 1-229 1-383 1 842 1-459 1-229 1 229 1 77 1 0 1 306 1-154 1-306 1 154 1-154 1 77 1-153 1 382 1-229 1 0 1 0 1 77 1 306 1-536 1-76 1-306 1 306 1-154 1 230 1 153 1-153 1 306 1-230 1 0 1 230 1-459 1 0 1 153 1-76 1-154 1 383 1 229 1-76 1-382 1 152 1 306 1-535 1 229 1-306 1 77 1 306 1-77 1 154 1 0 1-77 1-153 1-153 1 383 1-306 1 152 1 77 1-306 1 306 1-306 1 306 1 153 1-382 1 458 1-76 1-153 1-77 1 77 1 306 1-77 1-382 1 0 1 306 1-306 1 76 1-229 1 383 1-460 1 383 1-383 1 154 1 382 1-153 1-153 1-153 1 535 1-229 1-153 1 0 1 306 1-76 1-230 1 306 1-230 1-152 1 152 1 536 1-765 1 0 1-77 1 154 1 458 1-612 1 230 1-76 1 229 1 0 1 0 1-383 1 230 1 153 1 153 1-306 1 76 1 0 1-152 1 0 1 152 1 0 1 0 1-152 1 0 1 152 1 154 1-306 1 0 1 382 1-306 1 153 1 383 1-460 1-152 1 306 1 0 1-383 1 459 1 0 1-153 1-153 1 0 1 230 1-77 1-77 1 77 1 77 1 76 1-382 1 229 1-612 1 459 1 230 1-154 1-76 1 0 1 0 1 0 1 153 1-229 1-306 1 535 1 0 1-229 1-77 1 77 1-77 1 229 1 77 1-229 1 0 1-154 1 0 1 689 1-535 1 306 1 306 1-536 1 153 1 0 1 153 1 0 1-153 1 229 1-306 1 0 1 77 1-153 1 76 1 230 1 0 1-230 1-152 1 152 1 77 1-77 1 383 1-153 1-153 1-77 1 77 1 0 1 153 1-76 1-154 1 383 1-153 1-153 1-383 1 154 1-154 1 77 1 306 1-77 1 230 1-459 1 77 1 76 1-76 1 76 1 76 1-76 1-153 1 383 1 76 1-230 1-229 1 229 1 77 1-229 1 152 1 383 1-153 1 230 1-383 1 0 1-153 1-306 1 536 1-154 1 77 1 459 1-382 1 0 1-230 1 230 1 152 1-382 1 76 1 230 1-76 1-77 1-229 1-77 1 535 1-535 1 229 1-76 1-76 1 382 1-382 1 458 1-229 1 77 1-460 1 0 1 154 1 76 1 230 1-460 1-612 1 766 1 152 1 77 1-77 1-229 1 459 1-230 1-306 1 154 1-154 1 230 1 0 1-153 1 77 1 76 1 153 1 229 1-612 1 383 1 77 1-306 1 306 1 152 1-152 1-154 1-76 1 0 1-76 1 152 1-76 1 76 1 154 1-230 1 0 1-306 1 306 1 230 1-230 1 153 1-383 1 612 1-152 1 0 1-154 1 0 1 306 1 77 1-383 1-306 1 0 1 383 1-153 1 230 1 152 1-535 1 77 1 229 1 0 1-229 1 76 1 153 1-153 1 76 1 77 1 77 1-306 1 229 1 153 1-612 1 153 1 153 1 76 1 0 1 306 1-306 1-76 1 153 1-153 1 230 1-154 1 306 1-306 1 154 1 76 1-153 1-77 1 154 1-306 1 306 1-306 1 0 1 306 1-460 1 612 1-382 1 76 1-152 1 458 1-76 1-76 1-154 1 0 1 0 1 77 1 77 1 152 1-229 1-153 1-76 1 229 1-306 1 535 1-458 1 382 1-230 1 230 1 0 1-76 1-383 1 383 1-230 1 76 1-76 1 0 1 0 1 306 1-230 1-76 1 230 1-230 1 306 1-382 1 306 1-77 1-229 1-77 1 383 1 0 1-306 1 688 1-765 1 0 1 459 1-459 1 153 1 0 1 536 1-383 1 0 1 0 1 0 1 0 1 459 1-459 1 77 1-154 1 77 1-77 1-76 1-230 1 460 1-460 1 383 1 77 1 152 1-458 1 458 1-458 1 76 1 230 1 0 1-230 1 76 1-152 1 152 1 77 1-153 1 306 1-382 1 152 1 230 1 0 1-153 1 306 1-612 1 77 1 382 1-230 1-306 1 230 1 306 1 230 1-154 1-535 1 153 1 382 1-458 1 229 1 77 1 0 1-77 1-383 1 536 1-153 1-306 1-77 1 536 1-612 1 153 1 535 1-612 1 612 1-458 1 382 1 153 1-535 1 76 1 76 1 0 1 0 1 77 1 153 1-306 1 76 1 77 1 77 1-77 1 229 1-229 1 153 1-459 1 459 1-153 1-77 1-152 1 76 1 76 1-382 1 382 1-76 1-459 1 689 1-306 1 76 1 382 1-152 1-306 1 458 1-229 1-841 1 841 1-77 1 154 1 0 1 0 1-77 1-153 1 76 1-382 1 306 1 0 1-382 1 458 1 154 1-154 1 230 1-306 1-153 1 153 1 153 1 0 1-153 1-153 1 306 1 0 1-306 1 229 1-76 1 0 1 230 1-77 1-306 1 306 1 0 1-153 1 0 1-382 1 612 1-154 1-382 1 382 1-76 1 382 1-458 1 0 1 0 1 229 1-153 1 76 1-152 1 152 1-152 1 458 1-229 1 535 1-535 1-229 1 229 1-535 1 688 1-153 1 153 1-153 1 0 1 229 1-76 1-612 1 459 1-229 1 382 1-230 1-76 1 153 1 77 1-77 1-77 1-152 1-77 1 535 1 154 1-383 1-77 1-152 1-77 1 383 1-536 1 382 1 383 1-535 1 76 1 0 1 382 1-229 1-77 1 77 1-229 1-77 1-77 1 77 1 306 1-383 1 306 1-152 1 229 1 229 1 154 1-460 1 154 1-154 1-152 1 458 1 77 1-383 1-76 1 153 1 77 1 152 1-306 1 154 1-230 1-76 1 306 1-230 1 76 1-152 1-154 1 154 1 0 1 0 1 229 1-77 1-76 1-153 1 0 1-229 1 688 1-230 1 383 1-229 1 152 1-535 1 77 1 382 1-306 1-76 1-154 1 154 1 152 1 0 1-688 1 612 1 153 1 153 1-459 1 383 1-77 1-229 1 152 1-229 1 459 1-382 1 458 1 0 1-76 1-230 1 154 1 152 1-535 1 459 1-230 1 0 1 77 1-153 1 0 1 76 1-152 1 306 1 76 1-230 1 230 1-306 1 76 1 77 1-153 1 0 1 688 1-535 1-77 1-76 1 230 1 76 1-230 1-152 1 612 1-154 1-152 1 382 1-382 1-306 1 382 1-230 1 154 1-230 1 0 1-153 1 229 1-229 1 153 1 153 1-383 1 460 1-154 1-458 1 306 1 306 1-230 1 230 1-77 1 229 1-306 1 306 1-382 1 0 1-76 1-306 1 764 1-76 1 0 1-76 1-306 1 229 1 77 1 76 1-76 1-77 1-77 1 306 1-306 1-76 1 0 1 306 1-382 1 0 1 76 1 306 1 76 1-306 1 230 1 76 1-458 1 0 1 76 1-153 1 77 1 382 1-459 1 229 1-76 1-230 1 230 1-230 1 306 1 77 1 77 1-77 1 306 1-383 1 77 1 77 1 306 1 0 1-612 1 382 1-459 1 383 1-230 1 382 1-152 1-77 1-153 1-230 1 154 1 458 1-306 1 77 1 77 1-230 1-230 1 383 1-306 1 0 1 459 1-536 1 0 1 230 1-230 1 306 1-229 1 153 1 230 1-154 1 77 1 0 1 153 1-76 1 76 1-459 1 612 1-383 1 154 1 76 1-382 1 306 1-383 1 306 1-153 1 153 1-153 1-76 1 229 1-77 1-306 1 460 1-536 1 459 1 77 1 229 1-229 1 229 1-229 1-306 1 152 1 154 1 76 1-76 1 152 1 0 1-688 1 382 1 230 1-382 1-154 1 460 1-154 1 230 1 76 1-535 1-459 1 842 1 152 1-535 1 0 1 153 1-230 1 383 1-153 1-76 1 229 1-153 1 153 1-153 1 76 1 383 1-383 1 306 1-152 1 229 1-535 1 229 1 0 1-306 1 77 1 229 1 383 1-612 1 229 1 0 1-229 1 306 1-154 1-152 1 76 1 230 1-460 1 77 1-153 1 382 1 0 1-229 1 153 1 76 1 0 1 77 1 77 1 0 1-230 1 153 1 229 1-306 1-306 1 77 1 612 1-229 1-306 1 152 1 0 1 77 1-77 1 230 1-459 1 459 1-153 1-383 1 77 1 229 1 0 1 154 1-77 1 0 1-306 1 306 1-153 1 0 1 0 1 153 1-229 1 152 1 0 1 77 1 383 1-612 1 0 1 229 1 0 1-153 1 306 1-382 1 0 1 0 1 0 1 535 1-459 1 153 1-306 1 0 1 77 1 152 1-535 1 535 1 230 1-382 1 458 1-688 1 153 1 0 1 0 1 153 1 382 1-152 1-230 1 153 1-153 1 230 1 0 1-230 1-76 1 152 1 230 1 76 1-688 1 612 1-76 1 0 1-306 1 306 1-230 1 0 1 306 1-230 1 230 1-153 1-229 1 229 1 77 1-77 1 0 1-153 1 536 1-77 1-459 1 76 1 0 1 0 1 77 1 0 1-77 1-152 1 76 1 76 1 230 1-230 1 230 1-76 1-154 1 0 1-229 1 77 1 76 1 153 1-77 1 77 1-383 1 230 1 230 1 0 1-383 1 383 1-230 1 76 1-229 1 383 1-230 1 76 1-152 1-77 1 229 1 77 1-229 1 458 1-306 1 230 1 0 1 76 1 0 1-458 1 0 1 152 1-152 1 152 1 77 1 153 1-382 1 0 1-77 1 383 1-77 1 229 1-535 1 77 1 76 1 76 1 77 1 0 1-306 1 383 1-306 1 76 1 306 1 76 1-152 1-154 1 230 1-306 1-153 1 153 1 382 1 154 1-612 1-154 1 383 1-153 1 153 1 77 1-306 1 306 1-306 1-154 1 306 1-382 1 688 1-458 1 152 1-458 1 458 1 154 1-460 1 612 1-382 1 230 1-383 1 229 1-152 1 152 1 230 1 230 1-766 1 306 1 230 1-153 1-229 1 458 1-764 1 535 1 0 1-306 1 229 1 230 1-382 1 76 1-153 1 459 1 0 1-306 1 153 1 383 1-306 1-230 1 230 1-383 1 306 1-77 1 306 1-152 1-77 1-153 1 76 1-229 1 689 1-460 1 77 1 153 1-230 1 154 1-230 1 153 1-153 1 306 1-459 1 153 1-230 1 383 1 77 1-154 1 77 1 153 1-230 1 0 1 154 1-77 1 153 1-230 1 306 1-612 1 306 1-152 1 382 1-306 1 153 1-229 1 0 1 458 1-535 1 535 1-535 1 229 1 230 1-382 1 152 1 230 1-76 1-230 1 382 1-152 1-536 1 536 1-230 1 0 1-76 1 0 1 688 1-459 1-306 1 383 1-536 1 382 1 230 1-306 1-306 1 536 1-230 1 306 1-76 1-154 1-76 1 0 1 76 1-458 1 688 1 153 1-459 1 76 1 306 1-612 1 460 1 152 1-382 1 0 1-382 1 764 1 0 1-229 1 0 1-77 1 154 1 152 1-229 1-229 1 0 1 306 1-230 1 0 1 153 1 0 1-77 1-535 1 535 1 230 1-153 1 77 1-383 1 689 1-230 1-382 1 76 1 76 1-152 1 458 1-382 1 306 1 76 1-382 1 230 1-77 1-153 1 306 1-306 1-382 1 535 1-229 1 0 1 382 1 76 1-306 1 460 1-460 1-76 1 0 1 0 1-153 1 306 1-306 1 153 1 0 1 153 1-229 1 306 1-306 1-77 1 383 1 76 1-76 1-154 1-76 1-76 1-230 1 76 1 230 1 153 1 153 1-382 1 76 1 153 1 0 1-77 1 536 1-536 1-76 1 76 1 230 1-230 1-76 1-306 1 153 1 153 1 76 1 306 1-229 1 229 1-306 1-229 1 0 1 77 1 152 1-152 1 229 1 306 1-383 1 0 1 383 1-229 1 382 1-459 1-306 1 383 1-383 1 229 1 154 1 229 1-535 1 0 1 458 1-229 1-306 1 383 1-230 1 459 1-153 1-382 1 382 1 76 1 0 1-229 1 229 1-306 1-76 1-230 1 383 1-383 1 230 1 153 1-153 1-230 1 0 1 154 1 152 1-152 1 152 1 0 1-76" fill="none" stroke="#e6161e" stroke-width="0.8" vector-effect="non-scaling-stroke" stroke-linejoin="round"/>
<rect x="381.65" y="340.00" width="196.85" height="229.50" fill="none" stroke="#666" stroke-width="0.85"/>
<path d="M381.65 531.25h6M578.50 531.25h-6M381.65 493.00h6M578.50 493.00h-6M381.65 454.75h6M578.50 454.75h-6M381.65 416.50h6M578.50 416.50h-6M381.65 378.25h6M578.50 378.25h-6" stroke="#444" stroke-width="1" fill="none"/>
<path d="M381.65 550.38h3M578.50 550.38h-3M381.65 512.12h3M578.50 512.12h-3M381.65 473.88h3M578.50 473.88h-3M381.65 435.62h3M578.50 435.62h-3M381.65 397.38h3M578.50 397.38h-3M381.65 359.12h3M578.50 359.12h-3" stroke="#666" stroke-width="0.8" fill="none"/>
<text x="378.90" y="572.70" font-size="9.6" text-anchor="end" fill="#1a1a1a">0</text>
<text x="378.90" y="534.45" font-size="9.6" text-anchor="end" fill="#1a1a1a">5</text>
<text x="378.90" y="496.20" font-size="9.6" text-anchor="end" fill="#1a1a1a">10</text>
<text x="378.90" y="457.95" font-size="9.6" text-anchor="end" fill="#1a1a1a">15</text>
<text x="378.90" y="419.70" font-size="9.6" text-anchor="end" fill="#1a1a1a">20</text>
<text x="378.90" y="381.45" font-size="9.6" text-anchor="end" fill="#1a1a1a">25</text>
<text x="378.90" y="343.20" font-size="9.6" text-anchor="end" fill="#1a1a1a">30</text>
<text x="382.00" y="580.00" font-size="9.6" text-anchor="middle" fill="#1a1a1a">0</text>
<text x="362.60" y="454.60" font-size="9" text-anchor="middle" transform="rotate(-90 362.60 454.60)" fill="#1a1a1a">Number</text>
<text x="480.10" y="316.60" font-size="13.6" text-anchor="middle" fill="#1a1a1a">Hydrogen Bonds</text>
<text x="361.00" y="295.20" font-size="14" text-anchor="start" font-weight="bold" fill="#000">D</text>
<rect x="588.1" y="356.3" width="95.9" height="29.9" fill="#fff" stroke="#555" stroke-width="0.8"/>
<path d="M591.8 364.7H598.9" stroke="#0a0a0a" stroke-width="0.9"/>
<path d="M591.8 377.9H598.9" stroke="#e6161e" stroke-width="0.9" stroke-opacity="0.6"/>
<text x="604.70" y="367.70" font-size="9.0" text-anchor="start" fill="#1a1a1a" textLength="59" lengthAdjust="spacingAndGlyphs">Hydrogen bonds</text>
<text x="604.70" y="380.80" font-size="9.0" text-anchor="start" fill="#1a1a1a" textLength="75.3" lengthAdjust="spacing">Pairs within 0.35 nm</text>
<path transform="translate(234.500 0) scale(0.05927 0.1)" d="M0 7150l1 77 1 53 1-10 1-57 1 2 1-19 1 46 1-24 1 38 1-111 1 99 1-1 1 43 1-30 1-13 1 13 1 61 1-64 1-2 1 36 1-48 1 27 1-81 1 33 1 56 1 1 1-32 1 86 1-22 1-44 1 60 1 14 1-24 1-34 1-28 1 1 1 2 1 140 1-49 1-34 1-28 1 42 1-2 1-2 1 73 1-41 1 7 1-10 1 71 1-73 1-30 1 30 1 29 1-75 1 66 1-26 1-65 1 119 1-146 1 62 1-25 1 49 1-111 1 79 1-69 1 4 1-10 1 79 1-53 1-9 1 86 1-76 1 76 1 31 1-38 1 43 1-83 1 31 1 26 1-28 1-28 1 79 1 9 1-15 1 0 1-5 1-56 1 14 1 2 1-30 1 44 1-46 1 93 1-72 1 14 1-5 1 109 1-52 1-62 1 2 1 17 1 36 1 30 1-63 1 49 1-82 1 22 1-1 1-51 1 75 1 40 1-69 1 65 1-23 1-21 1-33 1-7 1-88 1 200 1-74 1-68 1 72 1 11 1 45 1-64 1 43 1 18 1 26 1-49 1-8 1-2 1-39 1-22 1-119 1 92 1 32 1 54 1-79 1 48 1 16 1-91 1 158 1-59 1-58 1 13 1-32 1-2 1 29 1 68 1-59 1-35 1 35 1 29 1-30 1-57 1 54 1-54 1-52 1 114 1-67 1-18 1 34 1 23 1-19 1 94 1-70 1-37 1 91 1-68 1 116 1-80 1 4 1 20 1-33 1 4 1-14 1 100 1-123 1 111 1-3 1-29 1-171 1 179 1 61 1-74 1-17 1-7 1-11 1-134 1 85 1 114 1-85 1-14 1 99 1-77 1-18 1 97 1-67 1 0 1 68 1 0 1-106 1 18 1 70 1-109 1 49 1-81 1 84 1 4 1 72 1-154 1 1 1 91 1-116 1 50 1 75 1-93 1 131 1-99 1 46 1-43 1 30 1 21 1 8 1 21 1-9 1-4 1-39 1 16 1-26 1 71 1-9 1-59 1 114 1-101 1 35 1-29 1 58 1-11 1-15 1 16 1-12 1-18 1 8 1 32 1 34 1-115 1 51 1 72 1-135 1 35 1-19 1 51 1 3 1-47 1-4 1 56 1 8 1-104 1 6 1-31 1 125 1-72 1 22 1-7 1 71 1-59 1 13 1 18 1-39 1-25 1 60 1 2 1-9 1-9 1-25 1 6 1 56 1 6 1-46 1-22 1 31 1 41 1-44 1 30 1-45 1 25 1 21 1 22 1-23 1 143 1-171 1 39 1 31 1-147 1 86 1-40 1 2 1 12 1 55 1 33 1-53 1-44 1 44 1 1 1 68 1-33 1-77 1-7 1 31 1-17 1-95 1 113 1-24 1 73 1 8 1-50 1-7 1-43 1 27 1 16 1-22 1 56 1-34 1-50 1 67 1 17 1-1 1-59 1 34 1 49 1-30 1-27 1-48 1 90 1-38 1 4 1 31 1-55 1 24 1 12 1 22 1-48 1-41 1 34 1 56 1-53 1 55 1-1 1-9 1 9 1-74 1 76 1 36 1-46 1 8 1-8 1-38 1 114 1-110 1 34 1 15 1-2 1 8 1-37 1 18 1-115 1 51 1 80 1-38 1 61 1-6 1-25 1-20 1 17 1-66 1 59 1-14 1 35 1-42 1 74 1-50 1-35 1-46 1 37 1-34 1 85 1 1 1-96 1 186 1-137 1-14 1 29 1-34 1 42 1-74 1 17 1-20 1 59 1-29 1 3 1 16 1-52 1 0 1 10 1 85 1-90 1 29 1 31 1-29 1-28 1-18 1 18 1 33 1 39 1-44 1-45 1 26 1 56 1-133 1 115 1-3 1 17 1 6 1-69 1 49 1-43 1 72 1-91 1 11 1-53 1-33 1 158 1-82 1-10 1 57 1 4 1 10 1-25 1-7 1-34 1-6 1 48 1-5 1-12 1 35 1-75 1 106 1-124 1 125 1-28 1 1 1 51 1-13 1-64 1 45 1-84 1 80 1-32 1 41 1-78 1 103 1-122 1 100 1-76 1 62 1-2 1-59 1 52 1-53 1 82 1-66 1 14 1-46 1 46 1-71 1 37 1 80 1 16 1-61 1-9 1 14 1 0 1-32 1 44 1 16 1-46 1 24 1 15 1 52 1-49 1-139 1 83 1 52 1-21 1-5 1 7 1-1 1 1 1 67 1-85 1 12 1 65 1-76 1 74 1 8 1 37 1-69 1-4 1 148 1-100 1-1 1-89 1 6 1-46 1 5 1 173 1-87 1 8 1 15 1-45 1-38 1 15 1 90 1-38 1 22 1 10 1 41 1-98 1 110 1-107 1 80 1 2 1-71 1 41 1-44 1-36 1-8 1 21 1 56 1-36 1 12 1-2 1 79 1-50 1 32 1 26 1 0 1-38 1-24 1 7 1-14 1-13 1 63 1 1 1-69 1 0 1 45 1 90 1-70 1-5 1 68 1-121 1 49 1-24 1-4 1 168 1-104 1 12 1-95 1 82 1-137 1 87 1 92 1-76 1 41 1-52 1 37 1-12 1-22 1 42 1 77 1-79 1 10 1-3 1-74 1-13 1 82 1-51 1-1 1-11 1 73 1-44 1 20 1-60 1 30 1 39 1-90 1 17 1 34 1-46 1 10 1 2 1 18 1-62 1 50 1 20 1-90 1 165 1-65 1-61 1 45 1-27 1 41 1-52 1-27 1 39 1-41 1-62 1 35 1 74 1-98 1 165 1-126 1 13 1 9 1-29 1-5 1-14 1-27 1 70 1-88 1 54 1 57 1-14 1-33 1-13 1-100 1 188 1-87 1 71 1-70 1-8 1 44 1-7 1-36 1 28 1-35 1 54 1-70 1 0 1-12 1 49 1-40 1 79 1-83 1 51 1-34 1 47 1-6 1-27 1-9 1-3 1 74 1-75 1 16 1 5 1-22 1 99 1-72 1 55 1-94 1 62 1 14 1 3 1 12 1-11 1-11 1-28 1 14 1 50 1-18 1 44 1-69 1-27 1 56 1-11 1 19 1 29 1-99 1 10 1 24 1-5 1 16 1-10 1 46 1-54 1-42 1 103 1-56 1 56 1-23 1-88 1 12 1 70 1-95 1 22 1-1 1 74 1-5 1-58 1 19 1 100 1-140 1 37 1-1 1 85 1-11 1-110 1 70 1-85 1 58 1 0 1 24 1 79 1-111 1-45 1-9 1 67 1 1 1-90 1 148 1-47 1-136 1 115 1-63 1 49 1 20 1-32 1-55 1 188 1-165 1-24 1 22 1 35 1 48 1-69 1-47 1 139 1-63 1-39 1-30 1 178 1-129 1 9 1 65 1-22 1-41 1 46 1-37 1-33 1-3 1 4 1 2 1 45 1-43 1 4 1 120 1-95 1 101 1-73 1-46 1 144 1-204 1 211 1-67 1 9 1 33 1-60 1-27 1 70 1-24 1 34 1-36 1-102 1 57 1 20 1 102 1-112 1 43 1 44 1-134 1 83 1-41 1-30 1-36 1 100 1 6 1-77 1 21 1 86 1-51 1-1 1 6 1-8 1-38 1-20 1 25 1-58 1 30 1-37 1 36 1-7 1 13 1 50 1-150 1 61 1 3 1 23 1 10 1 54 1-125 1 14 1 39 1-59 1 34 1-61 1 110 1 60 1-100 1 36 1-1 1 15 1-128 1 184 1-66 1 116 1 47 1-79 1-124 1 77 1-66 1 55 1-63 1 8 1 71 1-46 1 150 1-183 1 74 1 24 1-51 1 24 1-40 1 71 1-31 1 18 1 18 1-96 1 155 1-32 1-107 1 146 1-95 1 59 1-9 1 16 1-21 1-45 1-8 1-22 1 99 1-47 1 10 1-45 1 125 1-77 1 39 1-87 1 104 1-119 1 14 1 108 1-83 1 38 1-34 1-47 1 77 1 9 1-10 1 19 1-57 1-9 1 29 1 61 1-75 1 39 1-41 1 66 1 27 1-99 1 33 1-15 1 34 1-111 1 93 1-41 1-10 1-54 1 83 1 82 1-66 1-68 1 93 1 30 1-29 1-36 1 99 1-112 1 18 1-21 1 60 1-14 1-65 1-23 1 78 1-41 1 17 1 32 1 20 1-138 1 98 1-52 1-26 1 115 1-101 1 58 1-43 1 14 1-11 1-23 1 58 1 74 1-101 1-9 1-6 1 17 1-70 1 2 1 26 1 68 1 90 1-197 1 77 1-3 1 21 1 43 1-53 1-56 1 6 1 81 1-97 1 50 1 39 1-22 1-40 1 44 1 107 1-213 1 118 1-48 1-16 1 19 1 40 1-70 1 9 1 64 1-102 1 67 1-64 1 86 1 49 1-53 1 39 1-36 1-20 1 9 1-33 1 3 1 44 1-30 1 35 1-63 1 115 1-23 1-15 1-29 1 10 1-7 1 37 1 28 1-107 1 74 1-74 1 26 1 2 1 3 1 21 1 177 1-265 1 15 1 83 1 12 1-143 1 53 1 72 1 30 1-14 1 18 1-30 1-44 1 26 1 88 1-82 1 30 1 16 1-43 1 29 1-63 1 8 1-16 1 167 1-108 1 9 1 22 1-56 1-27 1-74 1 95 1 7 1 73 1-119 1-33 1 107 1-3 1-109 1 78 1-44 1 76 1-80 1 12 1 69 1 67 1-64 1 37 1-20 1-44 1 21 1-9 1 16 1-99 1 98 1-59 1-8 1 34 1 50 1-25 1-56 1-35 1 147 1-32 1 5 1-101 1 118 1-51 1 107 1-57 1-11 1 38 1-20 1-44 1-14 1 38 1-77 1 96 1-125 1 81 1 63 1-79 1 47 1 24 1-48 1-92 1 23 1 44 1-14 1 18 1 7 1-48 1 74 1 18 1 2 1 51 1-118 1 63 1 3 1-18 1 28 1-58 1 25 1 77 1 13 1-86 1-8 1-18 1 32 1 16 1-79 1 27 1 35 1-75 1 17 1-49 1 14 1 10 1 2 1 35 1 56 1-76 1 101 1-38 1-62 1 54 1-45 1 74 1-11 1-50 1-39 1 144 1-112 1 57 1 45 1-30 1-77 1 25 1-5 1-42 1 88 1-28 1 18 1-110 1 98 1 31 1-101 1 22 1 112 1-54 1-4 1-64 1 33 1-28 1-22 1 119 1 1 1-60 1 6 1-5 1 29 1-34 1-23 1 29 1 9 1-24 1-146 1 188 1-24 1-60 1 93 1-35 1-13 1 65 1-15 1 29 1-128 1 22 1 5 1 36 1-52 1-32 1 78 1-92 1-15 1 62 1 8 1 68 1-45 1 4 1-29 1 72 1-5 1 30 1-78 1 54 1-21 1-51 1 41 1 7 1 4 1-9 1 38 1-3 1-46 1 14 1 15 1-38 1-22 1 71 1 16 1-7 1-61 1 62 1-156 1 42 1 128 1-20 1-49 1 30 1-83 1 101 1 76 1-48 1-56 1 118 1-109 1 61 1-8 1-31 1 14 1-46 1 12 1 23 1 4 1-63 1 88 1-24 1 42 1-88 1-6 1 74 1-37 1-15 1 34 1 30 1-68 1 25 1 10 1-86 1 82 1 23 1-32 1-92 1 21 1 127 1-84 1 20 1-12 1 31 1 17 1-28 1 5 1-40 1 84 1-71 1-77 1 59 1 62 1-29 1 50 1 55 1-185 1 111 1-52 1 93 1-6 1-103 1 64 1-105 1 50 1 99 1-3 1-117 1 112 1-18 1-107 1 103 1-35 1 91 1-65 1 54 1-60 1-11 1-6 1-29 1-16 1 105 1-55 1 8 1 24 1-13 1-48 1 18 1 65 1-88 1 42 1-54 1-11 1 61 1-91 1 60 1 23 1-7 1-12 1-48 1 32 1 77 1-181 1 112 1-60 1 34 1-38 1 68 1-77 1 20 1 79 1-106 1 42 1 5 1-2 1 30 1 12 1-21 1-95 1 71 1 69 1 35 1-98 1 78 1-59 1-13 1-37 1 85 1 47 1-110 1 107 1-95 1 39 1-1 1-28 1-1 1-9 1 62 1-128 1 99 1 15 1-20 1 17 1 7 1-38 1 51 1-124 1 70 1 22 1 42 1-50 1 63 1-66 1 53 1-35 1-48 1 55 1-117 1 38 1 61 1-36 1 41 1-36 1 42 1 38 1-26 1 92 1-45 1-49 1 125 1-114 1-26 1 16 1-10 1 47 1 1 1 115 1-81 1-56 1-20 1-1 1-40 1-41 1 55 1-40 1 57 1-4 1 5 1-48 1 98 1 62 1-76 1-92 1 5 1 59 1 15 1-74 1 9 1 34 1 27 1-119 1 129 1 8 1-76 1 31 1-22 1 19 1 12 1-133 1 55 1 36 1 20 1-50 1 44 1 55 1-40 1 20 1-136 1 208 1-41 1-71 1 39 1-47 1-33 1 4 1 37 1-10 1 59 1-112 1 60 1-64 1 2 1 53 1 46 1-85 1 108 1-93 1-12 1 27 1-22 1 100 1-66 1 7 1 64 1-85 1 55 1-11 1-3 1-10 1 0 1 16 1-32 1 19 1 0 1 85 1-90 1 53 1-41 1-23 1 118 1-52 1-14 1-6 1-21 1 35 1 20 1-69 1 60 1-70 1 57 1 0 1 32 1-55 1 4 1-5 1 2 1-24 1-27 1-10 1 127 1-96 1 9 1-5 1-57 1 50 1 8 1 2 1 8 1 96 1-123 1-22 1-27 1-32 1 86 1-21 1 27 1 4 1-76 1 43 1 67 1 3 1-42 1 29 1-7 1 59 1-86 1-6 1 92 1 16 1-50 1-46 1 44 1-36 1 1 1-32 1 50 1-30 1 19 1-9 1 82 1-105 1 39 1 99 1-179 1 49 1-84 1 49 1 85 1-35 1 23 1 14 1-10 1 91 1-122 1-38 1 52 1 55 1-129 1 67 1 3 1-18 1 7 1-8 1 61 1-57 1-14 1 7 1 44 1-54 1 51 1-78 1 76 1-31 1 14 1-19 1-44 1 81 1-97 1 38 1 57 1-36 1-39 1 44 1-37 1-32 1-29 1 110 1-12 1 31 1-3 1-5 1-8 1 40 1 48 1-51 1 17 1-59 1-140 1 131 1 63 1-23 1-28 1-58 1 51 1 0 1 55 1-28 1-75 1 46 1 10 1-1 1-79 1 81 1 15 1-47 1 21 1 50 1-54 1 19 1-28 1-10 1 30 1-80 1 88 1-83 1-11 1 132 1-94 1-8 1-8 1 74 1-64 1-15 1 43 1 0 1-61 1 89 1-76 1-25 1-5 1 72 1-16 1-19 1-23 1-22 1 92 1-80 1 11 1 30 1-54 1 14 1-24 1-76 1 187 1-149 1 109 1-31 1 62 1-78 1 95 1 8 1 30 1-123 1 51 1-18 1 73 1-41 1-75 1 19 1 10 1 41 1-35 1-1 1-60 1 22 1-19 1 55 1 32 1-59 1 69 1-3 1-96 1 65 1-10 1 31 1-32 1 6 1-26 1 29 1 31 1-104 1 13 1 22 1 66 1 45 1-106 1 34 1-9 1 66 1-89 1 28 1-2 1 58 1-13 1-40 1 13 1 21 1-137 1 72 1 73 1-105 1 7 1 90 1 17 1-85 1 2 1 71 1-73 1-11 1 38 1 63 1-29 1 23 1-11 1-63 1 7 1 46 1 10 1-101 1-50 1 150 1 22 1-58 1 45 1-4 1-24 1-8 1-51 1 64 1-102 1 18 1 73 1 66 1-56 1-1 1-87 1 115 1-66 1 40 1-72 1 28 1 24 1 0 1-11 1 29 1 14 1-28 1-10 1-1 1-133 1 103 1-22 1-13 1-11 1 89 1-2 1 25 1 41 1-67 1-4 1-18 1 40 1-30 1 25 1 49 1-41 1-47 1 36 1 6 1-61 1 40 1 0 1 60 1-117 1 119 1-73 1-22 1 98 1-105 1 53 1 45 1-4 1 7 1-101 1 40 1-83 1 123 1-74 1 63 1-12 1-44 1-15 1 5 1-4 1 59 1 43 1-89 1 47 1-44 1 32 1 3 1 20 1 10 1 3 1-8 1-16 1 0 1-42 1-9 1-42 1 183 1-42 1-33 1-8 1 39 1-3 1-2 1-107 1 94 1-17 1 37 1-90 1-38 1 59 1-123 1 58 1 76 1 87 1-123 1-30 1 57 1 43 1-15 1-16 1-41 1 51 1-32 1-4 1 2 1-20 1 9 1 25 1-3 1-22 1 39 1-9 1 74 1-37 1-9 1-66 1 19 1 60 1-32 1-56 1 53 1-12 1 42 1 34 1-94 1 14 1 88 1-37 1-53 1 57 1-88 1 33 1-21 1 3 1 47 1 35 1-61 1 9 1 5 1 23 1-86 1 93 1-46 1 25 1 43 1-96 1 26 1 54 1-13 1 49 1-30 1-37 1 86 1-18 1-75 1 17 1 39 1-57 1 8 1 23 1 72 1-47 1-3 1-95 1 35 1-22 1 59 1-49 1 76 1 11 1 17 1-109 1 26 1 75 1 15 1-14 1-92 1 67 1-148 1 128 1 74 1 2 1-94 1 58 1-31 1 10 1-64 1 70 1-34 1 46 1-5 1-57 1 89 1-53 1-63 1 32 1-57 1 134 1-83 1 30 1-37 1-7 1-2 1-67 1 137 1-19 1 31 1-74 1 31 1 3 1-22 1-69 1 67 1-32 1-18 1 58 1-69 1 56 1-43 1-42 1 117 1-64 1 57 1-39 1 12 1 33 1-123 1 32 1 51 1-11 1 58 1-53 1 22 1-22 1-29 1 21 1 64 1 8 1-80 1 77 1-74 1-5 1-36 1 63 1 0 1-78 1 121 1-93 1 42 1 42 1-82 1 15 1 52 1-13 1-60 1 84 1-20 1-51 1-22 1 42 1 15 1-91 1 48 1 18 1 24 1-55 1 65 1-133 1 77 1-43 1 105 1-61 1-8 1 76 1 70 1-160 1 82 1 33 1-90 1 99 1-3 1-108 1 101 1-27 1 37 1-44 1 44 1-36 1-22 1-36 1 77 1-70 1 47 1 14 1 43 1-87 1 3 1 11 1 30 1-2 1 38 1-67 1-41 1 73 1 0 1-38 1 3 1-32 1 1 1 1 1 16 1 12 1-38 1 134 1-184 1 81 1 40 1 23 1-49 1 27 1-51 1-19 1-7 1 17 1 28 1 36 1-70 1 9 1-3 1 3 1 61 1-49 1 66 1-51 1-71 1 65 1-9 1-52 1 170 1-129 1 86 1-41 1-71 1-16 1 48 1-12 1-100 1 148 1-22 1 65 1-85 1 149 1-142 1 59 1 12 1 60 1-36 1-6 1-10 1-55 1 31 1-21 1 33 1-17 1 16 1-21 1 55 1-78 1 13 1-19 1 42 1-63 1 116 1-64 1-35 1 17 1 94 1-50 1-15 1 17 1 18 1-52 1-22 1 59 1-75 1 39 1-68 1 43 1 58 1-35 1-25 1 1 1 75 1-53 1-18 1 102 1 22 1-114 1 24 1 18 1 34 1-4 1-92 1-32 1 66 1-76 1 129 1-91 1 18 1-25 1-31 1-61 1 93 1-18 1 50 1-19 1-84 1 81 1 17 1-28 1 33 1-73 1 71 1-82 1 64 1-103 1 93 1-60 1-6 1 78 1-31 1-6 1 84 1-130 1 51 1 6 1 34 1-6 1-41 1-70 1 124 1-19 1-16 1-24 1 30 1 29 1-21 1-76 1 105 1-68 1-15 1 79 1-24 1 8 1-38 1 54 1-18 1-18 1-6 1 48 1-37 1-59 1 1 1 87 1-53 1-105 1 172 1-136 1 26 1 19 1 15 1 40 1-114 1 110 1-5 1-33 1-51 1 126 1-25 1-11 1 12 1-116 1 104 1 30 1-39 1-2 1-1 1 52 1-97 1-3 1-38 1 32 1-58 1 165 1-69 1 5 1-11 1 27 1 57 1-93 1 73 1-32 1-40 1-8 1 110 1-75 1 43 1-57 1 42 1 48 1-16 1 3 1 12 1-84 1 40 1-60 1 72 1-64 1-16 1 75 1 6 1-109 1 64 1 57 1-64 1-13 1 22 1 122 1-188 1 59 1 83 1-100 1 2 1 3 1 90 1-162 1 2 1 139 1-45 1 106 1-118 1-43 1 20 1-18 1 94 1-73 1 23 1-53 1 48 1 86 1-119 1-11 1 12 1-12 1 25 1-34 1 14 1 104 1-65 1-17 1 31 1 33 1-1 1-27 1 2 1 56 1-39 1-105 1 123 1-89 1 85 1-105 1 22 1 69 1-47 1 55 1-36 1-89 1 66 1 116 1-44 1-64 1 65 1-77 1 44 1 42 1-61 1-14 1 38 1-56 1 83 1-60 1-72 1 81 1-45 1 4 1 68 1-32 1 118 1-134 1-15 1-27 1 69 1 53 1-33 1-14 1 21 1 19 1-58 1-42 1 35 1 49 1 30 1 4 1-19 1 66 1-112 1 57 1-8 1 72 1-113 1 116 1-87 1-24 1-62 1 147 1-8 1-41 1 12 1 76 1-20 1 12 1-109 1 77 1-46 1 53 1-8 1-67 1-4 1-20 1 15 1 61 1-101 1 64 1-18 1 6 1 26 1-18 1-24 1 57 1-119 1 128 1-76 1 116 1-87 1-56 1-24 1 2 1 102 1-92 1 87 1-47 1 25 1 4 1 3 1-84 1-28 1 73 1-67 1 77 1-47 1-36 1 50 1-131 1 143 1 9 1-32 1 48 1-102 1 61 1-44 1 66 1-38 1-91 1 122 1-40 1 46 1-21 1 57 1-31 1 3 1-47 1 8 1-4 1 12 1 90 1-86 1 22 1-1 1 91 1-78 1-17 1-13 1-20 1-8 1 64 1-29 1-94 1 66 1-8 1-49 1 68 1-26 1-6 1 19 1 36 1-38 1 11 1 7 1-5 1 54 1-81 1 55 1-123 1 111 1-37 1 129 1-134 1 85 1 36 1 83 1-121 1 96 1-104 1 11 1-63 1 97 1 0 1 75 1-198 1 147 1 7 1-97 1 21 1 9 1-67 1 41 1 11 1 53 1-91 1 35 1 11 1 44 1 39 1-134 1 115 1-47 1-60 1 31 1-20 1-28 1 73 1-63 1-3 1 107 1-59 1-2 1 29 1-48 1-24 1 62 1-7 1 14 1-20 1-6 1 0 1 12 1-45 1-23 1 72 1-12 1 69 1-58 1 2 1-9 1 77 1-121 1 13 1 11 1-45 1-81 1 61 1 88 1-41 1 60 1-97 1 98 1-25 1 32 1-101 1 77 1-26 1-20 1-55 1 56 1 68 1-21 1-6 1 60 1 27 1-23 1-65 1-26 1 137 1-74 1 2 1 115 1-34 1-37 1-48 1 14 1-13 1-96 1 123 1-31 1-15 1 35 1-7 1 8 1-53 1 22 1 61 1-52 1-29 1 15 1 24 1 36 1-52 1-70 1 92 1-10 1-10 1-27 1 4 1-3 1-63 1 122 1-100 1 35 1 31 1-11 1-35 1 70 1-15 1 93 1-4 1-168 1 76 1 15 1-7 1-9 1 22 1 59 1-101 1 31 1 24 1-12 1-36 1-46 1 55 1-19 1 63 1-85 1 58 1-63 1 6 1 72 1 43 1-65 1 2 1-27 1-30 1 24 1 26 1-38 1-76 1 41 1-64 1 47 1 34 1 14 1-2 1-16 1 8 1 50 1-2 1-13 1-18 1-2 1-59 1 104 1-49 1-28 1 45 1-100 1 58 1 94 1-73 1 94 1-50 1-43 1-17 1-27 1 32 1-16 1 95 1-60 1-19 1 35 1-65 1 35 1 49 1-62 1-68 1 60 1 2 1-8 1 44 1-27 1 15 1 36 1-51 1-77 1 123 1-30 1 53 1-37 1-37 1 33 1 4 1-18 1 60 1-46 1 33 1 76 1-142 1 123 1-38 1-48 1 75 1 26 1-120 1 35 1 14 1-37 1-26 1 80 1 75 1-48 1 75 1-83 1 0 1-91 1 87 1 12 1-62 1-35 1 6 1 30 1-27 1 86 1-48 1-2 1 77 1-102 1 123 1-35 1-97 1 64 1 28 1-143 1 39 1 100 1-153 1 34 1 80 1-30 1 13 1 27 1-79 1 57 1-25 1-10 1 23 1 17 1-117 1 91 1 8 1-59 1 78 1-57 1-19 1 39 1-101 1 240 1-161 1-70 1 11 1 85 1-25 1 10 1 64 1-104 1 58 1 22 1 64 1-74 1 81 1-66 1 8 1-18 1 90 1-16 1-77 1 17 1-52 1 46 1-104 1-7 1 89 1 29 1-69 1 27 1 57 1 1 1-100 1 72 1 70 1-142 1-97 1 155 1 74 1-87 1 19 1 66 1 45 1-78 1-36 1 88 1-213 1 113 1 45 1-26 1-28 1 70 1 6 1-96 1-41 1 59 1 97 1-79 1 17 1 20 1-18 1 45 1-34 1-59 1 74 1 36 1-7 1-50 1-101 1 101 1-92 1 108 1 16 1-33 1 40 1-102 1-20 1 15 1 132 1-121 1 0 1 17 1 57 1-60 1-62 1 50 1 78 1-69 1 55 1 28 1-61 1-18 1-3 1 5 1 10 1-17 1 6 1-7 1 18 1-7 1 41 1-79 1 49 1-12 1 92 1-74 1 26 1 20 1-2 1-51 1 73 1-117 1 48 1 47 1-71 1 94 1-65 1-27 1 70 1 64 1-68 1 55 1 5 1-59 1-68 1 60 1 61 1-146 1 54 1-31 1 15 1-33 1 29 1 26 1 86 1-87 1-24 1 10 1-62 1 59 1 61 1 3 1-14 1 15 1-62 1 41 1 143 1-158 1-20 1 41 1 3 1 19 1 30 1-34 1 35 1-99 1-23 1 46 1 71 1-128 1 83 1-62 1 46 1-39 1 68 1 15 1-82 1 2 1 40 1-91 1 98 1-72 1 20 1 6 1 59 1 19 1-111 1 34 1 91 1-113 1 85 1-6 1 29 1-211 1 140 1 31 1 138 1-57 1-32 1-28 1-36 1-9 1 72 1-34 1 10 1-50 1-73 1 21 1 57 1 51 1 3 1-54 1 55 1 6 1 25 1-75 1 12 1-58 1-56 1 15 1 82 1 75 1-38 1-63 1 72 1-75 1 118 1-70 1 26 1-28 1-2 1-40 1-66 1 101 1-82 1 64 1-30 1 82 1-52 1 22 1 40 1-132 1 119 1 55 1-246 1 116 1 40 1-70 1 66 1 47 1-76 1-6 1 42 1-56 1 10 1 19 1-11 1 21 1 32 1-29 1 50 1-105 1 54 1-16 1 37 1-9 1-27 1-65 1 22 1 99 1-71 1 109 1-74 1-67 1 31 1 40 1-10 1-32 1 71 1-65 1 59 1 44 1-125 1 147 1-101 1 14 1-22 1 15 1-52 1 131 1-123 1 17 1-16 1 46 1-34 1 38 1-65 1 40 1 2 1 98 1-135 1 59 1-19 1 28 1 26 1-41 1-72 1 45 1-31 1 49 1-49 1 38 1 36 1-50 1 30 1-131 1 105 1 40 1-95 1 120 1-25 1-71 1 10 1-100 1 158 1 65 1-75 1 33 1 9 1-63 1 70 1-53 1 89 1-49 1-54 1 45 1 15 1 13 1 21 1-37 1-26 1-83 1 71 1-2 1 24 1-34 1 41 1-42 1 69 1-58 1-46 1 61 1-42 1 44 1-25 1-86 1 124 1-50 1 68 1 13 1 75 1-173 1 66 1 59 1-85 1-20 1 64 1-46 1-29 1 42 1 22 1 10 1 52 1-110 1 2 1-14 1-85 1 113 1 2 1 10 1-65 1 70 1-12 1-49 1 29 1 66 1-98 1 67 1 3 1-20 1 4 1-116 1 95 1 74 1-108 1 142 1-53 1-44 1 35 1-40 1-18 1-9 1-18 1 59 1 121 1-128 1 11 1 40 1-94 1-9 1 75 1-22 1 67 1-48 1-6 1-34 1 10 1 8 1-33 1 65 1-40 1 37 1 41 1-11 1-97 1-41 1 100 1 12 1-88 1 122 1-107 1 64 1-76 1 96 1 3 1-48 1 27 1-32 1 15 1 14 1 21 1 34 1-23 1-3 1-38 1-7 1-47 1 130 1-109 1 28 1 56 1-91 1 66 1-26 1 26 1-75 1 20 1 68 1-54 1-19 1 30 1 1 1-11 1 13 1 25 1 36 1-64 1 70 1 14 1-63 1-120 1 128 1 51 1-168 1 72 1 62 1-34 1-17 1-58 1 27 1-25 1 102 1-62 1 29 1-38 1 48 1-33 1 29 1-81 1 100 1-1 1-59 1-12 1 26 1-54 1 56 1 167 1-115 1 74 1-109 1 116 1-142 1 42 1-31 1 28 1 43 1-8 1 34 1-41 1-17 1 41 1-120 1 153 1-130 1 41 1 46 1 9 1-42 1 0 1-46 1 56 1-45 1-54 1 73 1-7 1 57 1-24 1-60 1-2 1 29 1-19 1-38 1 144 1-48 1-78 1 70 1-4 1 140 1-53 1-122 1 11 1-13 1-27 1 28 1 46 1-12 1-9 1 48 1 31 1-155 1 46 1 25 1 19 1-33 1 11 1 41 1-16 1-101 1 74 1 17 1-116 1 137 1-85 1 28 1 8 1 106 1-159 1 46 1 48 1-8 1-39 1 13 1 13 1-140 1 121 1-24 1 56 1 40 1-36 1-76 1 50 1-3 1 59 1-80 1-27 1 55 1 6 1-111 1 64 1-122 1 111 1-1 1-34 1 51 1-34 1 12 1-22 1-29 1 3 1 30 1 0 1 28 1-12 1-11 1 36 1-33 1-11 1 67 1-94 1 68 1-41 1 16 1 39 1 52 1-35 1 23 1-6 1 2 1-66 1-6 1-10 1-13 1 37 1 129 1-128 1 34 1-60 1 70 1-88 1 40 1-31 1 77 1-31 1-84 1 102 1 39 1-57 1-25 1 66 1-50 1-17 1 25 1 69 1-54 1 26 1-37 1-70 1 133 1-64 1-22 1 17 1-24 1 10 1 14 1-39 1 38 1-18 1-36 1 40 1 20 1-8 1 0 1-36 1 3 1-48 1 70 1 12 1-45 1 81 1 82 1-98 1-35 1-32 1-22 1 29 1-23 1 67 1-30 1 55 1-11 1-56 1-76 1 116 1 22 1-33 1 2 1-58 1 31 1 17 1 36 1-45 1-42 1 77 1-56 1 20 1-23 1 37 1-24 1-56 1 50 1 66 1-140 1 45 1 13 1 25 1 27 1-18 1-107 1 58 1 57 1-34 1-56 1 72 1 4 1-63 1 92 1-23 1-40 1-20 1 87 1 59 1-129 1-31 1 9 1 102 1-28 1-45 1 19 1 55 1-84 1 108 1-52 1-43 1-11 1 47 1-7 1 48 1 2 1-12 1-40 1 41 1-42 1-8 1 10 1 0 1-25 1 20 1 14 1-87 1 37 1 88 1-165 1 75 1 52 1 24 1 6 1-10 1-110 1 49" fill="none" stroke="#0a0a0a" stroke-width="0.7" vector-effect="non-scaling-stroke" stroke-linejoin="round"/>
<path transform="translate(234.500 0) scale(0.05927 0.1)" d="M0 8493l1-21 1-19 1 46 1 0 1 10 1 3 1-57 1 62 1-11 1-38 1 1 1 33 1 40 1-73 1 26 1 21 1-64 1 38 1-2 1-8 1 7 1 15 1-14 1-23 1 46 1-41 1 15 1 29 1-38 1 30 1-15 1-41 1 49 1-23 1 20 1 8 1-23 1 21 1-74 1 55 1-5 1-17 1-32 1 40 1 17 1 14 1 44 1-22 1 34 1-34 1 18 1-5 1-50 1 32 1 8 1 25 1-44 1-53 1 39 1 47 1-26 1-2 1 39 1 19 1-11 1-6 1-27 1-14 1 6 1 15 1-6 1 71 1-60 1-19 1 40 1 23 1 5 1-87 1 29 1-18 1-6 1 65 1-51 1 1 1-4 1 1 1 35 1-30 1 22 1-30 1 33 1-43 1-40 1 64 1 23 1 21 1-20 1 4 1-29 1-6 1 52 1-7 1 22 1 1 1-49 1 74 1-20 1-38 1 21 1-10 1 16 1-58 1-11 1 19 1 4 1 9 1 14 1-31 1-64 1 72 1-22 1 31 1 22 1-18 1-1 1-21 1-31 1-23 1 65 1-13 1 3 1-18 1 10 1-28 1 41 1-36 1 21 1 6 1 5 1-1 1-18 1 28 1 1 1 8 1-23 1 0 1 51 1 0 1-70 1 64 1-29 1 17 1-41 1-21 1 23 1 17 1 14 1-64 1 11 1 72 1-30 1 48 1-35 1-37 1 40 1-39 1 36 1 33 1-119 1 64 1 36 1-26 1 6 1-90 1 69 1 38 1-37 1-13 1-9 1 35 1-27 1 37 1 17 1-26 1-49 1 12 1-45 1 65 1-6 1-29 1 34 1-6 1 19 1 24 1-39 1 22 1-11 1 25 1-22 1-54 1-24 1 54 1-37 1 18 1 4 1 14 1 16 1-1 1 9 1-10 1-28 1 71 1-37 1 40 1 11 1-37 1 20 1-49 1 46 1-9 1-18 1-38 1 78 1-70 1 54 1-37 1 20 1-21 1 37 1-12 1-61 1 38 1-4 1 19 1 12 1-35 1 50 1-35 1-14 1 31 1 1 1-31 1 18 1-12 1-3 1-1 1-20 1-10 1-12 1-28 1 123 1-53 1-19 1-1 1-20 1 43 1-36 1 22 1 16 1-38 1 38 1-3 1 3 1-23 1 51 1-25 1 10 1 95 1-86 1-69 1 81 1-33 1-5 1 48 1-35 1 28 1 0 1-12 1-13 1 35 1-13 1 32 1-48 1-40 1 12 1-66 1 72 1 41 1-30 1-5 1 55 1-60 1 31 1-27 1 30 1-31 1 79 1-85 1 61 1-66 1 19 1-6 1-40 1 34 1 16 1-10 1-21 1 45 1-68 1 6 1 65 1-13 1-59 1 47 1-8 1-28 1 48 1 25 1-36 1-21 1-16 1 22 1-47 1 27 1 58 1 6 1-9 1 1 1 30 1-36 1 23 1-60 1 67 1-31 1-57 1 44 1 5 1-23 1 2 1-16 1 33 1-38 1 48 1 18 1-61 1 25 1 20 1 43 1-50 1 1 1 14 1 1 1 18 1-3 1-25 1 9 1-18 1-14 1 57 1 64 1-89 1 11 1-33 1 15 1-3 1-24 1 0 1-32 1 60 1 41 1-18 1-70 1 83 1-61 1 56 1 9 1-67 1 47 1 12 1-57 1 39 1 3 1-38 1 0 1-11 1 17 1 14 1 25 1-64 1 55 1-8 1 12 1-25 1-69 1 87 1 7 1-34 1-4 1 29 1 2 1 12 1-23 1 2 1 5 1-20 1 25 1 11 1-42 1 1 1 26 1 39 1-10 1-32 1-13 1-8 1 14 1 11 1 0 1-34 1-21 1 70 1-30 1-29 1 55 1-25 1 2 1 22 1-55 1 45 1 54 1-60 1 5 1 14 1-24 1-21 1 53 1-63 1 60 1-60 1 33 1-51 1 19 1-3 1 24 1-18 1-3 1 4 1-22 1 16 1-3 1 45 1 32 1-58 1 44 1-47 1 16 1-43 1 71 1-14 1-17 1-24 1 13 1-22 1 53 1-54 1 16 1 58 1-91 1 20 1 38 1-16 1 16 1-101 1 120 1-43 1-28 1 51 1-33 1 18 1 3 1-56 1 61 1 24 1-39 1-36 1 33 1 35 1-32 1 16 1 20 1-13 1-4 1 16 1-1 1 18 1-90 1 52 1-10 1-12 1 11 1 23 1-2 1-19 1-7 1 15 1-34 1 24 1 20 1-20 1 29 1-33 1 27 1-34 1 10 1-17 1 29 1-2 1 5 1-21 1 18 1 30 1-50 1 12 1 55 1-31 1 58 1-44 1 6 1-15 1 12 1 7 1 12 1 13 1-78 1 42 1 2 1 5 1-23 1 38 1-38 1 12 1 24 1-50 1-16 1-20 1 39 1-11 1 48 1-37 1-40 1 63 1-31 1 2 1-1 1 17 1 33 1-26 1-21 1 15 1-15 1 19 1-5 1-7 1-46 1 63 1 10 1-17 1 0 1-48 1 3 1 66 1 29 1-50 1-4 1 11 1 2 1 13 1-35 1 22 1 2 1-1 1 62 1-79 1-1 1 3 1-12 1 3 1-21 1 19 1-18 1-20 1 21 1 8 1 13 1-13 1-1 1 49 1-41 1 25 1 22 1-21 1-4 1-12 1-16 1 22 1 38 1-43 1-12 1 15 1-39 1 72 1-37 1-66 1 18 1 53 1 13 1-12 1-26 1 27 1 2 1 9 1-22 1-7 1-35 1 36 1-35 1 52 1-16 1 24 1-27 1 13 1-16 1-4 1 5 1 0 1 25 1-1 1-39 1-16 1 10 1-8 1 3 1 12 1 7 1-20 1 18 1 24 1 2 1-14 1 38 1-88 1 31 1 41 1 14 1-54 1 2 1-27 1 45 1-50 1-9 1 25 1-22 1-10 1 65 1-17 1 5 1-25 1 17 1 22 1-48 1 52 1-18 1-6 1 7 1 50 1-63 1 60 1-88 1 23 1 28 1 17 1-27 1-11 1-5 1 36 1 45 1-10 1-55 1 24 1-7 1-10 1-32 1 118 1-63 1-39 1 46 1-1 1-55 1 54 1-47 1 10 1 96 1-61 1 7 1-9 1-1 1 23 1-64 1 71 1-35 1-11 1 2 1 10 1-28 1 61 1-92 1 70 1-85 1 80 1-6 1 6 1-31 1 92 1-40 1-26 1 30 1-81 1 69 1 4 1-11 1-35 1 16 1-28 1 9 1-3 1-7 1-7 1 68 1-61 1-18 1 15 1-31 1 64 1 17 1-16 1-13 1 4 1-55 1 51 1 27 1-8 1 39 1-58 1-28 1 67 1-81 1 7 1 25 1-11 1 47 1-11 1 16 1-72 1 66 1-4 1 7 1 16 1-33 1-26 1 18 1 5 1-13 1 53 1-48 1 19 1-30 1-2 1 1 1 43 1-24 1-3 1-7 1 16 1-48 1 43 1-9 1-30 1 12 1-9 1 9 1 50 1-12 1-44 1 28 1-5 1 18 1-26 1 10 1 36 1-49 1-39 1 5 1 25 1 20 1-18 1-4 1-7 1 15 1-11 1 47 1-2 1-28 1 17 1-72 1 50 1-22 1-6 1-2 1 33 1-22 1-12 1 43 1-8 1 15 1 11 1 8 1-38 1 33 1-16 1 25 1-15 1-11 1 14 1-23 1-2 1 19 1 17 1-78 1 29 1-14 1 42 1 18 1-14 1-10 1-57 1 24 1 37 1-34 1-29 1-7 1 19 1 4 1 31 1-26 1 23 1-28 1 16 1-13 1 39 1-38 1 9 1-31 1 26 1 28 1-28 1 32 1-43 1 7 1-11 1-45 1 56 1 21 1-17 1 8 1 6 1 4 1 26 1 15 1-61 1-4 1 38 1-28 1 20 1-1 1 14 1-33 1 19 1 7 1-41 1 42 1-70 1 77 1-32 1 11 1 17 1-8 1 6 1 22 1-26 1 12 1-55 1 54 1-7 1 11 1-24 1 16 1-77 1 54 1-21 1 66 1-12 1-27 1-25 1 40 1-50 1 35 1 6 1 23 1 21 1-34 1-45 1 37 1 3 1-38 1 54 1-91 1 74 1-52 1 49 1 3 1-23 1-3 1-16 1 19 1-32 1 31 1 13 1-37 1 29 1-5 1-17 1-47 1 53 1 30 1-7 1 1 1-8 1-27 1 34 1 2 1 16 1-27 1 29 1 26 1-35 1-41 1 12 1 49 1 17 1-33 1-20 1-7 1-19 1 42 1-4 1-12 1 1 1 22 1-80 1 83 1-70 1 91 1-65 1-14 1 18 1-6 1-11 1 5 1 38 1-72 1 69 1-38 1-4 1 34 1 12 1-25 1 5 1-23 1 13 1 38 1-5 1 6 1 52 1-17 1-37 1 6 1 25 1-64 1 39 1-14 1 6 1 5 1 0 1 24 1-35 1 17 1-14 1 9 1-8 1 26 1-8 1-10 1 12 1-15 1 28 1-31 1-28 1 57 1-40 1 34 1-31 1-18 1 42 1-13 1 6 1 19 1-4 1 21 1-72 1 49 1 7 1-45 1 36 1 30 1-49 1-26 1 17 1 36 1-33 1-24 1 32 1 10 1-19 1-35 1 67 1-42 1-10 1 18 1 13 1-2 1-20 1-8 1 21 1-30 1 20 1 3 1 4 1 27 1-16 1 10 1-8 1 22 1-38 1 3 1-5 1 19 1-13 1-39 1 49 1 2 1 15 1-1 1-62 1 55 1-21 1 19 1-50 1 49 1-33 1 24 1-21 1 0 1-23 1 52 1 23 1-31 1-25 1 58 1-36 1-7 1-2 1 11 1 21 1-29 1-39 1 50 1-26 1-41 1 19 1-15 1 66 1 35 1-56 1 23 1-64 1 18 1-22 1 30 1 7 1 49 1-36 1-11 1 4 1-30 1 64 1-13 1 0 1-21 1 76 1-27 1-51 1-26 1 38 1-10 1 8 1 37 1 4 1-72 1 37 1 4 1 12 1-30 1-18 1-18 1 23 1 5 1 56 1-95 1 73 1-10 1-68 1 87 1-39 1 14 1-18 1 60 1 9 1-26 1-57 1 56 1-62 1 37 1-21 1 23 1 2 1 6 1-16 1-4 1 0 1 2 1-25 1 27 1 8 1 9 1-26 1 8 1-2 1 24 1-1 1-43 1 29 1 2 1 16 1-49 1 21 1 25 1-33 1 51 1-18 1-10 1-6 1-9 1-28 1 28 1 4 1-14 1 4 1 43 1-1 1-55 1-3 1 38 1-7 1-25 1 32 1-55 1 47 1-15 1 40 1-40 1-8 1-19 1 4 1 14 1 54 1-13 1-16 1-5 1-8 1 8 1 12 1-10 1-1 1 8 1-52 1 9 1 52 1 9 1-18 1-1 1-50 1-1 1 10 1 50 1-34 1 46 1-35 1-47 1 53 1-18 1 5 1-5 1 18 1-12 1 0 1 23 1-34 1 40 1-21 1-37 1 19 1-17 1 34 1 3 1-30 1-14 1 37 1-18 1-23 1 28 1 30 1-3 1-55 1 29 1-79 1 97 1-11 1 28 1-43 1 12 1 28 1-46 1 58 1-46 1 8 1 7 1-5 1 5 1-9 1 18 1 0 1-39 1 47 1-56 1 33 1-47 1 11 1 14 1 4 1-9 1 17 1-41 1 68 1-17 1-71 1 69 1 10 1-27 1 45 1-33 1 67 1-34 1 9 1-44 1 44 1-25 1-15 1 39 1 35 1 16 1-40 1-34 1-38 1 90 1 7 1-48 1 18 1 34 1-37 1 7 1-10 1 13 1 37 1-42 1 21 1-23 1-16 1 12 1 21 1-3 1-6 1-24 1 35 1-46 1-10 1 9 1 20 1 11 1-37 1 49 1-49 1 17 1 21 1 3 1 26 1-62 1 20 1-4 1-19 1 27 1-31 1 65 1-64 1-4 1 82 1-72 1-5 1 7 1 10 1 5 1-22 1 40 1-19 1-14 1 13 1 28 1-3 1 23 1-79 1 26 1 99 1-70 1 36 1-28 1-21 1 19 1-3 1-2 1-30 1 41 1-2 1-21 1 10 1-28 1 39 1-2 1-50 1 35 1 7 1 7 1-9 1-5 1-44 1 60 1-8 1 28 1-32 1-20 1 0 1 43 1-67 1 77 1-27 1 19 1-51 1 68 1-52 1 7 1 39 1-24 1-4 1-42 1 8 1-14 1 35 1 4 1 1 1-7 1 9 1 2 1 14 1 56 1-52 1-27 1-11 1-1 1 1 1 1 1 23 1-34 1 25 1-89 1 57 1 59 1 5 1-14 1 9 1-27 1-3 1-16 1 42 1 18 1-63 1 1 1-30 1-8 1 71 1 28 1-74 1-5 1-20 1 4 1 5 1 12 1-4 1-22 1 60 1-53 1 85 1-42 1-4 1-14 1 17 1 18 1-25 1 14 1-8 1 17 1 9 1-43 1-6 1 36 1 32 1-48 1-11 1 79 1-56 1-9 1-13 1-27 1 51 1 27 1-38 1 5 1-13 1-23 1-2 1-5 1 40 1 12 1 39 1-29 1-51 1 17 1-2 1-9 1 27 1-60 1 25 1 6 1 26 1 5 1-62 1 26 1 45 1-47 1 34 1 30 1 11 1-24 1-20 1-16 1 8 1 25 1 19 1-38 1-28 1 19 1-13 1 21 1-37 1 12 1 35 1 60 1-94 1 34 1-35 1 44 1-35 1 69 1-62 1 21 1-23 1 38 1-39 1-2 1-23 1 10 1 15 1-1 1-39 1 45 1-4 1-9 1-1 1-11 1 33 1-16 1 9 1 33 1-52 1-9 1 9 1-7 1 23 1-5 1-52 1-6 1 55 1-65 1 38 1 19 1-34 1-17 1 52 1 21 1-26 1-34 1 21 1-19 1 42 1-32 1 35 1-53 1 43 1-10 1-32 1 37 1-35 1 12 1-5 1 1 1 11 1-5 1-17 1 33 1 37 1-19 1-9 1-46 1 54 1-52 1 9 1 29 1-25 1 0 1-14 1-1 1 26 1 26 1-2 1-34 1-1 1-29 1 20 1-20 1 42 1 14 1-9 1-46 1 55 1 8 1-14 1-11 1 39 1-32 1-4 1 60 1-109 1 21 1-5 1 40 1-1 1-2 1 2 1 17 1-52 1 46 1 27 1-74 1 20 1 28 1 14 1 9 1-11 1-45 1-59 1 96 1-31 1-3 1 20 1-28 1 52 1-61 1 14 1-1 1-4 1 41 1-9 1 34 1 11 1-23 1-12 1-28 1 3 1 0 1 18 1-59 1 40 1-42 1 51 1 2 1 28 1 0 1-41 1-25 1 4 1-26 1 97 1-26 1-60 1 48 1 9 1 17 1-65 1 55 1-65 1 29 1-29 1-17 1 48 1 32 1-39 1-4 1 15 1 0 1 16 1-43 1 36 1 11 1-1 1-1 1 9 1-38 1 44 1-41 1 15 1 22 1 0 1-1 1 1 1-18 1-12 1 26 1-6 1 2 1 37 1-54 1-20 1 27 1-7 1-41 1 66 1-24 1-12 1 20 1-11 1 2 1-54 1 43 1-21 1-17 1 29 1 13 1-50 1 18 1 50 1-28 1-3 1 19 1 5 1 5 1-62 1 38 1-16 1 11 1 34 1-40 1 33 1-21 1 10 1-100 1 82 1-14 1 4 1 56 1-85 1 45 1 0 1-64 1 46 1 53 1-55 1 48 1-14 1 6 1 19 1-40 1 24 1-43 1-1 1 53 1 17 1-72 1 22 1 41 1-81 1 42 1 11 1 4 1-20 1 3 1-32 1 25 1-12 1 33 1-27 1-7 1-6 1 14 1-50 1 21 1 41 1 27 1-9 1-43 1 52 1-32 1-17 1-7 1 79 1-53 1-8 1-8 1 25 1-18 1 48 1-26 1-17 1 16 1-14 1 3 1 11 1-4 1 2 1 70 1-54 1 5 1 1 1-51 1 74 1-44 1 15 1-21 1-12 1 7 1-27 1 44 1-8 1 7 1 8 1-31 1 53 1-33 1 15 1-43 1 48 1 4 1-58 1 26 1-80 1 29 1 70 1-14 1 24 1-17 1 31 1-29 1 16 1 16 1-26 1-16 1 26 1-12 1-22 1 28 1 2 1-1 1-16 1-60 1 100 1-1 1-37 1 28 1-57 1 122 1-84 1 4 1-17 1 12 1-20 1 57 1 39 1-41 1-2 1-51 1 32 1 26 1-33 1-24 1 61 1-22 1 15 1-53 1 36 1 8 1-19 1 12 1-23 1 5 1-29 1 38 1-4 1 12 1-49 1 22 1-46 1 28 1-3 1-4 1 33 1 0 1 20 1-51 1 24 1 36 1-34 1-5 1 4 1-42 1 17 1 18 1 7 1 6 1-41 1 44 1-24 1-43 1-7 1-18 1 47 1 8 1 23 1-45 1 51 1 2 1-10 1-15 1 27 1-53 1 39 1 10 1-15 1-22 1 25 1-2 1 4 1-3 1 4 1 5 1 54 1-80 1 55 1-14 1-25 1 7 1 21 1 4 1 37 1-52 1 11 1-21 1 32 1 10 1-19 1 9 1-12 1 22 1-73 1 72 1-17 1-15 1 24 1-29 1 57 1-22 1-14 1 12 1-94 1 108 1 47 1-73 1-12 1 8 1-38 1 58 1-33 1 32 1-14 1-40 1-27 1 73 1-17 1 9 1-29 1 17 1-11 1-43 1 87 1-5 1-22 1-21 1-7 1-23 1 24 1-40 1 3 1 44 1-21 1-7 1 10 1 23 1 33 1-64 1 37 1 70 1-98 1 12 1 37 1 1 1-58 1 23 1 13 1-46 1 39 1-10 1 6 1-13 1-17 1 65 1-37 1 27 1 23 1-7 1-31 1 7 1-20 1 12 1 3 1 47 1-60 1 38 1-46 1 45 1-12 1-48 1 68 1-47 1-6 1-34 1 41 1 10 1-4 1 55 1-42 1 21 1-13 1 9 1-60 1 61 1-52 1 46 1-24 1 17 1 2 1-19 1 21 1-9 1-10 1-8 1 71 1-44 1 18 1-9 1 5 1-29 1 26 1 14 1-41 1 40 1-34 1 14 1-42 1 26 1 13 1-1 1 6 1-38 1 18 1 80 1-19 1-53 1 1 1-9 1-7 1-2 1-16 1 28 1-19 1 22 1-33 1-40 1 65 1 6 1-3 1-3 1 87 1-102 1 40 1-26 1-38 1 50 1 39 1-13 1-51 1 44 1-6 1-12 1-18 1 52 1-20 1 11 1-24 1 17 1-72 1 41 1 10 1-4 1 31 1 17 1-24 1-17 1 22 1-32 1 43 1-21 1-16 1-6 1 30 1-23 1 16 1 6 1-7 1 10 1-40 1 44 1-42 1 46 1-25 1-6 1-9 1 9 1 31 1-27 1 5 1-33 1 5 1 51 1-40 1 18 1 11 1-31 1-44 1 92 1-15 1-26 1-20 1 29 1-5 1 17 1-44 1 26 1 4 1 36 1-37 1-14 1-2 1-10 1-46 1 71 1-43 1 35 1-16 1-13 1 8 1-10 1 54 1-83 1 72 1-22 1-34 1 39 1 52 1-77 1 48 1-33 1-25 1 39 1-25 1 61 1-2 1-28 1-6 1 31 1-76 1 42 1 6 1 17 1-31 1 0 1-4 1-5 1-17 1 6 1 29 1 16 1-6 1 22 1-3 1-30 1 27 1-5 1 14 1-18 1 10 1 19 1-28 1 14 1-35 1 6 1 38 1-14 1 21 1-12 1-55 1 33 1-12 1 7 1 18 1-59 1 45 1 12 1 2 1 7 1-28 1-3 1 2 1 10 1-56 1 54 1-3 1 0 1-7 1 60 1-26 1 8 1 25 1-59 1 16 1-27 1 14 1 10 1 48 1-24 1-11 1-37 1 34 1 30 1-47 1 39 1-71 1 48 1-48 1 55 1-37 1 16 1 3 1 23 1-54 1 4 1 20 1-20 1 18 1 3 1-36 1 2 1 68 1-59 1 11 1 8 1-57 1 16 1 36 1-16 1-19 1 19 1-5 1 43 1-26 1 20 1 50 1-108 1 30 1 22 1-16 1-24 1 32 1-7 1 42 1-91 1-18 1 15 1 27 1 13 1-14 1-18 1 47 1-58 1 105 1-68 1 63 1-67 1 51 1-72 1 57 1 19 1-2 1-37 1-13 1 35 1-3 1-82 1 62 1-38 1 22 1-13 1-32 1 10 1 44 1 13 1-10 1-3 1-17 1 5 1 36 1-35 1 9 1 25 1-48 1 40 1-35 1-22 1 16 1 19 1 30 1-43 1 32 1 47 1-57 1 12 1 0 1-13 1 37 1-12 1-4 1 5 1-6 1-30 1 17 1 0 1-22 1-1 1-28 1 36 1-22 1 34 1 13 1-21 1-5 1 22 1-44 1 44 1-34 1 56 1-26 1-52 1 44 1 0 1-33 1 12 1-29 1 32 1 15 1 19 1-15 1-30 1 35 1-38 1-23 1 17 1 12 1-12 1 5 1 50 1-35 1-12 1 25 1 11 1-2 1-17 1-55 1 7 1 50 1-24 1 32 1-85 1 141 1-97 1 16 1 46 1-36 1 1 1-8 1 8 1 32 1 34 1-75 1 86 1-37 1 47 1-13 1-68 1 3 1 7 1 19 1-4 1-2 1-47 1 32 1 64 1-15 1-39 1-21 1 0 1-7 1 54 1-44 1 11 1 6 1-16 1 14 1 25 1-28 1 44 1-3 1-22 1-49 1 99 1-10 1-41 1 12 1 4 1-18 1 27 1-32 1 16 1 2 1 12 1-6 1-14 1 12 1-66 1 45 1-27 1 29 1-7 1 81 1-69 1 8 1-42 1-6 1 2 1 34 1-38 1 7 1 19 1-19 1 70 1-78 1 36 1 31 1-59 1-18 1 48 1-35 1-8 1 34 1-11 1 12 1 15 1 2 1-45 1 5 1 42 1-7 1-2 1 12 1-15 1-29 1 19 1-16 1 65 1 8 1-69 1-46 1 42 1-10 1 41 1-8 1-4 1 25 1-39 1-12 1 65 1-34 1-29 1 40 1-23 1 28 1 9 1 1 1 29 1 1 1-23 1 18 1-88 1 69 1-19 1 27 1 22 1-33 1 21 1-78 1 66 1-28 1 16 1-12 1-39 1 44 1-34 1 5 1-15 1 6 1 6 1-15 1 31 1-16 1-24 1 31 1 0 1 39 1-25 1 11 1-23 1 4 1-20 1 13 1-8 1-1 1 27 1-38 1-37 1 59 1 18 1-21 1-3 1-3 1 16 1 22 1-50 1 26 1-5 1 13 1-31 1 31 1 4 1-13 1 0 1-2 1-37 1 41 1 23 1-24 1-8 1 20 1 22 1-53 1 19 1 64 1-26 1-45 1 50 1-36 1-37 1 16 1 53 1-45 1 20 1-10 1 16 1-4 1-29 1 0 1 4 1-32 1 29 1-8 1 79 1-82 1-19 1-7 1 45 1-21 1 33 1 4 1-30 1 7 1 17 1-39 1 84 1-38 1-38 1-7 1 34 1-44 1 46 1 9 1-15 1 32 1-1 1-34 1-71 1 26 1 40 1-6 1 26 1-50 1 25 1-23 1 34 1 28 1-49 1 57 1-49 1 38 1-9 1 24 1-60 1 35 1-12 1 6 1 46 1-6 1-32 1-9 1-5 1 40 1-55 1 10 1-27 1 50 1-33 1 16 1 21 1-86 1 73 1-37 1 11 1 20 1-38 1 57 1-29 1 8 1-2 1 8 1 30 1-37 1-24 1 23 1-9 1 5 1 35 1-44 1 68 1-8 1-33 1-19 1 31 1 71 1-82 1-6 1-28 1 79 1-28 1 11 1-34 1-17 1 39 1-7 1 22 1 5 1-5 1 10 1 4 1-50 1 6 1-1 1 63 1-10 1-71 1 58 1 26 1-82 1 40 1-28 1 29 1 12 1 28 1 1 1-61 1 4 1-2 1-17 1-15 1 23 1-6 1-4 1 5 1-26 1 35 1-4 1 8 1-11 1-5 1 49 1-40 1 23 1-28 1-41 1 29 1 15 1 20 1-10 1-21 1 83 1-66 1-10 1 9 1-31 1 13 1 16 1-29 1 31 1-47 1 55 1-45 1 29 1 0 1-6 1 13 1-83 1 26 1 54 1-15 1 10 1 13 1-28 1 28 1-31 1 29 1-8 1 16 1 12 1-12 1 17 1-4 1 27 1 46 1-123 1 20 1 29 1-72 1 34 1 7 1 39 1-51 1 44 1-46 1 61 1-37 1 2 1 16 1-17 1-46 1 34 1-1 1 0 1 23 1-7 1-19 1-35 1 57 1 10 1 12 1-34 1-8 1-15 1 43 1 8 1-37 1 9 1-47 1 7 1-30 1 79 1-13 1-1 1-4 1-16 1 13 1-8 1 38 1 13 1-24 1-48 1 35 1 7 1 23 1 28 1-24 1-20 1-12 1 19 1-16 1 42 1-26 1 33 1-37 1-46 1 47 1 15 1-23 1-5 1 13 1-33 1 43 1-32 1 49 1 21 1-57 1-6 1 31 1-25 1 11 1 13 1-41 1 60 1-32 1 17 1-33 1 20 1 25 1 14 1-123 1 95 1-1 1-15 1-1 1 46 1-13 1-7 1 21 1-74 1 15 1-23 1 86 1-43 1-33 1-19 1 7 1 64 1-35 1 106 1-108 1 10 1 4 1 3 1-22 1 7 1-17 1 7 1 8 1-68 1 61 1-13 1 46 1-30 1 10 1-40 1 47 1 19 1-18 1-1 1-14 1 9 1-23 1 49 1-70 1 27 1-32 1 45 1 15 1-72 1 102 1-26 1-8 1 29 1-88 1 67 1-28 1 14 1-27 1 28 1 5 1-11 1 16 1-30 1 36 1 2 1-12 1 13 1 41 1-24 1 3 1-50 1 41 1 33 1-32 1-5 1 18 1 6 1-50 1 32 1-71 1 23 1 57 1 4 1-52 1-4 1-17 1 90 1-71 1 42 1-31 1 12 1 33 1-74 1 42 1-9 1-4 1 6 1 37 1-68 1 30 1 24 1-51 1 23 1 30 1 14 1-38 1 1 1-30 1 19 1-37 1 72 1-25 1-37 1 30 1 51 1-11 1-22 1 10 1-15 1-34 1 69 1-53 1 43 1-1 1-28 1 28 1-41 1 16 1-8 1 14 1-59 1 79 1-66 1 96 1-72 1 1 1 13 1-3 1-23 1 13 1 40 1-27 1-29 1 92 1-87 1-17 1 25 1 5 1 2 1-4 1-27 1 3 1 27 1-31 1 43 1-57 1 45 1 13 1-32 1 5 1-10 1 45 1-68 1-7 1 47 1-25 1 34 1 52 1-31 1 23 1-18 1 2 1-50 1 31 1 7 1-29 1 75 1-91 1 16 1-23 1-6 1 63 1-59 1-14 1 69 1-25 1 16 1 25 1-34 1-13 1 26 1-22 1 6 1 0 1-28 1 13 1 10 1 30 1-52 1 35 1-33 1-7 1 46 1-28 1 10 1-4 1 17 1-33 1 26 1 10 1-28 1 14 1-13 1 26 1 15 1-24 1-1 1 12 1 4 1 5 1 11 1-18 1 44 1-26 1 12 1-19 1 14 1-36 1 33 1-30 1-43 1 109 1-63 1 61 1-54 1-9 1 12 1 34 1-34 1-15 1 49 1-45 1 42 1-23 1-13 1-37 1 68 1-39 1 3 1 40 1 24 1-31 1 15 1-22 1 16 1 7 1-21 1 15 1-9 1-30 1-8 1-27 1 33 1 28 1-17 1-10 1-9 1 5 1-12 1 32 1 40 1 15 1-28 1-32 1-8 1 63 1-46 1-9 1 3 1-25 1 38 1 17 1-39 1-16 1 13 1-5 1-65 1 86 1-56 1 46 1-15 1 14 1 50 1-58 1 51 1-26 1-33 1 3 1 22 1-29 1 11 1-38 1-3 1 73 1-56 1 22 1-3 1 5 1-10 1 3 1 24 1-29 1 11 1-4 1-22 1 8 1-3 1 21 1 2 1 13 1-33 1 23 1-61 1-20 1 100 1-20 1-17 1 20 1-26 1 7 1 31 1-57 1 20 1-33 1 109 1-142 1 55 1 44 1-7 1 17 1-20 1-15 1-4 1 27 1-51 1 13 1 39 1-32 1 25 1-10 1-21 1 21 1-23 1 39 1-15 1 57 1-25 1-30 1 10 1-13 1 23 1-67 1 77 1-48 1 6 1-8 1 40 1-26 1-2 1 21 1-8 1-4 1 5 1 15 1-54 1 19 1-21 1 26 1 26 1 18 1-33 1 25 1-49 1 25 1-17 1 2 1-19 1-7 1 54 1 0 1 8 1 19 1-21 1-20 1-15 1 18 1 5 1-17 1-42 1 117 1-45 1-8 1 46 1-42 1-39 1 58 1-15 1 5 1-24 1-18 1 6 1 15 1-43 1 14 1 32 1 26 1-15 1-46 1 29 1-32 1-12 1 45 1-9 1 16 1-70 1 42 1 27 1-28 1-29 1 75 1-64 1 5 1 51 1 23 1-26 1-38 1 16 1-10 1 35 1-22 1-45 1 16 1-57 1 110 1-99 1 75 1 11 1-53 1 45 1-5 1 18 1 1 1-22 1 21 1-24 1-68 1 73 1-33 1-8 1 38 1-38 1 2 1-12 1 17 1-6 1-16 1 9 1 68 1-29 1-28 1-7 1 116 1-39 1 25 1-67 1-20 1-22 1 71 1-39 1-2 1 34 1-30 1 10 1-17 1-30 1 33 1-47 1 27 1-14 1 67 1-70 1-6 1-1 1 20 1 13 1 30 1-34 1 10 1-31 1-8 1 9 1 57 1-68 1 0 1 54 1-14 1 0 1-4 1 2 1 15 1-15 1-8 1-14 1 17 1-25 1-2 1-37 1-12 1 81 1-34 1 51 1-31 1 25 1-48 1 33 1 26 1 35 1-51 1 2 1 0 1-42 1 6 1 32 1-10 1 13 1-13 1-3 1 30 1 19 1-61 1 57 1-22 1 41 1-8 1-30 1-30 1-3 1-23 1 30 1 0 1-18 1-14 1 29 1 1 1-38 1 43 1-21 1 18 1 8 1-40 1 25 1-31 1 34 1 0 1 17 1 2 1-12 1 3 1 43 1-29 1 1 1 1 1-26 1 4 1 16 1-48 1 14 1 21 1-6 1 16 1 3 1-61 1 37 1 13 1-48 1 40 1-4 1-30 1 32 1 20 1 8 1-3 1-22 1 0 1-22 1 26 1-13 1 21 1-18 1 35 1 73 1-128 1-12 1 42 1-2 1 44 1-63 1 23 1 12 1-34 1 59 1-5 1-10 1-20 1 1 1 39 1-26 1-3 1-17 1 11 1-50 1 77 1-27 1 8 1-29 1 67 1-36 1-13 1 6 1-40 1-3 1 34 1 12 1 9 1 35 1-68 1 45 1-3 1-9 1 14 1-62 1 19 1 52 1-72 1-8 1 11 1 32 1-21 1 25 1-41 1 22 1 16 1-1 1-17 1 15" fill="none" stroke="#e6161e" stroke-width="0.7" vector-effect="non-scaling-stroke" stroke-linejoin="round"/>
<path transform="translate(234.500 0) scale(0.05927 0.1)" d="M0 8548l1 54 1-4 1-30 1-23 1 33 1 15 1-11 1-38 1 44 1-36 1 42 1-11 1-36 1 16 1 4 1 9 1-4 1-2 1 54 1-43 1 37 1-9 1-53 1 19 1-12 1-54 1 89 1-58 1-2 1 9 1-13 1 26 1-12 1 81 1-70 1 7 1 12 1-18 1 7 1-59 1 71 1-28 1 37 1-30 1 41 1-8 1-36 1 23 1-15 1-43 1 41 1-19 1 46 1 18 1-58 1 1 1 29 1 0 1-22 1-33 1 11 1-53 1 23 1 5 1 30 1 28 1-20 1-61 1 46 1 13 1 13 1-5 1 26 1-1 1 16 1-45 1 21 1-67 1 66 1-38 1 43 1 16 1-2 1-22 1 8 1-29 1 52 1 10 1-17 1 30 1 19 1-29 1 38 1-80 1-31 1 14 1 33 1-18 1 12 1 13 1-2 1-27 1 2 1-39 1 35 1 10 1 17 1-40 1 2 1 26 1-32 1-12 1 3 1 41 1-12 1 19 1-25 1 9 1 35 1-5 1-13 1-28 1-7 1 46 1 19 1-7 1-17 1-4 1 72 1-95 1-4 1 57 1-80 1 65 1-1 1-16 1-24 1 47 1-83 1 67 1-29 1-3 1 21 1 23 1-26 1 23 1-43 1 5 1-29 1 7 1 18 1 18 1 2 1 0 1-21 1 1 1 29 1-19 1-8 1 26 1-32 1-31 1 85 1-28 1 15 1-31 1 18 1 16 1-29 1 44 1 5 1-21 1 27 1-48 1-9 1 8 1 30 1-20 1 24 1-9 1-9 1-50 1 63 1-22 1 5 1 14 1-6 1-1 1-2 1-30 1 37 1 0 1 22 1-47 1-84 1 78 1-7 1 21 1-28 1 43 1-10 1-13 1 19 1 64 1-75 1 4 1-38 1 65 1-103 1 43 1-15 1 10 1-11 1 14 1 54 1-29 1 61 1-56 1-24 1 2 1-5 1-23 1 78 1-74 1 85 1-93 1 16 1 0 1 6 1-25 1 33 1-28 1 33 1-2 1-8 1-7 1 37 1-54 1-8 1 31 1 16 1-6 1 44 1-18 1-81 1 25 1 69 1 7 1-61 1-37 1 31 1 15 1 36 1-26 1 13 1-13 1-12 1 61 1 8 1-44 1-17 1 51 1-6 1-1 1-98 1 61 1-5 1 33 1 15 1-24 1 61 1-58 1 16 1-5 1-98 1 43 1 22 1 6 1-36 1 19 1-38 1 88 1-50 1 22 1-21 1 28 1 4 1-12 1-41 1 11 1-3 1 2 1 16 1-15 1 17 1 9 1-3 1 39 1 6 1-49 1 62 1-78 1 54 1-75 1 5 1 25 1 29 1-4 1 10 1-32 1 10 1-24 1 49 1-30 1 5 1-30 1 8 1 22 1-57 1 43 1 28 1-65 1 41 1-4 1 17 1-42 1 59 1-9 1 12 1 20 1-67 1 41 1 22 1-54 1 1 1-27 1 83 1-18 1-27 1-12 1-13 1-5 1 2 1-66 1 73 1-57 1 59 1 27 1-25 1 0 1 19 1-17 1-22 1-23 1 45 1 0 1-3 1 6 1 20 1 33 1-80 1 73 1-16 1 18 1-45 1 15 1 4 1 15 1-8 1 18 1-33 1 53 1-38 1 17 1-48 1 44 1-26 1-48 1 28 1 9 1-19 1 70 1-26 1 16 1-22 1-13 1 43 1-62 1 8 1 47 1-80 1 73 1-46 1-3 1 49 1-7 1-31 1-13 1 51 1 2 1-19 1-25 1 11 1 7 1 33 1-18 1-39 1-7 1 74 1-55 1 6 1 33 1-41 1 9 1-9 1 13 1-25 1 40 1 29 1-79 1 20 1-9 1 25 1 22 1-3 1-12 1 19 1 2 1-21 1-2 1-6 1-46 1 95 1-44 1-28 1 28 1-20 1 50 1-72 1 45 1-3 1-20 1 29 1-20 1 76 1-79 1 12 1-3 1-3 1 8 1-16 1 3 1 4 1 18 1 20 1 14 1-58 1-11 1 56 1 19 1-9 1-20 1 6 1 35 1 45 1-28 1-35 1 4 1 12 1-50 1-71 1 82 1-29 1 29 1 2 1 24 1 17 1-10 1-85 1 75 1-17 1 37 1-10 1-29 1 15 1 27 1-34 1 39 1-17 1-27 1 10 1-7 1 27 1 2 1-48 1 28 1 13 1 33 1-15 1-25 1 22 1-51 1 31 1-14 1-28 1 53 1-31 1 0 1 2 1 7 1 35 1-9 1-33 1-7 1 24 1 15 1 3 1-29 1 80 1-10 1-106 1 56 1-17 1 7 1 0 1-4 1 1 1-32 1 20 1-38 1 62 1-13 1 10 1-22 1-13 1-4 1 8 1-53 1 52 1 0 1-42 1 15 1 12 1 0 1 11 1-67 1 74 1-26 1-3 1 57 1-3 1-45 1-2 1-17 1 52 1-50 1 44 1 2 1-16 1 32 1-27 1-63 1 29 1 66 1 6 1 7 1-5 1-17 1-40 1 57 1 6 1-17 1 26 1-17 1-43 1 45 1-19 1-7 1-3 1-3 1-3 1-10 1 23 1 30 1-68 1-16 1 109 1-46 1-29 1-12 1 71 1-56 1 14 1-22 1 30 1 2 1 19 1 98 1-90 1 6 1-14 1-34 1 34 1-9 1 6 1-8 1 27 1-44 1 26 1-4 1 15 1-45 1 57 1-35 1-6 1-61 1 56 1-4 1-2 1-38 1 62 1-6 1-19 1-28 1 65 1-27 1 11 1-42 1 25 1-28 1 33 1 17 1-34 1 18 1-3 1 13 1 23 1-5 1-64 1 33 1-54 1 86 1 3 1-49 1-12 1 29 1-2 1-29 1-61 1 56 1-36 1 27 1 44 1-44 1 13 1 31 1-15 1 4 1-2 1 20 1-17 1 30 1-61 1 18 1 83 1-42 1-61 1-33 1-2 1 65 1-10 1-31 1-43 1 65 1 41 1-33 1 17 1-16 1 6 1-37 1 21 1-46 1 37 1 44 1-47 1 52 1-33 1 41 1-12 1 42 1-33 1 1 1 1 1 3 1-31 1-7 1 10 1-20 1 4 1-15 1 34 1-15 1-16 1 61 1-17 1-11 1-13 1 7 1-40 1-34 1 68 1-12 1-31 1 4 1 26 1-21 1-22 1 52 1-16 1 14 1 74 1-103 1 70 1-83 1 42 1-20 1 12 1 13 1 24 1-27 1-6 1-3 1 27 1-59 1 6 1 3 1-5 1 41 1-35 1 7 1 5 1 7 1-8 1-12 1-5 1 54 1-32 1-13 1 10 1-24 1 52 1-1 1-33 1 10 1-27 1-22 1 31 1-39 1 24 1 19 1-37 1 26 1-25 1 0 1 37 1 20 1-51 1 39 1-31 1 59 1-67 1-3 1 61 1 9 1-21 1-3 1-30 1 34 1 13 1-13 1 7 1-12 1 25 1-2 1-36 1 30 1 14 1-23 1-17 1-8 1 48 1-30 1-56 1 84 1-37 1-47 1 67 1-23 1-18 1 15 1-14 1 22 1 43 1-46 1-13 1 28 1-43 1 56 1-49 1 9 1 4 1-20 1 49 1-18 1-19 1 5 1 1 1 36 1-40 1-1 1-3 1 27 1-20 1-27 1 33 1 29 1 35 1-19 1-56 1-28 1 11 1 11 1-35 1 33 1-20 1 24 1 49 1-49 1-3 1 8 1-2 1 37 1-28 1-7 1-5 1 42 1-61 1-1 1 5 1 36 1-47 1-23 1 55 1-16 1 26 1-85 1 105 1-79 1 91 1-41 1-48 1 40 1-15 1-16 1 53 1 7 1-12 1-3 1 2 1-3 1 59 1-47 1-20 1 4 1-3 1 35 1 3 1-20 1 48 1-38 1-35 1 0 1 31 1 4 1-38 1 1 1 28 1 4 1 31 1-31 1-5 1-7 1 21 1 23 1-5 1-57 1 25 1-27 1 24 1 45 1-31 1-12 1 5 1 31 1-36 1 33 1-52 1 25 1-12 1 15 1-23 1-6 1 66 1-10 1 8 1-21 1 3 1 6 1-16 1 3 1-1 1 38 1-32 1 3 1-33 1 72 1-56 1 37 1-15 1-10 1-26 1 62 1-18 1 27 1-75 1 0 1 29 1 16 1-9 1 14 1-26 1-30 1 34 1-3 1 25 1 19 1-42 1 15 1-4 1-7 1 29 1-64 1 63 1-36 1-12 1 46 1 39 1-67 1-18 1 35 1-28 1 37 1-41 1 77 1-21 1-66 1 67 1-26 1-1 1 15 1-34 1 71 1-19 1 5 1-65 1 39 1-29 1 44 1 37 1-59 1-4 1 34 1 1 1-52 1 59 1-58 1 59 1-63 1 59 1-33 1 5 1-35 1 62 1-105 1 46 1 23 1 3 1-45 1 49 1-1 1-44 1 44 1-72 1 18 1 40 1 52 1-50 1-28 1 33 1 0 1-38 1 61 1-43 1 2 1-4 1 20 1 10 1-26 1 1 1 19 1 8 1 7 1-46 1-8 1 0 1 12 1-7 1 43 1 8 1 34 1-68 1 15 1-30 1 54 1-66 1 47 1 9 1 45 1-111 1 39 1 6 1 8 1 21 1 12 1-53 1 16 1 7 1-11 1-3 1 4 1 65 1-80 1 87 1-92 1 28 1 25 1-36 1 14 1-17 1 38 1-30 1-6 1 23 1-51 1 5 1-25 1 74 1-26 1-48 1 38 1 42 1-71 1 8 1 22 1-7 1 20 1-27 1-4 1 9 1 20 1 29 1-32 1 25 1-2 1-39 1 43 1-32 1-3 1 16 1-4 1-12 1 36 1-5 1-6 1-2 1-20 1 58 1-50 1 19 1-3 1-26 1 57 1-44 1-1 1-16 1 14 1 5 1-31 1 61 1-37 1-15 1 61 1-42 1 21 1-27 1 10 1-2 1 30 1 20 1-31 1 57 1-13 1-31 1 19 1-33 1 6 1-9 1-35 1-5 1 28 1 47 1-14 1 12 1-42 1 4 1 24 1-24 1 0 1 17 1-42 1 5 1 36 1-14 1 12 1-8 1-35 1 35 1 30 1-17 1 24 1-58 1 22 1 13 1 7 1-7 1-36 1 22 1 18 1-67 1 13 1 26 1-65 1 46 1 2 1 41 1-39 1 18 1-18 1-17 1 23 1 3 1 13 1-37 1-5 1-12 1 36 1-15 1-60 1 50 1 25 1-6 1 3 1 19 1-25 1 16 1 5 1-68 1 85 1-40 1-16 1 12 1-51 1 73 1 35 1-43 1-43 1 27 1 4 1-4 1-20 1 15 1 65 1-63 1-3 1-3 1 23 1-29 1 65 1-59 1-5 1 77 1-44 1 31 1-41 1 36 1-13 1 6 1-24 1 12 1-33 1 34 1-48 1 27 1 8 1 32 1-30 1 7 1 63 1-65 1 27 1-51 1 26 1 24 1-32 1 10 1 60 1-28 1-2 1-8 1 12 1 1 1-12 1 1 1 4 1 3 1 8 1-31 1 32 1-36 1 29 1-10 1-48 1 32 1 3 1-7 1 17 1-6 1 75 1-106 1-1 1 16 1 41 1-76 1 57 1-16 1-19 1 2 1 8 1 4 1 12 1-16 1 1 1 14 1 33 1 6 1-80 1 1 1-4 1 82 1-12 1-22 1 1 1-4 1 17 1-14 1-18 1-18 1 15 1 72 1-55 1-46 1 47 1-22 1 43 1-32 1 13 1-6 1 22 1-1 1-17 1 14 1 27 1 10 1-45 1 15 1-40 1-1 1 26 1 4 1 12 1 17 1-57 1 36 1-24 1-53 1 49 1-46 1 36 1-34 1 20 1 0 1-18 1 19 1-18 1 50 1-20 1 3 1 31 1 19 1 2 1-2 1-24 1 41 1-51 1-22 1 29 1-7 1 3 1-28 1-5 1 8 1 81 1-48 1-19 1 43 1-50 1-10 1 24 1-24 1 23 1-59 1 48 1-42 1 47 1 5 1 57 1-68 1 27 1-37 1 61 1-26 1 16 1-10 1-44 1-12 1 82 1 38 1-133 1 41 1 30 1 40 1-49 1 14 1-64 1 77 1 11 1-19 1-33 1 29 1 8 1-25 1 11 1 39 1-33 1-27 1 38 1-41 1-23 1 33 1 26 1-11 1-37 1 23 1 25 1-19 1 3 1 10 1 9 1 2 1-9 1-41 1-6 1 12 1 9 1 7 1 24 1-5 1 16 1-49 1-25 1 10 1 39 1-53 1 38 1-28 1-10 1-4 1 27 1-13 1 6 1 41 1-40 1-34 1 17 1 14 1-29 1 62 1-46 1 55 1 31 1-19 1-17 1-43 1 36 1-5 1-2 1 43 1-74 1 33 1 6 1-3 1-46 1 24 1-12 1 11 1-16 1-1 1-27 1 16 1-10 1 85 1-76 1 3 1 13 1 6 1-15 1 68 1-37 1-18 1 3 1 22 1-17 1-3 1-11 1 0 1 33 1-52 1 28 1 26 1-62 1 82 1-61 1 30 1-19 1-14 1 30 1-2 1-13 1 68 1-135 1 110 1-66 1 57 1-1 1-40 1-6 1 9 1 5 1 34 1-7 1-16 1 15 1-20 1-40 1 28 1 26 1-4 1-3 1 26 1 9 1-49 1 37 1-58 1 31 1-48 1 56 1-18 1-18 1-7 1 6 1 18 1 9 1 4 1-10 1 36 1-59 1-1 1 31 1 10 1 6 1 9 1-69 1 44 1 12 1 38 1-22 1 1 1 1 1-31 1 34 1-10 1 47 1-7 1-41 1 0 1 28 1-22 1-30 1 0 1-60 1-5 1 48 1 11 1 14 1-13 1 28 1-70 1 24 1 5 1 25 1-26 1 14 1 29 1-54 1-3 1-25 1 51 1 31 1-25 1 2 1-4 1-9 1-13 1 35 1 28 1-14 1 22 1-71 1 18 1-51 1 72 1-67 1 10 1 10 1 16 1-6 1 39 1-17 1 3 1-34 1-11 1 18 1-16 1-67 1 115 1-4 1 35 1-73 1-55 1 90 1-12 1-6 1 10 1-6 1 35 1-75 1 18 1 12 1 34 1-31 1 50 1-36 1-22 1-21 1 39 1 19 1-28 1 0 1 6 1 2 1 0 1-25 1 22 1 64 1-49 1 48 1-39 1-26 1-37 1 1 1 58 1-6 1-24 1 16 1 6 1 32 1-52 1 77 1-71 1 47 1-79 1 113 1-39 1-27 1-16 1-32 1 35 1 56 1-11 1-19 1 18 1-29 1 33 1-35 1 48 1-36 1-23 1 11 1 7 1-47 1-15 1 63 1-4 1-21 1 10 1 13 1-17 1 40 1-7 1-5 1-32 1 13 1-5 1 4 1-4 1 46 1-38 1 35 1 37 1-68 1 24 1-58 1 52 1-3 1 1 1-7 1 11 1-5 1 28 1 40 1-27 1 3 1-8 1-87 1 28 1-30 1 26 1-26 1 19 1 9 1 42 1-1 1-34 1 30 1 5 1-52 1 37 1 4 1-1 1-27 1 20 1 0 1-39 1 8 1 76 1-64 1 10 1-14 1 49 1-75 1 27 1-5 1-12 1 56 1-26 1-54 1 34 1 22 1 7 1-6 1 31 1-53 1 10 1-11 1 18 1-9 1-18 1 25 1 54 1-49 1-21 1-33 1 64 1-71 1 49 1 35 1-63 1 25 1 73 1-83 1-11 1 30 1-4 1-15 1 34 1-4 1 5 1-35 1 24 1-3 1-68 1 45 1 51 1-42 1-47 1 60 1-3 1 1 1 1 1 2 1 13 1-31 1-10 1 34 1 0 1 2 1-22 1 6 1-39 1 57 1-5 1-39 1 11 1 50 1-28 1-20 1-23 1 65 1-36 1-4 1 27 1 5 1-15 1-29 1 4 1 14 1-2 1 13 1 62 1-66 1 31 1-26 1-3 1-22 1 12 1 12 1-9 1 15 1 33 1 35 1-9 1-57 1 31 1-6 1-5 1-40 1 43 1-43 1 25 1 15 1-28 1 38 1-91 1 99 1-119 1 62 1 24 1-46 1-15 1-1 1 9 1-6 1 35 1-22 1 36 1 10 1-43 1 27 1-44 1 125 1-109 1 21 1-15 1 27 1-62 1 40 1 6 1-2 1-3 1 10 1-24 1 46 1-14 1 11 1 18 1-47 1-5 1 25 1 28 1 6 1-8 1 28 1-21 1 8 1-30 1-71 1 117 1-88 1 72 1-65 1-14 1 43 1 16 1 2 1-4 1-5 1-13 1-40 1-6 1 24 1 40 1-34 1-10 1-38 1 41 1 0 1 12 1 18 1-11 1 1 1 3 1 43 1-58 1-9 1-6 1-49 1 101 1-11 1-51 1 62 1-30 1 63 1-43 1-18 1 8 1 8 1-42 1 37 1-1 1-33 1 58 1-3 1-12 1-51 1-10 1 53 1-10 1-7 1 2 1-13 1 14 1 22 1-5 1 31 1-47 1-16 1 13 1 24 1-23 1 63 1-65 1 11 1-22 1 16 1 11 1-20 1-28 1 20 1 6 1 24 1-37 1 45 1-21 1-27 1 42 1-46 1-22 1 66 1-12 1-30 1 64 1 9 1-41 1-12 1-2 1 21 1-41 1 15 1 25 1-44 1 19 1-24 1 71 1-60 1 35 1 2 1-27 1 13 1-71 1 106 1-87 1 33 1 14 1-42 1 62 1-26 1 22 1-22 1 5 1-32 1 62 1-11 1-20 1-24 1 15 1 28 1-27 1 13 1-15 1 25 1-5 1 9 1-37 1 12 1-54 1 52 1 10 1-30 1 15 1 19 1-25 1 56 1-84 1 6 1 29 1 6 1-45 1 63 1 46 1-32 1-31 1 36 1-34 1-27 1 18 1 35 1-24 1 16 1-29 1 48 1-21 1 22 1-68 1 25 1-7 1 10 1-37 1 28 1 44 1-36 1-9 1 16 1 42 1-12 1-22 1 11 1 1 1-28 1-10 1 30 1 7 1-42 1-40 1 87 1-30 1 21 1 0 1 22 1-5 1-27 1 19 1 3 1-32 1 5 1 9 1-36 1 23 1 8 1-36 1 2 1 55 1-24 1-53 1 18 1-27 1 81 1-52 1 6 1-42 1 14 1 37 1 49 1-69 1-12 1 32 1 15 1-26 1 1 1 22 1 10 1-36 1 10 1 19 1 44 1-99 1 11 1 53 1-39 1 7 1 58 1-58 1-16 1 65 1-63 1 57 1-38 1 61 1-69 1 29 1 46 1-32 1-28 1 6 1 22 1-38 1-39 1 38 1 18 1-13 1 2 1 46 1-26 1 41 1 17 1-37 1-13 1 23 1-28 1 16 1 11 1-83 1 15 1 1 1-5 1 45 1-44 1-3 1 47 1 2 1 1 1 35 1-39 1-45 1 19 1-37 1 32 1 44 1-26 1-20 1-44 1 29 1-24 1 63 1-11 1 11 1-17 1 8 1-19 1-4 1 24 1-39 1 18 1-11 1 27 1 48 1 52 1-119 1 74 1-48 1-18 1 8 1 49 1-15 1-32 1 63 1-58 1 6 1-2 1-7 1-14 1 46 1 46 1-99 1 84 1-9 1-55 1-4 1-17 1 27 1 48 1-26 1-33 1 31 1 1 1-42 1-21 1 78 1-46 1 35 1-28 1-8 1 28 1-15 1 32 1-18 1-35 1 70 1-72 1-24 1 39 1-15 1 24 1 39 1-49 1 1 1-21 1 25 1-2 1-19 1 34 1-16 1 0 1 35 1-63 1 20 1 39 1-20 1 3 1 24 1-37 1 2 1 59 1-55 1-26 1 63 1-33 1-2 1-5 1 36 1-35 1 29 1-40 1 28 1-52 1 79 1-10 1-19 1-6 1-11 1-31 1 49 1-55 1 35 1 27 1-74 1 46 1 28 1-53 1 16 1-8 1 3 1 18 1-3 1 4 1 28 1-41 1 3 1 20 1 3 1-39 1 20 1-4 1 29 1-44 1 10 1-3 1-9 1 10 1-16 1 6 1-30 1 39 1 15 1-50 1 32 1 20 1-24 1-4 1-4 1-4 1 11 1-22 1 56 1-34 1 30 1-11 1-4 1 35 1-31 1 23 1-35 1-46 1 52 1-1 1 8 1 33 1-25 1-3 1 29 1-10 1-12 1-13 1 10 1-11 1 18 1-20 1-7 1 44 1 22 1-32 1 26 1-20 1-26 1-2 1-10 1 31 1-13 1-30 1 23 1 6 1 9 1-3 1-17 1 1 1-24 1-24 1 25 1 49 1-46 1-3 1 25 1-13 1-51 1 35 1 32 1-55 1 31 1-8 1-7 1 23 1 7 1 2 1-24 1 12 1-27 1 59 1-20 1 31 1-30 1-54 1 31 1 60 1-48 1 7 1-33 1 9 1 17 1 12 1-49 1 27 1 20 1-8 1 22 1-6 1-22 1 10 1 15 1-3 1 3 1 29 1-59 1 41 1-3 1-56 1 41 1 14 1-22 1 36 1-65 1 80 1-6 1-70 1 31 1 3 1 18 1 2 1-12 1-50 1-11 1 10 1 18 1-52 1 46 1 1 1 44 1-57 1-30 1 57 1-21 1 6 1-28 1 30 1 36 1-14 1 1 1 18 1-20 1-52 1 59 1 9 1-16 1-14 1 44 1 4 1-7 1 0 1-12 1-12 1 8 1-29 1 27 1-3 1 3 1-40 1 0 1-25 1 39 1 64 1-21 1-54 1 34 1 27 1 10 1-30 1 57 1-33 1 13 1-38 1 13 1 18 1 21 1-26 1 9 1 3 1-2 1 17 1-6 1-22 1-12 1-11 1-21 1 15 1 0 1-3 1 34 1-3 1-26 1 61 1-25 1-41 1 43 1 25 1-44 1-62 1 84 1 2 1-26 1-17 1 15 1-43 1 40 1-8 1-41 1 61 1-23 1-8 1-14 1 12 1-27 1-1 1 78 1-53 1 38 1-6 1-20 1 0 1-35 1 16 1-22 1 33 1-6 1 26 1 27 1-11 1-19 1 3 1-19 1 8 1 14 1 1 1-15 1-26 1 26 1-45 1 44 1 13 1 13 1 5 1-5 1-8 1-64 1 45 1 14 1 14 1-25 1-31 1 20 1 18 1-6 1 10 1-5 1 3 1-12 1 5 1-4 1 12 1 1 1 2 1 4 1-7 1 15 1-9 1-18 1 86 1-57 1 12 1-35 1 47 1-23 1-33 1 30 1-5 1 26 1-38 1 29 1-12 1 7 1 18 1-44 1-26 1 54 1-2 1 31 1-15 1-12 1-1 1-9 1-7 1 14 1 5 1 6 1-73 1 60 1 3 1-26 1-47 1 7 1 26 1 59 1-37 1-38 1-11 1 51 1-23 1 34 1 4 1-35 1-2 1 35 1-43 1 3 1 100 1-85 1 51 1-49 1 48 1-3 1-9 1-14 1 15 1-28 1 13 1-3 1 4 1-14 1-8 1 37 1 25 1-16 1-27 1 15 1-43 1 18 1 11 1-9 1 1 1-51 1 11 1 10 1 68 1-83 1 29 1-30 1-25 1 112 1 5 1-37 1-38 1-26 1 61 1 0 1 25 1-17 1-3 1-42 1-2 1 38 1 22 1-21 1 12 1-5 1-3 1 8 1-4 1 7 1-3 1-58 1 9 1 11 1-2 1 20 1 44 1-78 1-13 1 34 1 13 1 18 1-35 1-75 1 45 1 27 1-21 1 8 1 25 1-40 1 64 1-33 1 8 1-24 1-9 1 17 1 67 1-89 1-3 1-9 1 42 1-17 1-13 1 68 1-76 1 24 1-6 1 6 1 42 1 8 1-41 1 28 1-22 1 40 1-44 1 14 1-1 1 34 1-30 1-14 1-9 1 5 1 18 1-32 1 37 1 25 1 5 1-14 1 30 1-43 1 12 1 15 1 19 1-57 1 16 1 14 1 1 1-30 1-5 1 50 1-23 1-16 1-26 1 22 1-9 1 31 1 25 1-65 1-4 1 22 1-64 1 74 1 18 1-19 1-47 1 60 1 4 1-61 1 72 1-19 1 19 1 17 1-36 1-4 1 49 1-40 1-61 1 57 1 10 1-52 1 20 1-13 1-18 1-13 1 37 1 8 1 39 1-59 1 46 1 10 1-35 1-5 1 20 1-13 1 13 1 7 1 0 1-87 1 73 1 56 1-32 1-59 1 87 1-29 1-39 1 11 1-27 1 13 1 2 1 7 1 29 1-49 1 44 1-29 1-11 1 17 1-4 1-29 1 23 1-7 1-35 1-14 1 72 1-32 1-3 1 79 1-54 1-85 1 55 1 31 1-33 1 73 1-13 1-16 1-55 1 30 1-11 1 6 1-33 1 50 1-34 1 25 1 21 1-35 1 19 1-52 1 5 1 25 1-4 1 11 1 25 1 11 1-37 1-7 1 27 1-20 1 34 1-11 1-18 1 13 1-56 1 48 1 20 1 28 1-37 1 14 1-39 1 41 1-22 1 15 1 3 1-4 1-9 1 41 1 14 1-50 1 36 1-13 1-55 1 58 1 14 1-60 1 31 1 9 1-47 1 6 1 25 1 4 1-22 1 5 1 11 1 11 1 29 1-17 1-88 1 10 1 57 1-1 1 55 1-39 1 43 1 9 1-43 1-21 1 23 1-15 1 39 1-103 1 88 1-40 1 47 1-8 1-28 1-1 1-4 1-33 1 5 1 40 1-42 1 67 1-50 1-41 1 116 1-141 1 87 1 12 1-65 1 31 1 63 1-64 1-6 1-58 1 59 1 25 1-13 1 32 1-20 1-4 1 18 1-63 1 74 1-133 1 62 1 49 1-24 1 14 1-42 1 23 1 25 1-2 1-37 1-17 1 41 1 7 1-25 1 34 1 16 1 9 1-55 1 37 1-41 1 20 1 46 1-15 1-4 1 37 1-45 1 32 1-69 1 9 1 15 1 10 1-21 1 53 1 1 1-28 1-22 1 20 1-29 1 36 1-65 1 76 1-14 1 1 1 18 1-18 1-104 1 112 1 25 1-3 1-62 1 53 1-39 1-10 1-14 1 19 1-43 1 0 1 21 1 10 1 14 1-21 1 11 1-13 1 26 1-18 1 40 1-29 1 13 1-3 1 17 1-2 1-13 1-48 1 51 1-20 1-5 1-9 1 55 1-30 1-11 1-7 1-1 1 61 1-7 1-90 1 76 1 11 1-106 1 62 1 7 1-21 1 4 1 40 1-8 1-41 1 73 1 24 1-104 1 62 1-25 1-25 1 18 1 25 1-36 1 27 1-3 1 6 1 5 1 8 1 24 1-46 1 24 1-19 1-59 1 49 1 23 1-38 1-17 1 33 1-15 1 25 1-16 1-12 1 24 1 4 1-24 1 15 1-47 1-15 1 16 1 34 1 28 1-54 1 34 1-14 1 6 1 8 1 10 1-39 1 41 1-36 1 11 1-46 1 54 1 21 1-51 1 20 1-22 1 41 1 6 1-63 1 68 1-36 1 11 1 23 1-23 1 22 1-27 1 0 1-9 1-29 1 90 1-37 1 18 1 34 1-54 1-32 1 19 1 36 1-34 1 46 1-34 1 48 1-56 1 38 1-19 1-31 1 38 1-13 1 0 1 24 1 29 1-2 1-70 1 23 1 27 1-8 1-6 1-17 1-7 1 29 1-15 1-9 1-21 1 63 1 10 1-22 1-44 1 44 1-32 1 25 1-26 1 12 1 59 1-36 1-23 1 18 1-12 1-14 1 2 1 6 1 18 1-15 1 5 1-19 1 27 1-42 1 10 1-29 1 53 1-37 1-10 1 46 1-24 1-31 1 36 1-6 1-20 1 10 1 2 1 19 1 10 1-47 1 39 1-16 1-21 1 8 1-43 1 12 1 39 1 33 1-21 1 27 1-28 1-54 1 17 1 31 1-9 1-4 1 2 1 9 1 26 1-84 1 37 1-4 1 46 1 43 1-42 1-43 1 35 1 9 1 18 1-10 1-17 1-30 1 8 1 51 1 31 1-59 1-37 1 27 1 0 1-14 1 34 1-33 1 31 1 34 1-40 1 10 1 22 1-25 1 21 1 5 1-57 1 34 1-7 1 8 1-25 1 49 1-31 1-31 1 87 1-76 1 25 1-60 1 51 1-21 1 7 1 22 1-38 1 24 1-5 1-2 1 39 1-50 1 15 1 17 1-8 1-2 1-11 1-22 1 36 1 30 1-3 1 21 1 5 1-48 1 35 1-17 1-79 1 28 1-24 1 52 1 20 1 8 1-6 1-40 1 21 1-16 1 23 1-14 1-27 1 14 1-26 1-13 1 46 1-26 1-25 1 25 1-19 1-43 1 70 1 26 1 20 1-33 1 33 1-24 1-3 1 31 1 16 1-84 1 24 1 28 1-14 1 38 1-51 1 25 1 57 1-60 1 7 1-34 1 29 1 8 1-17 1 21 1 25 1-56 1-2 1 25 1 24 1 30 1-37 1-55 1 45 1 33 1-39 1 3 1 48 1-27 1 24 1-39 1 16 1 4 1-3 1-43 1 35 1-68 1 31 1-1 1 17 1 15 1-41 1 2 1 19 1 40 1-40 1 12 1-32 1-2 1-70 1 89 1 4 1-40 1 14 1 14 1 5 1-30 1 37 1 17 1 30 1-11 1-87 1 51 1 3 1 10 1-25 1 36 1-62 1 47 1-15 1-11 1 57 1-66 1 30 1-8 1 24 1-20 1 26 1-22 1 38 1-65 1-11 1 23 1 7 1-5 1-32 1 8 1-20 1 56 1 1 1-32 1 2 1 25 1-69 1 92 1-40 1-10 1 15 1 11 1-44 1 49 1-65 1 17 1 35 1-9 1 37 1-67 1 1 1 10 1 47 1-33 1 39 1-57 1 12 1-21 1 39 1-35 1-4 1 40 1-8 1-12 1 30 1 9 1-37 1 21 1-31 1 29 1-4 1 47 1-19 1-38 1 25 1-2 1-4 1-3 1-18 1 65 1-26 1-17 1-22 1 17 1 11 1-12 1-10 1 61 1-71 1-2 1 28 1-12 1 15 1 46 1-24 1 25 1-20 1-52 1-2 1-12 1 7 1-18 1 27 1-17 1 23 1 30 1-20 1-37 1 30 1-54 1 44 1 4 1 4 1 25 1-29 1 20 1-33 1-13 1 122 1-153 1-19 1 83 1-22 1-8 1 51 1-35 1 12 1 6 1-24 1 28 1-38 1 31 1-19 1 8 1 15 1-49 1 33 1 8 1 17 1 4 1 10 1-22 1 2 1-21 1 10 1 23 1-34 1 8 1 0 1-40 1 49 1-39 1 33 1-35 1 51 1-68 1 31 1 76 1-61 1 10 1-56 1 39 1 0 1-15 1-20 1 16 1 22 1-18 1 46 1 25 1-82 1 0 1-3 1 6 1-12 1 8 1 2 1 50 1-88 1 65 1-39 1 7 1-48 1 61 1 3 1-10 1 56 1 4 1-21 1-37 1 23 1 2 1 12 1-38 1 3 1-1 1-24 1 78 1-22 1-7 1-7 1 13 1 0 1 42 1-46 1 8" fill="none" stroke="#68b428" stroke-width="0.7" vector-effect="non-scaling-stroke" stroke-linejoin="round"/>
<rect x="234.50" y="632.90" width="207.40" height="242.00" fill="none" stroke="#666" stroke-width="0.85"/>
<path d="M275.98 874.90v-6M275.98 632.90v6M317.46 874.90v-6M317.46 632.90v6M358.94 874.90v-6M358.94 632.90v6M400.42 874.90v-6M400.42 632.90v6M234.50 840.33h6M441.90 840.33h-6M234.50 805.76h6M441.90 805.76h-6M234.50 771.19h6M441.90 771.19h-6M234.50 736.61h6M441.90 736.61h-6M234.50 702.04h6M441.90 702.04h-6M234.50 667.47h6M441.90 667.47h-6" stroke="#444" stroke-width="1" fill="none"/>
<path d="M255.24 874.90v-3M255.24 632.90v3M296.72 874.90v-3M296.72 632.90v3M338.20 874.90v-3M338.20 632.90v3M379.68 874.90v-3M379.68 632.90v3M421.16 874.90v-3M421.16 632.90v3M234.50 857.61h3M441.90 857.61h-3M234.50 823.04h3M441.90 823.04h-3M234.50 788.47h3M441.90 788.47h-3M234.50 753.90h3M441.90 753.90h-3M234.50 719.33h3M441.90 719.33h-3M234.50 684.76h3M441.90 684.76h-3M234.50 650.19h3M441.90 650.19h-3" stroke="#666" stroke-width="0.8" fill="none"/>
<text x="230.20" y="878.00" font-size="9.1" text-anchor="end" fill="#1a1a1a">60</text>
<text x="230.20" y="843.43" font-size="9.1" text-anchor="end" fill="#1a1a1a">80</text>
<text x="230.20" y="808.86" font-size="9.1" text-anchor="end" fill="#1a1a1a">100</text>
<text x="230.20" y="774.29" font-size="9.1" text-anchor="end" fill="#1a1a1a">120</text>
<text x="230.20" y="739.71" font-size="9.1" text-anchor="end" fill="#1a1a1a">140</text>
<text x="230.20" y="705.14" font-size="9.1" text-anchor="end" fill="#1a1a1a">160</text>
<text x="230.20" y="670.57" font-size="9.1" text-anchor="end" fill="#1a1a1a">180</text>
<text x="230.20" y="636.00" font-size="9.1" text-anchor="end" fill="#1a1a1a">200</text>
<text x="234.50" y="886.50" font-size="10.0" text-anchor="middle" fill="#1a1a1a">0</text>
<text x="275.98" y="886.50" font-size="10.0" text-anchor="middle" fill="#1a1a1a">20000</text>
<text x="317.46" y="886.50" font-size="10.0" text-anchor="middle" fill="#1a1a1a">40000</text>
<text x="358.94" y="886.50" font-size="10.0" text-anchor="middle" fill="#1a1a1a">60000</text>
<text x="400.42" y="886.50" font-size="10.0" text-anchor="middle" fill="#1a1a1a">80000</text>
<text x="441.90" y="886.50" font-size="10.0" text-anchor="middle" fill="#1a1a1a">1e+005</text>
<text x="338.70" y="900.60" font-size="9.3" text-anchor="middle" fill="#1a1a1a">Time (ps)</text>
<text x="209.2" y="753.5" font-size="9.3" text-anchor="middle" transform="rotate(-90 209.2 753.5)" fill="#1a1a1a">Area (nm<tspan font-size="6" dy="-3.5">2</tspan><tspan dy="3.5">)</tspan></text>
<text x="338.70" y="608.00" font-size="14.1" text-anchor="middle" fill="#1a1a1a">Solvent Accessible Surface</text>
<text x="218.60" y="596.40" font-size="14" text-anchor="start" font-weight="bold" fill="#000">E</text>
<rect x="451.9" y="649.8" width="71.5" height="46.4" fill="#fff" stroke="#555" stroke-width="0.8"/>
<path d="M456 658.7H462.8" stroke="#0a0a0a" stroke-width="1" stroke-opacity="0.6"/>
<text x="469.10" y="661.90" font-size="9.5" text-anchor="start" fill="#1a1a1a">Total</text>
<path d="M456 673H462.8" stroke="#e6161e" stroke-width="1" stroke-opacity="0.5"/>
<text x="469.10" y="676.20" font-size="9.5" text-anchor="start" fill="#1a1a1a">Hydrophobic</text>
<path d="M456 687H462.8" stroke="#68b428" stroke-width="1" stroke-opacity="0.4"/>
<text x="469.10" y="690.20" font-size="9.5" text-anchor="start" fill="#1a1a1a">Hydrophilic</text>
</svg></body></html>
